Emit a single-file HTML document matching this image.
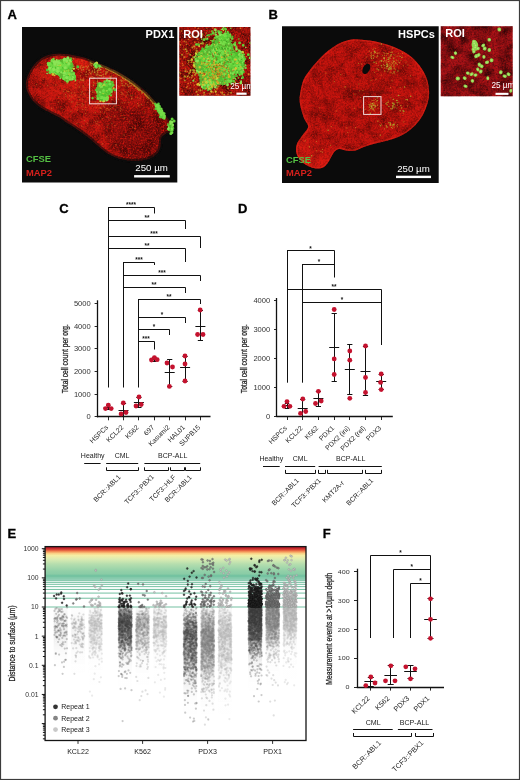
<!DOCTYPE html><html><head><meta charset="utf-8"><title>Figure</title><style>html,body{margin:0;padding:0;background:#fff}svg{display:block}text{font-family:"Liberation Sans",sans-serif}</style></head><body>
<svg width="520" height="780" viewBox="0 0 520 780">
<defs>
<filter id="nz" x="0" y="0" width="100%" height="100%" color-interpolation-filters="sRGB">
<feTurbulence type="fractalNoise" baseFrequency="0.55" numOctaves="2" seed="4"/>
<feColorMatrix type="matrix" values="0 0 0 0 0  0 0 0 0 0  0 0 0 0 0  1.8 0 0 0 -0.75"/>
<feGaussianBlur stdDeviation="0.35"/>
</filter>
<filter id="nz2" x="0" y="0" width="100%" height="100%" color-interpolation-filters="sRGB">
<feTurbulence type="fractalNoise" baseFrequency="0.09" numOctaves="2" seed="11"/>
<feColorMatrix type="matrix" values="0 0 0 0 0  0 0 0 0 0  0 0 0 0 0  0 2.6 0 0 -1.0"/>
</filter>
<filter id="nzr" x="0" y="0" width="100%" height="100%" color-interpolation-filters="sRGB">
<feTurbulence type="fractalNoise" baseFrequency="0.6" numOctaves="2" seed="9"/>
<feColorMatrix type="matrix" values="0 0 0 0 0.9  0 0 0 0 0.1  0 0 0 0 0.06  0 0 2.2 0 -0.95"/>
<feGaussianBlur stdDeviation="0.35"/>
</filter>
<filter id="rough" x="-20%" y="-20%" width="140%" height="140%">
<feTurbulence type="fractalNoise" baseFrequency="0.35" numOctaves="2" seed="2" result="t"/>
<feDisplacementMap in="SourceGraphic" in2="t" scale="3.2" xChannelSelector="R" yChannelSelector="G"/>
</filter>
<filter id="rough2" x="-20%" y="-20%" width="140%" height="140%">
<feTurbulence type="fractalNoise" baseFrequency="0.5" numOctaves="2" seed="5" result="t"/>
<feDisplacementMap in="SourceGraphic" in2="t" scale="5" xChannelSelector="R" yChannelSelector="G"/>
</filter>
<filter id="b0" x="-10%" y="-10%" width="120%" height="120%"><feGaussianBlur stdDeviation="0.3"/></filter>
<filter id="b1" x="-10%" y="-10%" width="120%" height="120%"><feGaussianBlur stdDeviation="0.6"/></filter>
<filter id="b2" x="-10%" y="-10%" width="120%" height="120%"><feGaussianBlur stdDeviation="2.5"/></filter>

<clipPath id="cA"><rect x="22" y="27" width="155.3" height="155.5"/></clipPath>
<clipPath id="cAr"><rect x="179.3" y="27" width="71.1" height="68.7"/></clipPath>
<clipPath id="cB"><rect x="282" y="26.3" width="156.7" height="156.8"/></clipPath>
<clipPath id="cBr"><rect x="440.8" y="26.3" width="71.9" height="69.9"/></clipPath>
<clipPath id="oA"><path d="M26.2,81.2C26.6,79.2 27.5,76.5 28.5,74.2C29.5,71.9 30.8,69.5 32.3,67.3C33.8,65.1 35.8,62.9 37.7,61.2C39.6,59.5 41.6,58.0 43.8,56.9C46.0,55.8 48.3,55.1 50.8,54.6C53.2,54.1 55.7,53.8 58.5,53.7C61.3,53.6 64.6,53.8 67.7,54.2C70.8,54.6 73.9,55.3 77.0,56.0C80.1,56.7 83.2,57.3 86.2,58.3C89.2,59.3 92.0,60.8 95.0,62.0C98.0,63.2 101.1,64.2 104.2,65.4C107.3,66.6 110.4,67.9 113.5,69.4C116.6,70.9 119.8,72.9 122.7,74.6C125.6,76.3 128.1,78.0 130.8,79.8C133.5,81.6 136.1,83.5 138.8,85.6C141.5,87.7 144.8,90.4 147.0,92.5C149.2,94.6 150.4,96.2 152.0,98.0C153.6,99.8 155.0,101.2 156.6,103.0C158.2,104.8 160.4,107.0 161.8,109.0C163.2,111.0 164.0,113.1 165.3,115.0C166.6,116.9 168.3,118.7 169.6,120.3C170.9,121.9 172.3,123.1 173.0,124.6C173.7,126.0 174.3,127.7 174.0,129.0C173.7,130.3 172.3,131.8 171.3,132.4C170.3,133.0 169.0,132.2 167.9,132.6C166.8,132.9 165.7,133.7 164.6,134.5C163.5,135.3 162.1,136.1 161.5,137.3C160.9,138.6 161.1,140.2 160.8,142.0C160.6,143.8 160.6,146.1 160.0,148.0C159.4,149.9 158.3,151.9 157.0,153.5C155.7,155.1 154.1,156.3 152.3,157.3C150.5,158.3 148.3,159.0 146.0,159.6C143.7,160.2 141.0,160.5 138.5,160.7C136.0,160.9 133.4,160.9 130.8,160.7C128.2,160.5 125.6,160.2 123.0,159.6C120.4,159.0 118.0,158.3 115.4,157.3C112.9,156.3 110.3,155.1 107.7,153.5C105.1,151.9 103.0,149.9 100.0,147.5C97.0,145.1 93.3,141.5 90.0,138.8C86.7,136.1 82.7,133.2 80.0,131.2C77.3,129.2 76.1,128.5 73.8,127.0C71.5,125.5 68.5,123.8 66.2,122.3C63.9,120.8 62.6,119.2 60.0,117.7C57.4,116.2 54.1,114.8 50.8,113.0C47.5,111.2 43.1,109.2 40.0,107.0C36.9,104.8 34.3,102.5 32.3,100.0C30.2,97.5 28.8,94.6 27.7,92.3C26.6,90.0 26.2,87.8 26.0,86.0C25.8,84.2 25.8,83.2 26.2,81.2Z"/></clipPath>
<clipPath id="oB"><path d="M300.8,90.0C301.5,86.5 302.3,82.5 303.8,79.2C305.3,75.9 307.7,73.1 310.0,70.0C312.3,66.9 315.1,63.6 317.7,60.8C320.3,58.0 322.6,55.4 325.4,53.0C328.2,50.6 331.5,48.1 334.6,46.2C337.7,44.3 340.5,42.7 343.8,41.5C347.1,40.3 350.4,39.4 354.6,39.2C358.9,39.1 364.8,40.0 369.3,40.6C373.8,41.2 377.5,41.9 381.6,43.0C385.7,44.1 390.1,45.5 394.0,47.0C397.9,48.5 401.4,50.3 404.7,52.3C408.0,54.3 411.2,56.5 414.0,59.2C416.8,61.9 419.4,65.2 421.6,68.5C423.8,71.8 425.8,75.6 427.0,79.2C428.2,82.8 428.7,87.0 429.0,90.0C429.3,93.0 429.1,94.5 428.8,97.0C428.5,99.5 428.1,101.9 427.0,105.0C425.9,108.1 424.3,112.5 422.4,115.8C420.5,119.1 418.2,122.2 415.5,125.0C412.8,127.8 409.5,130.5 406.2,132.7C402.9,134.9 399.1,136.6 395.5,138.0C391.9,139.4 388.6,140.2 384.7,141.2C380.8,142.2 376.0,143.2 372.4,144.2C368.8,145.2 366.2,146.2 363.2,147.3C360.2,148.4 357.0,150.3 354.2,150.8C351.4,151.3 349.0,150.7 346.5,150.4C344.0,150.1 341.2,148.7 339.2,148.9C337.2,149.1 336.0,150.1 334.6,151.5C333.2,152.9 332.1,155.4 331.0,157.3C329.9,159.2 329.0,161.3 327.7,163.0C326.4,164.7 324.9,166.6 323.0,167.5C321.1,168.4 318.3,168.7 316.0,168.5C313.7,168.3 311.3,167.6 309.0,166.5C306.7,165.4 303.9,163.8 302.0,162.0C300.1,160.2 298.5,158.1 297.5,156.0C296.5,153.9 296.0,151.5 296.0,149.2C296.0,146.9 296.6,144.6 297.7,142.3C298.8,140.0 300.8,137.5 302.3,135.4C303.9,133.3 306.1,131.2 307.0,129.6C307.9,127.9 308.5,127.3 308.0,125.5C307.5,123.7 305.3,121.2 304.2,118.5C303.1,115.8 302.0,112.3 301.2,109.2C300.4,106.1 299.7,103.2 299.6,100.0C299.5,96.8 300.1,93.5 300.8,90.0Z"/></clipPath>
<radialGradient id="gA" cx="80" cy="95" r="95" gradientUnits="userSpaceOnUse"><stop offset="0" stop-color="#d01a12"/><stop offset="0.55" stop-color="#bc1610"/><stop offset="1" stop-color="#8c100c"/></radialGradient>
<radialGradient id="gB" cx="362" cy="98" r="78" gradientUnits="userSpaceOnUse"><stop offset="0" stop-color="#b6120d"/><stop offset="0.8" stop-color="#c2140f"/><stop offset="1" stop-color="#dc1c13"/></radialGradient>
<linearGradient id="gE" x1="0" y1="546.5" x2="0" y2="580" gradientUnits="userSpaceOnUse"><stop offset="0.000" stop-color="#a81828"/><stop offset="0.045" stop-color="#c0202a"/><stop offset="0.104" stop-color="#e0523a"/><stop offset="0.158" stop-color="#f59a5c"/><stop offset="0.212" stop-color="#fad488"/><stop offset="0.269" stop-color="#f5efa5"/><stop offset="0.373" stop-color="#dcecb2"/><stop offset="0.522" stop-color="#b6deae"/><stop offset="0.731" stop-color="#92d0a8"/><stop offset="1.000" stop-color="#78c4a2"/></linearGradient>

</defs>
<rect width="520" height="780" fill="#fff"/>
<rect x="0.5" y="0.5" width="519" height="779" fill="none" stroke="#3c3c3c" stroke-width="1.2"/>
<text x="7.6" y="18.8" font-size="13" font-weight="bold" fill="#000" stroke="#000" stroke-width="0.3">A</text>
<text x="268.6" y="18.8" font-size="13" font-weight="bold" fill="#000" stroke="#000" stroke-width="0.3">B</text>
<text x="59.2" y="213.2" font-size="13" font-weight="bold" fill="#000" stroke="#000" stroke-width="0.3">C</text>
<text x="238.0" y="213.2" font-size="13" font-weight="bold" fill="#000" stroke="#000" stroke-width="0.3">D</text>
<text x="7.4" y="538.2" font-size="13" font-weight="bold" fill="#000" stroke="#000" stroke-width="0.3">E</text>
<text x="322.8" y="538.2" font-size="13" font-weight="bold" fill="#000" stroke="#000" stroke-width="0.3">F</text>
<g clip-path="url(#cA)">
<rect x="22" y="27" width="156" height="156" fill="#0b0b0b"/>
<path d="M26.2,81.2C26.6,79.2 27.5,76.5 28.5,74.2C29.5,71.9 30.8,69.5 32.3,67.3C33.8,65.1 35.8,62.9 37.7,61.2C39.6,59.5 41.6,58.0 43.8,56.9C46.0,55.8 48.3,55.1 50.8,54.6C53.2,54.1 55.7,53.8 58.5,53.7C61.3,53.6 64.6,53.8 67.7,54.2C70.8,54.6 73.9,55.3 77.0,56.0C80.1,56.7 83.2,57.3 86.2,58.3C89.2,59.3 92.0,60.8 95.0,62.0C98.0,63.2 101.1,64.2 104.2,65.4C107.3,66.6 110.4,67.9 113.5,69.4C116.6,70.9 119.8,72.9 122.7,74.6C125.6,76.3 128.1,78.0 130.8,79.8C133.5,81.6 136.1,83.5 138.8,85.6C141.5,87.7 144.8,90.4 147.0,92.5C149.2,94.6 150.4,96.2 152.0,98.0C153.6,99.8 155.0,101.2 156.6,103.0C158.2,104.8 160.4,107.0 161.8,109.0C163.2,111.0 164.0,113.1 165.3,115.0C166.6,116.9 168.3,118.7 169.6,120.3C170.9,121.9 172.3,123.1 173.0,124.6C173.7,126.0 174.3,127.7 174.0,129.0C173.7,130.3 172.3,131.8 171.3,132.4C170.3,133.0 169.0,132.2 167.9,132.6C166.8,132.9 165.7,133.7 164.6,134.5C163.5,135.3 162.1,136.1 161.5,137.3C160.9,138.6 161.1,140.2 160.8,142.0C160.6,143.8 160.6,146.1 160.0,148.0C159.4,149.9 158.3,151.9 157.0,153.5C155.7,155.1 154.1,156.3 152.3,157.3C150.5,158.3 148.3,159.0 146.0,159.6C143.7,160.2 141.0,160.5 138.5,160.7C136.0,160.9 133.4,160.9 130.8,160.7C128.2,160.5 125.6,160.2 123.0,159.6C120.4,159.0 118.0,158.3 115.4,157.3C112.9,156.3 110.3,155.1 107.7,153.5C105.1,151.9 103.0,149.9 100.0,147.5C97.0,145.1 93.3,141.5 90.0,138.8C86.7,136.1 82.7,133.2 80.0,131.2C77.3,129.2 76.1,128.5 73.8,127.0C71.5,125.5 68.5,123.8 66.2,122.3C63.9,120.8 62.6,119.2 60.0,117.7C57.4,116.2 54.1,114.8 50.8,113.0C47.5,111.2 43.1,109.2 40.0,107.0C36.9,104.8 34.3,102.5 32.3,100.0C30.2,97.5 28.8,94.6 27.7,92.3C26.6,90.0 26.2,87.8 26.0,86.0C25.8,84.2 25.8,83.2 26.2,81.2Z" fill="url(#gA)"/>
<g clip-path="url(#oA)">
<ellipse cx="135" cy="134" rx="34" ry="24" fill="#700d09" opacity="0.6" filter="url(#b2)" transform="rotate(35 135 132)"/>
<ellipse cx="60" cy="80" rx="30" ry="14" fill="#e02a18" opacity="0.35" filter="url(#b2)" transform="rotate(35 60 80)"/>
<ellipse cx="84" cy="63" rx="9" ry="4" fill="#f42a12" opacity="0.6" filter="url(#b1)" transform="rotate(14 84 63)"/>
<rect x="22" y="27" width="156" height="156" fill="#300" filter="url(#nz2)" opacity="0.4"/>
<rect x="22" y="27" width="156" height="156" fill="#000" filter="url(#nz)" opacity="0.42"/>
<rect x="22" y="27" width="156" height="156" filter="url(#nzr)" opacity="0.9"/>
<path d="M90,62 C104,66 118,72.5 131,82 C144,92 152,100 158,107" fill="none" stroke="#c4b02a" stroke-width="3" opacity="0.6" filter="url(#rough)"/>
<path d="M122.0,115.6h0M75.8,87.7h0M92.8,91.7h0M110.3,95.7h0M106.2,82.9h0M56.0,57.1h0M43.4,125.1h0M113.5,79.2h0M116.5,103.6h0M114.5,115.9h0M77.2,110.1h0M116.4,97.0h0M79.7,99.6h0M79.0,96.9h0M93.9,77.8h0M47.6,85.6h0M82.8,146.4h0M61.9,108.6h0M92.7,92.4h0M103.1,66.0h0M84.4,120.4h0M74.8,81.4h0M127.7,84.3h0M137.5,103.6h0M148.3,90.4h0M70.9,111.5h0M84.7,94.9h0M141.4,104.4h0M100.4,111.9h0M124.8,102.6h0M135.8,67.3h0M95.2,112.4h0M148.8,58.5h0M108.4,105.0h0M65.5,94.5h0M127.1,92.5h0M41.2,72.0h0M64.1,89.3h0M152.6,106.3h0M132.8,66.6h0M90.2,97.5h0M109.0,94.8h0M112.4,107.5h0M114.9,92.0h0M96.1,95.4h0M88.9,84.5h0M85.8,107.6h0M147.8,40.7h0M89.0,92.9h0M88.8,105.1h0M103.0,95.7h0M85.6,90.0h0M131.4,96.1h0M126.2,68.6h0M89.5,101.0h0M55.8,84.9h0M108.0,128.0h0M128.3,63.0h0M98.8,77.7h0M96.1,95.8h0M96.3,107.2h0M127.3,86.1h0M164.6,88.3h0M103.4,106.1h0M110.3,118.8h0M116.0,72.7h0M103.4,84.0h0M138.3,73.2h0M83.8,93.7h0M76.9,123.2h0M79.1,104.3h0M97.5,79.9h0M132.8,127.3h0M129.5,121.7h0M86.7,76.5h0M103.0,94.5h0M81.3,72.2h0M51.8,108.4h0M104.8,106.8h0M102.1,118.5h0M88.0,97.2h0M82.5,109.6h0M122.4,80.2h0M68.0,91.7h0M127.8,94.5h0M146.6,92.9h0M58.8,97.3h0M85.6,113.5h0M102.6,82.7h0M100.2,108.1h0M66.6,90.8h0M124.0,80.7h0M68.9,91.2h0M69.3,99.3h0M137.6,80.9h0M118.8,86.5h0M146.6,78.6h0M120.3,107.0h0M100.6,99.8h0M111.7,50.3h0M91.9,63.3h0M150.4,56.8h0M125.0,86.1h0M149.0,89.6h0M71.5,102.0h0M107.6,108.5h0M132.8,95.1h0M123.2,94.0h0M90.5,91.4h0M116.6,40.1h0M99.3,97.7h0M98.2,102.4h0M140.8,72.5h0M134.5,128.2h0M96.5,83.8h0M89.6,72.5h0M134.2,81.3h0M144.3,111.8h0M118.6,75.3h0M43.8,77.0h0M121.9,109.8h0M111.9,99.5h0M106.7,108.5h0M101.3,75.5h0M110.5,108.6h0M100.0,95.5h0M84.0,87.9h0M111.3,88.2h0M72.3,101.7h0M75.8,106.8h0" stroke="#d09a2c" stroke-width="1.10" stroke-linecap="round" fill="none" opacity="0.55"/><path d="M123.7,90.0h0M90.1,64.6h0M95.0,97.5h0M138.6,106.1h0M105.7,99.2h0M126.6,70.3h0M101.1,108.6h0M115.5,110.2h0M167.7,79.2h0M102.4,143.9h0M99.3,92.7h0M69.7,95.8h0M97.4,91.9h0M122.2,102.8h0M121.9,94.4h0M72.6,79.4h0M77.4,65.5h0M82.2,103.4h0M124.6,117.9h0M147.5,102.3h0M70.5,68.7h0M120.3,110.7h0M123.9,60.9h0M52.5,70.7h0M93.4,78.4h0M116.5,106.0h0M117.1,70.1h0M72.4,70.5h0M146.5,92.7h0M67.8,91.5h0M138.9,105.2h0M118.2,99.1h0M111.8,123.5h0M74.5,92.7h0M82.0,60.8h0M93.5,85.7h0M98.9,125.0h0M96.2,90.7h0M95.4,121.7h0M90.3,77.2h0M71.6,96.9h0M113.6,83.7h0M104.5,90.5h0M129.0,44.5h0M97.9,105.6h0M108.4,117.6h0M36.5,84.6h0M113.2,70.4h0M94.5,78.1h0M94.2,92.4h0M71.6,93.1h0M115.1,106.2h0M100.8,91.0h0M107.0,83.4h0M87.1,50.1h0M82.0,106.4h0M79.2,81.9h0M98.7,98.2h0M110.8,77.9h0M100.1,107.7h0M109.3,110.0h0M135.5,67.7h0M152.9,67.4h0M98.4,85.7h0M58.6,102.2h0M98.1,98.2h0M120.5,108.2h0M87.4,123.3h0M97.6,121.2h0M75.6,84.9h0M109.4,103.6h0M81.7,92.3h0M128.4,91.5h0M104.0,100.2h0M116.2,100.0h0M50.8,74.3h0M77.1,102.8h0M83.1,104.7h0M88.3,143.6h0M63.4,91.4h0M104.4,107.5h0M77.2,104.8h0M130.7,58.9h0M140.0,98.3h0M65.9,96.4h0M53.8,120.8h0M142.8,49.8h0M111.7,99.3h0M74.4,48.6h0M73.4,64.8h0M93.0,90.2h0M106.4,136.7h0M95.5,101.9h0M73.6,68.6h0M128.7,102.4h0M85.9,101.2h0M122.0,93.1h0M136.2,84.7h0M81.2,94.3h0M139.4,84.3h0M130.3,95.2h0M82.4,99.4h0M116.6,85.5h0M85.7,109.8h0M114.9,125.8h0M82.4,91.6h0M81.8,126.3h0M107.8,125.3h0M129.0,85.0h0M104.5,112.5h0M113.9,88.4h0M116.2,144.6h0M108.7,94.3h0M143.3,67.2h0M160.2,91.3h0M124.0,135.1h0M137.7,97.9h0M83.6,104.8h0M121.1,92.3h0M112.8,89.2h0M106.5,110.1h0M112.1,72.9h0M75.2,95.2h0M108.7,109.8h0M126.3,95.9h0M100.8,86.3h0M154.0,109.2h0M99.1,49.2h0M90.9,141.8h0M96.8,123.7h0" stroke="#c87828" stroke-width="1.60" stroke-linecap="round" fill="none" opacity="0.45"/>
<path d="M91.9,72.5h0M134.7,75.0h0M128.7,80.8h0M115.9,68.0h0M91.9,78.4h0M97.7,70.3h0M118.4,67.0h0M111.6,76.1h0M80.7,80.0h0M97.4,81.5h0M94.4,72.6h0M79.2,86.9h0M129.4,79.6h0M101.7,76.0h0M111.7,81.7h0M81.1,65.8h0M130.1,71.5h0M96.5,67.8h0M80.6,79.0h0M92.1,76.5h0M101.8,66.8h0M67.2,83.4h0M94.1,82.8h0M125.6,79.8h0M100.1,61.6h0M129.7,81.5h0M102.0,87.0h0M100.7,69.5h0M111.2,81.7h0M125.3,78.9h0M86.9,69.1h0M96.3,75.1h0M80.2,66.9h0M100.9,72.4h0M124.1,85.6h0M95.5,64.7h0M100.1,75.6h0M89.2,70.0h0M88.5,66.2h0M83.2,85.9h0M83.4,69.7h0M114.2,56.8h0M97.3,81.2h0M113.5,72.5h0M96.4,66.5h0M113.1,81.0h0M78.4,69.3h0M134.2,85.2h0M86.4,71.9h0M69.4,70.2h0M74.0,72.6h0M122.0,83.4h0M133.6,78.8h0M100.9,69.3h0M103.7,71.0h0M93.6,67.9h0M102.7,62.7h0M94.0,77.9h0M88.2,74.1h0M88.6,59.4h0M76.4,68.1h0M94.6,69.4h0M78.6,69.4h0M80.4,75.8h0M86.1,66.5h0M105.7,73.2h0M93.6,82.1h0M112.7,81.1h0M96.1,74.0h0M101.1,75.5h0" stroke="#c9c032" stroke-width="1.20" stroke-linecap="round" fill="none" opacity="0.60"/><path d="M105.8,74.2h0M90.2,61.7h0M103.2,74.4h0M97.2,71.0h0M139.5,79.7h0M131.8,98.6h0M113.4,68.4h0M97.5,58.5h0M82.0,80.1h0M98.4,69.1h0M128.8,86.5h0M122.4,85.3h0M90.8,73.5h0M104.4,83.9h0M125.8,77.4h0M131.1,85.7h0M104.5,91.0h0M73.9,66.0h0M106.1,71.6h0M94.3,67.5h0M110.0,76.9h0M113.0,81.5h0M141.2,83.9h0M73.6,58.8h0M87.5,67.5h0M97.6,72.7h0M106.9,83.5h0M125.8,83.7h0M120.9,80.1h0M99.4,75.5h0M80.5,68.0h0M83.9,67.2h0M98.9,70.3h0M103.8,76.8h0M122.4,73.0h0M106.4,72.6h0M83.5,79.0h0M107.0,68.2h0M94.5,71.0h0M85.9,74.5h0M92.3,71.1h0M97.2,70.8h0M82.7,67.5h0M122.9,76.0h0M91.0,73.8h0M123.9,69.1h0M101.2,63.8h0M91.4,65.4h0M97.7,74.7h0M83.5,80.6h0M130.7,70.9h0M81.9,69.9h0M110.7,79.2h0M128.2,78.9h0M129.3,80.5h0M91.1,57.6h0M108.5,92.8h0M93.5,85.1h0M113.8,70.3h0M97.5,82.6h0M128.0,74.1h0M110.7,77.4h0M89.1,70.3h0M121.7,81.3h0M100.3,69.6h0M94.9,72.3h0M107.6,71.9h0M134.7,83.8h0M99.6,61.9h0M142.1,85.7h0" stroke="#d0a030" stroke-width="1.70" stroke-linecap="round" fill="none" opacity="0.55"/>
</g>
<path d="M26.2,81.2C26.6,79.2 27.5,76.5 28.5,74.2C29.5,71.9 30.8,69.5 32.3,67.3C33.8,65.1 35.8,62.9 37.7,61.2C39.6,59.5 41.6,58.0 43.8,56.9C46.0,55.8 48.3,55.1 50.8,54.6C53.2,54.1 55.7,53.8 58.5,53.7C61.3,53.6 64.6,53.8 67.7,54.2C70.8,54.6 73.9,55.3 77.0,56.0C80.1,56.7 83.2,57.3 86.2,58.3C89.2,59.3 92.0,60.8 95.0,62.0C98.0,63.2 101.1,64.2 104.2,65.4C107.3,66.6 110.4,67.9 113.5,69.4C116.6,70.9 119.8,72.9 122.7,74.6C125.6,76.3 128.1,78.0 130.8,79.8C133.5,81.6 136.1,83.5 138.8,85.6C141.5,87.7 144.8,90.4 147.0,92.5C149.2,94.6 150.4,96.2 152.0,98.0C153.6,99.8 155.0,101.2 156.6,103.0C158.2,104.8 160.4,107.0 161.8,109.0C163.2,111.0 164.0,113.1 165.3,115.0C166.6,116.9 168.3,118.7 169.6,120.3C170.9,121.9 172.3,123.1 173.0,124.6C173.7,126.0 174.3,127.7 174.0,129.0C173.7,130.3 172.3,131.8 171.3,132.4C170.3,133.0 169.0,132.2 167.9,132.6C166.8,132.9 165.7,133.7 164.6,134.5C163.5,135.3 162.1,136.1 161.5,137.3C160.9,138.6 161.1,140.2 160.8,142.0C160.6,143.8 160.6,146.1 160.0,148.0C159.4,149.9 158.3,151.9 157.0,153.5C155.7,155.1 154.1,156.3 152.3,157.3C150.5,158.3 148.3,159.0 146.0,159.6C143.7,160.2 141.0,160.5 138.5,160.7C136.0,160.9 133.4,160.9 130.8,160.7C128.2,160.5 125.6,160.2 123.0,159.6C120.4,159.0 118.0,158.3 115.4,157.3C112.9,156.3 110.3,155.1 107.7,153.5C105.1,151.9 103.0,149.9 100.0,147.5C97.0,145.1 93.3,141.5 90.0,138.8C86.7,136.1 82.7,133.2 80.0,131.2C77.3,129.2 76.1,128.5 73.8,127.0C71.5,125.5 68.5,123.8 66.2,122.3C63.9,120.8 62.6,119.2 60.0,117.7C57.4,116.2 54.1,114.8 50.8,113.0C47.5,111.2 43.1,109.2 40.0,107.0C36.9,104.8 34.3,102.5 32.3,100.0C30.2,97.5 28.8,94.6 27.7,92.3C26.6,90.0 26.2,87.8 26.0,86.0C25.8,84.2 25.8,83.2 26.2,81.2Z" fill="none" stroke="#0b0b0b" stroke-width="4" opacity="0.6" filter="url(#b1)"/>
<g filter="url(#b0)">
<g filter="url(#rough)" opacity="0.9">
<path d="M48,67 C47,62 52,60 57,61 C61,58 68,58 71,61 C74,63 74,67 72,70 C76,73 77,77 74,80 C70,82 64,81 61,78 C58,77 57,75 56,73 C51,74 48,71 48,67Z" fill="#58c836"/>
<path d="M97,85 C99,81 103,82 105,84 C108,81 112,83 112,87 C114,91 111,95 108,96 C106,100 101,100 99,97 C96,95 95,89 97,85Z" fill="#58c836"/>
<path d="M155,102.5 C159,105 163,110 166,117 C166,119 164,120 162,118 C159,114 156,109 154.5,105 C154,103.5 154.5,102.5 155,102.5Z" fill="#5ccc3a"/><ellipse cx="170.6" cy="126.5" rx="2.6" ry="5" fill="#5ccc3a"/>
</g>
<path d="M52.4,60.0h0M70.4,61.1h0" stroke="#c8d23a" stroke-width="3.00" stroke-linecap="round" fill="none" opacity="1.00"/><path d="M68.6,76.0h0M56.0,66.8h0" stroke="#d8c030" stroke-width="2.30" stroke-linecap="round" fill="none" opacity="1.00"/><path d="M52.4,60.1h0M57.8,67.6h0M63.0,76.4h0M67.1,71.0h0M54.9,63.9h0M62.3,59.8h0M52.9,64.9h0M65.3,59.7h0M54.9,64.2h0M68.3,66.4h0M67.8,71.6h0M73.6,76.7h0" stroke="#4fc02f" stroke-width="2.30" stroke-linecap="round" fill="none" opacity="1.00"/><path d="M67.8,75.1h0M77.8,66.7h0M66.2,68.6h0M53.4,69.3h0M55.7,69.4h0M67.8,75.3h0M65.6,75.6h0M70.8,58.8h0M65.9,59.7h0M66.2,60.1h0M60.2,68.7h0M61.1,62.7h0M47.4,70.0h0M56.7,72.9h0M51.8,68.0h0M66.7,76.1h0M62.2,67.4h0M74.2,77.4h0M59.4,64.7h0M52.7,63.3h0M60.0,66.3h0M70.8,66.5h0" stroke="#4fc02f" stroke-width="3.00" stroke-linecap="round" fill="none" opacity="1.00"/><path d="M66.2,64.4h0M59.3,68.5h0M67.4,67.8h0M73.6,78.2h0M56.5,66.0h0M66.2,61.1h0M57.9,67.1h0M49.9,72.4h0M54.9,68.9h0M54.2,61.7h0M68.2,77.4h0M56.4,63.9h0M71.1,73.9h0M57.3,65.3h0M53.8,67.5h0M69.9,60.2h0M64.0,69.8h0M67.7,59.6h0M58.6,73.9h0M59.9,64.8h0M67.6,70.9h0M54.0,66.5h0M67.7,58.7h0M48.5,63.3h0M59.0,61.9h0M74.6,77.1h0M64.1,78.3h0M69.7,68.0h0" stroke="#60d038" stroke-width="3.00" stroke-linecap="round" fill="none" opacity="1.00"/><path d="M73.0,76.7h0M56.7,59.9h0M66.9,73.1h0M56.0,74.1h0M65.4,66.5h0M65.3,77.6h0M57.7,68.4h0M75.5,80.4h0M47.1,73.5h0M67.6,78.3h0M60.2,78.4h0M64.2,67.3h0M63.1,73.6h0M61.4,71.3h0M72.1,76.9h0M69.0,73.6h0M52.4,70.7h0M65.4,71.3h0M65.3,75.4h0M53.4,70.2h0M61.6,70.4h0M68.9,78.3h0M62.3,70.3h0M66.9,77.0h0M73.4,77.3h0M63.9,70.3h0M55.1,73.0h0" stroke="#8ae456" stroke-width="1.60" stroke-linecap="round" fill="none" opacity="1.00"/><path d="M69.9,73.6h0M64.9,72.9h0M63.6,67.6h0M67.4,59.3h0M59.0,64.2h0M59.5,66.6h0M68.7,59.5h0M75.4,79.4h0M66.3,70.5h0M65.9,77.4h0M50.3,66.5h0M70.5,77.8h0M67.0,65.5h0M52.7,73.4h0M65.8,71.9h0M69.7,59.7h0M52.2,70.2h0M52.0,66.2h0M55.7,70.0h0" stroke="#60d038" stroke-width="1.60" stroke-linecap="round" fill="none" opacity="1.00"/><path d="M55.6,65.1h0M56.2,66.3h0M60.7,67.0h0M53.9,62.5h0M54.7,75.5h0M60.1,64.3h0M66.8,62.1h0M59.6,70.4h0" stroke="#d8c030" stroke-width="1.60" stroke-linecap="round" fill="none" opacity="1.00"/><path d="M67.8,70.8h0M54.8,69.1h0M54.6,61.9h0M53.0,74.3h0" stroke="#d8c030" stroke-width="3.00" stroke-linecap="round" fill="none" opacity="1.00"/><path d="M63.7,63.8h0M63.2,65.7h0M67.3,68.3h0M66.0,59.2h0M62.4,65.8h0M66.4,68.5h0M67.7,70.8h0M58.3,67.6h0M68.6,60.2h0M66.8,76.3h0M67.6,73.7h0M54.3,67.6h0M60.4,62.8h0M69.1,73.2h0M47.9,63.5h0M71.2,74.7h0M61.5,72.1h0M55.2,69.1h0M49.9,63.5h0M64.4,67.4h0M50.3,66.5h0" stroke="#74dc46" stroke-width="2.30" stroke-linecap="round" fill="none" opacity="1.00"/><path d="M53.2,63.5h0M59.0,65.6h0" stroke="#c8d23a" stroke-width="1.60" stroke-linecap="round" fill="none" opacity="1.00"/><path d="M61.7,64.1h0M59.6,67.6h0M67.7,72.3h0M50.0,67.2h0M61.3,68.7h0M64.6,61.8h0M69.0,66.0h0M50.3,64.4h0M50.2,65.6h0M65.7,59.1h0M74.9,76.2h0M61.0,70.4h0M68.7,59.8h0M62.3,72.0h0M70.5,77.2h0M63.4,70.2h0M53.7,59.0h0M54.7,66.0h0M70.7,78.5h0M61.9,69.5h0M70.4,64.3h0M55.5,67.0h0" stroke="#60d038" stroke-width="2.30" stroke-linecap="round" fill="none" opacity="1.00"/><path d="M72.3,79.2h0M63.9,75.7h0M56.6,69.8h0M53.3,64.8h0M48.4,65.0h0M52.6,63.9h0M64.3,61.6h0M69.8,79.2h0M70.0,60.4h0M66.5,60.5h0M58.9,70.9h0M57.9,62.0h0M56.6,60.5h0M53.7,68.1h0M55.9,69.7h0M71.9,70.9h0M63.6,64.0h0M50.5,70.0h0M71.1,60.8h0M51.9,67.4h0M57.5,65.1h0M52.6,65.9h0M52.5,64.6h0M66.0,74.7h0M61.3,72.3h0" stroke="#8ae456" stroke-width="2.30" stroke-linecap="round" fill="none" opacity="1.00"/><path d="M55.8,67.0h0M51.8,60.7h0M69.8,77.6h0M67.6,78.1h0M65.3,65.3h0M60.5,67.2h0M52.1,71.7h0M67.4,81.3h0M54.5,72.1h0M58.9,70.1h0M58.7,61.0h0M57.4,71.9h0M49.6,69.1h0M68.2,65.1h0M49.0,64.5h0M58.5,68.4h0M73.6,73.9h0M63.6,78.5h0M52.5,70.4h0M67.6,72.9h0M64.4,61.7h0M62.4,64.4h0M53.8,66.2h0M50.7,70.3h0M54.6,67.7h0M66.4,66.1h0M55.9,71.0h0M50.0,63.8h0" stroke="#74dc46" stroke-width="3.00" stroke-linecap="round" fill="none" opacity="1.00"/><path d="M73.9,68.8h0M69.5,74.3h0M60.3,64.8h0M55.3,63.4h0M64.2,71.7h0" stroke="#c8d23a" stroke-width="2.30" stroke-linecap="round" fill="none" opacity="1.00"/><path d="M52.9,67.6h0M64.6,58.5h0M71.8,60.5h0M57.6,70.3h0M54.4,72.4h0M55.5,67.5h0M68.3,76.0h0M52.3,63.9h0M63.0,71.5h0M56.0,72.4h0M50.7,67.1h0M54.4,60.9h0M67.1,69.2h0M68.7,68.4h0M53.1,64.3h0M55.5,67.9h0M63.0,63.5h0M52.6,65.8h0M54.1,68.4h0M62.8,63.4h0M59.8,64.4h0M66.1,75.6h0M66.8,77.0h0M67.6,61.1h0" stroke="#4fc02f" stroke-width="1.60" stroke-linecap="round" fill="none" opacity="1.00"/><path d="M64.8,60.0h0M54.3,72.5h0M59.0,63.3h0M54.0,66.9h0M72.2,68.3h0M61.8,63.4h0M66.1,77.0h0M65.9,75.3h0M70.1,74.6h0M58.7,64.2h0M65.7,74.5h0M48.0,65.1h0M48.7,69.2h0M53.4,69.8h0M69.1,63.3h0M55.3,61.5h0M60.7,68.2h0M67.3,77.1h0M54.1,67.6h0M68.1,59.7h0M69.9,73.1h0M66.3,65.7h0M68.1,72.8h0M53.3,65.0h0M52.9,65.4h0M51.1,64.9h0M65.1,59.7h0M63.7,66.1h0M68.7,76.7h0M53.5,59.1h0" stroke="#74dc46" stroke-width="1.60" stroke-linecap="round" fill="none" opacity="1.00"/><path d="M64.5,73.0h0M49.9,68.0h0M58.1,62.5h0M64.2,59.7h0M59.4,63.3h0M57.9,68.2h0M66.6,77.4h0M66.9,61.0h0M54.1,61.7h0M53.6,69.4h0M68.8,63.4h0M56.7,62.0h0M54.9,64.2h0M65.3,67.8h0M57.5,71.2h0M53.6,68.9h0M67.9,57.7h0M64.5,59.0h0M54.6,61.8h0" stroke="#8ae456" stroke-width="3.00" stroke-linecap="round" fill="none" opacity="1.00"/>
<path d="M110.2,88.6h0M99.7,85.5h0M106.8,91.1h0M103.5,99.0h0" stroke="#c8d23a" stroke-width="2.30" stroke-linecap="round" fill="none" opacity="1.00"/><path d="M104.0,96.4h0M109.4,87.1h0M107.9,85.5h0M101.2,100.0h0M102.6,98.5h0M99.3,99.5h0M110.6,90.9h0M102.9,96.1h0M103.3,93.8h0M107.0,90.2h0M107.2,85.3h0M110.8,91.9h0" stroke="#74dc46" stroke-width="1.60" stroke-linecap="round" fill="none" opacity="1.00"/><path d="M107.2,94.4h0M107.6,89.0h0" stroke="#c8d23a" stroke-width="1.60" stroke-linecap="round" fill="none" opacity="1.00"/><path d="M103.7,91.8h0M108.5,93.9h0M108.2,97.3h0M108.0,84.9h0M100.8,87.2h0M110.6,85.3h0M107.1,97.1h0M107.5,91.9h0M107.8,92.0h0M103.7,98.3h0M108.2,89.7h0M103.9,87.4h0" stroke="#74dc46" stroke-width="2.30" stroke-linecap="round" fill="none" opacity="1.00"/><path d="M109.1,86.1h0M105.9,98.2h0M102.4,86.7h0M108.1,90.3h0" stroke="#8ae456" stroke-width="2.30" stroke-linecap="round" fill="none" opacity="1.00"/><path d="M105.7,86.6h0M109.5,81.3h0M100.8,97.9h0M110.4,85.9h0M104.4,84.8h0M108.9,89.3h0M107.1,99.4h0M107.1,80.4h0M100.8,95.2h0" stroke="#8ae456" stroke-width="3.00" stroke-linecap="round" fill="none" opacity="1.00"/><path d="M103.8,97.3h0M104.2,92.6h0M103.1,91.1h0M103.7,98.2h0M111.1,88.7h0M92.6,98.2h0M99.8,95.8h0M103.9,94.3h0M107.4,81.7h0M103.2,100.6h0M111.0,95.4h0" stroke="#60d038" stroke-width="2.30" stroke-linecap="round" fill="none" opacity="1.00"/><path d="M104.7,101.3h0M100.6,92.2h0M99.8,92.1h0M106.5,100.8h0M99.1,82.7h0M104.7,86.1h0M102.7,99.5h0M112.0,91.9h0M105.4,94.8h0M97.0,91.9h0M102.7,95.1h0" stroke="#8ae456" stroke-width="1.60" stroke-linecap="round" fill="none" opacity="1.00"/><path d="M110.1,93.0h0M103.9,85.2h0M102.8,93.9h0M104.1,94.2h0M104.7,96.1h0M105.5,98.6h0M106.8,93.3h0M104.7,94.5h0M102.2,100.5h0M102.0,91.2h0M102.3,96.7h0M106.4,92.4h0M111.0,88.6h0M109.0,90.1h0M104.7,95.0h0M104.6,95.3h0M103.0,90.4h0" stroke="#4fc02f" stroke-width="1.60" stroke-linecap="round" fill="none" opacity="1.00"/><path d="M104.5,100.3h0" stroke="#d8c030" stroke-width="1.60" stroke-linecap="round" fill="none" opacity="1.00"/><path d="M100.4,101.2h0M113.7,88.4h0M107.6,98.0h0M110.4,87.1h0" stroke="#d8c030" stroke-width="2.30" stroke-linecap="round" fill="none" opacity="1.00"/><path d="M107.0,84.6h0M109.6,86.5h0M103.0,91.4h0M104.7,81.7h0M110.3,84.7h0M113.1,84.9h0M104.3,99.0h0M106.0,86.5h0M111.9,86.0h0M111.4,90.1h0M102.9,94.7h0M113.0,85.1h0M105.3,94.4h0M109.5,89.1h0M110.1,89.7h0M104.0,90.6h0M101.3,94.2h0" stroke="#60d038" stroke-width="3.00" stroke-linecap="round" fill="none" opacity="1.00"/><path d="M103.9,85.7h0M103.3,94.4h0M103.6,100.9h0" stroke="#c8d23a" stroke-width="3.00" stroke-linecap="round" fill="none" opacity="1.00"/><path d="M102.9,95.5h0M108.0,93.9h0M109.0,85.8h0M99.9,99.6h0M109.7,87.8h0M103.6,91.1h0M110.6,87.1h0M104.1,90.0h0M102.1,99.8h0" stroke="#4fc02f" stroke-width="2.30" stroke-linecap="round" fill="none" opacity="1.00"/><path d="M109.5,87.0h0M108.5,83.3h0M111.7,83.1h0M108.9,91.6h0M104.8,95.0h0M108.3,88.8h0M114.9,89.7h0M109.2,91.0h0M97.8,96.2h0M104.1,86.9h0M106.1,88.2h0M111.7,82.2h0M102.0,95.6h0M110.7,85.2h0" stroke="#4fc02f" stroke-width="3.00" stroke-linecap="round" fill="none" opacity="1.00"/><path d="M112.9,82.5h0M97.2,96.0h0M108.5,89.0h0M102.0,96.9h0M100.6,97.5h0M108.1,84.3h0M108.5,89.5h0M103.0,92.7h0M98.3,85.6h0M105.4,99.1h0" stroke="#60d038" stroke-width="1.60" stroke-linecap="round" fill="none" opacity="1.00"/><path d="M104.2,98.0h0M107.4,98.4h0M97.8,98.6h0M100.5,84.3h0M104.2,99.2h0M101.9,97.3h0M105.1,98.7h0M109.6,89.2h0M103.5,90.5h0M110.0,84.1h0" stroke="#74dc46" stroke-width="3.00" stroke-linecap="round" fill="none" opacity="1.00"/>
<path d="M158.6,105.5h0M159.4,109.5h0M158.8,107.7h0M161.7,116.9h0M156.1,105.7h0M157.5,106.3h0M158.7,105.9h0M159.4,106.9h0M161.6,111.4h0M161.3,113.9h0M159.0,110.0h0M158.5,103.9h0M162.7,113.3h0M163.6,117.0h0M161.4,112.0h0M159.3,107.6h0M158.2,108.0h0M161.9,111.7h0M164.3,113.5h0M156.9,107.7h0M160.2,117.0h0M161.6,114.6h0M159.2,107.1h0M159.1,107.2h0M158.6,111.2h0M156.2,105.3h0M164.2,115.3h0M157.1,108.3h0M162.4,114.4h0M158.0,105.9h0M156.1,106.1h0M163.9,116.3h0M156.7,106.1h0M160.8,108.8h0M163.8,115.5h0M163.3,116.9h0M163.5,116.5h0M158.0,111.1h0M161.8,116.5h0M163.4,114.0h0M161.0,111.7h0M159.7,112.0h0M163.9,116.0h0M158.2,104.6h0M157.6,106.1h0M157.4,108.6h0M163.2,114.1h0M159.6,112.9h0M163.7,115.0h0M161.2,111.8h0M159.7,106.3h0M155.7,108.7h0M155.7,108.7h0M163.4,118.0h0M158.2,107.6h0" stroke="#58c836" stroke-width="2.60" stroke-linecap="round" fill="none" opacity="1.00"/><path d="M157.6,106.9h0M159.1,108.1h0M159.2,110.0h0M162.2,111.6h0M158.8,108.0h0M157.6,106.8h0M162.1,114.2h0M163.9,114.9h0M160.2,111.6h0M164.4,118.8h0M158.7,110.5h0M162.3,110.5h0M161.0,112.3h0M160.4,110.6h0M157.7,105.4h0M162.5,113.6h0M157.7,104.8h0M158.6,106.4h0M164.4,117.9h0M159.9,112.3h0M160.1,111.1h0M157.4,106.0h0M160.9,111.8h0M162.3,113.8h0M161.1,113.2h0M161.3,112.0h0M160.4,114.7h0M158.8,105.6h0M156.6,105.4h0M162.5,111.9h0M159.6,108.4h0M161.2,112.4h0M162.1,113.1h0M158.2,108.8h0M160.5,111.2h0M162.1,114.8h0M160.7,111.4h0M163.5,117.1h0M161.4,113.8h0M158.5,105.4h0M163.8,113.3h0M158.1,110.1h0M156.5,104.9h0M156.2,105.1h0M164.4,115.8h0M158.9,108.0h0M159.3,112.6h0M160.6,110.9h0M156.1,106.2h0M158.0,107.1h0M157.2,108.9h0M161.4,115.4h0M164.9,115.9h0M155.8,106.3h0M161.6,108.8h0" stroke="#74dc46" stroke-width="1.90" stroke-linecap="round" fill="none" opacity="1.00"/>
<path d="M170.8,123.0h0M171.9,125.8h0M171.9,132.6h0M171.9,123.9h0M171.8,125.9h0M171.7,127.9h0M172.1,128.2h0M170.8,133.4h0M171.2,124.3h0" stroke="#74dc46" stroke-width="3.00" stroke-linecap="round" fill="none" opacity="1.00"/><path d="M170.5,124.8h0M172.4,130.6h0M171.1,124.3h0M169.8,124.4h0M170.5,124.3h0M167.9,129.2h0" stroke="#60d038" stroke-width="2.30" stroke-linecap="round" fill="none" opacity="1.00"/><path d="M170.9,124.7h0M168.4,128.2h0M169.0,125.7h0M171.1,127.9h0M170.9,126.1h0M170.5,130.8h0M170.9,128.8h0M169.1,127.1h0" stroke="#60d038" stroke-width="1.60" stroke-linecap="round" fill="none" opacity="1.00"/><path d="M171.9,124.7h0M170.1,122.4h0M171.1,124.6h0" stroke="#8ae456" stroke-width="1.60" stroke-linecap="round" fill="none" opacity="1.00"/><path d="M171.0,128.6h0M171.8,130.3h0M171.4,127.7h0M170.9,124.1h0M172.8,128.3h0" stroke="#4fc02f" stroke-width="3.00" stroke-linecap="round" fill="none" opacity="1.00"/><path d="M172.1,119.0h0M170.5,121.8h0M169.6,125.2h0M174.1,121.1h0M171.8,127.2h0M170.3,125.8h0" stroke="#60d038" stroke-width="3.00" stroke-linecap="round" fill="none" opacity="1.00"/><path d="M171.1,122.1h0M168.9,129.3h0M169.6,128.2h0" stroke="#74dc46" stroke-width="1.60" stroke-linecap="round" fill="none" opacity="1.00"/><path d="M171.0,128.9h0M168.8,128.5h0M171.6,129.2h0M169.4,127.6h0" stroke="#8ae456" stroke-width="3.00" stroke-linecap="round" fill="none" opacity="1.00"/><path d="M171.1,127.4h0M170.6,124.6h0M170.1,127.2h0" stroke="#74dc46" stroke-width="2.30" stroke-linecap="round" fill="none" opacity="1.00"/><path d="M170.5,129.4h0M171.5,123.7h0M170.0,126.0h0" stroke="#4fc02f" stroke-width="2.30" stroke-linecap="round" fill="none" opacity="1.00"/><path d="M171.2,129.0h0M170.4,127.4h0M172.0,124.8h0M171.8,128.6h0" stroke="#4fc02f" stroke-width="1.60" stroke-linecap="round" fill="none" opacity="1.00"/><path d="M170.8,123.7h0M172.4,122.1h0M171.8,128.9h0M170.7,121.7h0M172.8,125.5h0M172.9,124.9h0" stroke="#8ae456" stroke-width="2.30" stroke-linecap="round" fill="none" opacity="1.00"/>
<path d="M96.7,67.3h0" stroke="#d8c030" stroke-width="2.30" stroke-linecap="round" fill="none" opacity="1.00"/><path d="M99.4,68.0h0" stroke="#8ae456" stroke-width="1.60" stroke-linecap="round" fill="none" opacity="1.00"/><path d="M96.6,63.1h0" stroke="#c8d23a" stroke-width="3.00" stroke-linecap="round" fill="none" opacity="1.00"/><path d="M95.4,64.0h0M96.2,64.6h0M94.7,65.1h0" stroke="#8ae456" stroke-width="3.00" stroke-linecap="round" fill="none" opacity="1.00"/><path d="M97.6,65.7h0" stroke="#4fc02f" stroke-width="2.30" stroke-linecap="round" fill="none" opacity="1.00"/><path d="M96.6,64.7h0" stroke="#d8c030" stroke-width="1.60" stroke-linecap="round" fill="none" opacity="1.00"/><path d="M98.7,65.8h0" stroke="#60d038" stroke-width="3.00" stroke-linecap="round" fill="none" opacity="1.00"/><path d="M96.1,67.0h0M97.4,65.9h0M95.4,65.8h0" stroke="#4fc02f" stroke-width="3.00" stroke-linecap="round" fill="none" opacity="1.00"/><path d="M100.2,66.4h0M96.2,67.2h0" stroke="#74dc46" stroke-width="2.30" stroke-linecap="round" fill="none" opacity="1.00"/><path d="M95.7,66.0h0" stroke="#8ae456" stroke-width="2.30" stroke-linecap="round" fill="none" opacity="1.00"/><path d="M96.7,64.6h0" stroke="#74dc46" stroke-width="1.60" stroke-linecap="round" fill="none" opacity="1.00"/>
</g>
<rect x="89.6" y="78.2" width="26.8" height="25.6" fill="none" stroke="#f4dcdc" stroke-width="1"/>
<text x="174.3" y="38.4" font-size="11" font-weight="bold" fill="#fff" text-anchor="end">PDX1</text>
<text x="26" y="162" font-size="9.4" font-weight="bold" fill="#55c043">CFSE</text>
<text x="26" y="175.6" font-size="9.4" font-weight="bold" fill="#d6201c">MAP2</text>
<text x="151.6" y="171.4" font-size="9.7" fill="#fff" text-anchor="middle">250 µm</text>
<rect x="134.1" y="175.1" width="35.7" height="2.4" fill="#fff"/>
</g>
<g clip-path="url(#cAr)">
<rect x="179" y="27" width="72" height="70" fill="#a8160e"/>
<rect x="179" y="27" width="72" height="70" fill="#300" filter="url(#nz2)" opacity="0.6"/>
<rect x="179" y="27" width="72" height="70" fill="#000" filter="url(#nz)" opacity="0.55"/>
<rect x="179" y="27" width="72" height="70" filter="url(#nzr)"/>
<path d="M208.7,67.3h0M210.3,56.7h0M207.1,60.2h0M213.3,42.9h0M188.6,39.4h0M208.7,52.8h0M211.3,58.1h0M204.8,81.3h0M228.1,123.3h0M208.0,65.7h0M177.0,29.0h0M189.4,77.3h0M215.8,73.3h0M185.9,68.9h0M202.1,90.2h0M190.8,104.2h0M215.7,52.6h0M197.1,62.5h0M215.3,63.1h0M214.3,77.0h0M219.2,61.6h0M194.1,89.0h0M204.6,48.7h0M217.9,60.1h0M208.8,19.5h0M171.0,71.6h0M223.0,58.3h0M206.4,78.0h0M197.5,35.6h0M194.6,72.6h0M182.5,63.2h0M203.5,75.6h0M210.4,73.7h0M197.5,52.3h0M212.7,74.5h0M197.1,43.5h0M198.7,42.1h0M165.6,39.6h0M204.6,79.6h0M183.3,49.2h0M196.7,48.5h0M221.6,70.5h0M179.6,83.2h0M188.3,64.1h0M206.3,66.7h0M187.5,76.8h0M193.7,79.8h0M214.8,56.6h0M207.2,75.8h0M205.1,56.1h0M197.3,62.3h0M180.3,73.6h0M203.7,77.0h0M232.7,67.5h0M206.9,28.5h0M188.6,75.8h0M246.3,56.4h0M213.3,64.9h0M211.3,60.0h0M206.5,32.9h0M223.6,81.9h0M205.8,44.6h0M210.0,84.8h0M216.2,80.9h0M189.0,53.8h0M200.8,33.2h0M205.9,50.1h0M219.2,73.2h0M208.1,85.0h0M205.7,81.0h0M204.0,88.4h0M199.6,58.2h0M191.8,62.3h0M203.2,95.4h0M217.1,70.9h0M208.3,69.5h0M206.9,80.6h0M187.4,86.3h0M228.9,92.6h0M198.2,68.3h0M208.7,59.5h0M184.0,77.3h0M219.2,119.2h0M209.1,31.7h0M206.3,52.0h0M213.5,61.0h0M209.9,48.1h0M210.9,84.3h0M214.8,84.5h0M205.8,109.4h0M202.5,76.0h0M211.3,73.7h0M207.1,60.0h0M180.1,45.2h0M172.5,49.1h0M226.5,56.0h0M191.2,62.4h0M202.0,55.7h0M163.5,44.0h0M199.0,57.2h0M185.9,77.5h0M201.1,75.7h0M190.2,72.5h0M195.0,27.1h0M191.8,61.4h0M213.6,69.1h0M193.6,36.6h0M199.1,44.7h0M190.0,88.4h0M217.8,63.8h0M202.5,85.1h0M190.8,60.5h0M185.3,76.5h0M211.1,53.4h0M194.5,85.1h0M202.3,53.2h0M212.7,106.2h0M211.7,79.4h0M214.1,61.7h0M214.4,89.6h0M200.0,71.7h0M203.1,71.5h0M216.9,73.0h0M206.6,42.7h0M200.7,89.7h0M244.1,61.7h0M212.6,98.1h0M212.3,77.6h0M224.7,72.9h0M187.0,53.5h0M220.9,84.2h0M203.9,88.5h0M208.3,59.1h0M175.8,62.1h0M193.0,69.6h0M234.1,64.1h0M204.7,83.8h0M194.7,48.8h0M204.2,94.3h0M191.7,60.7h0M199.5,44.1h0M194.9,46.9h0M211.6,90.1h0M211.0,62.8h0M226.4,61.5h0M229.6,50.6h0M217.8,43.7h0M210.4,58.8h0M189.9,77.8h0M195.3,81.7h0" stroke="#d8b428" stroke-width="1.10" stroke-linecap="round" fill="none" opacity="0.75"/><path d="M216.9,80.4h0M198.6,90.2h0M182.3,91.2h0M192.6,60.2h0M186.6,44.5h0M176.1,109.0h0M216.6,88.8h0M204.6,69.6h0M203.2,67.7h0M208.6,89.3h0M202.5,78.3h0M219.0,104.3h0M215.7,73.0h0M196.9,84.3h0M178.9,55.8h0M210.9,71.1h0M209.2,44.1h0M205.6,36.9h0M198.7,89.9h0M202.3,56.3h0M200.0,78.7h0M210.8,19.8h0M192.1,36.9h0M222.2,93.9h0M195.0,62.3h0M208.3,62.8h0M185.1,49.3h0M218.2,95.0h0M231.4,38.7h0M195.6,56.2h0M210.1,46.5h0M208.0,81.8h0M197.1,59.6h0M205.5,63.7h0M223.7,75.7h0M195.9,96.9h0M213.0,115.0h0M220.5,61.4h0M213.7,71.9h0M222.5,56.7h0M179.6,41.5h0M189.9,60.8h0M218.9,24.4h0M198.5,115.1h0M211.0,78.7h0M215.5,78.1h0M190.4,70.4h0M186.0,42.0h0M199.3,46.4h0M172.1,67.0h0M216.2,94.3h0M217.9,114.7h0M222.3,56.5h0M175.9,47.4h0M198.9,74.3h0M180.6,44.8h0M213.0,28.0h0M205.0,55.5h0M175.5,49.5h0M213.1,92.2h0M217.7,62.1h0M214.2,38.7h0M207.7,56.5h0M212.8,55.4h0M192.7,72.5h0M198.3,28.3h0M195.1,59.2h0M196.6,66.8h0M213.5,50.3h0M199.1,58.6h0M227.0,18.8h0M175.5,39.5h0M199.2,73.7h0M211.1,64.6h0M202.6,102.6h0M220.0,75.6h0M206.1,78.8h0M208.5,52.5h0M234.3,66.1h0M204.3,107.0h0M203.8,26.1h0M203.0,44.1h0M212.9,68.1h0M197.6,84.3h0M193.3,63.0h0M184.3,41.3h0M194.8,42.2h0M203.5,50.0h0M224.5,45.3h0M212.3,70.2h0M240.5,28.4h0M218.7,86.6h0M201.3,67.1h0M194.8,66.9h0M214.8,28.9h0M181.5,31.0h0M202.2,66.9h0M186.5,87.6h0M203.6,73.4h0M206.7,68.8h0M209.0,36.7h0M219.8,81.6h0M195.6,99.1h0M197.6,39.4h0M201.1,23.6h0M187.2,71.2h0M228.0,94.3h0M208.0,87.8h0M190.7,82.7h0M212.4,43.1h0M200.5,111.3h0M188.2,83.5h0M196.2,58.6h0M199.2,103.8h0M208.7,66.9h0M190.2,35.8h0M180.9,78.5h0M207.4,46.6h0M213.6,32.8h0M204.8,57.8h0M183.0,65.3h0M185.0,57.1h0M193.9,117.1h0M192.6,57.1h0M167.7,44.8h0M196.4,51.8h0M214.3,79.7h0M208.9,103.3h0M197.9,51.1h0M218.3,69.0h0M184.0,57.1h0M217.0,79.4h0M194.7,78.8h0M199.9,82.6h0M217.4,53.6h0M194.5,57.4h0M170.0,76.5h0M205.4,55.8h0M220.7,92.3h0M202.0,97.2h0M191.1,23.2h0M212.3,91.8h0M205.8,53.9h0M188.6,62.3h0M216.5,60.8h0M209.9,93.9h0M214.4,63.6h0M191.6,77.8h0M213.6,84.5h0M199.4,64.1h0" stroke="#e09a28" stroke-width="1.60" stroke-linecap="round" fill="none" opacity="0.70"/><path d="M200.7,58.7h0M209.2,82.7h0M215.1,52.1h0M170.7,31.8h0M210.1,89.0h0M228.1,88.3h0M175.2,71.4h0M214.0,85.9h0M217.2,17.0h0M211.3,72.7h0M212.4,61.6h0M184.6,76.3h0M231.1,92.8h0M204.1,92.8h0M184.8,80.4h0M193.8,70.4h0M199.8,63.7h0M204.7,39.4h0M178.1,44.5h0M211.5,82.1h0M190.5,70.3h0M236.9,96.8h0M196.5,50.5h0M207.0,81.5h0M218.8,72.9h0M213.4,69.6h0M213.2,60.6h0M187.6,76.4h0M185.3,71.3h0M199.7,54.5h0M202.1,35.9h0M205.4,79.3h0M207.8,82.7h0M198.7,66.7h0M204.9,59.6h0M206.2,68.1h0M202.3,42.3h0M203.9,76.8h0M192.2,75.7h0M198.9,69.5h0M206.9,66.3h0M194.0,71.9h0M229.5,72.4h0M213.3,48.0h0M198.5,72.5h0M188.8,112.3h0M173.2,93.2h0M196.5,64.4h0M194.1,46.3h0M199.9,65.9h0M179.5,72.5h0M196.6,91.7h0M185.9,49.1h0M173.5,72.8h0M196.6,67.8h0M199.3,62.0h0M205.5,103.2h0M222.0,42.7h0M176.7,83.5h0M196.1,60.6h0M193.0,106.7h0M197.9,94.7h0M197.5,35.9h0M204.1,109.9h0M201.2,98.4h0M202.4,34.2h0M205.4,38.6h0M211.8,31.2h0M175.9,81.5h0M211.7,83.9h0M214.2,62.1h0M178.4,59.8h0M222.2,92.5h0M213.8,40.0h0M200.5,72.8h0M218.9,55.4h0M222.8,38.9h0M203.1,42.9h0M224.2,94.7h0M192.4,106.4h0M212.2,57.9h0M209.2,85.5h0M216.7,13.8h0M209.2,75.3h0M196.9,73.0h0M179.0,77.6h0M210.9,91.2h0M215.5,91.2h0M209.6,56.4h0M215.4,66.7h0M221.5,51.5h0M188.3,60.6h0M195.8,73.3h0M204.5,65.0h0M197.1,72.0h0M234.7,81.6h0M213.5,79.5h0M190.2,54.8h0M190.3,71.4h0M206.7,60.8h0M201.2,75.6h0M194.5,70.4h0M206.4,49.7h0M209.0,71.4h0M189.1,73.3h0M195.0,74.9h0M192.4,47.5h0M231.8,67.6h0M215.5,61.9h0M182.0,54.7h0M196.6,73.3h0M211.6,78.8h0M196.3,105.3h0M186.7,51.3h0M208.0,79.6h0M224.9,69.1h0M200.3,90.5h0M223.3,37.4h0M248.7,74.3h0M196.2,37.3h0" stroke="#c8c030" stroke-width="1.90" stroke-linecap="round" fill="none" opacity="0.70"/>
<g filter="url(#b0)">
<g filter="url(#rough2)" opacity="0.85">
<path d="M198,54 C202,48 209,46 214,42 C217,35 226,33 230,38 C234,42 232,47 235,51 C242,53 247,60 244,67 C243,72 238,75 234,79 C230,84 222,86 217,84 C213,90 205,92 202,88 C198,84 201,78 198,73 C194,68 194,59 198,54Z" fill="#58c836"/>
</g>
<path d="M224.6,56.2h0M220.2,42.5h0M227.8,56.2h0M232.7,57.7h0M241.5,55.9h0M233.1,69.5h0M223.3,56.6h0" stroke="#c8d23a" stroke-width="2.80" stroke-linecap="round" fill="none" opacity="1.00"/><path d="M221.1,38.5h0M220.9,62.9h0M220.9,59.9h0M239.2,51.6h0M216.1,60.4h0M230.9,48.0h0M226.5,46.7h0M238.8,67.8h0M227.3,60.8h0M221.2,38.5h0M243.4,72.0h0M218.6,62.9h0M227.9,50.5h0M223.3,55.5h0M219.5,36.6h0M232.2,77.1h0M210.6,69.0h0M205.5,77.9h0M197.9,70.9h0M229.1,35.5h0M222.5,69.9h0M226.9,43.2h0M202.4,50.5h0M237.3,55.5h0M229.1,67.5h0M221.9,40.0h0M226.3,43.0h0M198.4,44.7h0M239.8,57.1h0M216.1,42.2h0M236.7,65.4h0M235.7,63.9h0M227.2,63.5h0M242.0,66.9h0M218.5,31.5h0M238.8,51.8h0M237.9,65.1h0M213.4,66.6h0M216.0,37.5h0M228.2,56.1h0M227.0,71.3h0M234.8,68.7h0M203.7,69.1h0M238.2,57.1h0M236.9,72.0h0M221.3,51.2h0M211.9,59.8h0M237.9,71.4h0M220.5,59.3h0M242.7,77.5h0M237.5,60.4h0M240.7,65.1h0M218.2,61.6h0M220.6,35.1h0M228.0,33.0h0M225.9,62.1h0M207.0,48.4h0M236.2,53.6h0M241.8,65.7h0M233.6,58.6h0M209.6,58.1h0M209.9,53.3h0M229.4,65.5h0M232.0,74.0h0M235.1,54.4h0M211.9,47.8h0M227.4,77.9h0M233.4,81.4h0M214.9,77.1h0M207.2,39.1h0M216.6,51.2h0M227.7,73.2h0" stroke="#4fc02f" stroke-width="2.80" stroke-linecap="round" fill="none" opacity="1.00"/><path d="M232.9,78.6h0M231.0,57.2h0M221.7,32.2h0M214.6,44.8h0M214.1,58.4h0M211.3,64.3h0M207.0,54.4h0M220.5,55.7h0" stroke="#c8d23a" stroke-width="1.50" stroke-linecap="round" fill="none" opacity="1.00"/><path d="M227.6,64.6h0M206.0,65.9h0M223.8,26.8h0M231.9,60.7h0M211.9,45.5h0M210.0,55.7h0M212.9,50.9h0M241.2,55.1h0M228.8,61.4h0M240.6,62.0h0M241.4,60.6h0M213.0,54.0h0M215.4,46.4h0M226.9,66.0h0M222.4,58.0h0M212.8,66.9h0M217.0,45.4h0M240.7,53.5h0M224.2,67.0h0M221.5,71.9h0M226.1,77.5h0M236.5,62.3h0M240.1,72.9h0M245.8,68.0h0M223.0,51.4h0M232.8,54.8h0M227.7,77.9h0M245.5,65.4h0M230.0,50.2h0M226.2,37.5h0M240.9,58.9h0M235.6,58.8h0M206.4,62.1h0M241.6,55.1h0M236.1,67.0h0M238.0,62.3h0M231.1,79.0h0M224.5,70.2h0M224.1,44.4h0M229.3,63.4h0M226.8,71.7h0M207.9,46.7h0M218.9,36.6h0M225.8,42.4h0M221.2,47.7h0M223.9,54.0h0M222.9,60.6h0M216.3,57.9h0M233.1,54.8h0M226.3,39.6h0M227.8,84.0h0M193.3,80.7h0M215.4,34.4h0M229.0,57.1h0M230.6,73.5h0M239.4,56.3h0M242.9,68.9h0M238.2,64.3h0M224.1,44.1h0M214.7,60.4h0M226.5,33.8h0M237.2,58.5h0M217.9,68.3h0M230.1,34.4h0M237.2,72.0h0M237.0,61.3h0M223.8,48.1h0M217.5,69.7h0M194.4,57.4h0M230.4,82.4h0" stroke="#74dc46" stroke-width="2.10" stroke-linecap="round" fill="none" opacity="1.00"/><path d="M240.9,54.3h0M243.0,52.7h0M235.1,69.5h0M221.9,72.2h0M219.0,61.4h0M216.4,76.3h0M242.8,51.7h0M199.0,57.1h0" stroke="#c8d23a" stroke-width="2.10" stroke-linecap="round" fill="none" opacity="1.00"/><path d="M235.9,79.5h0M221.6,55.0h0M222.3,61.4h0M242.9,64.4h0M234.4,63.6h0M217.7,80.9h0M209.4,49.4h0M218.4,45.5h0M227.9,55.5h0M219.4,39.3h0M219.9,35.6h0M231.6,56.1h0M223.8,57.8h0M218.2,58.1h0M212.5,56.7h0M232.7,51.5h0M238.8,39.0h0M222.6,63.9h0M218.0,50.5h0M226.8,56.6h0M227.1,78.2h0M223.9,40.0h0M220.5,59.9h0M214.3,51.2h0M230.6,62.7h0M237.8,61.0h0M215.3,49.9h0M202.3,57.3h0M243.4,57.0h0M209.9,63.9h0M231.7,79.5h0M239.0,52.3h0M216.5,47.5h0M217.6,37.1h0M231.3,78.0h0M235.7,53.2h0M231.2,80.5h0M233.5,44.0h0M243.1,71.4h0M192.7,70.0h0M235.4,43.9h0M221.6,66.8h0M229.8,61.2h0M216.5,71.2h0M243.3,62.9h0M225.1,59.2h0M215.6,60.5h0M224.0,59.3h0M230.9,72.5h0M226.6,54.5h0M231.4,75.3h0M243.3,62.0h0M239.4,62.8h0M241.2,61.8h0M222.4,37.3h0M230.1,66.3h0M224.7,25.8h0M231.7,84.5h0M240.9,64.4h0M224.6,55.3h0M232.5,61.5h0M219.2,55.7h0M238.6,50.0h0" stroke="#4fc02f" stroke-width="1.50" stroke-linecap="round" fill="none" opacity="1.00"/><path d="M215.0,59.3h0M233.1,74.5h0M228.8,57.4h0M216.3,54.3h0M221.7,50.2h0M242.3,73.8h0M214.7,54.8h0M241.6,78.3h0M237.3,71.9h0M215.6,61.1h0M237.0,57.1h0M219.4,49.9h0M240.0,50.8h0M225.8,69.7h0M219.9,66.7h0M216.3,58.0h0M235.0,69.5h0M238.5,62.7h0M235.2,78.8h0M219.1,38.7h0M228.4,37.9h0M215.9,48.3h0M205.9,50.1h0M197.3,71.0h0M228.1,40.4h0M232.8,70.4h0M217.3,43.9h0M226.5,36.4h0M207.3,38.2h0M212.8,53.6h0M225.1,75.7h0M242.5,57.2h0M223.1,70.1h0M221.4,36.3h0M201.7,38.9h0M236.1,68.6h0M225.9,81.1h0M219.3,34.7h0M226.1,63.9h0M217.4,64.3h0M221.7,69.3h0M242.2,58.0h0M242.2,56.7h0M223.7,74.4h0M239.6,60.1h0M217.7,65.9h0M226.7,50.0h0M216.6,60.9h0M227.1,52.9h0M220.3,32.1h0M218.4,58.9h0M225.5,67.6h0M206.2,57.9h0M216.0,58.8h0M213.8,54.7h0M223.1,35.3h0M243.2,70.6h0M212.0,50.0h0M228.3,52.7h0M242.4,62.1h0M215.5,54.5h0M227.4,59.3h0M245.8,47.5h0M224.6,50.2h0M225.4,39.2h0" stroke="#8ae456" stroke-width="1.50" stroke-linecap="round" fill="none" opacity="1.00"/><path d="M220.7,55.7h0M215.0,56.4h0M240.0,68.6h0M242.7,62.9h0M212.1,67.1h0M230.5,77.8h0M236.0,61.3h0M219.5,33.4h0M212.9,68.5h0M222.3,64.3h0M231.1,55.9h0M216.0,64.4h0M212.0,58.9h0M209.6,69.9h0M214.7,57.4h0M221.1,64.6h0M225.8,60.0h0M239.3,59.0h0M233.6,68.5h0M228.0,56.1h0M238.6,57.2h0M214.4,59.4h0M240.7,51.8h0M226.6,56.8h0M230.4,65.5h0M224.8,36.8h0M239.1,50.5h0M214.5,51.7h0M220.0,39.3h0M222.8,38.5h0M220.3,35.7h0M241.1,81.3h0M226.8,68.0h0M198.4,60.5h0M231.0,63.4h0M216.0,34.8h0M232.9,59.3h0M225.8,61.1h0M229.4,51.7h0M236.4,47.5h0M231.6,65.5h0M233.1,52.6h0M235.5,58.6h0M242.8,55.0h0M209.4,52.0h0M213.0,66.1h0M228.3,57.6h0M230.7,64.8h0M227.7,67.5h0M230.5,58.9h0M213.1,53.2h0M219.1,62.0h0M205.9,73.6h0M229.5,65.6h0M224.5,70.9h0M241.9,68.2h0M250.4,43.1h0M211.1,53.8h0M239.1,55.0h0M229.2,35.8h0M228.7,43.7h0M232.7,59.2h0M233.1,73.5h0M229.2,62.6h0M230.6,73.0h0M231.5,60.5h0M235.7,73.9h0M220.5,34.4h0M241.3,52.0h0M209.7,63.9h0M222.8,29.1h0" stroke="#8ae456" stroke-width="2.10" stroke-linecap="round" fill="none" opacity="1.00"/><path d="M221.9,80.1h0M217.6,59.1h0M220.3,39.1h0M217.3,49.5h0M209.1,63.0h0M221.9,62.8h0M220.6,42.8h0M217.6,60.9h0M236.5,49.2h0M216.1,63.3h0M215.4,29.9h0M214.7,62.3h0M224.3,65.6h0M238.1,67.2h0M226.1,66.2h0M210.4,56.5h0M210.6,63.8h0M228.6,71.4h0M216.9,79.6h0M223.3,72.5h0M230.5,59.6h0M243.5,57.2h0M243.5,60.5h0M221.1,38.0h0M220.9,55.2h0M233.3,59.0h0M223.7,66.8h0M214.9,58.3h0M204.6,51.6h0M239.5,54.2h0M218.1,59.4h0M240.8,83.0h0M221.2,40.1h0M220.4,59.0h0M241.6,73.4h0M214.2,49.7h0M219.4,60.0h0M214.6,69.5h0M221.3,38.2h0M221.0,35.5h0M223.6,37.2h0M225.1,76.6h0M227.5,85.1h0M227.9,61.5h0M236.2,60.1h0M227.3,39.2h0M212.2,54.8h0M216.4,69.5h0M221.4,56.1h0M221.9,59.5h0M218.2,64.2h0M214.2,69.1h0M223.0,53.5h0M207.8,60.1h0M218.4,53.2h0M227.5,54.1h0M227.3,48.2h0M222.0,63.3h0M227.3,52.8h0M215.6,57.8h0" stroke="#8ae456" stroke-width="2.80" stroke-linecap="round" fill="none" opacity="1.00"/><path d="M223.4,30.5h0M223.3,63.5h0M239.6,63.0h0M216.7,48.9h0M201.2,57.5h0M230.6,55.3h0M235.2,82.8h0M208.4,63.9h0M214.8,62.5h0M222.6,57.9h0" stroke="#d8c030" stroke-width="1.50" stroke-linecap="round" fill="none" opacity="1.00"/><path d="M225.7,68.4h0M232.3,52.3h0M242.4,75.0h0M221.0,51.2h0M205.7,53.7h0M224.9,58.1h0M219.3,65.6h0M201.8,43.7h0M231.6,38.6h0M216.6,68.8h0M219.0,45.5h0M234.9,50.7h0M218.7,33.3h0M235.9,65.9h0M212.3,42.1h0M241.7,65.1h0M216.5,60.7h0M229.2,58.2h0M241.5,61.6h0M227.1,55.7h0M227.9,55.9h0M221.9,57.7h0M217.8,46.9h0M239.3,61.6h0M229.0,53.3h0M202.6,49.7h0M219.7,40.3h0M232.1,79.2h0M233.2,57.1h0M210.9,58.1h0M202.1,62.6h0M230.2,71.3h0M219.1,62.2h0M230.5,80.4h0M224.0,82.0h0M212.3,44.7h0M230.2,37.6h0M230.4,60.4h0M236.9,67.8h0M222.6,57.1h0M222.6,63.5h0M230.2,57.2h0M230.0,56.2h0M218.6,72.6h0M199.9,54.3h0M235.4,59.2h0M237.7,65.4h0M225.6,31.7h0M232.9,68.3h0M226.3,76.2h0M229.4,42.5h0M228.4,77.1h0M222.8,82.9h0M219.6,60.7h0M210.7,53.4h0M209.3,70.8h0M231.8,45.2h0" stroke="#60d038" stroke-width="1.50" stroke-linecap="round" fill="none" opacity="1.00"/><path d="M210.6,74.9h0M236.3,46.6h0M212.0,74.0h0M214.9,37.8h0M224.1,57.3h0M224.8,83.9h0M214.8,52.9h0M223.6,71.8h0M239.4,67.3h0M222.6,58.3h0M207.0,68.8h0M224.2,53.9h0M231.5,67.4h0M235.2,42.5h0M211.8,66.5h0M229.2,77.9h0M227.9,51.1h0M241.3,54.5h0M221.8,53.8h0M242.8,59.5h0M212.6,70.5h0M207.3,35.5h0M221.6,67.2h0M229.5,54.1h0M232.1,79.3h0M225.5,53.3h0M224.5,74.4h0M211.5,66.9h0M238.1,69.6h0M225.8,36.4h0M239.7,74.9h0M237.2,58.2h0M237.0,68.7h0M233.0,66.6h0M221.5,68.1h0M228.3,72.4h0M226.0,29.5h0M242.6,64.3h0M228.5,52.8h0M242.7,60.5h0M222.4,53.3h0M229.5,77.3h0M214.9,59.3h0M232.1,62.4h0M233.0,64.5h0M222.8,37.9h0M215.8,62.9h0M229.2,64.7h0M217.8,54.8h0M206.4,56.6h0M244.0,54.5h0M239.9,72.7h0M228.0,40.6h0M217.5,53.7h0M227.5,33.6h0M234.1,54.2h0M232.9,60.2h0M228.6,63.0h0M219.8,58.6h0M235.7,57.4h0M223.2,79.0h0M231.2,65.6h0M237.1,68.7h0M233.3,77.0h0M235.8,63.8h0M235.6,62.6h0M238.9,67.1h0M215.9,32.3h0M228.4,35.3h0M231.0,62.1h0M240.9,54.3h0" stroke="#60d038" stroke-width="2.10" stroke-linecap="round" fill="none" opacity="1.00"/><path d="M239.3,74.4h0M240.4,64.9h0M209.1,59.7h0M227.7,31.4h0M226.4,59.4h0M230.8,28.3h0M240.0,66.0h0M215.4,32.3h0M225.8,63.8h0M224.1,64.5h0M237.0,64.0h0M219.2,55.5h0M223.3,27.4h0M226.6,38.0h0M213.0,59.1h0M211.9,69.3h0M215.5,60.7h0M235.6,64.1h0M238.5,62.8h0M223.8,53.3h0M211.1,51.6h0M227.2,64.6h0M214.3,60.4h0M222.5,51.6h0M208.1,59.2h0M227.6,49.8h0M227.4,36.5h0M227.8,82.4h0M232.7,61.9h0M206.7,61.5h0M238.5,78.1h0M235.3,70.7h0M236.1,62.6h0M210.3,54.8h0M233.2,72.5h0M213.3,52.6h0M221.5,29.6h0M222.9,37.0h0M213.4,65.3h0M215.8,66.2h0M222.6,39.7h0M241.5,68.0h0M216.6,50.4h0M216.9,64.8h0M224.8,62.0h0M222.5,74.4h0M241.1,58.2h0M214.4,72.3h0M226.7,60.6h0M244.0,66.6h0M225.6,31.2h0M239.0,64.8h0M207.3,44.8h0M234.0,80.8h0M237.0,62.8h0M215.8,60.4h0M218.4,68.7h0M228.1,47.5h0M225.8,66.7h0M214.4,76.5h0" stroke="#74dc46" stroke-width="1.50" stroke-linecap="round" fill="none" opacity="1.00"/><path d="M215.4,52.7h0M225.5,51.5h0M219.3,63.3h0M228.4,55.2h0M228.5,74.8h0M240.7,66.7h0M224.1,67.2h0M227.8,67.0h0M239.8,64.5h0M221.8,57.1h0M221.8,66.5h0M232.8,57.6h0" stroke="#d8c030" stroke-width="2.10" stroke-linecap="round" fill="none" opacity="1.00"/><path d="M228.2,36.7h0M209.2,59.4h0M218.3,80.7h0M215.3,64.1h0M204.0,39.7h0M234.9,45.0h0M211.2,66.9h0M241.3,73.5h0M219.2,67.4h0M229.3,48.1h0M218.3,59.6h0M235.4,64.0h0M223.5,66.5h0M230.7,61.4h0M204.1,61.1h0M218.8,53.4h0M207.9,72.9h0M230.3,58.9h0M222.8,61.2h0M226.8,37.4h0M206.0,47.5h0M243.2,45.3h0M226.7,75.2h0M230.9,63.4h0M215.9,58.6h0M212.6,41.1h0M223.7,72.2h0M210.8,72.1h0M218.9,55.9h0M248.3,54.7h0M224.6,63.5h0M228.0,58.1h0M237.7,63.3h0M217.3,58.3h0M220.4,37.5h0M232.9,57.3h0M229.9,47.9h0M226.2,82.1h0M226.6,68.9h0M230.8,59.8h0M220.7,68.6h0M230.2,36.0h0M239.6,42.9h0M229.9,50.0h0M234.1,55.0h0M215.3,56.3h0M218.0,62.3h0M237.7,64.7h0M201.4,51.6h0M226.8,36.4h0M202.7,59.0h0M219.5,48.1h0M216.2,75.1h0M210.4,56.6h0M223.9,38.2h0M221.0,47.0h0M222.5,36.2h0M213.0,33.3h0M229.3,80.3h0M232.2,38.6h0M230.8,68.4h0M218.2,48.9h0M230.1,52.1h0M227.8,34.3h0M225.4,29.0h0" stroke="#60d038" stroke-width="2.80" stroke-linecap="round" fill="none" opacity="1.00"/><path d="M235.9,68.3h0M229.2,76.7h0M235.5,59.8h0M226.3,59.5h0M225.1,54.3h0M237.1,62.5h0" stroke="#d8c030" stroke-width="2.80" stroke-linecap="round" fill="none" opacity="1.00"/><path d="M220.7,66.2h0M241.5,72.0h0M217.2,36.6h0M219.4,32.6h0M233.9,72.4h0M223.5,34.8h0M220.7,42.2h0M222.8,44.0h0M224.5,68.5h0M210.6,58.4h0M250.1,57.9h0M226.1,35.5h0M225.2,33.7h0M212.6,65.2h0M238.7,67.2h0M217.8,61.7h0M234.3,65.1h0M228.4,80.6h0M244.3,58.9h0M222.4,52.7h0M217.1,54.9h0M227.1,62.3h0M230.6,63.3h0M236.7,61.6h0M237.1,66.2h0M214.9,65.3h0M238.6,57.1h0M231.3,56.7h0M228.1,67.3h0M211.8,45.8h0M224.3,57.2h0M224.9,74.2h0M239.8,65.2h0M218.2,54.2h0M227.8,71.6h0M239.5,69.0h0M223.8,42.1h0M212.4,74.1h0M226.9,52.7h0M234.6,44.6h0M222.5,71.3h0M225.5,35.6h0M219.7,50.9h0M233.1,61.8h0M239.7,65.2h0M229.5,48.3h0M240.2,56.9h0M226.7,47.1h0M211.6,64.4h0M209.6,68.4h0M230.8,81.2h0M224.6,60.4h0M212.3,64.7h0" stroke="#74dc46" stroke-width="2.80" stroke-linecap="round" fill="none" opacity="1.00"/><path d="M231.4,69.1h0M210.9,54.0h0M231.1,83.3h0M221.4,40.2h0M231.5,78.0h0M242.4,65.8h0M239.8,62.2h0M226.8,62.4h0M207.2,69.3h0M209.0,35.0h0M204.8,62.7h0M202.9,78.5h0M222.3,71.5h0M220.9,78.9h0M215.8,63.0h0M228.0,48.9h0M222.1,80.1h0M221.8,48.9h0M215.1,49.8h0M229.9,79.0h0M214.0,59.3h0M217.3,59.1h0M232.4,36.8h0M207.1,49.4h0M232.9,57.7h0M233.5,64.0h0M238.1,56.7h0M235.5,73.6h0M225.5,40.1h0M226.5,76.1h0M203.6,52.1h0M232.5,59.0h0M212.6,31.2h0M211.2,61.9h0M230.8,55.7h0M221.0,31.7h0M226.9,73.7h0M227.6,37.6h0M245.2,58.9h0M213.8,66.9h0M232.1,57.1h0M219.0,53.4h0M222.4,77.0h0M243.7,63.1h0M241.1,61.8h0M224.7,57.1h0M224.8,54.6h0M208.9,48.1h0M217.5,57.0h0M226.1,46.4h0M202.0,61.4h0M225.5,58.1h0M218.0,66.6h0M225.4,64.3h0M219.9,62.3h0M211.1,34.4h0M225.0,77.4h0M221.3,32.8h0M207.1,75.9h0M239.5,73.2h0M227.4,34.5h0M244.2,57.0h0" stroke="#4fc02f" stroke-width="2.10" stroke-linecap="round" fill="none" opacity="1.00"/>
<path d="M208.3,56.4h0M199.6,60.0h0M205.5,64.0h0M210.3,84.2h0M198.6,65.2h0M205.1,72.1h0M200.4,55.9h0M204.8,68.2h0M211.3,86.3h0M207.3,80.8h0" stroke="#60d038" stroke-width="1.40" stroke-linecap="round" fill="none" opacity="1.00"/><path d="M201.2,55.9h0M204.2,63.8h0M216.4,85.5h0M210.2,79.6h0M208.7,86.1h0M212.8,82.3h0M203.9,84.7h0M204.5,67.6h0M206.2,65.9h0M194.1,62.7h0M213.9,82.8h0M211.9,83.3h0" stroke="#c8d23a" stroke-width="1.90" stroke-linecap="round" fill="none" opacity="1.00"/><path d="M208.6,66.1h0M202.7,84.7h0M212.6,83.4h0M201.7,72.7h0M191.8,59.5h0M210.7,85.7h0M204.5,64.7h0M199.8,67.3h0M205.1,80.5h0M197.6,84.6h0M205.5,78.7h0M194.5,66.4h0M203.6,59.3h0M209.3,84.9h0M216.8,81.7h0M200.1,71.9h0" stroke="#d8c030" stroke-width="2.40" stroke-linecap="round" fill="none" opacity="1.00"/><path d="M201.9,63.4h0M204.2,84.2h0M208.0,54.1h0M212.0,84.2h0M195.4,55.8h0M200.9,43.5h0M216.5,78.8h0M205.4,66.8h0M217.4,83.4h0M208.5,83.2h0M198.7,72.1h0M215.5,66.1h0M208.1,57.6h0M194.0,56.9h0M206.0,88.2h0M210.9,40.6h0M212.5,82.4h0M211.0,85.1h0M213.8,82.3h0" stroke="#c8d23a" stroke-width="1.40" stroke-linecap="round" fill="none" opacity="1.00"/><path d="M215.8,91.8h0M202.2,61.3h0M204.0,75.6h0M202.8,82.1h0M214.2,84.5h0M214.6,64.5h0M211.3,91.8h0M201.6,53.0h0M201.4,56.9h0M199.2,46.1h0M205.1,74.6h0M198.2,83.6h0M218.6,83.0h0M203.8,58.4h0M203.2,56.6h0" stroke="#d8c030" stroke-width="1.90" stroke-linecap="round" fill="none" opacity="1.00"/><path d="M207.7,77.0h0M211.5,83.1h0M201.4,53.8h0M204.0,63.7h0M206.5,65.6h0M209.3,82.3h0M210.3,81.2h0M201.4,57.8h0M210.9,81.0h0M196.6,54.3h0M209.9,85.1h0" stroke="#74dc46" stroke-width="2.40" stroke-linecap="round" fill="none" opacity="1.00"/><path d="M199.2,64.1h0M217.1,87.1h0M206.0,63.2h0M208.6,84.0h0M200.5,73.9h0M204.6,70.1h0M198.2,54.7h0" stroke="#4fc02f" stroke-width="1.90" stroke-linecap="round" fill="none" opacity="1.00"/><path d="M206.6,64.2h0M206.7,45.6h0M211.3,79.6h0M204.3,61.2h0M209.0,86.1h0M207.0,63.4h0M216.1,83.9h0M204.2,87.9h0M203.4,61.4h0" stroke="#60d038" stroke-width="1.90" stroke-linecap="round" fill="none" opacity="1.00"/><path d="M205.2,61.0h0M199.9,60.2h0M208.3,64.7h0M204.8,66.7h0M211.1,86.9h0M209.6,88.0h0M207.9,68.3h0M201.6,51.2h0M208.7,63.1h0M208.1,63.6h0M210.1,81.4h0M202.5,48.4h0" stroke="#4fc02f" stroke-width="2.40" stroke-linecap="round" fill="none" opacity="1.00"/><path d="M207.3,83.1h0M220.4,82.8h0M211.4,84.1h0M199.2,52.2h0M200.4,63.7h0M207.1,67.0h0M207.4,86.2h0M204.4,81.0h0" stroke="#8ae456" stroke-width="1.40" stroke-linecap="round" fill="none" opacity="1.00"/><path d="M205.3,82.7h0M215.3,84.2h0M205.4,85.0h0M214.5,84.4h0M195.6,58.5h0M205.4,57.3h0" stroke="#74dc46" stroke-width="1.40" stroke-linecap="round" fill="none" opacity="1.00"/><path d="M206.4,56.6h0M203.9,87.3h0M203.7,65.0h0M200.4,63.4h0M206.5,81.4h0M211.3,88.3h0M213.8,75.6h0M207.1,81.0h0M206.3,54.3h0M210.0,87.1h0M220.3,80.2h0M197.5,59.0h0" stroke="#4fc02f" stroke-width="1.40" stroke-linecap="round" fill="none" opacity="1.00"/><path d="M193.9,65.2h0M217.3,77.9h0M207.1,81.8h0M207.0,63.8h0M212.0,86.3h0M209.4,60.9h0M214.4,60.5h0M209.0,88.5h0M209.6,80.5h0M205.8,82.3h0M196.0,53.5h0M199.5,85.0h0M208.0,57.9h0M211.2,82.2h0" stroke="#c8d23a" stroke-width="2.40" stroke-linecap="round" fill="none" opacity="1.00"/><path d="M208.2,57.1h0M211.3,82.6h0M208.1,85.3h0M215.2,87.3h0M206.7,61.2h0M197.6,61.0h0M202.1,86.7h0M196.2,61.2h0" stroke="#8ae456" stroke-width="2.40" stroke-linecap="round" fill="none" opacity="1.00"/><path d="M206.8,56.9h0M204.7,69.9h0M202.3,61.1h0M212.2,82.4h0M212.6,69.2h0M202.2,58.2h0M215.3,82.1h0M203.8,56.4h0M196.2,44.5h0M206.1,50.1h0M207.3,67.0h0" stroke="#60d038" stroke-width="2.40" stroke-linecap="round" fill="none" opacity="1.00"/><path d="M210.5,89.4h0M205.7,84.7h0M203.8,60.0h0M199.3,57.7h0M208.2,87.3h0M208.4,55.8h0M195.8,59.2h0M204.6,80.4h0M200.8,84.1h0M206.2,70.2h0M204.8,80.7h0" stroke="#74dc46" stroke-width="1.90" stroke-linecap="round" fill="none" opacity="1.00"/><path d="M201.8,71.3h0M204.8,85.6h0M205.6,63.5h0M208.5,85.9h0M207.8,81.1h0M211.1,82.9h0M196.8,70.8h0M198.7,71.6h0M207.8,86.5h0" stroke="#8ae456" stroke-width="1.90" stroke-linecap="round" fill="none" opacity="1.00"/><path d="M210.9,87.4h0M202.7,75.4h0M208.2,67.6h0M210.5,84.4h0M209.5,82.9h0M197.9,62.9h0M201.9,64.3h0M206.5,83.6h0M214.4,85.0h0M212.5,87.0h0" stroke="#d8c030" stroke-width="1.40" stroke-linecap="round" fill="none" opacity="1.00"/>
<path d="M217.7,65.4h0M214.9,75.8h0M215.1,78.9h0M212.4,86.0h0M213.3,76.3h0M217.6,71.3h0M228.4,68.1h0M214.2,62.6h0M210.5,67.3h0M216.3,70.7h0M207.4,64.4h0M221.7,72.3h0M218.3,68.7h0M217.9,69.1h0M212.4,72.5h0M224.7,82.7h0M220.1,65.0h0M214.6,72.8h0M218.4,75.6h0M212.2,71.7h0M220.3,75.0h0M219.5,68.3h0M224.0,62.0h0M209.0,80.0h0M213.7,77.6h0M214.6,67.6h0M218.0,70.4h0M209.7,60.4h0M213.8,62.7h0M215.6,75.2h0M203.8,63.0h0M226.0,73.6h0M218.6,63.8h0M204.2,81.2h0M228.3,76.0h0M219.6,73.4h0M214.6,77.6h0M211.8,67.6h0M212.2,71.0h0M202.8,77.0h0M216.9,73.8h0M206.4,88.6h0M206.3,64.2h0M203.6,73.3h0M220.5,67.1h0M217.8,81.4h0M214.9,66.4h0M216.8,64.4h0M218.2,82.8h0M223.4,67.0h0M212.1,70.1h0M217.5,88.6h0M218.2,67.2h0M222.2,65.8h0M228.7,70.4h0M213.3,74.8h0M218.4,71.8h0M221.5,69.5h0M222.3,74.1h0M225.4,67.9h0M209.7,77.7h0M211.6,65.3h0M211.4,77.2h0M218.9,74.5h0M204.0,74.5h0M209.3,86.7h0M218.1,65.6h0M220.1,73.6h0M212.8,64.3h0M213.8,71.5h0M215.9,68.4h0M229.6,77.4h0M201.8,62.3h0M212.4,74.6h0M208.3,76.2h0M222.8,65.7h0M223.1,76.7h0M212.7,78.6h0M219.0,72.3h0M209.2,72.5h0M218.8,77.5h0M215.9,69.4h0M223.6,65.2h0M224.0,70.4h0M217.1,74.7h0M208.8,66.6h0M208.9,63.3h0M206.6,72.0h0M217.8,71.8h0M208.2,74.1h0" stroke="#d89a20" stroke-width="1.60" stroke-linecap="round" fill="none" opacity="0.90"/>
<path d="M213.1,79.1h0M230.6,50.2h0M225.1,79.5h0M228.7,62.1h0M234.3,74.4h0M212.6,69.1h0M212.8,55.5h0M217.7,73.7h0M226.9,65.2h0M204.7,62.7h0M216.4,60.0h0M224.2,57.0h0M219.6,73.9h0M225.3,70.8h0M226.7,56.6h0M206.8,67.3h0M228.8,71.4h0M229.9,60.0h0M232.8,79.3h0M211.5,41.8h0M217.2,87.9h0M210.3,68.9h0M224.0,71.9h0M234.8,89.2h0M212.5,54.0h0M213.4,56.7h0M204.4,74.2h0M224.1,63.7h0M225.6,75.8h0M225.0,62.2h0M219.2,42.5h0M227.9,52.8h0M205.0,73.3h0M200.3,73.5h0M231.0,62.1h0M223.9,77.0h0M234.6,74.5h0M215.7,68.5h0M208.2,60.4h0M199.2,90.7h0M224.0,66.9h0M217.6,76.6h0M217.9,74.6h0M226.5,68.0h0M221.3,66.1h0M219.6,65.3h0M229.5,72.8h0M213.7,61.2h0M231.6,54.7h0M209.0,57.1h0M217.6,54.1h0M202.6,79.3h0M215.7,69.9h0M216.7,65.5h0M213.6,66.5h0M214.9,70.5h0M216.3,80.8h0M233.1,70.7h0M203.9,73.5h0M216.4,58.2h0" stroke="#b83a14" stroke-width="1.30" stroke-linecap="round" fill="none" opacity="0.80"/>
<path d="M234.1,52.5h0M201.9,71.9h0M205.8,48.3h0M225.8,60.5h0M225.4,54.8h0M230.2,62.4h0M212.3,46.2h0M222.4,48.7h0M227.6,67.2h0M224.9,55.7h0M215.3,56.9h0M224.9,59.8h0M224.7,65.1h0M227.2,61.7h0M216.4,51.8h0M232.4,50.5h0M226.5,41.7h0M226.9,60.1h0M213.6,42.4h0M215.0,65.8h0M216.0,57.0h0M214.6,48.9h0M210.3,51.6h0M201.2,54.5h0M217.6,48.6h0M223.2,65.5h0M218.4,63.4h0M233.0,52.4h0M229.2,55.3h0M227.7,66.1h0M222.9,63.9h0M222.1,81.4h0M221.8,47.5h0M225.6,45.3h0M212.5,42.6h0M218.7,54.1h0M234.2,35.8h0M241.4,59.4h0M213.0,55.4h0M229.8,59.8h0M215.5,71.3h0M225.0,62.1h0M222.1,55.9h0M217.1,67.1h0M228.2,61.4h0M209.5,66.7h0M215.0,67.4h0M221.0,65.6h0M227.9,48.0h0M224.7,48.4h0M219.5,47.8h0M216.9,70.6h0M211.7,72.0h0M216.9,59.7h0M203.6,71.3h0M210.0,54.5h0M224.4,56.8h0M219.7,54.6h0M223.8,56.4h0M235.2,61.1h0M207.2,63.0h0M214.5,53.9h0M216.1,67.7h0M222.3,66.3h0M216.4,74.3h0M238.7,66.3h0M212.0,63.5h0M219.8,62.3h0M194.4,62.8h0M218.9,86.0h0" stroke="#2f8a1c" stroke-width="1.20" stroke-linecap="round" fill="none" opacity="0.70"/>
</g>
<text x="183.3" y="37.9" font-size="11" font-weight="bold" fill="#fff">ROI</text>
<text x="230.2" y="89.2" font-size="8.2" fill="#fff">25 µm</text>
<rect x="236.4" y="92.6" width="10.2" height="2.2" fill="#fff"/>
</g>
<g clip-path="url(#cB)">
<rect x="282" y="26" width="158" height="158" fill="#0b0b0b"/>
<path d="M300.8,90.0C301.5,86.5 302.3,82.5 303.8,79.2C305.3,75.9 307.7,73.1 310.0,70.0C312.3,66.9 315.1,63.6 317.7,60.8C320.3,58.0 322.6,55.4 325.4,53.0C328.2,50.6 331.5,48.1 334.6,46.2C337.7,44.3 340.5,42.7 343.8,41.5C347.1,40.3 350.4,39.4 354.6,39.2C358.9,39.1 364.8,40.0 369.3,40.6C373.8,41.2 377.5,41.9 381.6,43.0C385.7,44.1 390.1,45.5 394.0,47.0C397.9,48.5 401.4,50.3 404.7,52.3C408.0,54.3 411.2,56.5 414.0,59.2C416.8,61.9 419.4,65.2 421.6,68.5C423.8,71.8 425.8,75.6 427.0,79.2C428.2,82.8 428.7,87.0 429.0,90.0C429.3,93.0 429.1,94.5 428.8,97.0C428.5,99.5 428.1,101.9 427.0,105.0C425.9,108.1 424.3,112.5 422.4,115.8C420.5,119.1 418.2,122.2 415.5,125.0C412.8,127.8 409.5,130.5 406.2,132.7C402.9,134.9 399.1,136.6 395.5,138.0C391.9,139.4 388.6,140.2 384.7,141.2C380.8,142.2 376.0,143.2 372.4,144.2C368.8,145.2 366.2,146.2 363.2,147.3C360.2,148.4 357.0,150.3 354.2,150.8C351.4,151.3 349.0,150.7 346.5,150.4C344.0,150.1 341.2,148.7 339.2,148.9C337.2,149.1 336.0,150.1 334.6,151.5C333.2,152.9 332.1,155.4 331.0,157.3C329.9,159.2 329.0,161.3 327.7,163.0C326.4,164.7 324.9,166.6 323.0,167.5C321.1,168.4 318.3,168.7 316.0,168.5C313.7,168.3 311.3,167.6 309.0,166.5C306.7,165.4 303.9,163.8 302.0,162.0C300.1,160.2 298.5,158.1 297.5,156.0C296.5,153.9 296.0,151.5 296.0,149.2C296.0,146.9 296.6,144.6 297.7,142.3C298.8,140.0 300.8,137.5 302.3,135.4C303.9,133.3 306.1,131.2 307.0,129.6C307.9,127.9 308.5,127.3 308.0,125.5C307.5,123.7 305.3,121.2 304.2,118.5C303.1,115.8 302.0,112.3 301.2,109.2C300.4,106.1 299.7,103.2 299.6,100.0C299.5,96.8 300.1,93.5 300.8,90.0Z" fill="url(#gB)"/>
<g clip-path="url(#oB)">
<rect x="282" y="26" width="156" height="158" fill="#300" filter="url(#nz2)" opacity="0.35"/>
<rect x="282" y="26" width="156" height="158" fill="#000" filter="url(#nz)" opacity="0.38"/>
<rect x="282" y="26" width="156" height="158" filter="url(#nzr)" opacity="0.8"/>
<path d="M352,91 L392,93" stroke="#6a0c08" stroke-width="2.5" opacity="0.5" filter="url(#b1)"/>
<path d="M398,70 L420,105" stroke="#7a0e0a" stroke-width="2" opacity="0.4" filter="url(#b1)"/>
<path d="M404,66 L425,98" stroke="#7a0e0a" stroke-width="1.6" opacity="0.35" filter="url(#b1)"/>
<path d="M318,75 C326,95 330,110 326,128" fill="none" stroke="#7a0e0a" stroke-width="2" opacity="0.3" filter="url(#b1)"/>
<path d="M300.8,90.0C301.5,86.5 302.3,82.5 303.8,79.2C305.3,75.9 307.7,73.1 310.0,70.0C312.3,66.9 315.1,63.6 317.7,60.8C320.3,58.0 322.6,55.4 325.4,53.0C328.2,50.6 331.5,48.1 334.6,46.2C337.7,44.3 340.5,42.7 343.8,41.5C347.1,40.3 350.4,39.4 354.6,39.2C358.9,39.1 364.8,40.0 369.3,40.6C373.8,41.2 377.5,41.9 381.6,43.0C385.7,44.1 390.1,45.5 394.0,47.0C397.9,48.5 401.4,50.3 404.7,52.3C408.0,54.3 411.2,56.5 414.0,59.2C416.8,61.9 419.4,65.2 421.6,68.5C423.8,71.8 425.8,75.6 427.0,79.2C428.2,82.8 428.7,87.0 429.0,90.0C429.3,93.0 429.1,94.5 428.8,97.0C428.5,99.5 428.1,101.9 427.0,105.0C425.9,108.1 424.3,112.5 422.4,115.8C420.5,119.1 418.2,122.2 415.5,125.0C412.8,127.8 409.5,130.5 406.2,132.7C402.9,134.9 399.1,136.6 395.5,138.0C391.9,139.4 388.6,140.2 384.7,141.2C380.8,142.2 376.0,143.2 372.4,144.2C368.8,145.2 366.2,146.2 363.2,147.3C360.2,148.4 357.0,150.3 354.2,150.8C351.4,151.3 349.0,150.7 346.5,150.4C344.0,150.1 341.2,148.7 339.2,148.9C337.2,149.1 336.0,150.1 334.6,151.5C333.2,152.9 332.1,155.4 331.0,157.3C329.9,159.2 329.0,161.3 327.7,163.0C326.4,164.7 324.9,166.6 323.0,167.5C321.1,168.4 318.3,168.7 316.0,168.5C313.7,168.3 311.3,167.6 309.0,166.5C306.7,165.4 303.9,163.8 302.0,162.0C300.1,160.2 298.5,158.1 297.5,156.0C296.5,153.9 296.0,151.5 296.0,149.2C296.0,146.9 296.6,144.6 297.7,142.3C298.8,140.0 300.8,137.5 302.3,135.4C303.9,133.3 306.1,131.2 307.0,129.6C307.9,127.9 308.5,127.3 308.0,125.5C307.5,123.7 305.3,121.2 304.2,118.5C303.1,115.8 302.0,112.3 301.2,109.2C300.4,106.1 299.7,103.2 299.6,100.0C299.5,96.8 300.1,93.5 300.8,90.0Z" fill="none" stroke="#ee2a1a" stroke-width="3" opacity="0.4" filter="url(#b1)"/>
<path d="M370.9,55.7h0M379.2,61.9h0M391.2,127.4h0M311.9,182.5h0M382.0,67.5h0M371.5,56.6h0M390.5,125.1h0M370.5,108.5h0M407.9,65.0h0M388.6,122.8h0M387.3,59.4h0M397.4,105.2h0M390.9,55.2h0M387.8,65.8h0M389.8,61.1h0M381.1,61.4h0M361.3,64.0h0M316.7,150.8h0M394.8,61.6h0M390.9,97.8h0M322.5,149.5h0M394.9,73.9h0M386.8,102.5h0M375.0,107.7h0M392.1,80.8h0M369.0,110.6h0M375.2,48.6h0M394.6,61.2h0M396.4,100.6h0M395.1,122.1h0M395.8,69.2h0M394.9,64.0h0M344.8,87.1h0M386.1,125.4h0M371.4,107.3h0M388.2,53.5h0M309.2,146.9h0M377.6,105.5h0M319.8,107.9h0M380.2,60.4h0M389.0,122.3h0M373.4,57.9h0M382.0,61.1h0M394.3,67.1h0M355.0,94.3h0M377.9,104.7h0M392.8,126.0h0M372.5,103.5h0M374.2,53.7h0M397.7,64.5h0M393.8,66.2h0M308.5,163.5h0M374.1,107.3h0M392.6,48.1h0M403.4,65.8h0M374.4,111.0h0M395.0,55.1h0M371.0,53.4h0M392.9,125.6h0M393.0,125.0h0M384.9,53.8h0M391.7,127.5h0M382.3,55.6h0M400.1,87.5h0M397.2,100.7h0M393.7,58.3h0M390.3,52.5h0M403.1,113.3h0M374.1,103.0h0M387.8,71.7h0M390.2,66.4h0M358.9,84.0h0M358.4,63.5h0M384.5,60.0h0M371.7,106.5h0M309.3,146.8h0M394.5,68.8h0M388.6,61.5h0M394.2,127.2h0M365.1,109.3h0M389.7,65.8h0M393.8,54.7h0M393.2,62.8h0M389.8,56.9h0M401.6,108.2h0M376.0,62.2h0M392.9,63.7h0M310.4,160.3h0M391.1,66.0h0M395.6,62.9h0M373.3,105.2h0M388.0,61.8h0M368.9,104.4h0M373.1,105.5h0M384.1,57.7h0M371.0,80.3h0M390.5,87.7h0M388.6,101.0h0M330.6,145.3h0M393.5,61.7h0M386.2,53.6h0M396.8,125.8h0M390.3,64.1h0M387.9,57.4h0M398.1,60.7h0M372.4,105.8h0M397.3,126.7h0M354.3,108.4h0M401.1,105.6h0M393.9,72.0h0M402.6,53.3h0M384.8,71.6h0M371.3,107.9h0M403.8,121.9h0M400.9,60.4h0M396.3,60.0h0M392.8,73.5h0M391.4,64.8h0M391.3,62.1h0M397.6,124.6h0M387.5,104.7h0M369.2,106.4h0M391.2,72.8h0M375.0,105.9h0M384.8,70.6h0M366.3,57.1h0M387.7,66.4h0M400.6,105.6h0M385.0,60.8h0M398.3,53.2h0M375.6,99.5h0M386.5,127.0h0M373.4,58.4h0M387.0,127.3h0M372.7,107.6h0M383.5,58.0h0M394.7,104.3h0M387.3,66.4h0M381.6,124.1h0M393.3,68.9h0M389.6,63.8h0M386.8,104.3h0M410.4,54.7h0M325.9,73.2h0M392.3,103.5h0M378.1,65.6h0M373.4,104.7h0M394.1,125.3h0M388.7,102.4h0M386.8,55.3h0M384.4,55.4h0M379.8,124.8h0M396.9,108.3h0M370.4,103.0h0M368.6,96.4h0M374.1,56.3h0M387.1,68.2h0M375.3,105.8h0M360.4,97.6h0M374.6,72.3h0" stroke="#c0b82c" stroke-width="0.90" stroke-linecap="round" fill="none" opacity="0.75"/><path d="M347.8,132.5h0M390.9,56.6h0M383.5,64.7h0M391.3,67.9h0M345.7,86.8h0M359.7,90.8h0M376.0,79.6h0M390.1,72.0h0M391.0,125.1h0M389.8,69.3h0M371.3,54.8h0M391.4,69.1h0M386.4,125.9h0M401.7,107.3h0M381.2,75.0h0M376.3,57.1h0M392.4,63.1h0M386.2,62.0h0M374.4,51.9h0M387.7,53.7h0M391.3,108.9h0M398.7,62.0h0M399.2,56.0h0M322.4,152.2h0M400.3,56.4h0M383.9,52.7h0M376.9,103.0h0M373.7,102.9h0M376.4,101.2h0M389.4,57.8h0M334.3,81.6h0M387.4,126.9h0M359.7,162.9h0M304.8,165.3h0M377.6,53.2h0M396.2,63.6h0M377.1,53.4h0M384.8,67.9h0M387.8,66.6h0M407.7,105.8h0M376.4,63.4h0M373.1,49.2h0M372.1,104.3h0M369.3,107.3h0M410.5,75.8h0M390.3,55.9h0M396.0,62.9h0M388.6,57.9h0M316.5,141.5h0M371.5,105.8h0M389.4,125.0h0M305.1,140.9h0M384.5,128.9h0M373.4,105.0h0M393.0,60.4h0M387.5,102.2h0M388.8,68.9h0M372.8,109.7h0M346.9,127.9h0M340.8,74.6h0M331.2,126.6h0M386.1,68.0h0M383.5,61.6h0M383.9,58.5h0M406.1,62.0h0M394.0,103.4h0M392.5,128.2h0M373.9,100.4h0M355.6,127.7h0M320.9,151.4h0M398.9,102.3h0M390.2,58.4h0M336.2,111.0h0M386.3,60.2h0M384.4,58.3h0M374.8,104.2h0M371.3,52.7h0M390.7,108.5h0M372.6,103.3h0M363.0,90.5h0M371.0,57.3h0M393.7,61.8h0M371.8,103.3h0M370.2,104.9h0M399.6,62.7h0M390.3,125.1h0M369.3,51.2h0M369.8,109.7h0M392.5,102.9h0M373.4,109.9h0M390.7,123.9h0M372.1,100.5h0M374.7,52.5h0M434.4,69.2h0M377.9,108.0h0M387.1,65.8h0M379.1,52.9h0M386.3,62.2h0M374.4,105.7h0M397.1,56.3h0" stroke="#cca030" stroke-width="1.20" stroke-linecap="round" fill="none" opacity="0.65"/><path d="M397.2,102.7h0M393.2,103.2h0M377.9,121.1h0M378.6,69.9h0M407.4,99.7h0M381.5,60.8h0M393.2,107.0h0M388.6,59.3h0M381.3,65.7h0M387.4,63.9h0M369.9,105.0h0M400.1,110.7h0M389.0,68.2h0M374.4,51.2h0M388.9,106.4h0M386.0,103.7h0M392.8,105.6h0M373.2,55.4h0M398.3,95.6h0M384.4,58.1h0M392.3,108.8h0M377.5,100.6h0M391.2,54.8h0M377.1,68.9h0M389.4,67.8h0M392.6,106.9h0M393.9,58.1h0M396.9,100.4h0M388.7,69.7h0M394.2,124.2h0M384.8,65.6h0M328.1,130.3h0M371.2,106.5h0M401.9,57.4h0M381.4,44.0h0M410.7,96.2h0M373.5,108.9h0M398.0,70.9h0M375.6,106.2h0M393.9,65.1h0M390.8,67.1h0M398.7,95.4h0M406.0,99.6h0M374.1,62.3h0M372.0,108.6h0M392.0,52.2h0M386.7,64.2h0M393.9,104.7h0M375.5,52.3h0M380.7,125.8h0M390.1,122.8h0M404.6,87.0h0M395.0,107.1h0M394.2,72.0h0M386.7,66.5h0M393.2,124.4h0M403.9,111.4h0M403.1,110.8h0M380.3,135.1h0M371.6,58.6h0M372.3,103.6h0M377.2,97.9h0M387.8,65.1h0M390.3,124.1h0M393.3,99.4h0M390.7,68.7h0M377.6,56.0h0M371.6,106.2h0M311.7,155.7h0M370.3,113.3h0" stroke="#a4c832" stroke-width="1.40" stroke-linecap="round" fill="none" opacity="0.75"/>
</g>
<ellipse cx="366.4" cy="68.8" rx="3.4" ry="5.6" fill="#0b0b0b" transform="rotate(28 366.3 68.6)"/>
<rect x="363.6" y="96.6" width="17.4" height="17.8" fill="none" stroke="#f0dada" stroke-width="1"/>
<text x="434.8" y="37.6" font-size="11" font-weight="bold" fill="#fff" text-anchor="end">HSPCs</text>
<text x="286" y="162.5" font-size="9.4" font-weight="bold" fill="#55c043">CFSE</text>
<text x="286" y="175.9" font-size="9.4" font-weight="bold" fill="#d6201c">MAP2</text>
<text x="413.5" y="172.2" font-size="9.7" fill="#fff" text-anchor="middle">250 µm</text>
<rect x="396" y="175.7" width="35" height="2.4" fill="#fff"/>
</g>
<g clip-path="url(#cBr)">
<rect x="440" y="26" width="74" height="72" fill="#a01218"/>
<rect x="440" y="26" width="74" height="72" fill="#300" filter="url(#nz2)" opacity="0.6"/>
<rect x="440" y="26" width="74" height="72" fill="#000" filter="url(#nz)" opacity="0.5"/>
<rect x="440" y="26" width="74" height="72" filter="url(#nzr)" opacity="0.45"/>
<g fill="#8ed850" filter="url(#b0)"><ellipse cx="499.3" cy="29.5" rx="2.0" ry="1.9" transform="rotate(87 499.3 29.5)"/><ellipse cx="489.3" cy="39.7" rx="1.8" ry="1.8" transform="rotate(83 489.3 39.7)"/><ellipse cx="473.9" cy="41.5" rx="1.7" ry="1.8" transform="rotate(100 473.9 41.5)"/><ellipse cx="475.5" cy="45.4" rx="2.1" ry="1.8" transform="rotate(1 475.5 45.4)"/><ellipse cx="473.2" cy="49.2" rx="1.9" ry="1.6" transform="rotate(133 473.2 49.2)"/><ellipse cx="477.8" cy="48.5" rx="2.0" ry="1.8" transform="rotate(168 477.8 48.5)"/><ellipse cx="483.2" cy="45.4" rx="2.1" ry="1.6" transform="rotate(141 483.2 45.4)"/><ellipse cx="484.7" cy="48.5" rx="2.1" ry="1.9" transform="rotate(105 484.7 48.5)"/><ellipse cx="489.3" cy="50.0" rx="2.0" ry="1.8" transform="rotate(93 489.3 50.0)"/><ellipse cx="455.5" cy="53.1" rx="1.8" ry="1.6" transform="rotate(54 455.5 53.1)"/><ellipse cx="452.4" cy="57.4" rx="2.1" ry="1.5" transform="rotate(20 452.4 57.4)"/><ellipse cx="476.2" cy="56.2" rx="2.1" ry="1.9" transform="rotate(135 476.2 56.2)"/><ellipse cx="478.5" cy="55.1" rx="2.2" ry="1.7" transform="rotate(138 478.5 55.1)"/><ellipse cx="483.9" cy="56.9" rx="1.9" ry="1.6" transform="rotate(79 483.9 56.9)"/><ellipse cx="491.6" cy="60.3" rx="2.0" ry="1.9" transform="rotate(113 491.6 60.3)"/><ellipse cx="487.0" cy="62.3" rx="2.1" ry="1.7" transform="rotate(166 487.0 62.3)"/><ellipse cx="479.3" cy="64.6" rx="2.2" ry="1.7" transform="rotate(81 479.3 64.6)"/><ellipse cx="481.6" cy="66.2" rx="2.0" ry="1.9" transform="rotate(17 481.6 66.2)"/><ellipse cx="477.8" cy="69.5" rx="1.9" ry="1.6" transform="rotate(60 477.8 69.5)"/><ellipse cx="480.8" cy="71.5" rx="2.0" ry="1.7" transform="rotate(122 480.8 71.5)"/><ellipse cx="467.8" cy="73.1" rx="1.9" ry="1.6" transform="rotate(11 467.8 73.1)"/><ellipse cx="471.6" cy="74.2" rx="2.2" ry="1.6" transform="rotate(148 471.6 74.2)"/><ellipse cx="475.5" cy="75.1" rx="2.0" ry="1.6" transform="rotate(165 475.5 75.1)"/><ellipse cx="464.7" cy="78.2" rx="2.0" ry="1.7" transform="rotate(27 464.7 78.2)"/><ellipse cx="457.8" cy="78.5" rx="2.1" ry="1.9" transform="rotate(0 457.8 78.5)"/><ellipse cx="472.4" cy="80.8" rx="1.8" ry="1.7" transform="rotate(49 472.4 80.8)"/><ellipse cx="465.5" cy="86.2" rx="2.1" ry="1.6" transform="rotate(12 465.5 86.2)"/><ellipse cx="487.8" cy="78.2" rx="2.0" ry="1.5" transform="rotate(88 487.8 78.2)"/><ellipse cx="500.8" cy="72.3" rx="2.0" ry="1.8" transform="rotate(117 500.8 72.3)"/><ellipse cx="504.7" cy="76.2" rx="2.2" ry="1.7" transform="rotate(11 504.7 76.2)"/><ellipse cx="508.5" cy="74.2" rx="2.0" ry="1.7" transform="rotate(39 508.5 74.2)"/><ellipse cx="510.8" cy="90.8" rx="2.0" ry="1.5" transform="rotate(101 510.8 90.8)"/><ellipse cx="474.2" cy="43.4" rx="1.8" ry="1.6" transform="rotate(31 474.2 43.4)"/><ellipse cx="475.2" cy="47.4" rx="2.2" ry="1.6" transform="rotate(128 475.2 47.4)"/><ellipse cx="473.9" cy="51.5" rx="1.9" ry="1.7" transform="rotate(77 473.9 51.5)"/><path d="M472.6,41.2 C474,39.6 476.6,40 477,42 C478.6,43.4 478.4,46 477.2,47.4 C478,49.4 476.6,51.2 474.8,50.8 C473,51 471.8,49.4 472.4,47.6 C471.2,45.8 471.4,42.8 472.6,41.2Z"/></g>
<g fill="#c4ea84" opacity="0.8"><circle cx="499.3" cy="29.5" r="0.8"/><circle cx="489.3" cy="39.7" r="0.8"/><circle cx="473.9" cy="41.5" r="0.8"/><circle cx="475.5" cy="45.4" r="0.8"/><circle cx="473.2" cy="49.2" r="0.8"/><circle cx="477.8" cy="48.5" r="0.8"/><circle cx="483.2" cy="45.4" r="0.8"/><circle cx="484.7" cy="48.5" r="0.8"/><circle cx="489.3" cy="50.0" r="0.8"/><circle cx="455.5" cy="53.1" r="0.8"/><circle cx="452.4" cy="57.4" r="0.8"/><circle cx="476.2" cy="56.2" r="0.8"/><circle cx="478.5" cy="55.1" r="0.8"/><circle cx="483.9" cy="56.9" r="0.8"/><circle cx="491.6" cy="60.3" r="0.8"/><circle cx="487.0" cy="62.3" r="0.8"/><circle cx="479.3" cy="64.6" r="0.8"/><circle cx="481.6" cy="66.2" r="0.8"/><circle cx="477.8" cy="69.5" r="0.8"/><circle cx="480.8" cy="71.5" r="0.8"/><circle cx="467.8" cy="73.1" r="0.8"/><circle cx="471.6" cy="74.2" r="0.8"/><circle cx="475.5" cy="75.1" r="0.8"/><circle cx="464.7" cy="78.2" r="0.8"/><circle cx="457.8" cy="78.5" r="0.8"/><circle cx="472.4" cy="80.8" r="0.8"/><circle cx="465.5" cy="86.2" r="0.8"/><circle cx="487.8" cy="78.2" r="0.8"/><circle cx="500.8" cy="72.3" r="0.8"/><circle cx="504.7" cy="76.2" r="0.8"/><circle cx="508.5" cy="74.2" r="0.8"/><circle cx="510.8" cy="90.8" r="0.8"/><circle cx="474.2" cy="43.4" r="0.8"/><circle cx="475.2" cy="47.4" r="0.8"/><circle cx="473.9" cy="51.5" r="0.8"/></g>
<text x="445.3" y="37.2" font-size="11" font-weight="bold" fill="#fff">ROI</text>
<text x="491.4" y="88" font-size="8.2" fill="#fff">25 µm</text>
<rect x="495.5" y="92.8" width="13" height="2.1" fill="#fff"/>
</g>
<path d="M97.50,300.30L97.50,417.30" stroke="#111" stroke-width="1.30" fill="none"/>
<path d="M96.90,416.50L210.50,416.50" stroke="#111" stroke-width="1.30" fill="none"/>
<path d="M94.60,303.50L97.50,303.50" stroke="#111" stroke-width="0.90" fill="none"/>
<text x="90.80" y="305.70" font-size="6.60" text-anchor="end" fill="#333" textLength="16.88" lengthAdjust="spacingAndGlyphs">5000</text>
<path d="M94.60,326.50L97.50,326.50" stroke="#111" stroke-width="0.90" fill="none"/>
<text x="90.80" y="328.60" font-size="6.60" text-anchor="end" fill="#333" textLength="16.88" lengthAdjust="spacingAndGlyphs">4000</text>
<path d="M94.60,348.50L97.50,348.50" stroke="#111" stroke-width="0.90" fill="none"/>
<text x="90.80" y="351.20" font-size="6.60" text-anchor="end" fill="#333" textLength="16.88" lengthAdjust="spacingAndGlyphs">3000</text>
<path d="M94.60,371.50L97.50,371.50" stroke="#111" stroke-width="0.90" fill="none"/>
<text x="90.80" y="373.80" font-size="6.60" text-anchor="end" fill="#333" textLength="16.88" lengthAdjust="spacingAndGlyphs">2000</text>
<path d="M94.60,394.50L97.50,394.50" stroke="#111" stroke-width="0.90" fill="none"/>
<text x="90.80" y="396.50" font-size="6.60" text-anchor="end" fill="#333" textLength="16.88" lengthAdjust="spacingAndGlyphs">1000</text>
<path d="M94.60,416.50L97.50,416.50" stroke="#111" stroke-width="0.90" fill="none"/>
<text x="90.80" y="419.10" font-size="6.60" text-anchor="end" fill="#333" textLength="4.22" lengthAdjust="spacingAndGlyphs">0</text>
<path d="M108.50,416.70L108.50,420.30" stroke="#111" stroke-width="0.90" fill="none"/>
<path d="M123.50,416.70L123.50,420.30" stroke="#111" stroke-width="0.90" fill="none"/>
<path d="M138.50,416.70L138.50,420.30" stroke="#111" stroke-width="0.90" fill="none"/>
<path d="M154.50,416.70L154.50,420.30" stroke="#111" stroke-width="0.90" fill="none"/>
<path d="M169.50,416.70L169.50,420.30" stroke="#111" stroke-width="0.90" fill="none"/>
<path d="M185.50,416.70L185.50,420.30" stroke="#111" stroke-width="0.90" fill="none"/>
<path d="M200.50,416.70L200.50,420.30" stroke="#111" stroke-width="0.90" fill="none"/>
<text transform="translate(108.60 427.80) rotate(-45)" font-size="6.90" text-anchor="end" fill="#222" >HSPCs</text>
<text transform="translate(123.90 427.80) rotate(-45)" font-size="6.90" text-anchor="end" fill="#222" >KCL22</text>
<text transform="translate(139.30 427.80) rotate(-45)" font-size="6.90" text-anchor="end" fill="#222" >K562</text>
<text transform="translate(154.70 427.80) rotate(-45)" font-size="6.90" text-anchor="end" fill="#222" >697</text>
<text transform="translate(170.10 427.80) rotate(-45)" font-size="6.90" text-anchor="end" fill="#222" >Kasumi2</text>
<text transform="translate(185.50 427.80) rotate(-45)" font-size="6.90" text-anchor="end" fill="#222" >HAL01</text>
<text transform="translate(200.80 427.80) rotate(-45)" font-size="6.90" text-anchor="end" fill="#222" >SUPB15</text>
<text transform="translate(67.60 358.70) rotate(-90)" font-size="8.40" text-anchor="middle" fill="#222" stroke="#222" stroke-width="0.25" textLength="69.0" lengthAdjust="spacingAndGlyphs">Total cell count per org.</text>
<path d="M108.50,207.00L108.50,387.50" stroke="#111" stroke-width="1.00" fill="none"/>
<path d="M123.50,262.00L123.50,387.50" stroke="#111" stroke-width="1.00" fill="none"/>
<path d="M138.50,299.00L138.50,387.50" stroke="#111" stroke-width="1.00" fill="none"/>
<path d="M108.20,207.50L154.50,207.50L154.50,213.50" stroke="#111" stroke-width="1.00" fill="none"/>
<text x="131.00" y="206.70" font-size="6.40" text-anchor="middle" fill="#111" font-weight="bold">****</text>
<path d="M108.20,220.50L185.50,220.50L185.50,229.00" stroke="#111" stroke-width="1.00" fill="none"/>
<text x="147.00" y="219.70" font-size="6.40" text-anchor="middle" fill="#111" font-weight="bold">**</text>
<path d="M108.20,236.50L200.50,236.50L200.50,248.00" stroke="#111" stroke-width="1.00" fill="none"/>
<text x="154.00" y="235.70" font-size="6.40" text-anchor="middle" fill="#111" font-weight="bold">***</text>
<path d="M108.20,248.50L185.50,248.50L185.50,262.00" stroke="#111" stroke-width="1.00" fill="none"/>
<text x="147.00" y="247.70" font-size="6.40" text-anchor="middle" fill="#111" font-weight="bold">**</text>
<path d="M123.50,262.50L154.50,262.50L154.50,265.00" stroke="#111" stroke-width="1.00" fill="none"/>
<text x="139.00" y="261.70" font-size="6.40" text-anchor="middle" fill="#111" font-weight="bold">***</text>
<path d="M123.50,275.50L200.50,275.50L200.50,281.00" stroke="#111" stroke-width="1.00" fill="none"/>
<text x="162.00" y="274.70" font-size="6.40" text-anchor="middle" fill="#111" font-weight="bold">***</text>
<path d="M123.50,287.50L185.50,287.50L185.50,293.00" stroke="#111" stroke-width="1.00" fill="none"/>
<text x="154.00" y="287.20" font-size="6.40" text-anchor="middle" fill="#111" font-weight="bold">**</text>
<path d="M138.90,299.50L200.50,299.50L200.50,304.00" stroke="#111" stroke-width="1.00" fill="none"/>
<text x="169.00" y="298.70" font-size="6.40" text-anchor="middle" fill="#111" font-weight="bold">**</text>
<path d="M138.90,317.50L185.50,317.50L185.50,323.00" stroke="#111" stroke-width="1.00" fill="none"/>
<text x="162.00" y="317.20" font-size="6.40" text-anchor="middle" fill="#111" font-weight="bold">*</text>
<path d="M138.90,329.50L169.50,329.50L169.50,335.00" stroke="#111" stroke-width="1.00" fill="none"/>
<text x="154.00" y="328.70" font-size="6.40" text-anchor="middle" fill="#111" font-weight="bold">*</text>
<path d="M138.90,341.50L154.50,341.50L154.50,349.50" stroke="#111" stroke-width="1.00" fill="none"/>
<text x="146.00" y="340.70" font-size="6.40" text-anchor="middle" fill="#111" font-weight="bold">***</text>
<path d="M108.50,405.50L108.50,409.50" stroke="#111" stroke-width="1.00" fill="none"/>
<path d="M106.00,405.50L110.40,405.50" stroke="#111" stroke-width="1.00" fill="none"/>
<path d="M106.00,409.50L110.40,409.50" stroke="#111" stroke-width="1.00" fill="none"/>
<path d="M103.70,407.50L112.70,407.50" stroke="#111" stroke-width="1.00" fill="none"/>
<circle cx="105.50" cy="408.60" r="2.40" fill="#c4122e"/>
<circle cx="108.30" cy="405.10" r="2.40" fill="#c4122e"/>
<circle cx="111.20" cy="408.60" r="2.40" fill="#c4122e"/>
<path d="M123.50,403.00L123.50,416.30" stroke="#111" stroke-width="1.00" fill="none"/>
<path d="M120.90,403.50L126.10,403.50" stroke="#111" stroke-width="1.00" fill="none"/>
<path d="M120.90,416.50L126.10,416.50" stroke="#111" stroke-width="1.00" fill="none"/>
<path d="M118.50,410.50L128.50,410.50" stroke="#111" stroke-width="1.00" fill="none"/>
<circle cx="123.30" cy="403.00" r="2.40" fill="#c4122e"/>
<circle cx="121.10" cy="414.00" r="2.40" fill="#c4122e"/>
<circle cx="126.00" cy="412.50" r="2.40" fill="#c4122e"/>
<path d="M138.50,397.00L138.50,407.00" stroke="#111" stroke-width="1.00" fill="none"/>
<path d="M136.30,397.50L141.50,397.50" stroke="#111" stroke-width="1.00" fill="none"/>
<path d="M136.30,407.50L141.50,407.50" stroke="#111" stroke-width="1.00" fill="none"/>
<path d="M133.90,402.50L143.90,402.50" stroke="#111" stroke-width="1.00" fill="none"/>
<circle cx="139.00" cy="397.00" r="2.40" fill="#c4122e"/>
<circle cx="136.00" cy="406.00" r="2.40" fill="#c4122e"/>
<circle cx="141.20" cy="404.50" r="2.40" fill="#c4122e"/>
<path d="M154.50,357.00L154.50,361.00" stroke="#111" stroke-width="1.00" fill="none"/>
<path d="M152.10,357.50L156.50,357.50" stroke="#111" stroke-width="1.00" fill="none"/>
<path d="M152.10,361.50L156.50,361.50" stroke="#111" stroke-width="1.00" fill="none"/>
<path d="M149.80,359.50L158.80,359.50" stroke="#111" stroke-width="1.00" fill="none"/>
<circle cx="151.50" cy="360.00" r="2.40" fill="#c4122e"/>
<circle cx="154.40" cy="357.60" r="2.40" fill="#c4122e"/>
<circle cx="157.20" cy="359.70" r="2.40" fill="#c4122e"/>
<path d="M169.50,359.00L169.50,386.00" stroke="#111" stroke-width="1.00" fill="none"/>
<path d="M167.10,359.50L172.30,359.50" stroke="#111" stroke-width="1.00" fill="none"/>
<path d="M167.10,386.50L172.30,386.50" stroke="#111" stroke-width="1.00" fill="none"/>
<path d="M164.70,372.50L174.70,372.50" stroke="#111" stroke-width="1.00" fill="none"/>
<circle cx="167.00" cy="363.00" r="2.40" fill="#c4122e"/>
<circle cx="172.50" cy="367.00" r="2.40" fill="#c4122e"/>
<circle cx="169.40" cy="386.40" r="2.40" fill="#c4122e"/>
<path d="M185.50,356.00L185.50,381.00" stroke="#111" stroke-width="1.00" fill="none"/>
<path d="M182.50,356.50L187.70,356.50" stroke="#111" stroke-width="1.00" fill="none"/>
<path d="M182.50,381.50L187.70,381.50" stroke="#111" stroke-width="1.00" fill="none"/>
<path d="M180.10,367.50L190.10,367.50" stroke="#111" stroke-width="1.00" fill="none"/>
<circle cx="185.00" cy="356.00" r="2.40" fill="#c4122e"/>
<circle cx="185.00" cy="364.00" r="2.40" fill="#c4122e"/>
<circle cx="185.00" cy="381.00" r="2.40" fill="#c4122e"/>
<path d="M200.50,310.00L200.50,340.50" stroke="#111" stroke-width="1.00" fill="none"/>
<path d="M197.80,310.50L203.00,310.50" stroke="#111" stroke-width="1.00" fill="none"/>
<path d="M197.80,340.50L203.00,340.50" stroke="#111" stroke-width="1.00" fill="none"/>
<path d="M195.40,326.50L205.40,326.50" stroke="#111" stroke-width="1.00" fill="none"/>
<circle cx="200.20" cy="310.00" r="2.40" fill="#c4122e"/>
<circle cx="197.60" cy="334.50" r="2.40" fill="#c4122e"/>
<circle cx="203.00" cy="334.50" r="2.40" fill="#c4122e"/>
<text x="92.70" y="458.30" font-size="7.00" text-anchor="middle" fill="#222" >Healthy</text>
<text x="122.10" y="458.30" font-size="7.00" text-anchor="middle" fill="#222" >CML</text>
<text x="172.70" y="458.30" font-size="7.00" text-anchor="middle" fill="#222" >BCP-ALL</text>
<path d="M84.20,463.50L100.60,463.50" stroke="#111" stroke-width="1.00" fill="none"/>
<path d="M106.20,463.50L138.20,463.50" stroke="#111" stroke-width="1.00" fill="none"/>
<path d="M144.40,463.50L200.20,463.50" stroke="#111" stroke-width="1.00" fill="none"/>
<path d="M106.50,467.30L106.50,470.50L138.50,470.50L138.50,467.30" stroke="#111" stroke-width="1.00" fill="none"/>
<path d="M144.50,467.30L144.50,470.50L168.50,470.50L168.50,467.30" stroke="#111" stroke-width="1.00" fill="none"/>
<path d="M170.50,467.30L170.50,470.50L184.50,470.50L184.50,467.30" stroke="#111" stroke-width="1.00" fill="none"/>
<path d="M185.50,467.30L185.50,470.50L200.50,470.50L200.50,467.30" stroke="#111" stroke-width="1.00" fill="none"/>
<text transform="translate(121.20 477.60) rotate(-45)" font-size="6.90" text-anchor="end" fill="#222" >BCR::ABL1</text>
<text transform="translate(154.50 477.40) rotate(-45)" font-size="6.90" text-anchor="end" fill="#222" >TCF3::PBX1</text>
<text transform="translate(176.30 477.80) rotate(-45)" font-size="6.90" text-anchor="end" fill="#222" >TCF3::HLF</text>
<text transform="translate(192.30 477.80) rotate(-45)" font-size="6.90" text-anchor="end" fill="#222" >BCR::ABL1</text>
<path d="M276.50,298.00L276.50,417.00" stroke="#111" stroke-width="1.30" fill="none"/>
<path d="M276.30,416.50L392.80,416.50" stroke="#111" stroke-width="1.30" fill="none"/>
<path d="M274.00,300.50L276.90,300.50" stroke="#111" stroke-width="0.90" fill="none"/>
<text x="270.30" y="302.90" font-size="6.60" text-anchor="end" fill="#333" textLength="16.88" lengthAdjust="spacingAndGlyphs">4000</text>
<path d="M274.00,329.50L276.90,329.50" stroke="#111" stroke-width="0.90" fill="none"/>
<text x="270.30" y="331.90" font-size="6.60" text-anchor="end" fill="#333" textLength="16.88" lengthAdjust="spacingAndGlyphs">3000</text>
<path d="M274.00,358.50L276.90,358.50" stroke="#111" stroke-width="0.90" fill="none"/>
<text x="270.30" y="360.90" font-size="6.60" text-anchor="end" fill="#333" textLength="16.88" lengthAdjust="spacingAndGlyphs">2000</text>
<path d="M274.00,387.50L276.90,387.50" stroke="#111" stroke-width="0.90" fill="none"/>
<text x="270.30" y="389.90" font-size="6.60" text-anchor="end" fill="#333" textLength="16.88" lengthAdjust="spacingAndGlyphs">1000</text>
<path d="M274.00,416.50L276.90,416.50" stroke="#111" stroke-width="0.90" fill="none"/>
<text x="270.30" y="418.80" font-size="6.60" text-anchor="end" fill="#333" textLength="4.22" lengthAdjust="spacingAndGlyphs">0</text>
<path d="M287.50,416.40L287.50,420.00" stroke="#111" stroke-width="0.90" fill="none"/>
<path d="M302.50,416.40L302.50,420.00" stroke="#111" stroke-width="0.90" fill="none"/>
<path d="M318.50,416.40L318.50,420.00" stroke="#111" stroke-width="0.90" fill="none"/>
<path d="M334.50,416.40L334.50,420.00" stroke="#111" stroke-width="0.90" fill="none"/>
<path d="M349.50,416.40L349.50,420.00" stroke="#111" stroke-width="0.90" fill="none"/>
<path d="M365.50,416.40L365.50,420.00" stroke="#111" stroke-width="0.90" fill="none"/>
<path d="M381.50,416.40L381.50,420.00" stroke="#111" stroke-width="0.90" fill="none"/>
<text transform="translate(287.40 428.60) rotate(-45)" font-size="6.90" text-anchor="end" fill="#222" >HSPCs</text>
<text transform="translate(303.10 428.60) rotate(-45)" font-size="6.90" text-anchor="end" fill="#222" >KCL22</text>
<text transform="translate(318.80 428.60) rotate(-45)" font-size="6.90" text-anchor="end" fill="#222" >K562</text>
<text transform="translate(334.60 428.60) rotate(-45)" font-size="6.90" text-anchor="end" fill="#222" >PDX1</text>
<text transform="translate(350.20 428.60) rotate(-45)" font-size="6.90" text-anchor="end" fill="#222" >PDX2 (ini)</text>
<text transform="translate(365.90 428.60) rotate(-45)" font-size="6.90" text-anchor="end" fill="#222" >PDX2 (rel)</text>
<text transform="translate(381.60 428.60) rotate(-45)" font-size="6.90" text-anchor="end" fill="#222" >PDX3</text>
<text transform="translate(246.60 358.70) rotate(-90)" font-size="8.40" text-anchor="middle" fill="#222" stroke="#222" stroke-width="0.25" textLength="69.0" lengthAdjust="spacingAndGlyphs">Total cell count per org.</text>
<path d="M287.50,250.50L287.50,382.70" stroke="#111" stroke-width="1.00" fill="none"/>
<path d="M302.50,264.00L302.50,382.70" stroke="#111" stroke-width="1.00" fill="none"/>
<path d="M287.00,250.50L334.50,250.50L334.50,277.50" stroke="#111" stroke-width="1.00" fill="none"/>
<text x="310.50" y="250.50" font-size="6.40" text-anchor="middle" fill="#111" font-weight="bold">*</text>
<path d="M302.70,264.50L334.20,264.50" stroke="#111" stroke-width="1.00" fill="none"/>
<text x="319.00" y="264.00" font-size="6.40" text-anchor="middle" fill="#111" font-weight="bold">*</text>
<path d="M287.00,289.50L381.50,289.50L381.50,345.00" stroke="#111" stroke-width="1.00" fill="none"/>
<text x="334.00" y="289.00" font-size="6.40" text-anchor="middle" fill="#111" font-weight="bold">**</text>
<path d="M302.70,302.50L381.20,302.50" stroke="#111" stroke-width="1.00" fill="none"/>
<text x="342.00" y="302.30" font-size="6.40" text-anchor="middle" fill="#111" font-weight="bold">*</text>
<path d="M287.50,403.00L287.50,408.00" stroke="#111" stroke-width="1.00" fill="none"/>
<path d="M284.80,403.50L289.20,403.50" stroke="#111" stroke-width="1.00" fill="none"/>
<path d="M284.80,408.50L289.20,408.50" stroke="#111" stroke-width="1.00" fill="none"/>
<path d="M282.50,405.50L291.50,405.50" stroke="#111" stroke-width="1.00" fill="none"/>
<circle cx="284.00" cy="406.30" r="2.40" fill="#c4122e"/>
<circle cx="287.00" cy="401.60" r="2.40" fill="#c4122e"/>
<circle cx="289.90" cy="406.30" r="2.40" fill="#c4122e"/>
<path d="M302.50,399.00L302.50,416.00" stroke="#111" stroke-width="1.00" fill="none"/>
<path d="M300.10,399.50L305.30,399.50" stroke="#111" stroke-width="1.00" fill="none"/>
<path d="M300.10,416.50L305.30,416.50" stroke="#111" stroke-width="1.00" fill="none"/>
<path d="M297.70,408.50L307.70,408.50" stroke="#111" stroke-width="1.00" fill="none"/>
<circle cx="302.80" cy="399.00" r="2.40" fill="#c4122e"/>
<circle cx="300.50" cy="413.40" r="2.40" fill="#c4122e"/>
<circle cx="305.70" cy="411.50" r="2.40" fill="#c4122e"/>
<path d="M318.50,391.30L318.50,406.00" stroke="#111" stroke-width="1.00" fill="none"/>
<path d="M315.80,391.50L321.00,391.50" stroke="#111" stroke-width="1.00" fill="none"/>
<path d="M315.80,406.50L321.00,406.50" stroke="#111" stroke-width="1.00" fill="none"/>
<path d="M313.40,398.50L323.40,398.50" stroke="#111" stroke-width="1.00" fill="none"/>
<circle cx="318.40" cy="391.30" r="2.40" fill="#c4122e"/>
<circle cx="315.50" cy="403.50" r="2.40" fill="#c4122e"/>
<circle cx="321.20" cy="401.00" r="2.40" fill="#c4122e"/>
<path d="M334.50,313.50L334.50,381.20" stroke="#111" stroke-width="1.00" fill="none"/>
<path d="M331.60,313.50L336.80,313.50" stroke="#111" stroke-width="1.00" fill="none"/>
<path d="M331.60,381.50L336.80,381.50" stroke="#111" stroke-width="1.00" fill="none"/>
<path d="M329.20,347.50L339.20,347.50" stroke="#111" stroke-width="1.00" fill="none"/>
<circle cx="334.20" cy="309.50" r="2.40" fill="#c4122e"/>
<circle cx="334.20" cy="358.90" r="2.40" fill="#c4122e"/>
<circle cx="334.20" cy="374.50" r="2.40" fill="#c4122e"/>
<path d="M349.50,344.40L349.50,394.20" stroke="#111" stroke-width="1.00" fill="none"/>
<path d="M347.20,344.50L352.40,344.50" stroke="#111" stroke-width="1.00" fill="none"/>
<path d="M347.20,394.50L352.40,394.50" stroke="#111" stroke-width="1.00" fill="none"/>
<path d="M344.80,369.50L354.80,369.50" stroke="#111" stroke-width="1.00" fill="none"/>
<circle cx="349.80" cy="351.00" r="2.40" fill="#c4122e"/>
<circle cx="349.80" cy="360.20" r="2.40" fill="#c4122e"/>
<circle cx="349.80" cy="398.30" r="2.40" fill="#c4122e"/>
<path d="M365.50,346.00L365.50,395.70" stroke="#111" stroke-width="1.00" fill="none"/>
<path d="M362.90,346.50L368.10,346.50" stroke="#111" stroke-width="1.00" fill="none"/>
<path d="M362.90,395.50L368.10,395.50" stroke="#111" stroke-width="1.00" fill="none"/>
<path d="M360.50,371.50L370.50,371.50" stroke="#111" stroke-width="1.00" fill="none"/>
<circle cx="365.50" cy="346.00" r="2.40" fill="#c4122e"/>
<circle cx="365.50" cy="377.50" r="2.40" fill="#c4122e"/>
<circle cx="365.50" cy="392.50" r="2.40" fill="#c4122e"/>
<path d="M381.50,374.00L381.50,389.60" stroke="#111" stroke-width="1.00" fill="none"/>
<path d="M378.60,374.50L383.80,374.50" stroke="#111" stroke-width="1.00" fill="none"/>
<path d="M378.60,389.50L383.80,389.50" stroke="#111" stroke-width="1.00" fill="none"/>
<path d="M376.20,381.50L386.20,381.50" stroke="#111" stroke-width="1.00" fill="none"/>
<circle cx="381.20" cy="374.00" r="2.40" fill="#c4122e"/>
<circle cx="380.60" cy="382.40" r="2.40" fill="#c4122e"/>
<circle cx="381.20" cy="389.60" r="2.40" fill="#c4122e"/>
<text x="271.30" y="461.20" font-size="7.00" text-anchor="middle" fill="#222" >Healthy</text>
<text x="300.20" y="461.20" font-size="7.00" text-anchor="middle" fill="#222" >CML</text>
<text x="350.70" y="461.20" font-size="7.00" text-anchor="middle" fill="#222" >BCP-ALL</text>
<path d="M263.00,466.50L279.70,466.50" stroke="#111" stroke-width="1.00" fill="none"/>
<path d="M285.00,466.50L315.20,466.50" stroke="#111" stroke-width="1.00" fill="none"/>
<path d="M318.60,466.50L381.80,466.50" stroke="#111" stroke-width="1.00" fill="none"/>
<path d="M285.50,469.90L285.50,473.50L315.50,473.50L315.50,469.90" stroke="#111" stroke-width="1.00" fill="none"/>
<path d="M318.50,469.90L318.50,473.50L325.50,473.50L325.50,469.90" stroke="#111" stroke-width="1.00" fill="none"/>
<path d="M327.50,469.90L327.50,473.50L362.50,473.50L362.50,469.90" stroke="#111" stroke-width="1.00" fill="none"/>
<path d="M365.50,469.90L365.50,473.50L381.50,473.50L381.50,469.90" stroke="#111" stroke-width="1.00" fill="none"/>
<text transform="translate(299.50 481.00) rotate(-45)" font-size="6.90" text-anchor="end" fill="#222" >BCR::ABL1</text>
<text transform="translate(321.50 481.00) rotate(-45)" font-size="6.90" text-anchor="end" fill="#222" >TCF3::PBX1</text>
<text transform="translate(344.60 483.40) rotate(-45)" font-size="6.90" text-anchor="end" fill="#222" >KMT2A-r</text>
<text transform="translate(373.80 481.00) rotate(-45)" font-size="6.90" text-anchor="end" fill="#222" >BCR::ABL1</text>
<path d="M357.50,568.70L357.50,687.60" stroke="#111" stroke-width="1.30" fill="none"/>
<path d="M356.80,687.50L444.00,687.50" stroke="#111" stroke-width="1.30" fill="none"/>
<path d="M354.00,571.50L357.40,571.50" stroke="#111" stroke-width="0.90" fill="none"/>
<text x="349.60" y="574.10" font-size="6.20" text-anchor="end" fill="#333" textLength="11.89" lengthAdjust="spacingAndGlyphs">400</text>
<path d="M354.00,600.50L357.40,600.50" stroke="#111" stroke-width="0.90" fill="none"/>
<text x="349.60" y="602.90" font-size="6.20" text-anchor="end" fill="#333" textLength="11.89" lengthAdjust="spacingAndGlyphs">300</text>
<path d="M354.00,629.50L357.40,629.50" stroke="#111" stroke-width="0.90" fill="none"/>
<text x="349.60" y="631.60" font-size="6.20" text-anchor="end" fill="#333" textLength="11.89" lengthAdjust="spacingAndGlyphs">200</text>
<path d="M354.00,658.50L357.40,658.50" stroke="#111" stroke-width="0.90" fill="none"/>
<text x="349.60" y="660.40" font-size="6.20" text-anchor="end" fill="#333" textLength="11.89" lengthAdjust="spacingAndGlyphs">100</text>
<path d="M354.00,687.50L357.40,687.50" stroke="#111" stroke-width="0.90" fill="none"/>
<text x="349.60" y="689.30" font-size="6.20" text-anchor="end" fill="#333" textLength="3.96" lengthAdjust="spacingAndGlyphs">0</text>
<path d="M370.50,687.00L370.50,690.60" stroke="#111" stroke-width="0.90" fill="none"/>
<path d="M390.50,687.00L390.50,690.60" stroke="#111" stroke-width="0.90" fill="none"/>
<path d="M410.50,687.00L410.50,690.60" stroke="#111" stroke-width="0.90" fill="none"/>
<path d="M430.50,687.00L430.50,690.60" stroke="#111" stroke-width="0.90" fill="none"/>
<text transform="translate(370.10 698.80) rotate(-45)" font-size="7.20" text-anchor="end" fill="#222" >KCL22</text>
<text transform="translate(390.00 698.80) rotate(-45)" font-size="7.20" text-anchor="end" fill="#222" >K562</text>
<text transform="translate(409.80 698.80) rotate(-45)" font-size="7.20" text-anchor="end" fill="#222" >PDX3</text>
<text transform="translate(429.80 698.80) rotate(-45)" font-size="7.20" text-anchor="end" fill="#222" >PDX1</text>
<text transform="translate(332.20 628.70) rotate(-90)" font-size="8.20" text-anchor="middle" fill="#222" stroke="#222" stroke-width="0.25" textLength="112.0" lengthAdjust="spacingAndGlyphs">Measurement events at &gt;10µm depth</text>
<path d="M370.50,638.00L370.50,555.50L430.50,555.50L430.50,597.50" stroke="#111" stroke-width="1.00" fill="none"/>
<text x="400.50" y="555.30" font-size="6.40" text-anchor="middle" fill="#111" font-weight="bold">*</text>
<path d="M393.50,638.00L393.50,569.50L430.50,569.50" stroke="#111" stroke-width="1.00" fill="none"/>
<text x="411.80" y="569.00" font-size="6.40" text-anchor="middle" fill="#111" font-weight="bold">*</text>
<path d="M410.50,638.00L410.50,583.50L430.50,583.50" stroke="#111" stroke-width="1.00" fill="none"/>
<text x="420.50" y="582.80" font-size="6.40" text-anchor="middle" fill="#111" font-weight="bold">*</text>
<path d="M370.50,677.00L370.50,686.60" stroke="#111" stroke-width="1.00" fill="none"/>
<path d="M367.80,677.50L373.80,677.50" stroke="#111" stroke-width="1.00" fill="none"/>
<path d="M367.80,686.50L373.80,686.50" stroke="#111" stroke-width="1.00" fill="none"/>
<path d="M364.40,681.50L377.20,681.50" stroke="#111" stroke-width="1.00" fill="none"/>
<circle cx="370.80" cy="677.00" r="2.40" fill="#c4122e"/>
<circle cx="365.80" cy="685.60" r="2.40" fill="#c4122e"/>
<circle cx="375.00" cy="683.00" r="2.40" fill="#c4122e"/>
<path d="M390.50,665.80L390.50,684.30" stroke="#111" stroke-width="1.00" fill="none"/>
<path d="M387.70,665.50L393.70,665.50" stroke="#111" stroke-width="1.00" fill="none"/>
<path d="M387.70,684.50L393.70,684.50" stroke="#111" stroke-width="1.00" fill="none"/>
<path d="M384.40,675.50L397.00,675.50" stroke="#111" stroke-width="1.00" fill="none"/>
<circle cx="390.80" cy="665.80" r="2.40" fill="#c4122e"/>
<circle cx="385.50" cy="680.80" r="2.40" fill="#c4122e"/>
<circle cx="395.00" cy="680.80" r="2.40" fill="#c4122e"/>
<path d="M410.50,665.00L410.50,678.80" stroke="#111" stroke-width="1.00" fill="none"/>
<path d="M407.50,665.50L413.50,665.50" stroke="#111" stroke-width="1.00" fill="none"/>
<path d="M407.50,678.50L413.50,678.50" stroke="#111" stroke-width="1.00" fill="none"/>
<path d="M404.20,671.50L416.80,671.50" stroke="#111" stroke-width="1.00" fill="none"/>
<circle cx="405.80" cy="666.80" r="2.40" fill="#c4122e"/>
<circle cx="415.00" cy="668.80" r="2.40" fill="#c4122e"/>
<circle cx="410.50" cy="678.80" r="2.40" fill="#c4122e"/>
<path d="M430.50,598.80L430.50,638.30" stroke="#111" stroke-width="1.00" fill="none"/>
<path d="M427.50,598.50L433.50,598.50" stroke="#111" stroke-width="1.00" fill="none"/>
<path d="M427.50,638.50L433.50,638.50" stroke="#111" stroke-width="1.00" fill="none"/>
<path d="M424.20,619.50L436.80,619.50" stroke="#111" stroke-width="1.00" fill="none"/>
<circle cx="430.50" cy="598.80" r="2.40" fill="#c4122e"/>
<circle cx="430.50" cy="619.30" r="2.40" fill="#c4122e"/>
<circle cx="430.50" cy="638.30" r="2.40" fill="#c4122e"/>
<text x="373.20" y="724.70" font-size="7.10" text-anchor="middle" fill="#222" >CML</text>
<text x="414.50" y="724.70" font-size="7.10" text-anchor="middle" fill="#222" >BCP-ALL</text>
<path d="M353.10,729.50L392.70,729.50" stroke="#111" stroke-width="1.00" fill="none"/>
<path d="M397.90,729.50L432.50,729.50" stroke="#111" stroke-width="1.00" fill="none"/>
<path d="M353.50,733.00L353.50,736.50L411.50,736.50L411.50,733.00" stroke="#111" stroke-width="1.00" fill="none"/>
<path d="M415.50,733.00L415.50,736.50L433.50,736.50L433.50,733.00" stroke="#111" stroke-width="1.00" fill="none"/>
<text transform="translate(381.50 743.50) rotate(-45)" font-size="7.25" text-anchor="end" fill="#222" >BCR::ABL1</text>
<text transform="translate(423.90 743.50) rotate(-45)" font-size="7.25" text-anchor="end" fill="#222" >TCF3::PBX1</text>
<rect x="45.1" y="546.6" width="260.9" height="35.4" fill="url(#gE)"/>
<rect x="45.1" y="577" width="260.9" height="31" fill="#fff"/>
<path d="M45.1,607.00H306.0M45.1,598.22H306.0M45.1,593.09H306.0M45.1,589.45H306.0M45.1,586.63H306.0M45.1,584.32H306.0M45.1,582.37H306.0M45.1,580.67H306.0M45.1,579.18H306.0M45.1,577.85H306.0M45.1,576.64H306.0M45.1,575.54H306.0" stroke="#6cbd9c" stroke-width="0.95" fill="none"/>
<rect x="45.1" y="574.5" width="260.9" height="5" fill="#78c4a2" opacity="0.7"/>
<defs><clipPath id="cE"><rect x="45" y="607.4" width="262" height="133"/></clipPath>
<linearGradient id="e1" x1="0" y1="607" x2="0" y2="738" gradientUnits="userSpaceOnUse"><stop offset="0.000" stop-color="#2e2e2e" stop-opacity="0.012"/><stop offset="0.045" stop-color="#2e2e2e" stop-opacity="0.035"/><stop offset="0.091" stop-color="#2e2e2e" stop-opacity="0.069"/><stop offset="0.136" stop-color="#2e2e2e" stop-opacity="0.093"/><stop offset="0.182" stop-color="#2e2e2e" stop-opacity="0.090"/><stop offset="0.227" stop-color="#2e2e2e" stop-opacity="0.071"/><stop offset="0.273" stop-color="#2e2e2e" stop-opacity="0.047"/><stop offset="0.318" stop-color="#2e2e2e" stop-opacity="0.025"/><stop offset="0.364" stop-color="#2e2e2e" stop-opacity="0.012"/><stop offset="0.409" stop-color="#2e2e2e" stop-opacity="0.005"/><stop offset="0.455" stop-color="#2e2e2e" stop-opacity="0.002"/><stop offset="0.500" stop-color="#2e2e2e" stop-opacity="0.001"/><stop offset="0.545" stop-color="#2e2e2e" stop-opacity="0.001"/><stop offset="0.591" stop-color="#2e2e2e" stop-opacity="0.001"/><stop offset="0.636" stop-color="#2e2e2e" stop-opacity="0.000"/><stop offset="0.682" stop-color="#2e2e2e" stop-opacity="0.000"/><stop offset="0.727" stop-color="#2e2e2e" stop-opacity="0.000"/><stop offset="0.773" stop-color="#2e2e2e" stop-opacity="0.000"/><stop offset="0.818" stop-color="#2e2e2e" stop-opacity="0.000"/><stop offset="0.864" stop-color="#2e2e2e" stop-opacity="0.000"/><stop offset="0.909" stop-color="#2e2e2e" stop-opacity="0.000"/><stop offset="0.955" stop-color="#2e2e2e" stop-opacity="0.000"/><stop offset="1.000" stop-color="#2e2e2e" stop-opacity="0.000"/></linearGradient>
<linearGradient id="e2" x1="0" y1="607" x2="0" y2="738" gradientUnits="userSpaceOnUse"><stop offset="0.000" stop-color="#6e6e6e" stop-opacity="0.010"/><stop offset="0.045" stop-color="#6e6e6e" stop-opacity="0.026"/><stop offset="0.091" stop-color="#6e6e6e" stop-opacity="0.051"/><stop offset="0.136" stop-color="#6e6e6e" stop-opacity="0.073"/><stop offset="0.182" stop-color="#6e6e6e" stop-opacity="0.078"/><stop offset="0.227" stop-color="#6e6e6e" stop-opacity="0.069"/><stop offset="0.273" stop-color="#6e6e6e" stop-opacity="0.052"/><stop offset="0.318" stop-color="#6e6e6e" stop-opacity="0.033"/><stop offset="0.364" stop-color="#6e6e6e" stop-opacity="0.019"/><stop offset="0.409" stop-color="#6e6e6e" stop-opacity="0.009"/><stop offset="0.455" stop-color="#6e6e6e" stop-opacity="0.004"/><stop offset="0.500" stop-color="#6e6e6e" stop-opacity="0.002"/><stop offset="0.545" stop-color="#6e6e6e" stop-opacity="0.001"/><stop offset="0.591" stop-color="#6e6e6e" stop-opacity="0.001"/><stop offset="0.636" stop-color="#6e6e6e" stop-opacity="0.000"/><stop offset="0.682" stop-color="#6e6e6e" stop-opacity="0.000"/><stop offset="0.727" stop-color="#6e6e6e" stop-opacity="0.000"/><stop offset="0.773" stop-color="#6e6e6e" stop-opacity="0.000"/><stop offset="0.818" stop-color="#6e6e6e" stop-opacity="0.000"/><stop offset="0.864" stop-color="#6e6e6e" stop-opacity="0.000"/><stop offset="0.909" stop-color="#6e6e6e" stop-opacity="0.000"/><stop offset="0.955" stop-color="#6e6e6e" stop-opacity="0.000"/><stop offset="1.000" stop-color="#6e6e6e" stop-opacity="0.000"/></linearGradient>
<linearGradient id="e3" x1="0" y1="607" x2="0" y2="738" gradientUnits="userSpaceOnUse"><stop offset="0.000" stop-color="#a8a8a8" stop-opacity="0.043"/><stop offset="0.045" stop-color="#a8a8a8" stop-opacity="0.099"/><stop offset="0.091" stop-color="#a8a8a8" stop-opacity="0.166"/><stop offset="0.136" stop-color="#a8a8a8" stop-opacity="0.207"/><stop offset="0.182" stop-color="#a8a8a8" stop-opacity="0.202"/><stop offset="0.227" stop-color="#a8a8a8" stop-opacity="0.170"/><stop offset="0.273" stop-color="#a8a8a8" stop-opacity="0.123"/><stop offset="0.318" stop-color="#a8a8a8" stop-opacity="0.076"/><stop offset="0.364" stop-color="#a8a8a8" stop-opacity="0.041"/><stop offset="0.409" stop-color="#a8a8a8" stop-opacity="0.020"/><stop offset="0.455" stop-color="#a8a8a8" stop-opacity="0.009"/><stop offset="0.500" stop-color="#a8a8a8" stop-opacity="0.004"/><stop offset="0.545" stop-color="#a8a8a8" stop-opacity="0.003"/><stop offset="0.591" stop-color="#a8a8a8" stop-opacity="0.002"/><stop offset="0.636" stop-color="#a8a8a8" stop-opacity="0.001"/><stop offset="0.682" stop-color="#a8a8a8" stop-opacity="0.001"/><stop offset="0.727" stop-color="#a8a8a8" stop-opacity="0.000"/><stop offset="0.773" stop-color="#a8a8a8" stop-opacity="0.000"/><stop offset="0.818" stop-color="#a8a8a8" stop-opacity="0.000"/><stop offset="0.864" stop-color="#a8a8a8" stop-opacity="0.000"/><stop offset="0.909" stop-color="#a8a8a8" stop-opacity="0.000"/><stop offset="0.955" stop-color="#a8a8a8" stop-opacity="0.000"/><stop offset="1.000" stop-color="#a8a8a8" stop-opacity="0.000"/></linearGradient>
<linearGradient id="e4" x1="0" y1="607" x2="0" y2="738" gradientUnits="userSpaceOnUse"><stop offset="0.000" stop-color="#2e2e2e" stop-opacity="0.115"/><stop offset="0.045" stop-color="#2e2e2e" stop-opacity="0.255"/><stop offset="0.091" stop-color="#2e2e2e" stop-opacity="0.392"/><stop offset="0.136" stop-color="#2e2e2e" stop-opacity="0.448"/><stop offset="0.182" stop-color="#2e2e2e" stop-opacity="0.423"/><stop offset="0.227" stop-color="#2e2e2e" stop-opacity="0.349"/><stop offset="0.273" stop-color="#2e2e2e" stop-opacity="0.244"/><stop offset="0.318" stop-color="#2e2e2e" stop-opacity="0.142"/><stop offset="0.364" stop-color="#2e2e2e" stop-opacity="0.070"/><stop offset="0.409" stop-color="#2e2e2e" stop-opacity="0.032"/><stop offset="0.455" stop-color="#2e2e2e" stop-opacity="0.015"/><stop offset="0.500" stop-color="#2e2e2e" stop-opacity="0.008"/><stop offset="0.545" stop-color="#2e2e2e" stop-opacity="0.005"/><stop offset="0.591" stop-color="#2e2e2e" stop-opacity="0.003"/><stop offset="0.636" stop-color="#2e2e2e" stop-opacity="0.002"/><stop offset="0.682" stop-color="#2e2e2e" stop-opacity="0.001"/><stop offset="0.727" stop-color="#2e2e2e" stop-opacity="0.001"/><stop offset="0.773" stop-color="#2e2e2e" stop-opacity="0.000"/><stop offset="0.818" stop-color="#2e2e2e" stop-opacity="0.000"/><stop offset="0.864" stop-color="#2e2e2e" stop-opacity="0.000"/><stop offset="0.909" stop-color="#2e2e2e" stop-opacity="0.000"/><stop offset="0.955" stop-color="#2e2e2e" stop-opacity="0.000"/><stop offset="1.000" stop-color="#2e2e2e" stop-opacity="0.000"/></linearGradient>
<linearGradient id="e5" x1="0" y1="607" x2="0" y2="738" gradientUnits="userSpaceOnUse"><stop offset="0.000" stop-color="#6e6e6e" stop-opacity="0.044"/><stop offset="0.045" stop-color="#6e6e6e" stop-opacity="0.105"/><stop offset="0.091" stop-color="#6e6e6e" stop-opacity="0.183"/><stop offset="0.136" stop-color="#6e6e6e" stop-opacity="0.236"/><stop offset="0.182" stop-color="#6e6e6e" stop-opacity="0.237"/><stop offset="0.227" stop-color="#6e6e6e" stop-opacity="0.204"/><stop offset="0.273" stop-color="#6e6e6e" stop-opacity="0.152"/><stop offset="0.318" stop-color="#6e6e6e" stop-opacity="0.097"/><stop offset="0.364" stop-color="#6e6e6e" stop-opacity="0.053"/><stop offset="0.409" stop-color="#6e6e6e" stop-opacity="0.026"/><stop offset="0.455" stop-color="#6e6e6e" stop-opacity="0.012"/><stop offset="0.500" stop-color="#6e6e6e" stop-opacity="0.006"/><stop offset="0.545" stop-color="#6e6e6e" stop-opacity="0.003"/><stop offset="0.591" stop-color="#6e6e6e" stop-opacity="0.002"/><stop offset="0.636" stop-color="#6e6e6e" stop-opacity="0.001"/><stop offset="0.682" stop-color="#6e6e6e" stop-opacity="0.001"/><stop offset="0.727" stop-color="#6e6e6e" stop-opacity="0.001"/><stop offset="0.773" stop-color="#6e6e6e" stop-opacity="0.000"/><stop offset="0.818" stop-color="#6e6e6e" stop-opacity="0.000"/><stop offset="0.864" stop-color="#6e6e6e" stop-opacity="0.000"/><stop offset="0.909" stop-color="#6e6e6e" stop-opacity="0.000"/><stop offset="0.955" stop-color="#6e6e6e" stop-opacity="0.000"/><stop offset="1.000" stop-color="#6e6e6e" stop-opacity="0.000"/></linearGradient>
<linearGradient id="e6" x1="0" y1="607" x2="0" y2="738" gradientUnits="userSpaceOnUse"><stop offset="0.000" stop-color="#a8a8a8" stop-opacity="0.045"/><stop offset="0.045" stop-color="#a8a8a8" stop-opacity="0.106"/><stop offset="0.091" stop-color="#a8a8a8" stop-opacity="0.180"/><stop offset="0.136" stop-color="#a8a8a8" stop-opacity="0.221"/><stop offset="0.182" stop-color="#a8a8a8" stop-opacity="0.211"/><stop offset="0.227" stop-color="#a8a8a8" stop-opacity="0.173"/><stop offset="0.273" stop-color="#a8a8a8" stop-opacity="0.120"/><stop offset="0.318" stop-color="#a8a8a8" stop-opacity="0.070"/><stop offset="0.364" stop-color="#a8a8a8" stop-opacity="0.035"/><stop offset="0.409" stop-color="#a8a8a8" stop-opacity="0.016"/><stop offset="0.455" stop-color="#a8a8a8" stop-opacity="0.007"/><stop offset="0.500" stop-color="#a8a8a8" stop-opacity="0.004"/><stop offset="0.545" stop-color="#a8a8a8" stop-opacity="0.002"/><stop offset="0.591" stop-color="#a8a8a8" stop-opacity="0.002"/><stop offset="0.636" stop-color="#a8a8a8" stop-opacity="0.001"/><stop offset="0.682" stop-color="#a8a8a8" stop-opacity="0.001"/><stop offset="0.727" stop-color="#a8a8a8" stop-opacity="0.000"/><stop offset="0.773" stop-color="#a8a8a8" stop-opacity="0.000"/><stop offset="0.818" stop-color="#a8a8a8" stop-opacity="0.000"/><stop offset="0.864" stop-color="#a8a8a8" stop-opacity="0.000"/><stop offset="0.909" stop-color="#a8a8a8" stop-opacity="0.000"/><stop offset="0.955" stop-color="#a8a8a8" stop-opacity="0.000"/><stop offset="1.000" stop-color="#a8a8a8" stop-opacity="0.000"/></linearGradient>
<linearGradient id="e7" x1="0" y1="607" x2="0" y2="738" gradientUnits="userSpaceOnUse"><stop offset="0.000" stop-color="#2e2e2e" stop-opacity="0.039"/><stop offset="0.045" stop-color="#2e2e2e" stop-opacity="0.081"/><stop offset="0.091" stop-color="#2e2e2e" stop-opacity="0.143"/><stop offset="0.136" stop-color="#2e2e2e" stop-opacity="0.215"/><stop offset="0.182" stop-color="#2e2e2e" stop-opacity="0.278"/><stop offset="0.227" stop-color="#2e2e2e" stop-opacity="0.314"/><stop offset="0.273" stop-color="#2e2e2e" stop-opacity="0.317"/><stop offset="0.318" stop-color="#2e2e2e" stop-opacity="0.298"/><stop offset="0.364" stop-color="#2e2e2e" stop-opacity="0.263"/><stop offset="0.409" stop-color="#2e2e2e" stop-opacity="0.216"/><stop offset="0.455" stop-color="#2e2e2e" stop-opacity="0.165"/><stop offset="0.500" stop-color="#2e2e2e" stop-opacity="0.116"/><stop offset="0.545" stop-color="#2e2e2e" stop-opacity="0.076"/><stop offset="0.591" stop-color="#2e2e2e" stop-opacity="0.046"/><stop offset="0.636" stop-color="#2e2e2e" stop-opacity="0.026"/><stop offset="0.682" stop-color="#2e2e2e" stop-opacity="0.014"/><stop offset="0.727" stop-color="#2e2e2e" stop-opacity="0.007"/><stop offset="0.773" stop-color="#2e2e2e" stop-opacity="0.004"/><stop offset="0.818" stop-color="#2e2e2e" stop-opacity="0.002"/><stop offset="0.864" stop-color="#2e2e2e" stop-opacity="0.001"/><stop offset="0.909" stop-color="#2e2e2e" stop-opacity="0.000"/><stop offset="0.955" stop-color="#2e2e2e" stop-opacity="0.000"/><stop offset="1.000" stop-color="#2e2e2e" stop-opacity="0.000"/></linearGradient>
<linearGradient id="e8" x1="0" y1="607" x2="0" y2="738" gradientUnits="userSpaceOnUse"><stop offset="0.000" stop-color="#6e6e6e" stop-opacity="0.068"/><stop offset="0.045" stop-color="#6e6e6e" stop-opacity="0.130"/><stop offset="0.091" stop-color="#6e6e6e" stop-opacity="0.212"/><stop offset="0.136" stop-color="#6e6e6e" stop-opacity="0.297"/><stop offset="0.182" stop-color="#6e6e6e" stop-opacity="0.364"/><stop offset="0.227" stop-color="#6e6e6e" stop-opacity="0.396"/><stop offset="0.273" stop-color="#6e6e6e" stop-opacity="0.394"/><stop offset="0.318" stop-color="#6e6e6e" stop-opacity="0.369"/><stop offset="0.364" stop-color="#6e6e6e" stop-opacity="0.327"/><stop offset="0.409" stop-color="#6e6e6e" stop-opacity="0.271"/><stop offset="0.455" stop-color="#6e6e6e" stop-opacity="0.209"/><stop offset="0.500" stop-color="#6e6e6e" stop-opacity="0.150"/><stop offset="0.545" stop-color="#6e6e6e" stop-opacity="0.099"/><stop offset="0.591" stop-color="#6e6e6e" stop-opacity="0.061"/><stop offset="0.636" stop-color="#6e6e6e" stop-opacity="0.035"/><stop offset="0.682" stop-color="#6e6e6e" stop-opacity="0.019"/><stop offset="0.727" stop-color="#6e6e6e" stop-opacity="0.010"/><stop offset="0.773" stop-color="#6e6e6e" stop-opacity="0.005"/><stop offset="0.818" stop-color="#6e6e6e" stop-opacity="0.002"/><stop offset="0.864" stop-color="#6e6e6e" stop-opacity="0.001"/><stop offset="0.909" stop-color="#6e6e6e" stop-opacity="0.001"/><stop offset="0.955" stop-color="#6e6e6e" stop-opacity="0.000"/><stop offset="1.000" stop-color="#6e6e6e" stop-opacity="0.000"/></linearGradient>
<linearGradient id="e9" x1="0" y1="607" x2="0" y2="738" gradientUnits="userSpaceOnUse"><stop offset="0.000" stop-color="#a8a8a8" stop-opacity="0.057"/><stop offset="0.045" stop-color="#a8a8a8" stop-opacity="0.099"/><stop offset="0.091" stop-color="#a8a8a8" stop-opacity="0.151"/><stop offset="0.136" stop-color="#a8a8a8" stop-opacity="0.202"/><stop offset="0.182" stop-color="#a8a8a8" stop-opacity="0.240"/><stop offset="0.227" stop-color="#a8a8a8" stop-opacity="0.254"/><stop offset="0.273" stop-color="#a8a8a8" stop-opacity="0.248"/><stop offset="0.318" stop-color="#a8a8a8" stop-opacity="0.228"/><stop offset="0.364" stop-color="#a8a8a8" stop-opacity="0.198"/><stop offset="0.409" stop-color="#a8a8a8" stop-opacity="0.161"/><stop offset="0.455" stop-color="#a8a8a8" stop-opacity="0.123"/><stop offset="0.500" stop-color="#a8a8a8" stop-opacity="0.088"/><stop offset="0.545" stop-color="#a8a8a8" stop-opacity="0.059"/><stop offset="0.591" stop-color="#a8a8a8" stop-opacity="0.037"/><stop offset="0.636" stop-color="#a8a8a8" stop-opacity="0.022"/><stop offset="0.682" stop-color="#a8a8a8" stop-opacity="0.012"/><stop offset="0.727" stop-color="#a8a8a8" stop-opacity="0.006"/><stop offset="0.773" stop-color="#a8a8a8" stop-opacity="0.003"/><stop offset="0.818" stop-color="#a8a8a8" stop-opacity="0.002"/><stop offset="0.864" stop-color="#a8a8a8" stop-opacity="0.001"/><stop offset="0.909" stop-color="#a8a8a8" stop-opacity="0.000"/><stop offset="0.955" stop-color="#a8a8a8" stop-opacity="0.000"/><stop offset="1.000" stop-color="#a8a8a8" stop-opacity="0.000"/></linearGradient>
<linearGradient id="e10" x1="0" y1="607" x2="0" y2="738" gradientUnits="userSpaceOnUse"><stop offset="0.000" stop-color="#2e2e2e" stop-opacity="0.509"/><stop offset="0.045" stop-color="#2e2e2e" stop-opacity="0.572"/><stop offset="0.091" stop-color="#2e2e2e" stop-opacity="0.575"/><stop offset="0.136" stop-color="#2e2e2e" stop-opacity="0.542"/><stop offset="0.182" stop-color="#2e2e2e" stop-opacity="0.476"/><stop offset="0.227" stop-color="#2e2e2e" stop-opacity="0.384"/><stop offset="0.273" stop-color="#2e2e2e" stop-opacity="0.278"/><stop offset="0.318" stop-color="#2e2e2e" stop-opacity="0.181"/><stop offset="0.364" stop-color="#2e2e2e" stop-opacity="0.106"/><stop offset="0.409" stop-color="#2e2e2e" stop-opacity="0.057"/><stop offset="0.455" stop-color="#2e2e2e" stop-opacity="0.029"/><stop offset="0.500" stop-color="#2e2e2e" stop-opacity="0.015"/><stop offset="0.545" stop-color="#2e2e2e" stop-opacity="0.008"/><stop offset="0.591" stop-color="#2e2e2e" stop-opacity="0.004"/><stop offset="0.636" stop-color="#2e2e2e" stop-opacity="0.002"/><stop offset="0.682" stop-color="#2e2e2e" stop-opacity="0.001"/><stop offset="0.727" stop-color="#2e2e2e" stop-opacity="0.001"/><stop offset="0.773" stop-color="#2e2e2e" stop-opacity="0.000"/><stop offset="0.818" stop-color="#2e2e2e" stop-opacity="0.000"/><stop offset="0.864" stop-color="#2e2e2e" stop-opacity="0.000"/><stop offset="0.909" stop-color="#2e2e2e" stop-opacity="0.000"/><stop offset="0.955" stop-color="#2e2e2e" stop-opacity="0.000"/><stop offset="1.000" stop-color="#2e2e2e" stop-opacity="0.000"/></linearGradient>
<linearGradient id="e11" x1="0" y1="607" x2="0" y2="738" gradientUnits="userSpaceOnUse"><stop offset="0.000" stop-color="#6e6e6e" stop-opacity="0.410"/><stop offset="0.045" stop-color="#6e6e6e" stop-opacity="0.464"/><stop offset="0.091" stop-color="#6e6e6e" stop-opacity="0.464"/><stop offset="0.136" stop-color="#6e6e6e" stop-opacity="0.419"/><stop offset="0.182" stop-color="#6e6e6e" stop-opacity="0.335"/><stop offset="0.227" stop-color="#6e6e6e" stop-opacity="0.234"/><stop offset="0.273" stop-color="#6e6e6e" stop-opacity="0.140"/><stop offset="0.318" stop-color="#6e6e6e" stop-opacity="0.074"/><stop offset="0.364" stop-color="#6e6e6e" stop-opacity="0.036"/><stop offset="0.409" stop-color="#6e6e6e" stop-opacity="0.017"/><stop offset="0.455" stop-color="#6e6e6e" stop-opacity="0.009"/><stop offset="0.500" stop-color="#6e6e6e" stop-opacity="0.005"/><stop offset="0.545" stop-color="#6e6e6e" stop-opacity="0.003"/><stop offset="0.591" stop-color="#6e6e6e" stop-opacity="0.002"/><stop offset="0.636" stop-color="#6e6e6e" stop-opacity="0.001"/><stop offset="0.682" stop-color="#6e6e6e" stop-opacity="0.001"/><stop offset="0.727" stop-color="#6e6e6e" stop-opacity="0.000"/><stop offset="0.773" stop-color="#6e6e6e" stop-opacity="0.000"/><stop offset="0.818" stop-color="#6e6e6e" stop-opacity="0.000"/><stop offset="0.864" stop-color="#6e6e6e" stop-opacity="0.000"/><stop offset="0.909" stop-color="#6e6e6e" stop-opacity="0.000"/><stop offset="0.955" stop-color="#6e6e6e" stop-opacity="0.000"/><stop offset="1.000" stop-color="#6e6e6e" stop-opacity="0.000"/></linearGradient>
<linearGradient id="e12" x1="0" y1="607" x2="0" y2="738" gradientUnits="userSpaceOnUse"><stop offset="0.000" stop-color="#a8a8a8" stop-opacity="0.376"/><stop offset="0.045" stop-color="#a8a8a8" stop-opacity="0.413"/><stop offset="0.091" stop-color="#a8a8a8" stop-opacity="0.401"/><stop offset="0.136" stop-color="#a8a8a8" stop-opacity="0.337"/><stop offset="0.182" stop-color="#a8a8a8" stop-opacity="0.239"/><stop offset="0.227" stop-color="#a8a8a8" stop-opacity="0.141"/><stop offset="0.273" stop-color="#a8a8a8" stop-opacity="0.070"/><stop offset="0.318" stop-color="#a8a8a8" stop-opacity="0.031"/><stop offset="0.364" stop-color="#a8a8a8" stop-opacity="0.014"/><stop offset="0.409" stop-color="#a8a8a8" stop-opacity="0.008"/><stop offset="0.455" stop-color="#a8a8a8" stop-opacity="0.005"/><stop offset="0.500" stop-color="#a8a8a8" stop-opacity="0.003"/><stop offset="0.545" stop-color="#a8a8a8" stop-opacity="0.002"/><stop offset="0.591" stop-color="#a8a8a8" stop-opacity="0.001"/><stop offset="0.636" stop-color="#a8a8a8" stop-opacity="0.001"/><stop offset="0.682" stop-color="#a8a8a8" stop-opacity="0.000"/><stop offset="0.727" stop-color="#a8a8a8" stop-opacity="0.000"/><stop offset="0.773" stop-color="#a8a8a8" stop-opacity="0.000"/><stop offset="0.818" stop-color="#a8a8a8" stop-opacity="0.000"/><stop offset="0.864" stop-color="#a8a8a8" stop-opacity="0.000"/><stop offset="0.909" stop-color="#a8a8a8" stop-opacity="0.000"/><stop offset="0.955" stop-color="#a8a8a8" stop-opacity="0.000"/><stop offset="1.000" stop-color="#a8a8a8" stop-opacity="0.000"/></linearGradient>
</defs>
<g clip-path="url(#cE)"><g filter="url(#b1)"><rect x="53.7" y="600" width="13.8" height="140" fill="url(#e1)"/><rect x="71.1" y="600" width="13.8" height="140" fill="url(#e2)"/><rect x="88.5" y="600" width="13.8" height="140" fill="url(#e3)"/><rect x="118.3" y="600" width="13.8" height="140" fill="url(#e4)"/><rect x="135.7" y="600" width="13.8" height="140" fill="url(#e5)"/><rect x="153.1" y="600" width="13.8" height="140" fill="url(#e6)"/><rect x="183.3" y="600" width="13.8" height="140" fill="url(#e7)"/><rect x="200.7" y="600" width="13.8" height="140" fill="url(#e8)"/><rect x="218.1" y="600" width="13.8" height="140" fill="url(#e9)"/><rect x="248.3" y="600" width="13.8" height="140" fill="url(#e10)"/><rect x="265.7" y="600" width="13.8" height="140" fill="url(#e11)"/><rect x="283.1" y="600" width="13.8" height="140" fill="url(#e12)"/></g></g>
<g stroke="#a8a8a8" stroke-opacity="0.24" stroke-width="2.2" stroke-linecap="round" fill="none">
<path d="M98.7,613.5h0M93.0,644.8h0M95.3,613.1h0M97.4,621.9h0M92.3,655.2h0M95.0,611.2h0M94.3,640.4h0M93.7,636.0h0M93.9,618.5h0M95.8,649.1h0M99.6,630.9h0M94.6,653.7h0M99.5,647.2h0M97.7,638.2h0M91.4,615.9h0M101.7,632.3h0M99.5,615.3h0M96.7,624.1h0M94.8,615.6h0M94.6,629.9h0M92.6,625.4h0M89.7,628.1h0M89.9,630.0h0M99.1,626.1h0M97.6,655.4h0M89.9,691.6h0M89.1,622.4h0M99.6,622.0h0M91.2,634.9h0M90.6,617.5h0M98.5,633.7h0M94.4,622.3h0M94.4,625.3h0M96.2,642.6h0M101.2,615.2h0M99.4,648.1h0M96.3,628.9h0"/>
<path d="M91.8,623.1h0M98.7,644.5h0M98.0,619.6h0M100.6,635.1h0M96.7,613.2h0M89.9,651.3h0M92.4,648.5h0M91.8,619.5h0M91.0,625.3h0M95.9,652.9h0M99.2,624.7h0M92.2,653.9h0M100.0,616.7h0M90.8,630.8h0M101.7,620.3h0M97.5,656.4h0M100.0,614.7h0M94.9,611.1h0M94.7,643.9h0M93.1,631.0h0M101.4,631.0h0M101.3,639.1h0M100.0,630.1h0M101.7,628.1h0M89.2,621.1h0M94.0,630.1h0M96.8,626.7h0M99.5,637.0h0M91.3,625.5h0M92.1,695.7h0M93.9,629.1h0M93.0,620.3h0M98.3,623.9h0M90.5,658.1h0M100.4,649.4h0M95.9,633.1h0M95.1,655.0h0M95.4,621.2h0M97.0,635.1h0"/>
<path d="M94.2,631.5h0M101.0,642.6h0M96.1,628.5h0M93.3,617.3h0M94.9,621.4h0M94.1,634.4h0M101.0,623.4h0M99.1,664.3h0M89.5,618.2h0M96.6,607.4h0M99.1,618.5h0M89.3,621.4h0M92.3,636.5h0M95.2,640.4h0M96.8,620.0h0M98.9,617.6h0M93.4,613.0h0M93.4,638.8h0M98.5,618.7h0M94.5,631.7h0M91.5,623.5h0M101.7,615.1h0M99.7,626.4h0M92.0,617.2h0M94.8,625.6h0M92.0,641.4h0M92.7,623.7h0M100.2,614.4h0M95.0,629.3h0M91.1,629.1h0M95.9,622.9h0M90.4,637.2h0M90.1,637.0h0M94.3,636.2h0M93.0,652.7h0M96.1,612.8h0M100.1,646.1h0M101.0,626.5h0M93.2,620.4h0M98.2,621.4h0"/>
<path d="M92.3,631.1h0M95.8,628.5h0M94.5,608.6h0M89.6,622.9h0M96.5,625.8h0M92.1,626.3h0M93.8,641.3h0M91.5,618.1h0M96.3,642.5h0M93.4,628.1h0M97.5,630.5h0M97.2,615.4h0M89.8,648.0h0M98.3,626.5h0M92.9,627.5h0M95.8,647.5h0M100.9,620.7h0M94.5,626.2h0M98.1,638.1h0M92.1,624.8h0M91.8,639.5h0M98.3,619.8h0M99.5,637.1h0M90.5,641.8h0M95.8,622.7h0M93.2,612.8h0M94.3,647.9h0M100.7,610.3h0M99.6,644.6h0M94.3,642.8h0M93.7,621.6h0M94.7,673.7h0M101.9,661.7h0M92.3,618.9h0M100.0,628.6h0M94.8,618.5h0M95.4,624.7h0M101.5,640.6h0"/>
<path d="M95.8,637.4h0M90.1,610.9h0M97.8,631.3h0M91.3,642.3h0M94.7,620.7h0M95.4,666.2h0M91.3,645.8h0M95.8,616.4h0M92.5,638.0h0M92.4,634.5h0M95.2,651.7h0M91.5,622.6h0M93.0,639.7h0M92.6,640.1h0M100.1,612.3h0M101.0,620.1h0M99.2,641.1h0M95.1,609.0h0M94.7,639.3h0M96.1,644.8h0M93.3,625.7h0M95.0,624.7h0M101.5,623.3h0M100.9,677.3h0M94.5,633.0h0M94.8,627.7h0M99.4,682.0h0M92.8,649.7h0M99.2,643.3h0M101.1,624.6h0M95.4,625.6h0M101.6,658.5h0M90.8,622.8h0M94.7,619.5h0M100.9,623.1h0M91.5,620.9h0M90.4,634.8h0M89.1,656.2h0M101.9,628.6h0M90.7,632.7h0"/>
<path d="M92.0,631.6h0M94.4,628.4h0M94.5,631.7h0M99.3,659.5h0M97.7,657.3h0M97.5,629.4h0M100.7,614.2h0M101.8,615.0h0M89.5,657.5h0M100.0,623.6h0M88.9,633.5h0M97.7,618.7h0M101.9,644.1h0M97.0,643.3h0M94.0,651.8h0M100.4,615.4h0M90.7,635.9h0M96.9,618.8h0M99.6,637.8h0M91.5,615.3h0M93.7,647.5h0M95.0,623.5h0M97.0,621.2h0M101.8,634.1h0M94.9,632.8h0M90.4,621.2h0M100.4,627.0h0M98.9,647.7h0M96.9,640.0h0M96.8,611.8h0M90.5,612.5h0M89.8,623.1h0M96.6,629.0h0M98.0,615.2h0M93.0,643.3h0M90.7,620.4h0M92.6,615.3h0"/>
<path d="M92.6,623.2h0M92.1,637.8h0M91.4,643.3h0M96.7,623.9h0M95.6,611.2h0M98.9,622.1h0M101.5,626.2h0M90.7,630.2h0M97.9,618.9h0M90.5,627.0h0M90.9,625.9h0M93.4,637.9h0M90.9,641.5h0M93.3,647.0h0M93.8,679.2h0M100.6,646.8h0M92.2,617.7h0M90.8,620.4h0M92.6,616.7h0M99.3,647.1h0M96.9,625.5h0M99.6,629.1h0M93.9,640.0h0M93.1,616.2h0M95.8,630.7h0M101.6,634.0h0M93.3,617.6h0M89.4,615.0h0M94.4,624.4h0M101.3,624.1h0M90.4,642.0h0M101.4,649.7h0M97.1,615.8h0M99.3,648.6h0M96.4,644.2h0M89.9,635.1h0M97.2,635.4h0M101.9,653.7h0"/>
<path d="M99.0,618.6h0M97.1,627.8h0M101.9,616.7h0M97.7,608.7h0M90.3,624.3h0M97.3,612.5h0M100.8,644.3h0M101.5,623.0h0M93.9,622.6h0M91.0,639.0h0M97.4,611.0h0M101.4,607.2h0M94.8,638.3h0M98.2,611.9h0M99.2,650.8h0M96.9,626.1h0M97.3,641.4h0M94.5,637.6h0M92.4,628.6h0M91.9,631.7h0M99.2,621.7h0M98.4,609.3h0M92.6,648.2h0M93.5,631.9h0M95.4,621.3h0M101.0,609.8h0M94.8,642.8h0M89.4,630.3h0M89.5,636.6h0M98.4,625.9h0M99.6,623.8h0M100.0,616.2h0M95.1,615.3h0M90.9,619.6h0M93.1,657.5h0M97.5,624.6h0M99.8,627.6h0M95.1,651.1h0M91.2,623.8h0"/>
<path d="M159.1,631.2h0M153.9,636.8h0M153.4,637.0h0M160.2,631.2h0M163.4,630.1h0M162.9,635.5h0M154.3,616.7h0M165.5,646.2h0M155.4,624.0h0M161.0,659.6h0M158.3,645.5h0M155.5,620.0h0M165.1,612.8h0M160.7,625.0h0M157.2,615.5h0M154.2,621.6h0M159.7,631.3h0M158.1,635.1h0M164.3,634.8h0M153.4,632.9h0M161.8,622.2h0M163.5,638.5h0M154.8,633.4h0M159.7,624.0h0M155.9,631.6h0M165.0,639.8h0M153.4,642.8h0M165.6,638.3h0M163.9,620.3h0M154.3,625.7h0M153.4,619.2h0M163.4,641.5h0M158.1,659.8h0M165.4,609.9h0M162.0,634.5h0M163.9,616.9h0M162.4,633.7h0M158.3,625.3h0M166.2,633.6h0M166.2,644.4h0M163.6,648.6h0M161.0,631.5h0"/>
<path d="M154.2,612.5h0M163.2,637.4h0M154.3,632.5h0M154.1,618.8h0M153.8,635.6h0M161.2,632.0h0M154.4,650.0h0M160.3,636.7h0M158.4,613.0h0M160.5,613.3h0M160.9,622.0h0M155.3,630.0h0M155.4,626.0h0M163.6,667.2h0M161.3,626.6h0M162.3,622.6h0M154.6,617.3h0M162.4,641.5h0M158.6,621.8h0M157.0,618.1h0M160.8,618.8h0M163.1,640.2h0M164.3,632.4h0M155.0,625.6h0M159.0,609.7h0M162.4,631.6h0M155.2,630.1h0M166.2,616.0h0M165.8,627.4h0M163.5,634.2h0M163.4,626.5h0M159.0,622.7h0M164.7,678.8h0M160.9,679.9h0M161.3,638.5h0M156.6,632.9h0M163.4,638.2h0M160.2,635.7h0M162.4,654.4h0M162.9,639.3h0"/>
<path d="M160.0,631.8h0M155.7,636.9h0M166.1,616.9h0M162.7,629.5h0M162.6,631.6h0M161.3,610.6h0M157.7,617.8h0M164.4,651.4h0M155.6,667.0h0M154.6,623.0h0M158.2,618.1h0M158.1,625.4h0M154.9,632.9h0M165.8,626.7h0M159.8,609.5h0M154.0,624.2h0M154.2,635.7h0M165.6,621.4h0M153.9,636.5h0M154.7,637.5h0M156.7,636.9h0M163.4,645.9h0M166.4,625.6h0M154.8,630.9h0M164.2,628.3h0M159.7,660.8h0M155.4,634.5h0M154.4,623.7h0M166.0,636.2h0M157.8,635.7h0M164.3,616.2h0M161.3,625.6h0M162.4,607.5h0M163.0,623.7h0M162.1,622.6h0M161.0,611.0h0M158.2,624.7h0"/>
<path d="M159.4,638.8h0M161.5,619.0h0M157.2,625.0h0M163.7,636.1h0M164.4,638.9h0M158.0,613.2h0M155.6,651.2h0M166.4,624.2h0M163.2,616.9h0M156.6,661.3h0M155.2,611.8h0M166.3,622.9h0M155.0,620.8h0M163.4,630.4h0M158.5,645.6h0M162.8,621.8h0M166.3,637.3h0M164.8,631.3h0M162.7,634.3h0M158.7,611.4h0M160.9,641.1h0M156.6,627.5h0M164.0,620.4h0M165.4,668.0h0M153.4,637.5h0M156.5,613.4h0M157.8,621.7h0M160.8,645.1h0M155.4,650.4h0M154.4,631.5h0M160.0,655.6h0M163.1,631.7h0M159.7,613.9h0M165.3,631.8h0M165.4,617.1h0M164.0,642.5h0M156.1,624.7h0M166.5,626.9h0"/>
<path d="M165.6,618.8h0M166.1,610.9h0M158.3,648.4h0M154.0,645.6h0M156.1,629.1h0M154.1,619.8h0M162.8,634.0h0M157.5,623.8h0M163.9,659.4h0M164.3,612.8h0M154.1,628.0h0M157.6,614.0h0M156.9,624.1h0M157.6,634.9h0M163.2,652.9h0M158.4,622.8h0M159.9,618.6h0M165.2,688.1h0M158.6,622.5h0M156.3,641.4h0M155.2,644.4h0M161.6,645.7h0M158.6,607.3h0M159.6,660.5h0M154.3,609.1h0M163.8,664.7h0M163.4,619.1h0M161.4,664.3h0M154.8,623.7h0M154.6,629.3h0M156.5,636.0h0M154.3,637.9h0M160.7,614.4h0M154.3,610.3h0M156.8,609.8h0M158.2,674.9h0M159.0,633.3h0M164.9,628.1h0M158.3,623.5h0M164.3,672.8h0M153.5,628.7h0"/>
<path d="M156.3,624.0h0M161.5,611.4h0M161.8,635.1h0M157.3,645.7h0M165.7,622.2h0M156.0,607.2h0M158.7,609.2h0M158.2,628.2h0M163.7,644.3h0M158.3,630.6h0M162.7,636.9h0M164.3,620.8h0M154.7,618.1h0M163.9,696.7h0M158.3,636.6h0M164.0,626.6h0M160.6,632.5h0M164.3,632.6h0M162.0,614.5h0M159.5,650.8h0M156.1,636.3h0M158.5,632.3h0M163.4,624.2h0M153.9,625.4h0M156.2,641.1h0M157.1,618.5h0M157.5,642.3h0M156.1,619.2h0M158.4,613.2h0M155.5,651.6h0M155.6,635.4h0M155.6,657.7h0M159.9,692.6h0M157.6,626.7h0M166.5,641.3h0M153.9,642.9h0M157.8,630.6h0M157.4,619.9h0M157.7,619.3h0"/>
<path d="M159.0,620.9h0M157.6,627.1h0M165.2,630.4h0M153.5,630.3h0M164.9,646.8h0M157.3,654.2h0M154.2,619.8h0M157.7,624.7h0M163.4,627.6h0M163.7,639.6h0M153.9,620.5h0M164.6,623.9h0M156.4,649.9h0M157.2,648.9h0M155.2,613.7h0M159.6,618.2h0M156.0,634.7h0M155.7,635.8h0M155.8,625.3h0M156.0,619.6h0M163.7,652.3h0M161.2,626.8h0M165.5,650.3h0M154.2,613.3h0M163.6,668.6h0M163.6,618.5h0M162.4,652.6h0M157.7,614.3h0M159.6,664.2h0M162.2,630.6h0M154.1,637.4h0M154.3,618.5h0M164.9,626.5h0M157.5,617.8h0M162.7,627.0h0M164.0,624.8h0M159.2,626.1h0M164.6,656.2h0M161.9,632.0h0M158.8,612.9h0"/>
<path d="M162.6,627.4h0M164.5,625.9h0M158.3,624.0h0M154.5,625.8h0M165.1,689.8h0M156.3,620.6h0M154.8,642.8h0M165.3,634.1h0M166.3,625.8h0M162.9,625.7h0M156.6,618.6h0M159.3,633.2h0M165.3,643.7h0M154.5,631.2h0M165.8,627.4h0M159.1,619.8h0M165.0,622.5h0M157.7,618.0h0M159.1,618.1h0M159.0,633.0h0M155.9,624.9h0M158.2,621.2h0M162.2,645.4h0M164.9,620.9h0M163.9,616.9h0M156.4,637.6h0M165.3,633.1h0M160.4,617.4h0M157.1,639.6h0M163.6,631.7h0M160.9,630.6h0M156.3,635.8h0M154.9,682.3h0M157.2,618.4h0M163.4,632.0h0M154.7,627.9h0M154.0,611.6h0M165.4,617.3h0M164.0,651.3h0M163.2,636.1h0M161.6,622.4h0"/>
<path d="M222.6,623.0h0M231.2,639.1h0M229.8,626.0h0M220.3,654.4h0M224.8,641.8h0M220.3,635.4h0M218.9,658.3h0M231.3,651.3h0M227.7,644.6h0M228.1,704.7h0M229.3,694.7h0M230.4,626.8h0M227.7,654.4h0M225.3,636.8h0M222.1,646.5h0M231.3,669.8h0M219.4,668.1h0M218.5,658.1h0M225.4,698.7h0M220.8,616.2h0M225.0,669.2h0M229.4,620.6h0M223.9,632.1h0M222.4,619.4h0M229.1,634.2h0M220.1,641.6h0M225.3,618.2h0M219.0,634.8h0M229.1,612.6h0M224.8,629.2h0M220.9,649.3h0M230.5,639.5h0M221.6,670.6h0M221.9,656.3h0M219.5,678.1h0M227.7,656.6h0M221.9,655.2h0M227.0,634.9h0M221.9,657.3h0M230.7,623.4h0M218.9,621.7h0M227.6,627.4h0M225.5,613.2h0M230.9,645.2h0M221.1,629.1h0M226.1,619.6h0M227.2,634.9h0M225.4,630.6h0M219.8,621.7h0M230.0,632.6h0M230.2,618.1h0M231.2,631.4h0M221.9,630.5h0M220.4,628.3h0M228.9,675.4h0M230.3,639.2h0M224.6,633.6h0M223.8,634.3h0M219.4,676.4h0M219.6,622.0h0M221.3,627.1h0M219.2,657.5h0M227.0,629.0h0M230.2,636.1h0M220.5,633.5h0M222.2,608.8h0M219.8,627.9h0M221.2,630.5h0M221.9,637.8h0M221.6,637.3h0M226.8,619.6h0M223.3,654.8h0M219.8,635.3h0M228.9,624.7h0M219.9,683.2h0"/>
<path d="M227.3,640.4h0M221.3,648.5h0M220.0,624.7h0M224.6,651.6h0M226.2,627.3h0M225.6,621.5h0M223.0,642.1h0M225.1,677.9h0M225.5,705.3h0M231.0,624.9h0M228.3,629.0h0M222.1,647.2h0M222.9,631.7h0M223.9,607.0h0M223.6,612.0h0M229.5,639.2h0M224.1,625.8h0M227.5,653.9h0M228.8,650.3h0M230.7,668.2h0M220.2,614.1h0M219.5,631.1h0M222.1,618.0h0M231.0,641.0h0M231.0,629.0h0M220.7,620.3h0M224.1,654.9h0M224.4,620.0h0M229.4,657.8h0M229.2,632.2h0M219.8,649.0h0M219.0,620.4h0M218.9,613.0h0M230.8,639.4h0M231.1,636.6h0M222.0,632.9h0M227.1,647.9h0M218.8,665.5h0M230.4,643.9h0M220.1,690.6h0M225.0,638.4h0M231.2,652.4h0M223.4,616.1h0M230.5,630.9h0M224.0,637.0h0M230.3,618.5h0M219.3,620.3h0M231.1,657.4h0M230.9,634.0h0M227.8,624.6h0M226.1,649.3h0M221.8,622.0h0M227.9,636.6h0M220.3,663.6h0M223.1,641.0h0M226.7,633.2h0M224.3,666.1h0M223.4,642.9h0M228.5,657.6h0M225.7,660.6h0M225.6,654.1h0M226.4,616.4h0M218.6,630.0h0M227.6,685.5h0M224.1,640.1h0M231.5,651.0h0M230.8,659.1h0M222.2,619.7h0M224.5,648.4h0M227.1,653.0h0M229.2,649.6h0M229.2,620.2h0M222.5,632.4h0M223.4,637.0h0M226.1,621.0h0"/>
<path d="M228.1,628.5h0M229.7,683.4h0M222.2,636.3h0M222.8,646.4h0M231.2,670.8h0M219.3,641.5h0M226.4,637.5h0M225.3,630.3h0M225.8,629.4h0M227.7,649.4h0M227.7,634.1h0M220.9,625.7h0M225.6,635.7h0M221.5,656.3h0M226.5,674.7h0M221.6,667.6h0M219.4,621.1h0M221.3,653.3h0M228.2,629.8h0M223.1,617.9h0M221.2,635.4h0M223.7,626.0h0M222.9,646.9h0M225.3,682.1h0M230.0,638.5h0M229.2,660.1h0M218.5,642.1h0M228.9,639.6h0M229.3,615.6h0M219.7,624.5h0M230.3,630.6h0M231.2,653.6h0M218.8,623.0h0M225.1,651.1h0M219.8,649.0h0M228.3,638.9h0M222.1,664.0h0M219.4,655.7h0M230.2,612.9h0M222.0,634.3h0M230.8,647.1h0M226.9,625.4h0M224.8,620.9h0M227.5,635.8h0M221.6,615.3h0M228.4,658.9h0M222.7,645.6h0M229.8,646.3h0M227.0,670.6h0M224.8,648.9h0M225.2,660.3h0M227.6,625.3h0M221.2,636.1h0M231.3,635.9h0M222.7,627.9h0M230.3,622.6h0M218.6,678.5h0M219.3,617.6h0M227.2,633.0h0M227.8,652.0h0M218.7,628.5h0M228.2,670.8h0M222.3,645.1h0M221.4,616.2h0M218.7,670.1h0M226.5,658.0h0M229.3,624.4h0M223.7,610.2h0M221.1,634.9h0M222.1,632.7h0M222.0,623.3h0M229.7,645.3h0M223.5,655.9h0M224.9,612.7h0M223.6,652.0h0M220.2,634.8h0M219.5,661.4h0"/>
<path d="M229.1,659.5h0M225.8,665.1h0M218.9,645.1h0M222.6,642.1h0M221.7,639.1h0M230.3,640.6h0M231.5,663.5h0M219.7,650.5h0M218.4,630.0h0M224.7,644.3h0M228.9,618.0h0M225.0,617.5h0M226.5,625.2h0M230.6,656.4h0M222.4,637.1h0M221.7,642.8h0M225.8,624.7h0M221.9,655.7h0M221.2,663.8h0M231.4,607.3h0M225.2,622.6h0M224.4,638.4h0M229.5,641.2h0M221.9,626.9h0M225.8,659.2h0M224.7,651.1h0M221.8,659.4h0M228.1,628.1h0M218.4,630.2h0M219.9,673.0h0M220.7,629.4h0M224.2,651.9h0M225.9,668.6h0M225.6,633.9h0M221.2,666.1h0M229.9,662.5h0M219.5,632.8h0M221.6,643.8h0M225.6,631.0h0M230.9,655.4h0M225.2,612.5h0M226.8,658.9h0M223.9,638.6h0M231.1,657.9h0M229.9,691.6h0M220.3,616.7h0M228.8,635.3h0M225.0,641.6h0M224.3,680.7h0M226.1,634.8h0M230.0,619.3h0M219.6,620.6h0M226.6,656.8h0M230.2,646.4h0M230.9,655.8h0M223.5,636.7h0M230.4,616.7h0M219.4,611.2h0M223.9,618.4h0M219.7,647.1h0M228.8,620.1h0M229.1,636.7h0M221.3,665.5h0M220.8,662.6h0M228.4,624.2h0M228.5,658.1h0M230.9,620.0h0M226.2,635.4h0M226.0,633.9h0M221.3,665.2h0M225.1,624.1h0M229.2,676.8h0M226.0,613.0h0"/>
<path d="M229.4,650.6h0M231.5,641.7h0M225.9,669.4h0M221.5,662.5h0M225.6,623.3h0M219.1,655.9h0M228.5,625.9h0M230.4,668.8h0M219.6,684.1h0M228.8,675.0h0M227.0,653.8h0M222.9,636.6h0M223.3,634.6h0M225.6,636.6h0M222.2,635.0h0M220.9,619.3h0M227.8,631.6h0M223.5,630.2h0M229.7,633.9h0M225.8,643.7h0M225.8,631.4h0M224.0,631.9h0M224.4,633.0h0M226.6,615.5h0M225.0,617.2h0M224.1,648.4h0M223.5,641.4h0M230.7,681.7h0M226.8,619.4h0M230.1,696.4h0M223.6,630.7h0M229.7,620.0h0M223.9,648.3h0M220.7,665.3h0M231.1,649.6h0M220.7,639.8h0M227.5,659.1h0M229.9,614.3h0M221.7,666.5h0M231.3,647.5h0M221.4,636.9h0M227.8,626.0h0M224.5,691.1h0M229.6,636.2h0M228.3,655.1h0M219.0,685.6h0M222.0,641.2h0M219.0,615.7h0M225.1,640.4h0M229.4,719.1h0M226.3,612.6h0M230.4,623.8h0M231.6,658.9h0M230.9,644.2h0M218.6,630.8h0M226.3,626.8h0M222.1,656.4h0M228.2,649.7h0M224.8,630.7h0M223.5,632.5h0M223.4,625.1h0M228.0,660.4h0M227.3,667.5h0M218.6,654.6h0M223.8,675.2h0M226.4,634.8h0M230.6,632.1h0M230.9,643.6h0M220.7,619.2h0M225.2,621.2h0M218.7,637.6h0M225.3,623.8h0M220.9,633.3h0M225.5,658.9h0"/>
<path d="M231.6,659.4h0M223.0,621.7h0M227.6,653.2h0M224.2,623.4h0M227.3,621.9h0M228.6,661.9h0M224.0,663.7h0M228.4,615.1h0M226.9,649.2h0M231.0,614.7h0M229.4,637.1h0M222.7,629.0h0M219.4,642.0h0M231.0,660.4h0M225.5,630.2h0M220.5,636.1h0M225.5,636.8h0M225.7,660.5h0M229.7,657.6h0M219.6,655.8h0M224.7,609.0h0M229.3,632.7h0M224.3,649.4h0M219.0,686.8h0M230.8,635.0h0M228.3,617.1h0M227.3,679.7h0M222.0,644.7h0M227.6,616.1h0M227.2,680.7h0M221.1,631.2h0M224.3,632.9h0M219.7,653.0h0M230.3,637.8h0M218.8,642.3h0M229.2,654.1h0M219.6,632.6h0M219.7,633.6h0M222.6,624.3h0M224.4,638.4h0M219.9,676.9h0M225.8,631.0h0M224.9,663.1h0M225.5,689.7h0M218.9,660.0h0M223.1,646.2h0M226.6,640.4h0M221.0,647.8h0M220.8,666.7h0M221.8,608.0h0M231.5,627.8h0M228.5,635.5h0M222.8,642.7h0M225.1,636.5h0M226.5,672.8h0M224.7,643.7h0M222.1,652.3h0M225.7,639.1h0M228.3,674.7h0M229.5,629.9h0M223.4,654.6h0M223.1,627.3h0M226.9,624.4h0M224.8,664.7h0M223.6,609.5h0M226.7,628.9h0M229.7,624.3h0M224.3,657.7h0M223.2,621.1h0M225.9,625.0h0M229.5,643.3h0M222.0,646.6h0M220.4,631.0h0M220.2,630.6h0"/>
<path d="M228.5,627.1h0M231.4,660.2h0M220.0,632.6h0M220.9,637.0h0M218.6,639.3h0M224.8,646.8h0M227.6,610.0h0M221.9,688.1h0M228.1,628.2h0M218.9,621.7h0M218.8,623.4h0M222.5,613.2h0M226.7,630.5h0M220.5,635.6h0M229.1,620.5h0M227.0,637.1h0M222.1,644.0h0M224.7,669.3h0M223.9,632.1h0M226.3,661.1h0M223.5,615.2h0M225.0,656.3h0M221.5,639.4h0M219.2,650.6h0M228.1,630.7h0M220.6,632.0h0M221.9,620.9h0M222.7,620.7h0M221.3,624.7h0M231.2,652.8h0M223.3,655.4h0M228.2,655.9h0M224.7,617.4h0M226.5,629.7h0M225.6,669.7h0M220.7,650.3h0M231.4,626.5h0M225.3,638.6h0M226.7,640.0h0M229.4,655.7h0M230.1,615.1h0M218.8,631.4h0M229.5,620.3h0M229.0,627.2h0M227.8,621.5h0M227.1,658.4h0M228.0,624.2h0M226.6,630.9h0M230.1,629.3h0M230.3,642.3h0M231.6,615.5h0M225.0,610.1h0M219.2,646.7h0M223.6,627.6h0M226.0,678.5h0M222.6,643.7h0M228.4,619.6h0M230.6,626.9h0M220.8,672.4h0M225.4,657.7h0M223.4,649.7h0M226.4,656.3h0M219.8,607.8h0M231.4,634.0h0M228.6,678.3h0M219.8,621.7h0M220.9,635.2h0M220.1,619.8h0M223.6,657.6h0M223.3,628.8h0M219.9,611.4h0M225.0,608.4h0M223.3,622.8h0"/>
<path d="M226.9,691.6h0M221.1,673.3h0M227.8,625.0h0M228.5,636.0h0M221.3,660.6h0M220.6,621.2h0M224.9,659.0h0M224.9,638.2h0M223.1,646.1h0M225.2,642.6h0M225.3,645.0h0M222.3,624.9h0M229.1,636.1h0M221.4,633.6h0M228.9,629.2h0M218.6,622.5h0M222.4,649.5h0M219.8,609.6h0M223.3,638.2h0M224.7,648.4h0M219.7,640.0h0M226.7,661.0h0M228.2,631.6h0M227.6,689.4h0M227.0,662.4h0M228.9,635.6h0M218.4,661.8h0M228.2,643.5h0M219.1,647.7h0M225.4,625.6h0M221.7,649.0h0M224.2,627.5h0M219.7,634.7h0M222.9,665.5h0M218.7,637.5h0M228.9,635.4h0M229.1,625.3h0M228.4,634.9h0M227.0,629.9h0M227.3,611.5h0M223.1,659.5h0M222.7,653.9h0M220.3,646.2h0M224.2,613.3h0M229.7,647.0h0M219.2,642.9h0M220.0,630.2h0M227.0,668.3h0M220.9,629.1h0M219.8,646.5h0M230.3,673.0h0M224.0,634.0h0M230.5,645.2h0M226.3,628.3h0M221.0,639.6h0M228.0,636.3h0M229.2,653.1h0M221.9,667.8h0M222.6,621.5h0M230.6,642.7h0M221.7,610.8h0M218.9,623.0h0M229.5,668.1h0M225.1,633.4h0M222.0,654.4h0M230.5,630.1h0M226.4,672.2h0M218.9,621.0h0M226.6,662.3h0M222.0,624.1h0M219.8,624.5h0M228.7,617.2h0M224.5,634.9h0M222.2,635.1h0M229.9,644.8h0M227.0,625.9h0"/>
<path d="M294.8,614.1h0M293.5,608.9h0M285.1,613.8h0M284.1,623.0h0M286.7,616.0h0M289.2,633.9h0M292.2,614.1h0M292.7,610.3h0M293.0,628.5h0M286.5,620.7h0M290.2,627.7h0M285.7,619.0h0M294.7,619.4h0M285.5,627.0h0M293.1,614.4h0M283.9,633.0h0M291.4,614.7h0M296.4,620.6h0M294.1,621.6h0M289.2,613.2h0M296.2,630.1h0M289.7,625.8h0M288.3,623.2h0M293.6,618.5h0M294.2,634.0h0M292.2,607.8h0M288.9,614.8h0M292.1,627.3h0M294.3,639.3h0M284.5,650.6h0M296.2,607.3h0M293.6,624.6h0M284.5,611.9h0M285.0,635.0h0M285.6,613.7h0M291.0,622.1h0M283.5,625.7h0M285.0,615.7h0M294.2,625.9h0M294.4,625.5h0M285.5,623.4h0M287.7,624.9h0M288.3,661.5h0M296.3,629.1h0M290.7,627.4h0M291.1,613.6h0M286.5,626.0h0M289.5,616.1h0M295.3,634.5h0M284.6,616.6h0M284.8,624.3h0M283.8,626.9h0M286.8,643.3h0M294.9,623.1h0M291.7,647.7h0M288.4,608.1h0M286.1,617.8h0M291.7,630.1h0M295.2,610.2h0M293.7,620.8h0M292.8,628.1h0M296.6,613.2h0M290.2,624.0h0M296.3,624.6h0M286.9,626.8h0M288.4,608.4h0M294.2,685.3h0M290.3,630.0h0"/>
<path d="M288.5,609.4h0M293.2,666.8h0M291.6,619.4h0M292.1,609.6h0M296.4,631.1h0M291.6,609.2h0M292.8,625.2h0M284.9,625.0h0M283.7,609.7h0M290.6,617.7h0M287.8,659.8h0M289.9,634.6h0M289.1,632.2h0M294.0,607.4h0M285.0,609.8h0M294.4,610.6h0M286.5,626.1h0M290.5,621.3h0M284.6,619.7h0M291.9,644.2h0M296.1,616.0h0M293.0,610.4h0M287.0,609.4h0M287.4,633.1h0M283.4,612.9h0M287.4,616.5h0M293.8,612.5h0M294.8,610.9h0M294.1,609.2h0M286.1,621.4h0M293.1,617.6h0M293.1,611.9h0M294.3,609.5h0M294.6,626.1h0M289.1,608.1h0M288.0,609.5h0M291.8,612.2h0M284.5,611.9h0M284.7,639.5h0M290.1,613.8h0M295.6,610.4h0M288.6,607.5h0M286.0,615.8h0M296.4,618.8h0M290.8,613.3h0M292.5,629.7h0M289.7,643.6h0M286.3,619.8h0M287.6,622.3h0M287.2,620.4h0M291.2,609.4h0M287.8,614.3h0M287.1,617.7h0M291.1,635.3h0M292.1,610.6h0M284.8,629.2h0M286.1,611.7h0M284.9,618.9h0M292.1,608.7h0M293.0,610.0h0M294.8,627.3h0M292.8,608.9h0M288.4,614.0h0M294.2,616.2h0M294.0,625.9h0M283.5,644.7h0M288.6,613.2h0M296.6,607.1h0M293.1,617.3h0"/>
<path d="M292.0,623.3h0M289.8,631.2h0M294.5,634.6h0M294.7,620.1h0M287.9,621.5h0M292.8,615.4h0M293.5,616.7h0M293.8,618.0h0M288.3,658.1h0M287.8,637.7h0M288.8,617.9h0M293.9,622.1h0M294.3,616.5h0M287.8,610.4h0M289.8,614.3h0M293.8,647.8h0M287.1,609.0h0M285.2,625.0h0M286.2,626.1h0M285.4,621.3h0M294.0,615.9h0M285.2,610.8h0M287.9,625.5h0M291.3,612.5h0M283.4,622.1h0M290.8,626.9h0M285.2,655.3h0M291.2,633.2h0M291.0,620.4h0M289.2,620.7h0M285.6,619.8h0M286.5,617.0h0M290.4,639.2h0M292.6,624.4h0M283.5,609.1h0M289.6,629.3h0M283.9,651.6h0M290.6,622.9h0M291.8,615.5h0M285.1,622.2h0M290.5,621.3h0M287.6,628.1h0M292.3,627.5h0M293.2,617.0h0M293.1,630.5h0M291.9,611.9h0M294.4,615.7h0M291.5,623.5h0M289.0,613.7h0M283.5,620.9h0M289.5,626.6h0M291.4,615.6h0M291.7,612.4h0M287.1,623.5h0M296.6,618.9h0M292.7,637.1h0M284.7,611.1h0M291.7,626.0h0M285.9,623.3h0M294.0,618.7h0M290.7,628.2h0M296.4,627.4h0"/>
<path d="M287.8,635.1h0M294.3,618.8h0M284.2,634.8h0M287.4,618.4h0M291.7,609.7h0M293.0,614.9h0M290.3,631.9h0M287.0,621.7h0M296.0,637.9h0M291.0,625.7h0M295.1,612.9h0M294.5,608.1h0M293.8,624.3h0M287.3,643.5h0M291.9,626.5h0M293.8,642.4h0M286.5,614.3h0M284.9,627.3h0M287.2,638.5h0M288.8,630.5h0M290.9,628.2h0M289.0,616.4h0M284.6,635.8h0M292.6,617.8h0M286.0,618.6h0M284.5,628.1h0M292.2,649.1h0M290.2,611.9h0M291.5,615.1h0M284.3,626.2h0M285.1,610.9h0M287.9,630.4h0M295.0,612.4h0M292.3,631.8h0M284.9,614.4h0M290.1,609.4h0M293.9,637.5h0M291.7,614.7h0M291.4,611.5h0M292.6,610.6h0M288.5,616.0h0M289.2,644.9h0M284.8,614.7h0M290.7,641.7h0M292.3,619.0h0M284.7,609.7h0M290.0,620.0h0M292.6,632.1h0M287.9,611.2h0M296.1,616.4h0M294.8,631.9h0M295.7,627.4h0M283.5,611.7h0M286.5,608.8h0M292.9,610.7h0M291.6,613.5h0M286.2,662.4h0M290.0,620.9h0M295.8,618.9h0M285.9,614.9h0M292.4,624.8h0M289.0,616.1h0M286.8,620.3h0M295.4,613.1h0M289.1,612.9h0"/>
<path d="M290.2,634.0h0M285.1,608.1h0M291.9,651.8h0M291.2,623.3h0M291.1,634.4h0M283.5,608.4h0M287.8,609.1h0M291.5,621.8h0M290.7,609.2h0M290.3,607.9h0M293.1,618.3h0M287.0,684.2h0M284.7,618.2h0M291.9,623.2h0M288.8,635.7h0M289.5,619.2h0M291.1,647.6h0M295.1,607.8h0M288.7,635.2h0M287.1,607.7h0M287.2,611.5h0M285.8,631.1h0M293.5,641.4h0M294.6,611.4h0M283.7,643.1h0M294.9,653.0h0M285.1,653.2h0M293.8,620.4h0M293.2,618.2h0M294.8,625.2h0M283.5,627.7h0M296.0,613.4h0M284.4,614.3h0M286.2,629.2h0M284.1,618.0h0M290.2,629.2h0M290.2,620.9h0M290.8,613.7h0M294.8,614.2h0M288.6,626.4h0M296.6,623.5h0M286.5,618.1h0M292.2,615.8h0M289.3,651.3h0M284.7,644.4h0M293.1,619.0h0M292.0,613.5h0M293.8,630.0h0M287.3,627.9h0M289.2,610.9h0M285.7,608.3h0M288.1,611.7h0M292.1,629.9h0M287.0,614.3h0M287.6,624.9h0M290.7,639.1h0M294.6,635.9h0M295.6,618.2h0M286.0,616.0h0M289.2,611.7h0M286.2,644.6h0M284.6,613.9h0M291.1,613.8h0M288.4,631.1h0"/>
<path d="M284.0,616.4h0M289.4,613.0h0M291.0,637.8h0M287.7,630.8h0M294.3,629.8h0M284.1,625.8h0M284.1,646.1h0M294.7,636.0h0M285.7,617.9h0M295.8,617.4h0M290.8,624.6h0M288.6,661.6h0M285.6,620.7h0M291.0,618.5h0M293.0,610.3h0M283.5,665.9h0M296.5,620.2h0M289.5,629.7h0M286.8,625.2h0M294.8,629.3h0M295.0,624.2h0M291.9,646.4h0M287.6,620.9h0M293.6,618.1h0M291.5,616.3h0M285.7,679.9h0M285.8,616.4h0M290.1,642.6h0M287.8,637.0h0M285.4,617.9h0M295.8,613.0h0M284.8,682.2h0M289.8,615.1h0M290.1,608.8h0M283.6,614.4h0M295.0,644.3h0M293.4,626.1h0M295.1,627.2h0M291.3,607.6h0M293.0,618.8h0M292.4,613.1h0M294.9,619.9h0M294.3,631.0h0M292.3,615.6h0M284.1,619.3h0M283.7,658.2h0M296.5,618.3h0M293.7,611.4h0M284.5,638.1h0M294.2,610.9h0M288.5,609.0h0M289.1,615.3h0M284.2,641.5h0M294.7,612.7h0M292.5,616.1h0M288.4,636.6h0M289.9,616.0h0M292.1,616.1h0M289.8,610.0h0M291.5,615.4h0M283.8,638.3h0M284.7,608.8h0M288.8,621.5h0M292.3,629.2h0M295.8,614.8h0M292.9,619.2h0M286.6,610.8h0"/>
<path d="M296.5,618.7h0M294.5,615.1h0M290.0,631.5h0M283.5,629.1h0M289.5,630.5h0M296.1,607.2h0M287.1,642.1h0M284.5,640.6h0M290.9,618.0h0M291.3,636.7h0M291.5,629.5h0M292.9,637.5h0M287.9,682.8h0M286.3,608.6h0M290.9,635.5h0M287.7,607.6h0M288.8,629.4h0M287.9,612.6h0M292.5,631.1h0M291.9,624.3h0M291.4,626.4h0M291.5,623.6h0M284.2,612.0h0M286.3,616.9h0M291.4,626.6h0M294.3,625.8h0M296.1,608.6h0M286.9,615.3h0M290.1,622.2h0M293.1,621.8h0M294.1,619.7h0M285.6,616.1h0M291.3,630.2h0M287.6,626.5h0M296.4,609.3h0M290.4,612.8h0M285.6,629.8h0M287.7,613.8h0M290.5,628.9h0M295.0,607.4h0M290.5,618.0h0M292.8,622.6h0M284.6,612.6h0M285.5,621.3h0M295.2,613.9h0M293.7,610.4h0M289.4,667.2h0M288.1,615.2h0M290.1,633.1h0M295.3,620.3h0M290.4,623.1h0M287.3,609.8h0M284.4,611.5h0M285.6,620.5h0M296.4,653.3h0M295.4,613.7h0M284.9,630.4h0M291.1,654.1h0M288.4,622.1h0"/>
<path d="M284.8,617.7h0M283.7,635.5h0M291.3,638.8h0M286.8,652.3h0M291.1,664.7h0M293.0,621.7h0M293.7,625.4h0M288.2,624.3h0M291.0,625.1h0M295.6,656.5h0M288.3,610.2h0M287.3,628.7h0M284.8,616.3h0M286.3,628.0h0M291.5,616.3h0M284.3,616.7h0M284.5,607.9h0M286.4,623.9h0M294.5,611.4h0M292.6,610.2h0M284.5,624.9h0M291.4,619.8h0M287.9,643.8h0M294.6,655.0h0M293.1,611.7h0M291.1,618.8h0M283.9,612.5h0M287.0,625.0h0M290.1,619.3h0M288.5,608.0h0M287.0,612.7h0M293.0,632.3h0M283.7,622.9h0M290.7,659.3h0M289.0,624.5h0M286.1,611.6h0M285.1,610.7h0M284.4,609.0h0M295.2,630.9h0M287.2,609.1h0M292.5,616.1h0M284.5,612.0h0M289.0,624.9h0M295.5,631.3h0M293.2,610.6h0M285.9,614.6h0M291.1,626.7h0M289.8,625.8h0M287.9,624.7h0M291.0,613.9h0M285.6,613.9h0M286.6,619.8h0M284.4,628.9h0M284.0,607.8h0M294.5,616.4h0M288.1,629.6h0M294.4,614.9h0M285.2,620.2h0"/>
</g>
<g stroke="#6e6e6e" stroke-opacity="0.22" stroke-width="2.2" stroke-linecap="round" fill="none">
<path d="M78.5,619.6h0M76.4,653.0h0M82.3,633.7h0M75.3,635.0h0M76.3,648.2h0M73.4,628.2h0M83.5,620.0h0M75.7,627.8h0M74.0,620.0h0M84.1,635.6h0M80.0,631.2h0M74.8,637.1h0M82.6,637.4h0M80.5,629.0h0"/>
<path d="M76.2,623.5h0M77.5,640.3h0M77.5,628.5h0M80.8,627.4h0M76.0,642.4h0M82.6,625.6h0M81.8,628.4h0M75.5,624.2h0M75.8,621.7h0M75.7,623.1h0M73.1,648.4h0M75.5,655.3h0M72.7,635.3h0M84.4,627.4h0"/>
<path d="M79.1,627.2h0M82.0,643.7h0M80.5,644.6h0M80.5,621.9h0M79.8,644.5h0M72.9,627.9h0M81.6,616.8h0M80.1,652.4h0M74.4,627.4h0M84.3,636.4h0M73.2,622.3h0M76.0,637.3h0M75.5,635.0h0M83.4,638.0h0"/>
<path d="M72.8,636.2h0M81.0,646.2h0M81.3,619.4h0M74.0,639.6h0M81.8,645.7h0M81.4,623.8h0M73.8,626.2h0M82.8,638.8h0M78.4,638.2h0M75.0,623.6h0M81.5,624.2h0M76.1,655.8h0M81.8,629.0h0M83.4,614.5h0"/>
<path d="M78.3,637.5h0M71.4,618.7h0M81.9,636.7h0M72.2,615.8h0M74.3,643.5h0M72.5,624.1h0M81.6,625.0h0M80.5,626.2h0M75.1,641.8h0M81.9,619.7h0M78.1,637.1h0M81.7,647.0h0M81.2,621.5h0M78.6,620.4h0"/>
<path d="M74.6,618.9h0M79.1,629.4h0M74.0,623.2h0M83.0,633.8h0M79.1,641.4h0M79.3,613.3h0M78.4,631.5h0M76.2,640.3h0M77.7,651.7h0M82.9,647.2h0M77.3,634.2h0M76.0,657.3h0M75.4,630.3h0M71.8,615.1h0"/>
<path d="M79.9,639.6h0M74.4,673.8h0M75.5,661.3h0M71.7,643.1h0M81.9,618.4h0M82.2,623.0h0M80.1,623.9h0M77.9,640.7h0M83.2,644.2h0M82.3,644.5h0M81.0,632.4h0M71.7,623.5h0M82.9,639.7h0"/>
<path d="M74.7,626.6h0M82.1,652.3h0M74.9,634.3h0M78.0,632.0h0M75.7,622.5h0M80.2,624.8h0M82.0,620.6h0M83.5,633.2h0M81.6,625.5h0M78.2,616.6h0M76.0,643.5h0M78.7,626.7h0M83.5,624.5h0"/>
<path d="M136.4,649.0h0M146.2,608.8h0M137.1,643.5h0M146.2,643.9h0M139.6,633.1h0M137.7,636.0h0M137.4,681.0h0M136.8,626.4h0M143.1,622.6h0M144.8,645.2h0M145.7,611.1h0M141.5,624.2h0M143.1,624.9h0M136.3,624.8h0M139.4,619.2h0M145.1,641.1h0M140.5,664.8h0M147.5,620.3h0M149.1,608.2h0M142.3,629.2h0M147.9,667.0h0M148.1,615.7h0M148.7,637.5h0M136.5,641.8h0M145.6,690.4h0M146.5,649.8h0M139.5,625.5h0M147.9,642.6h0M144.0,623.8h0M138.6,620.5h0M143.6,632.6h0M139.8,623.1h0M147.9,623.3h0M142.4,691.7h0M138.7,617.7h0M136.7,646.1h0M142.8,660.8h0M148.3,617.9h0M146.0,647.8h0M139.1,614.2h0M138.5,633.0h0M138.1,614.4h0M142.4,614.2h0M137.3,622.4h0M139.1,643.0h0M136.1,630.1h0M137.4,628.0h0M136.6,636.1h0"/>
<path d="M137.4,623.8h0M147.2,664.3h0M146.7,633.6h0M149.0,626.4h0M146.7,630.7h0M137.1,624.1h0M143.8,651.0h0M140.1,631.0h0M141.9,627.3h0M146.0,647.5h0M139.7,666.5h0M148.0,622.0h0M143.7,618.3h0M143.0,660.9h0M136.1,635.3h0M137.7,616.9h0M141.8,617.4h0M142.3,644.5h0M139.0,619.0h0M142.3,614.1h0M143.7,645.9h0M139.9,632.6h0M136.2,676.9h0M139.8,622.0h0M139.2,615.1h0M147.8,632.7h0M140.1,619.5h0M142.9,633.7h0M140.0,648.8h0M140.7,640.4h0M146.0,607.8h0M145.7,618.0h0M147.1,634.9h0M141.3,630.0h0M141.3,696.1h0M143.7,626.2h0M139.7,626.6h0M148.7,615.6h0M147.7,628.4h0M137.7,638.6h0M149.0,642.0h0M144.6,650.0h0M148.1,654.5h0M139.2,626.1h0M136.8,633.1h0M146.5,643.0h0"/>
<path d="M144.9,615.2h0M140.7,627.7h0M142.2,639.3h0M136.2,644.9h0M141.6,619.0h0M145.2,614.8h0M147.5,694.2h0M139.9,629.2h0M144.2,635.5h0M137.6,646.0h0M145.3,622.8h0M143.6,633.1h0M148.1,661.7h0M144.3,626.4h0M143.7,643.1h0M137.3,637.5h0M140.7,619.1h0M136.7,645.4h0M142.1,625.1h0M142.7,624.8h0M142.3,611.0h0M144.2,618.0h0M146.7,610.9h0M142.6,643.1h0M146.3,652.8h0M147.6,640.7h0M142.5,619.1h0M140.4,623.9h0M147.9,657.0h0M142.5,634.0h0M137.2,626.1h0M144.0,636.6h0M141.2,624.5h0M145.7,620.0h0M141.4,640.9h0M148.6,629.7h0M138.9,629.5h0M145.8,638.6h0M148.4,632.5h0M139.3,626.9h0M136.8,632.1h0M140.6,630.1h0M147.2,634.3h0M147.2,648.8h0M138.0,628.1h0M147.3,668.8h0M140.2,623.4h0M139.7,617.4h0"/>
<path d="M145.0,627.4h0M137.7,620.5h0M141.4,639.1h0M143.0,643.2h0M143.5,617.0h0M147.9,621.8h0M147.6,643.0h0M138.7,649.5h0M143.6,623.5h0M136.8,629.4h0M147.2,626.8h0M139.1,634.2h0M146.3,609.3h0M142.3,612.3h0M136.1,639.5h0M137.2,635.7h0M138.1,621.4h0M136.9,613.9h0M136.2,631.2h0M146.9,635.3h0M146.6,619.3h0M147.8,626.7h0M137.5,620.0h0M139.0,636.7h0M138.5,627.4h0M141.2,634.0h0M136.5,625.6h0M148.2,611.3h0M145.0,625.3h0M147.7,632.1h0M146.2,613.8h0M138.7,658.5h0M138.0,634.6h0M145.4,618.4h0M141.3,628.9h0M148.8,647.3h0M141.9,619.7h0M136.8,663.3h0M136.5,619.2h0M145.2,635.1h0M137.2,625.1h0M137.5,624.9h0M148.8,652.6h0M142.9,614.5h0M139.6,611.6h0M148.4,677.9h0M136.2,649.2h0"/>
<path d="M146.5,626.7h0M145.5,622.1h0M137.6,621.4h0M142.8,613.7h0M147.3,623.1h0M142.8,607.9h0M142.0,663.2h0M146.9,614.2h0M145.9,627.0h0M139.6,619.7h0M143.6,635.3h0M148.3,633.3h0M138.6,621.4h0M144.7,627.6h0M143.7,627.9h0M147.0,656.9h0M138.1,616.8h0M138.0,620.2h0M136.4,619.3h0M136.1,629.9h0M146.3,650.2h0M144.5,613.1h0M144.8,624.3h0M136.8,629.4h0M137.3,641.5h0M136.6,627.6h0M141.0,611.3h0M145.3,614.1h0M146.0,628.6h0M147.6,619.1h0M144.8,644.3h0M142.3,647.2h0M146.6,627.9h0M146.0,628.7h0M144.4,618.7h0M140.5,614.6h0M136.4,627.0h0M138.8,649.7h0M139.6,616.8h0M148.3,620.4h0M137.6,641.7h0M145.0,612.3h0M141.0,637.6h0M141.5,607.7h0M138.7,618.5h0M144.5,628.0h0M139.6,621.4h0"/>
<path d="M144.6,654.1h0M136.9,631.5h0M141.6,617.3h0M144.3,621.7h0M147.3,632.3h0M144.0,625.4h0M143.4,621.5h0M136.2,631.4h0M143.0,633.2h0M137.4,616.9h0M143.7,613.2h0M143.4,638.9h0M137.6,651.8h0M137.0,624.2h0M147.5,621.5h0M144.2,645.3h0M147.7,617.6h0M147.3,618.9h0M145.5,642.1h0M144.6,640.7h0M142.8,647.7h0M137.9,648.3h0M139.7,700.2h0M148.8,628.4h0M136.3,622.5h0M144.4,616.8h0M144.3,624.1h0M144.7,621.5h0M143.1,636.8h0M138.8,614.6h0M146.1,620.5h0M145.3,635.6h0M141.3,643.0h0M139.6,643.7h0M141.8,643.8h0M145.7,651.7h0M140.7,625.6h0M147.1,619.7h0M140.8,634.4h0M140.0,625.2h0M140.8,622.8h0M136.6,624.3h0M144.9,632.1h0M143.5,613.4h0M148.8,619.9h0M139.8,655.2h0M136.6,629.2h0"/>
<path d="M147.9,613.0h0M144.5,638.3h0M139.0,629.0h0M137.5,623.5h0M143.0,626.6h0M145.3,615.3h0M147.3,638.3h0M138.4,631.6h0M137.8,657.6h0M140.3,641.3h0M144.0,624.7h0M141.4,614.0h0M143.4,619.2h0M143.9,626.4h0M145.1,632.9h0M147.9,623.9h0M145.3,617.0h0M137.8,631.2h0M146.3,624.3h0M138.7,624.9h0M142.4,614.3h0M138.3,640.9h0M140.2,619.7h0M145.6,619.0h0M147.0,630.5h0M143.5,620.0h0M138.6,636.5h0M147.5,608.7h0M137.1,617.5h0M139.7,648.7h0M139.9,647.7h0M140.9,666.5h0M147.7,625.2h0M147.7,646.9h0M140.8,621.1h0M136.4,642.7h0M149.2,617.0h0M143.7,631.5h0M138.6,627.3h0M143.0,634.3h0M143.1,614.4h0M138.0,619.5h0M141.9,621.0h0M142.1,630.0h0M138.4,626.2h0M138.2,639.6h0"/>
<path d="M137.7,613.9h0M139.1,640.4h0M147.9,659.6h0M144.7,625.2h0M142.2,628.0h0M137.4,635.1h0M136.4,642.4h0M138.4,626.6h0M147.8,628.8h0M140.6,660.1h0M136.5,666.0h0M141.9,615.1h0M137.0,620.5h0M142.3,622.5h0M146.9,621.3h0M146.7,627.6h0M142.0,641.9h0M141.7,629.9h0M148.6,639.0h0M146.8,619.4h0M148.8,622.5h0M137.3,644.7h0M141.9,651.8h0M148.5,644.8h0M140.2,626.1h0M137.7,642.3h0M138.3,623.8h0M148.4,618.9h0M137.1,656.9h0M140.5,624.3h0M145.1,643.3h0M139.6,653.6h0M136.5,648.4h0M138.7,620.7h0M143.3,635.5h0M144.6,627.0h0M141.0,625.0h0M143.7,615.8h0M146.2,616.3h0M139.9,619.9h0M138.1,641.5h0M146.4,646.4h0M140.1,640.2h0M140.1,622.1h0M147.4,622.0h0M139.7,619.3h0M144.7,643.8h0"/>
<path d="M208.2,625.7h0M208.7,664.7h0M212.6,622.8h0M212.8,636.3h0M202.7,625.7h0M211.5,657.0h0M212.8,639.8h0M209.2,643.4h0M212.7,641.0h0M212.2,637.4h0M202.5,651.7h0M201.0,661.2h0M202.6,664.4h0M209.0,637.0h0M213.8,617.9h0M211.1,632.3h0M213.6,652.7h0M202.7,639.8h0M213.7,652.8h0M206.9,644.3h0M214.2,624.5h0M211.9,631.4h0M202.8,639.8h0M203.9,638.3h0M208.8,654.2h0M208.4,636.0h0M208.3,626.3h0M207.7,665.2h0M210.1,660.5h0M205.6,660.9h0M211.4,643.8h0M209.4,641.9h0M205.9,648.7h0M203.4,639.3h0M206.9,635.8h0M210.7,650.2h0M202.2,654.5h0M202.6,678.6h0M204.9,632.0h0M207.3,609.7h0M205.1,629.6h0M206.4,659.6h0M209.6,621.4h0M214.1,665.8h0M210.0,622.2h0M214.2,617.1h0M213.9,635.2h0M203.4,617.5h0M208.9,624.3h0M210.2,611.6h0M208.2,659.7h0M206.1,641.9h0M207.3,616.8h0M213.5,630.9h0M203.6,649.5h0M211.6,670.6h0M207.8,617.4h0M201.3,632.1h0M210.0,640.6h0M214.1,639.7h0M206.6,643.0h0M208.9,642.4h0M207.4,676.5h0M212.4,644.7h0M206.5,643.1h0M205.0,691.6h0M203.7,665.8h0M209.1,629.8h0M207.1,662.9h0M211.7,636.4h0M208.6,654.9h0M206.9,648.8h0M205.4,667.5h0M202.1,633.4h0M211.7,628.5h0M205.9,644.8h0M202.7,633.2h0M207.8,623.3h0M211.6,656.4h0M206.7,631.2h0M205.6,630.1h0M206.2,654.1h0M213.2,667.7h0M202.6,642.2h0M203.4,642.7h0M203.3,630.3h0M208.4,644.7h0M202.0,665.5h0M212.8,674.1h0M213.8,645.3h0M211.9,656.4h0M208.6,642.4h0M204.1,639.1h0M211.8,616.3h0M211.7,656.9h0M208.9,647.4h0M210.4,626.9h0M203.5,640.6h0M210.1,646.2h0M210.5,650.2h0M205.6,678.7h0M202.2,690.0h0M205.8,634.2h0M206.3,649.1h0M205.1,624.3h0M204.1,643.8h0M208.4,662.6h0M207.1,648.6h0M210.1,658.0h0M208.3,645.5h0M207.4,625.5h0M205.7,612.8h0M201.2,618.0h0M213.2,646.6h0M213.9,639.2h0M213.7,664.9h0M206.6,622.8h0M205.1,639.7h0M202.6,651.2h0M213.8,683.3h0M211.5,631.4h0M203.5,688.6h0M202.2,657.7h0M212.4,622.6h0M204.4,672.3h0M203.1,632.0h0M204.4,685.0h0M213.1,621.3h0M204.9,633.3h0M201.6,644.5h0"/>
<path d="M206.0,635.4h0M213.8,664.3h0M205.7,637.9h0M208.6,633.1h0M206.4,625.4h0M201.1,631.8h0M213.5,645.0h0M208.1,638.1h0M213.6,646.0h0M203.2,645.1h0M206.5,667.5h0M210.5,637.9h0M212.2,642.7h0M208.8,623.0h0M201.8,675.7h0M212.8,641.6h0M212.4,635.4h0M205.3,645.9h0M211.3,629.2h0M211.8,633.5h0M201.5,634.0h0M202.8,634.1h0M203.7,656.7h0M210.7,668.3h0M207.2,636.7h0M208.2,629.3h0M213.3,611.5h0M203.0,619.2h0M206.6,637.2h0M201.5,670.0h0M204.0,652.5h0M213.8,610.8h0M212.8,656.4h0M206.8,642.1h0M213.2,645.5h0M204.9,630.1h0M202.3,661.2h0M206.5,617.6h0M213.3,647.4h0M202.9,638.2h0M213.0,628.9h0M209.7,625.4h0M205.6,631.1h0M214.0,660.2h0M211.9,675.3h0M208.0,657.2h0M207.7,628.3h0M213.0,638.2h0M207.7,646.5h0M206.9,634.1h0M208.1,617.0h0M209.8,657.1h0M212.7,674.9h0M212.1,640.6h0M203.7,615.2h0M211.4,650.2h0M202.3,663.4h0M205.7,649.6h0M207.7,634.5h0M208.9,628.2h0M205.3,668.0h0M208.8,616.5h0M214.0,645.1h0M206.3,614.0h0M206.3,661.6h0M213.6,661.8h0M210.1,653.3h0M209.6,633.1h0M202.4,666.5h0M207.2,626.9h0M213.1,636.1h0M202.5,646.3h0M212.5,649.1h0M207.0,641.3h0M213.8,632.4h0M210.1,626.0h0M211.7,663.8h0M209.5,619.2h0M208.1,630.4h0M213.3,635.3h0M203.9,630.5h0M209.8,667.9h0M210.3,641.0h0M202.3,631.4h0M202.1,649.5h0M206.0,624.3h0M204.5,636.4h0M213.0,670.5h0M213.3,631.0h0M206.4,647.9h0M209.2,640.9h0M201.4,623.8h0M204.3,646.7h0M207.0,629.7h0M202.2,631.6h0M209.8,620.0h0M204.0,710.6h0M212.3,667.8h0M209.4,645.9h0M206.2,637.1h0M203.3,629.6h0M201.7,669.5h0M209.4,654.0h0M211.1,641.8h0M201.6,666.5h0M205.6,651.0h0M213.8,650.6h0M208.0,657.5h0M209.7,631.3h0M212.7,645.1h0M206.3,651.9h0M211.7,645.7h0M205.3,637.4h0M204.6,643.8h0M212.5,629.6h0M211.3,652.2h0M209.5,634.3h0M211.6,666.6h0M210.0,626.0h0M208.9,638.3h0M205.3,626.8h0M213.1,629.9h0M207.7,656.5h0M207.2,646.0h0M204.9,643.9h0M212.3,637.0h0M207.4,636.4h0M210.2,639.5h0M206.5,627.3h0"/>
<path d="M208.4,643.3h0M201.1,657.1h0M214.1,611.6h0M212.7,634.2h0M208.1,626.5h0M205.6,613.1h0M213.3,662.4h0M210.0,632.9h0M202.9,657.5h0M209.7,691.6h0M212.0,683.7h0M202.4,645.3h0M202.0,654.8h0M211.0,656.0h0M206.4,652.0h0M207.1,642.7h0M201.8,646.3h0M208.6,630.0h0M201.5,664.4h0M208.4,670.1h0M206.2,621.1h0M212.0,638.9h0M201.9,643.6h0M205.2,678.7h0M203.4,656.8h0M211.1,662.8h0M213.0,618.7h0M209.8,636.6h0M206.6,635.0h0M210.9,619.1h0M208.3,640.7h0M212.6,612.0h0M206.7,637.7h0M205.0,660.5h0M211.8,644.0h0M207.0,684.2h0M211.5,637.1h0M203.5,629.0h0M202.6,615.8h0M201.8,644.8h0M213.3,624.5h0M201.2,665.6h0M207.2,652.9h0M213.2,631.1h0M210.0,684.0h0M205.9,622.4h0M210.3,649.5h0M208.4,635.8h0M207.3,619.6h0M212.2,638.1h0M211.2,640.2h0M211.6,616.4h0M211.2,619.7h0M208.4,678.6h0M201.0,666.9h0M209.2,673.6h0M212.2,635.2h0M205.1,666.8h0M214.0,676.5h0M212.2,666.9h0M204.3,637.1h0M201.5,664.0h0M205.3,671.0h0M212.0,685.5h0M202.3,640.2h0M202.9,621.2h0M207.6,687.8h0M203.3,657.0h0M206.4,621.5h0M209.3,654.2h0M212.5,617.5h0M213.6,624.7h0M201.8,661.5h0M208.5,646.5h0M212.2,623.7h0M213.3,665.4h0M208.9,635.0h0M207.5,639.5h0M209.9,635.7h0M202.7,659.1h0M209.2,639.5h0M205.1,630.9h0M206.0,673.3h0M209.4,614.8h0M209.7,614.0h0M213.3,637.4h0M214.2,650.7h0M207.0,672.8h0M203.5,646.2h0M214.0,650.6h0M208.9,651.4h0M205.6,649.9h0M204.8,625.3h0M203.8,635.8h0M206.2,662.3h0M206.0,644.9h0M211.3,637.3h0M207.4,615.0h0M208.4,672.7h0M203.7,666.3h0M213.0,626.8h0M208.6,678.8h0M212.0,614.1h0M204.9,724.7h0M211.1,640.6h0M203.7,660.7h0M206.7,644.6h0M210.1,635.3h0M211.8,652.6h0M212.3,650.2h0M204.9,633.0h0M207.4,666.2h0M212.0,632.9h0M212.1,655.0h0M213.5,636.1h0M207.5,624.2h0M205.2,656.1h0M202.5,653.4h0M212.9,625.8h0M206.2,650.6h0M213.4,619.7h0M202.7,645.5h0M203.6,632.5h0M207.4,644.5h0M209.9,632.5h0M209.9,649.1h0M206.2,628.3h0"/>
<path d="M211.5,616.2h0M212.7,633.5h0M204.4,647.5h0M207.7,644.2h0M206.4,666.3h0M208.0,622.8h0M207.2,649.8h0M208.5,631.3h0M205.5,625.6h0M214.1,656.6h0M213.2,614.4h0M202.2,615.9h0M203.4,677.3h0M213.4,709.7h0M209.5,619.0h0M207.7,652.0h0M205.9,610.3h0M206.9,631.8h0M205.6,649.3h0M208.9,640.9h0M209.5,613.5h0M208.1,655.9h0M210.5,640.2h0M205.0,618.7h0M213.7,622.7h0M206.6,689.7h0M208.8,626.3h0M201.6,624.5h0M207.9,648.9h0M213.0,628.9h0M214.1,680.9h0M208.5,645.1h0M211.7,636.9h0M210.0,625.7h0M211.1,630.7h0M201.7,647.3h0M209.6,653.6h0M206.1,632.0h0M208.9,615.0h0M204.5,626.1h0M211.6,654.3h0M209.2,632.7h0M201.3,643.7h0M207.0,630.0h0M208.8,614.1h0M207.8,645.5h0M203.9,610.2h0M208.7,640.5h0M208.4,625.1h0M202.9,680.5h0M205.7,653.3h0M212.2,655.9h0M213.9,640.6h0M208.6,636.1h0M209.9,620.6h0M201.7,658.2h0M210.6,673.4h0M207.7,627.4h0M203.9,630.2h0M213.4,610.1h0M210.1,647.4h0M211.0,632.9h0M207.1,651.6h0M212.4,624.8h0M210.4,631.8h0M212.0,640.9h0M213.2,647.6h0M207.9,648.1h0M205.3,641.7h0M212.1,638.1h0M212.0,640.6h0M201.5,652.6h0M209.6,680.6h0M202.4,615.6h0M207.8,643.8h0M208.7,650.7h0M212.1,640.2h0M208.1,681.2h0M201.6,632.4h0M206.4,639.3h0M205.8,640.4h0M205.9,665.4h0M202.1,643.9h0M201.9,662.1h0M209.2,649.2h0M201.5,662.4h0M208.3,719.8h0M212.5,611.9h0M204.0,625.6h0M203.4,612.8h0M206.6,641.1h0M212.8,648.6h0M204.5,671.0h0M202.7,635.8h0M202.5,638.3h0M208.4,653.0h0M210.7,638.2h0M208.4,652.9h0M205.6,636.6h0M211.8,651.9h0M207.9,648.8h0M203.4,647.7h0M202.6,623.1h0M203.6,638.2h0M211.9,631.2h0M203.1,632.7h0M208.3,667.1h0M206.2,640.2h0M210.7,626.7h0M209.1,618.1h0M212.7,611.7h0M212.2,620.8h0M201.3,692.0h0M210.8,630.7h0M211.8,656.9h0M204.1,655.5h0M209.6,619.7h0M203.6,664.1h0M204.1,665.2h0M202.4,651.5h0M210.6,645.1h0M208.8,651.9h0M204.4,666.6h0M211.8,697.5h0M212.4,650.7h0M204.8,668.5h0M201.9,618.7h0M213.8,640.0h0"/>
<path d="M202.1,643.9h0M205.9,631.9h0M209.7,623.1h0M206.3,631.8h0M201.3,655.2h0M202.6,630.7h0M208.1,621.5h0M208.8,636.6h0M205.0,649.3h0M210.7,635.9h0M212.9,664.3h0M206.7,626.9h0M202.5,658.9h0M203.6,622.1h0M213.9,655.8h0M210.8,643.4h0M207.2,643.0h0M213.7,645.5h0M204.4,647.4h0M203.3,691.9h0M210.5,621.4h0M205.1,644.8h0M206.5,629.6h0M202.7,669.1h0M205.7,633.7h0M212.7,658.2h0M205.9,658.5h0M201.8,655.5h0M209.4,652.1h0M205.0,652.5h0M212.4,637.9h0M209.4,642.2h0M203.1,658.1h0M205.8,643.4h0M202.0,689.1h0M209.6,661.0h0M211.2,655.7h0M208.4,631.0h0M213.7,658.6h0M210.4,658.3h0M210.0,627.5h0M208.4,668.0h0M203.7,652.2h0M202.3,681.7h0M201.7,642.0h0M213.0,654.9h0M212.6,655.5h0M211.4,648.7h0M205.5,676.2h0M205.3,638.8h0M209.6,672.7h0M204.5,621.5h0M209.8,628.6h0M209.2,639.3h0M202.7,612.3h0M212.9,628.3h0M207.6,666.3h0M213.0,657.4h0M209.2,663.1h0M205.1,644.9h0M207.6,650.5h0M201.2,636.1h0M210.2,635.1h0M204.2,608.6h0M211.1,656.2h0M209.7,666.4h0M203.2,654.3h0M201.6,644.3h0M205.3,670.5h0M205.8,643.9h0M203.9,635.0h0M201.2,613.5h0M207.9,641.8h0M212.4,630.6h0M213.8,657.5h0M209.2,673.9h0M202.7,631.8h0M210.9,664.0h0M212.3,664.8h0M201.4,668.7h0M203.3,637.0h0M210.6,648.5h0M209.1,640.6h0M210.4,651.1h0M205.7,632.8h0M210.9,637.8h0M205.1,633.5h0M209.8,634.4h0M202.0,652.9h0M208.3,668.0h0M204.7,638.9h0M202.8,643.0h0M209.0,677.6h0M203.1,656.6h0M211.5,644.5h0M210.7,635.1h0M206.7,628.8h0M201.9,698.3h0M210.2,634.0h0M213.9,641.3h0M209.6,647.5h0M209.5,629.0h0M201.4,646.5h0M210.9,665.3h0M203.8,617.1h0M205.4,619.2h0M201.9,611.5h0M211.4,640.3h0M207.3,655.5h0M204.9,634.9h0M208.7,660.3h0M201.2,675.8h0M206.1,626.1h0M205.8,694.5h0M209.3,620.3h0M209.4,644.9h0M208.1,637.1h0M206.2,670.1h0M203.1,630.3h0M205.1,621.3h0M209.6,618.8h0M212.7,641.2h0M210.9,653.8h0M207.5,634.6h0M205.2,619.0h0M209.2,633.6h0"/>
<path d="M213.7,649.1h0M201.3,654.0h0M213.1,628.8h0M213.9,683.8h0M205.9,631.5h0M209.5,675.3h0M213.4,622.3h0M208.5,627.9h0M209.0,660.0h0M204.2,666.4h0M204.4,673.5h0M205.4,621.9h0M205.9,673.9h0M207.9,645.0h0M209.1,685.9h0M206.8,656.2h0M210.7,632.0h0M202.7,661.2h0M203.5,632.3h0M203.1,637.0h0M213.9,693.0h0M203.3,650.8h0M208.2,719.1h0M209.1,631.1h0M210.7,668.6h0M208.9,622.4h0M205.9,717.3h0M203.6,636.4h0M203.8,674.2h0M203.3,639.3h0M204.6,641.4h0M208.0,632.8h0M212.1,623.5h0M207.9,669.1h0M212.0,660.5h0M202.9,631.4h0M205.7,622.5h0M204.5,652.0h0M213.8,665.3h0M203.5,684.0h0M203.2,666.1h0M208.9,615.5h0M204.2,657.9h0M204.1,671.3h0M202.0,611.4h0M202.7,646.3h0M212.6,665.2h0M208.0,631.1h0M207.1,636.2h0M213.7,620.5h0M210.5,645.3h0M204.4,648.5h0M203.3,643.4h0M213.3,644.9h0M205.1,682.2h0M214.1,645.7h0M204.5,639.6h0M211.6,650.0h0M203.7,660.2h0M205.6,611.7h0M211.1,634.2h0M210.3,636.6h0M213.2,657.3h0M207.9,652.5h0M203.6,638.5h0M202.3,664.7h0M207.4,644.6h0M208.3,651.3h0M212.6,703.7h0M208.7,647.4h0M201.7,649.9h0M206.6,647.6h0M207.7,652.4h0M207.1,684.5h0M206.1,646.6h0M204.1,661.6h0M209.8,636.3h0M205.6,636.6h0M209.5,648.1h0M208.5,686.9h0M209.9,641.1h0M206.4,678.6h0M210.7,651.8h0M205.0,628.8h0M212.5,639.0h0M203.2,619.3h0M203.1,671.0h0M207.4,651.3h0M212.5,640.9h0M202.5,666.9h0M207.9,649.6h0M213.4,648.5h0M204.6,634.6h0M201.1,662.9h0M201.1,633.4h0M204.9,644.7h0M203.4,608.4h0M210.0,666.5h0M209.9,651.3h0M213.8,692.0h0M206.2,633.6h0M202.2,624.6h0M206.2,628.8h0M203.4,629.4h0M201.1,676.2h0M204.6,632.6h0M208.7,626.4h0M208.7,648.9h0M201.8,626.7h0M212.4,671.3h0M201.1,674.6h0M206.1,611.5h0M204.1,644.7h0M205.8,614.8h0M201.8,660.0h0M208.2,629.2h0M201.7,668.4h0M213.5,620.4h0M207.2,679.2h0M201.6,669.7h0M207.5,627.0h0M202.7,614.3h0M203.3,639.9h0M205.1,666.2h0M211.1,645.1h0M210.6,641.1h0M206.8,667.6h0M206.6,657.3h0"/>
<path d="M211.4,651.0h0M206.7,675.5h0M212.4,608.6h0M209.2,619.4h0M209.4,615.7h0M203.9,616.0h0M209.1,636.7h0M203.0,691.0h0M201.6,650.6h0M202.6,655.9h0M201.5,632.2h0M211.1,629.0h0M209.1,651.3h0M212.1,638.1h0M212.0,695.3h0M210.7,662.4h0M213.6,634.2h0M210.7,660.5h0M213.1,614.3h0M212.3,655.5h0M209.7,618.5h0M212.7,650.6h0M203.8,648.0h0M202.1,622.3h0M209.1,630.4h0M202.1,630.2h0M201.8,620.6h0M213.5,618.3h0M211.6,690.1h0M211.3,648.3h0M214.1,640.9h0M205.1,646.0h0M212.3,638.4h0M206.6,638.5h0M212.0,637.9h0M213.3,649.7h0M210.2,640.2h0M207.6,643.5h0M202.1,632.8h0M209.0,628.3h0M203.5,637.0h0M203.7,623.4h0M211.4,658.4h0M204.6,621.8h0M212.6,632.2h0M213.6,635.0h0M209.8,657.2h0M204.7,618.7h0M205.6,647.9h0M209.3,628.7h0M204.3,647.1h0M208.4,625.3h0M208.7,662.7h0M208.5,637.1h0M205.4,643.1h0M206.4,653.7h0M205.3,629.2h0M204.3,620.2h0M211.7,629.0h0M206.3,697.6h0M209.8,633.4h0M201.9,626.7h0M205.9,633.5h0M209.1,643.8h0M201.9,656.6h0M212.1,658.2h0M203.2,644.8h0M207.4,649.8h0M212.8,607.4h0M204.8,644.7h0M211.6,634.2h0M211.7,641.2h0M213.7,612.8h0M210.0,676.9h0M211.3,611.6h0M213.8,629.5h0M209.6,670.6h0M203.5,668.0h0M208.6,653.0h0M212.1,631.1h0M212.3,629.9h0M207.1,638.6h0M201.6,642.7h0M207.2,678.8h0M207.0,611.6h0M203.4,631.0h0M204.5,660.0h0M212.1,631.4h0M206.5,664.7h0M209.0,631.5h0M211.2,672.2h0M207.4,640.8h0M212.3,643.5h0M205.8,647.0h0M208.9,666.0h0M206.7,614.1h0M202.1,668.8h0M201.9,626.0h0M204.1,667.6h0M202.4,626.4h0M212.7,632.8h0M202.0,607.5h0M209.4,649.0h0M201.1,642.3h0M204.1,650.0h0M205.2,627.9h0M213.9,646.4h0M202.6,622.3h0M208.0,637.1h0M204.2,639.4h0M207.2,620.4h0M210.7,637.5h0M204.4,629.3h0M210.5,634.8h0M208.8,628.8h0M204.6,613.6h0M201.3,635.0h0M213.3,637.2h0M211.8,640.2h0M202.2,641.6h0M203.8,688.9h0M202.8,628.3h0M210.5,637.5h0M203.3,616.7h0M204.8,634.1h0M209.1,657.6h0M213.8,624.4h0M205.2,661.7h0M202.5,662.3h0"/>
<path d="M211.8,631.0h0M202.9,618.2h0M212.3,632.3h0M208.5,636.4h0M208.8,638.1h0M203.0,638.9h0M213.1,637.0h0M205.6,622.8h0M209.6,651.5h0M205.8,687.7h0M201.8,642.4h0M210.4,636.6h0M210.9,618.4h0M206.9,640.4h0M213.8,621.7h0M204.6,643.1h0M208.8,628.1h0M201.6,640.6h0M203.4,659.2h0M204.5,653.3h0M211.3,642.5h0M205.7,659.3h0M208.6,660.7h0M207.4,667.8h0M208.3,639.1h0M208.2,677.3h0M210.4,637.2h0M202.6,629.9h0M207.5,664.1h0M209.0,690.6h0M208.0,639.6h0M210.6,657.2h0M214.0,661.8h0M211.5,642.0h0M205.7,614.3h0M213.3,626.9h0M208.4,642.2h0M211.5,626.9h0M202.0,632.1h0M209.1,655.8h0M212.0,643.4h0M208.0,666.3h0M213.0,649.6h0M205.2,632.9h0M206.3,705.2h0M212.8,646.8h0M204.8,643.8h0M203.5,652.1h0M206.1,625.9h0M211.4,639.7h0M212.1,626.3h0M212.7,635.3h0M206.9,655.1h0M212.9,655.1h0M206.2,653.9h0M202.6,645.5h0M212.0,664.5h0M202.1,656.8h0M206.1,629.3h0M212.4,625.3h0M213.2,649.6h0M212.8,657.8h0M207.3,643.4h0M209.6,651.6h0M202.7,645.3h0M210.1,662.8h0M208.4,655.2h0M208.9,684.6h0M207.8,671.7h0M211.1,657.9h0M205.8,628.5h0M205.0,668.9h0M208.2,618.0h0M209.1,618.4h0M205.1,640.8h0M208.1,623.1h0M204.0,630.9h0M206.8,671.9h0M208.5,644.3h0M206.2,643.3h0M205.3,633.8h0M214.1,646.6h0M204.6,646.2h0M201.3,638.6h0M201.3,635.7h0M214.2,641.7h0M206.2,647.0h0M212.7,623.0h0M210.0,648.3h0M211.8,692.8h0M208.4,622.9h0M203.2,658.2h0M207.2,698.3h0M203.1,626.6h0M204.3,634.1h0M205.7,614.8h0M211.1,622.7h0M203.1,653.1h0M206.4,656.3h0M205.1,678.2h0M212.8,643.7h0M206.2,653.8h0M211.6,659.3h0M207.2,651.2h0M210.6,621.4h0M209.6,645.8h0M207.3,638.6h0M213.0,659.6h0M213.3,649.5h0M205.6,658.1h0M209.5,700.9h0M211.3,631.7h0M211.5,689.3h0M201.8,654.1h0M208.8,626.4h0M207.3,613.1h0M211.7,669.7h0M205.5,623.8h0M209.6,659.6h0M209.3,665.3h0M208.4,630.0h0M208.1,636.3h0M204.8,660.1h0M201.4,617.2h0M213.5,671.3h0M213.7,689.4h0M202.9,610.2h0M213.0,684.6h0M202.7,642.7h0M208.6,635.1h0"/>
<path d="M266.6,666.6h0M274.4,613.3h0M275.6,615.2h0M271.6,628.5h0M278.0,624.9h0M272.8,608.8h0M269.0,634.8h0M273.6,655.9h0M267.8,616.8h0M271.2,617.9h0M279.0,642.1h0M267.3,622.4h0M269.3,614.4h0M274.0,654.7h0M269.9,638.1h0M272.7,610.5h0M272.0,611.7h0M274.9,622.4h0M272.9,631.2h0M268.0,616.5h0M274.1,627.6h0M273.5,622.9h0M268.4,608.0h0M274.8,639.6h0M277.0,611.8h0M274.6,636.3h0M268.0,623.3h0M275.3,626.5h0M276.6,637.3h0M279.1,615.2h0M266.9,619.0h0M275.9,653.5h0M274.5,615.9h0M268.7,625.2h0M268.7,638.3h0M268.0,640.1h0M276.0,621.9h0M276.3,609.3h0M275.6,611.1h0M266.8,626.1h0M272.8,614.3h0M273.0,616.8h0M270.7,638.2h0M266.1,623.7h0M274.8,633.4h0M272.6,648.6h0M268.3,627.1h0M273.4,623.3h0M276.5,619.0h0M269.2,630.0h0M269.5,630.8h0M268.7,622.7h0M269.6,622.9h0M275.5,619.7h0M267.5,636.3h0M276.4,645.9h0M267.6,634.7h0M268.9,656.1h0M268.8,612.7h0M267.7,610.4h0M266.1,611.3h0M274.6,625.1h0M272.4,610.1h0M272.2,634.2h0M268.7,632.0h0M268.5,657.0h0M278.6,613.2h0M270.0,622.3h0M270.0,613.2h0M274.3,624.0h0M267.6,642.1h0M276.4,619.0h0M267.2,649.6h0M266.4,635.1h0M278.8,646.3h0M275.3,618.7h0M271.0,617.6h0M278.0,620.6h0"/>
<path d="M271.9,607.4h0M278.2,607.7h0M272.3,635.2h0M266.9,618.1h0M273.3,626.2h0M275.1,614.6h0M279.0,614.3h0M270.3,615.7h0M277.7,625.6h0M275.6,641.9h0M266.9,638.9h0M270.0,610.8h0M267.3,619.1h0M269.3,614.0h0M274.3,618.4h0M274.1,608.1h0M272.6,608.5h0M269.1,616.3h0M274.6,629.2h0M266.6,633.5h0M271.6,623.3h0M270.2,618.8h0M273.1,615.0h0M272.9,637.5h0M267.5,646.8h0M266.4,626.8h0M271.8,641.9h0M273.7,622.9h0M266.4,616.0h0M272.2,609.6h0M269.8,624.5h0M269.8,632.3h0M273.7,715.4h0M274.0,611.1h0M276.8,610.3h0M273.6,619.0h0M277.7,610.7h0M266.4,622.6h0M273.9,614.6h0M268.0,608.7h0M269.6,627.7h0M267.0,618.3h0M270.0,635.7h0M274.7,658.3h0M266.9,621.1h0M271.8,643.7h0M269.6,616.3h0M276.1,614.3h0M275.8,634.2h0M274.9,700.6h0M269.4,614.8h0M277.3,608.9h0M276.3,613.7h0M269.6,630.3h0M278.0,656.9h0M269.2,629.2h0M273.7,631.8h0M274.0,609.5h0M276.0,636.8h0M271.6,623.5h0M274.4,611.4h0M274.6,617.4h0M266.1,622.8h0M269.9,609.0h0M266.3,615.0h0M274.3,612.5h0M274.6,608.4h0M268.6,616.3h0M273.4,626.3h0M275.7,649.6h0M266.0,618.0h0M278.6,618.5h0M272.0,610.1h0M274.6,620.9h0M273.3,613.6h0M274.1,622.5h0M276.8,643.0h0M270.9,609.1h0M272.9,617.4h0M266.8,621.3h0M274.0,613.8h0M268.9,610.0h0M269.7,608.1h0M269.6,613.9h0M269.6,622.5h0M267.0,639.6h0M270.9,609.9h0M267.4,659.7h0M269.4,624.2h0M277.9,620.7h0M272.4,638.6h0M266.6,619.6h0M274.0,637.4h0M266.8,616.8h0M270.3,662.2h0M275.6,618.7h0M279.2,643.0h0M276.7,628.6h0M267.2,632.9h0M266.1,624.1h0M278.3,639.8h0M277.6,640.6h0"/>
<path d="M275.4,621.1h0M268.0,620.9h0M266.4,612.5h0M274.6,628.6h0M273.7,638.8h0M267.1,610.0h0M269.5,619.7h0M273.9,621.0h0M275.5,612.9h0M274.4,615.1h0M277.3,611.4h0M278.6,617.1h0M275.4,628.6h0M274.2,680.2h0M275.1,621.4h0M273.1,612.9h0M268.1,608.7h0M268.6,620.3h0M277.8,618.2h0M270.2,626.6h0M273.8,635.0h0M277.1,612.3h0M278.8,611.7h0M267.7,609.6h0M275.6,625.8h0M273.7,631.2h0M276.0,608.5h0M277.9,621.2h0M272.3,626.7h0M273.1,619.4h0M269.4,624.4h0M276.1,620.5h0M275.1,610.2h0M276.5,613.0h0M268.9,608.6h0M269.2,672.7h0M276.3,624.7h0M275.9,617.6h0M273.6,637.6h0M278.4,615.9h0M279.1,620.0h0M276.8,634.4h0M270.4,607.0h0M266.5,619.8h0M277.8,611.0h0M267.8,613.9h0M278.1,614.6h0M270.8,631.0h0M273.4,618.7h0M274.8,627.8h0M273.8,646.9h0M273.8,625.5h0M274.7,609.5h0M279.2,615.1h0M273.2,620.7h0M277.2,618.2h0M266.1,653.2h0M266.6,616.7h0M274.9,618.8h0M279.0,617.8h0M277.1,608.1h0M277.7,624.4h0M269.5,610.5h0M278.9,617.6h0M276.0,632.7h0M277.1,626.8h0M272.1,618.9h0M275.5,638.3h0M266.6,618.0h0M277.2,614.9h0M274.9,634.3h0M272.0,630.2h0M276.8,621.0h0M267.3,675.7h0M273.6,608.6h0M269.7,607.6h0M269.1,612.9h0M276.5,655.1h0M278.0,685.4h0M272.7,610.1h0M277.6,607.1h0M273.3,615.8h0M266.6,615.0h0M276.9,623.1h0M275.4,624.6h0M272.4,631.4h0M276.6,619.5h0M268.3,612.7h0M277.1,638.3h0M272.9,617.4h0M275.8,610.1h0M271.7,612.7h0M269.7,645.1h0M266.1,611.0h0M269.7,613.7h0M276.1,626.1h0M270.2,655.8h0M266.6,620.6h0M268.8,634.4h0M271.8,618.4h0"/>
<path d="M275.5,633.9h0M270.4,612.2h0M274.5,625.6h0M277.6,607.9h0M275.9,624.3h0M266.4,609.3h0M266.8,607.6h0M279.0,621.2h0M270.7,624.1h0M270.8,626.5h0M270.9,634.2h0M272.3,628.5h0M277.8,626.0h0M273.8,609.7h0M270.0,611.5h0M270.8,612.8h0M272.3,611.4h0M274.1,609.1h0M273.0,621.3h0M271.0,638.7h0M269.1,607.0h0M272.2,633.7h0M279.0,612.9h0M275.4,616.1h0M269.0,612.9h0M271.7,612.0h0M274.6,626.2h0M273.0,643.7h0M273.4,615.9h0M277.0,624.5h0M273.9,607.6h0M271.6,622.1h0M273.2,617.1h0M275.9,632.3h0M269.3,607.5h0M268.1,645.2h0M271.5,678.6h0M269.7,611.6h0M275.8,619.5h0M273.3,615.6h0M278.5,625.6h0M275.6,616.4h0M272.3,614.0h0M272.6,624.0h0M273.4,626.2h0M277.0,610.4h0M267.4,630.1h0M277.9,609.1h0M273.0,607.9h0M270.9,612.9h0M268.7,635.7h0M272.9,615.0h0M269.7,642.2h0M267.9,609.6h0M278.7,620.6h0M269.2,634.4h0M273.7,619.4h0M270.8,641.9h0M272.3,628.1h0M275.1,620.2h0M267.0,619.1h0M275.3,643.7h0M270.5,613.6h0M271.2,624.8h0M268.9,617.5h0M278.2,624.3h0M271.9,636.0h0M270.3,625.0h0M269.8,657.7h0M278.9,615.5h0M278.7,617.1h0M270.3,645.6h0M272.2,625.2h0M278.7,659.2h0M270.2,701.6h0M266.8,607.5h0M269.7,611.1h0M267.6,623.2h0M269.3,612.9h0M276.3,626.0h0M278.1,635.8h0M269.7,632.9h0M269.7,625.8h0M266.4,617.7h0M276.6,617.5h0M270.8,628.9h0M269.6,620.8h0M268.4,632.2h0M269.3,624.8h0M276.7,613.7h0M277.1,622.9h0M272.9,617.5h0M271.4,622.7h0M272.0,608.1h0M266.6,613.8h0M275.5,631.6h0"/>
<path d="M267.2,611.6h0M270.7,619.2h0M272.0,630.1h0M277.4,613.2h0M275.2,636.9h0M270.3,617.5h0M277.3,612.2h0M273.1,629.0h0M267.6,614.1h0M274.6,633.5h0M269.1,607.9h0M276.6,639.2h0M275.2,613.1h0M271.9,638.1h0M278.9,625.9h0M270.7,610.0h0M268.1,637.3h0M271.2,645.9h0M266.4,625.0h0M268.3,636.5h0M268.9,613.0h0M277.4,618.0h0M277.6,625.4h0M266.9,613.8h0M270.1,614.7h0M270.2,629.3h0M273.3,609.5h0M266.7,642.5h0M272.5,633.9h0M273.2,675.2h0M278.5,635.9h0M268.7,621.4h0M273.4,613.0h0M274.8,639.3h0M266.8,619.5h0M269.9,628.2h0M270.7,614.9h0M277.0,640.2h0M275.1,629.6h0M273.6,631.6h0M279.2,616.5h0M268.6,623.3h0M270.0,637.8h0M273.8,609.0h0M278.0,637.3h0M278.9,661.6h0M270.4,624.4h0M270.0,630.1h0M278.5,654.7h0M277.7,614.9h0M270.3,629.0h0M269.0,643.0h0M277.0,620.1h0M277.8,613.5h0M267.7,622.7h0M269.2,619.4h0M274.7,611.0h0M274.4,623.9h0M266.4,675.1h0M270.2,627.2h0M277.5,610.7h0M269.2,612.8h0M273.4,610.9h0M270.0,608.6h0M275.2,628.2h0M277.3,644.9h0M273.7,630.9h0M266.5,635.3h0M270.9,626.4h0M274.9,618.8h0M276.6,626.6h0M274.1,624.7h0M276.7,612.0h0M271.7,619.6h0M279.0,624.4h0M276.5,652.4h0M276.2,626.4h0M270.8,621.9h0M268.2,622.4h0M267.1,625.9h0M275.7,682.6h0M274.8,626.9h0M269.7,611.8h0M268.5,610.1h0M270.6,611.9h0M274.4,628.8h0"/>
<path d="M274.7,626.1h0M269.9,607.4h0M269.7,618.5h0M278.7,617.3h0M275.0,607.9h0M266.3,610.1h0M275.3,617.4h0M272.7,627.6h0M268.1,618.8h0M274.8,621.3h0M267.6,637.8h0M277.1,622.4h0M268.4,636.9h0M275.7,625.8h0M278.0,650.8h0M273.5,643.8h0M278.1,619.3h0M268.4,642.9h0M269.1,621.7h0M279.1,615.0h0M269.4,619.1h0M279.0,623.6h0M276.4,607.7h0M273.9,651.6h0M274.1,608.4h0M274.8,631.8h0M276.7,625.5h0M272.1,608.1h0M270.3,615.5h0M275.1,634.7h0M267.2,621.8h0M278.8,609.7h0M271.3,639.2h0M271.9,626.9h0M268.6,641.3h0M267.8,670.4h0M278.9,613.8h0M274.2,607.1h0M275.7,632.1h0M275.2,624.2h0M271.1,621.4h0M275.3,623.9h0M278.1,638.4h0M275.5,627.8h0M267.0,646.7h0M274.4,607.9h0M274.8,626.2h0M267.1,617.8h0M273.2,611.4h0M273.1,627.2h0M273.2,618.6h0M275.3,629.9h0M269.7,616.8h0M279.1,630.1h0M275.1,662.6h0M266.5,628.0h0M271.5,638.7h0M276.8,622.6h0M273.5,654.6h0M274.0,615.4h0M274.2,623.6h0M272.6,616.2h0M278.9,633.3h0M269.9,645.2h0M271.0,632.6h0M268.9,607.1h0M279.1,651.1h0M272.5,618.3h0M276.4,628.3h0M270.1,619.2h0M276.3,665.5h0M266.1,619.6h0M269.4,624.4h0M275.1,625.8h0M278.1,607.1h0M268.9,618.1h0M267.4,618.1h0M266.5,623.0h0M267.7,628.2h0M270.9,630.3h0M268.1,626.8h0M277.1,629.9h0M275.8,611.9h0M266.5,638.6h0M277.4,628.6h0M275.6,611.1h0M271.9,637.8h0M273.5,612.1h0M267.7,648.0h0M267.2,619.6h0M274.7,653.7h0M266.6,618.2h0M268.2,610.5h0"/>
<path d="M277.6,611.2h0M271.5,629.2h0M268.2,623.9h0M266.2,637.7h0M271.6,637.5h0M275.0,627.7h0M272.7,685.0h0M275.6,611.3h0M269.2,617.7h0M268.5,617.1h0M268.3,630.3h0M277.0,610.9h0M269.5,617.1h0M277.9,618.4h0M276.0,617.6h0M273.1,611.4h0M276.2,634.1h0M271.3,631.0h0M279.1,633.4h0M276.1,641.0h0M272.5,646.1h0M273.2,616.0h0M277.5,621.3h0M271.3,614.2h0M273.7,622.4h0M277.8,645.0h0M267.8,628.0h0M271.4,629.7h0M269.3,634.3h0M273.8,638.8h0M266.3,622.2h0M269.5,620.1h0M279.0,630.6h0M272.1,619.3h0M275.7,622.3h0M270.0,627.0h0M268.3,615.2h0M272.6,623.3h0M267.9,608.2h0M275.2,617.9h0M272.7,631.7h0M272.7,621.9h0M267.3,646.6h0M269.4,621.3h0M271.9,619.6h0M277.9,612.2h0M269.1,610.6h0M273.3,610.0h0M276.3,642.3h0M270.9,608.1h0M278.8,638.3h0M276.4,627.0h0M279.1,636.7h0M278.7,609.6h0M278.0,627.1h0M270.4,614.5h0M270.0,643.3h0M276.0,611.8h0M273.1,611.3h0M271.5,637.8h0M268.3,615.5h0M277.6,623.9h0M275.8,635.8h0M273.5,642.4h0M277.2,609.3h0M268.4,610.1h0M278.5,624.7h0M278.8,613.9h0M276.4,633.6h0M274.9,637.2h0M270.6,614.6h0M270.8,625.2h0M269.5,654.5h0M268.0,661.8h0M277.9,644.9h0M272.7,621.2h0M270.9,650.2h0M268.4,615.0h0M278.7,632.8h0M267.5,607.7h0M272.2,622.8h0M277.7,624.2h0M274.3,623.2h0M274.3,657.4h0M271.5,627.3h0"/>
<path d="M277.0,614.0h0M272.7,629.8h0M277.7,609.7h0M270.3,628.3h0M270.9,634.2h0M270.7,624.1h0M267.4,628.3h0M277.7,638.5h0M272.5,627.4h0M266.3,615.2h0M272.9,625.3h0M272.5,613.6h0M277.4,627.8h0M267.4,616.2h0M266.3,613.9h0M272.7,630.2h0M266.1,617.9h0M271.0,628.7h0M271.5,609.2h0M275.2,628.0h0M275.9,618.9h0M267.9,630.1h0M276.3,629.4h0M268.9,626.2h0M267.1,632.3h0M275.3,642.4h0M278.7,616.2h0M269.5,653.6h0M267.1,609.0h0M275.7,626.5h0M266.1,620.5h0M267.3,624.1h0M271.6,642.3h0M272.5,624.6h0M273.0,627.0h0M278.3,627.3h0M268.3,658.6h0M275.7,637.3h0M270.8,655.1h0M269.4,607.5h0M269.6,608.0h0M278.0,614.5h0M275.0,615.9h0M271.4,614.2h0M270.8,612.5h0M267.5,613.2h0M276.8,633.1h0M272.8,619.3h0M266.1,640.1h0M272.0,639.7h0M274.0,636.6h0M273.9,632.0h0M267.1,624.4h0M271.7,615.7h0M267.9,639.0h0M276.3,612.0h0M278.4,623.5h0M274.9,634.9h0M270.8,613.3h0M270.5,625.1h0M272.0,611.3h0M269.1,621.5h0M277.2,621.2h0M277.1,628.4h0M276.6,613.3h0M268.3,628.3h0M277.9,627.5h0M270.5,633.7h0M276.0,625.8h0M271.3,629.8h0M271.8,637.7h0M267.6,619.6h0M271.6,629.0h0M267.0,608.6h0M269.8,608.3h0M278.6,626.9h0M275.0,638.3h0M269.2,627.8h0M276.7,624.3h0M272.1,660.2h0M274.6,625.8h0M273.3,646.4h0M278.6,622.6h0M271.6,628.8h0M266.5,630.9h0M275.0,626.4h0M272.4,630.1h0M274.2,619.7h0M270.8,640.3h0M269.7,639.5h0M276.7,609.8h0M276.4,612.7h0"/>
</g>
<g stroke="#2e2e2e" stroke-opacity="0.25" stroke-width="2.2" stroke-linecap="round" fill="none">
<path d="M60.3,619.2h0M58.9,624.7h0M56.7,636.8h0M61.9,643.9h0M60.4,611.0h0M58.1,642.0h0M58.3,630.4h0M58.1,611.9h0M59.9,611.0h0M63.5,617.3h0M66.5,631.6h0M62.1,616.7h0M64.9,620.8h0M58.7,623.9h0M54.5,610.9h0"/>
<path d="M64.5,614.1h0M66.2,616.7h0M58.8,609.0h0M55.4,608.9h0M54.7,619.3h0M57.6,620.9h0M56.9,632.2h0M61.3,620.1h0M54.3,618.8h0M64.3,621.0h0M60.1,628.3h0M56.3,631.9h0M59.3,630.6h0M62.3,637.9h0M61.0,618.2h0"/>
<path d="M57.1,622.5h0M61.3,612.1h0M59.1,639.3h0M58.9,610.7h0M56.3,627.1h0M66.6,626.4h0M63.4,623.5h0M55.3,632.9h0M59.1,635.2h0M65.3,642.0h0M56.7,608.2h0M66.7,634.4h0M57.0,627.3h0M60.8,630.1h0M60.5,632.1h0"/>
<path d="M54.9,665.2h0M54.5,634.9h0M55.2,618.0h0M62.9,619.6h0M67.0,648.3h0M65.2,659.8h0M54.6,621.3h0M66.8,639.1h0M57.0,637.7h0M63.0,642.3h0M62.5,611.7h0M63.3,644.3h0M65.7,620.7h0M54.8,630.3h0M65.2,632.4h0"/>
<path d="M57.1,617.5h0M57.1,617.5h0M60.5,634.7h0M67.1,607.4h0M60.3,609.3h0M57.4,637.0h0M64.4,633.0h0M63.2,635.8h0M63.3,616.9h0M62.1,625.9h0M58.3,630.8h0M62.0,662.4h0M65.9,659.8h0M62.6,673.8h0M56.9,619.4h0"/>
<path d="M63.8,626.2h0M65.8,625.3h0M63.9,666.9h0M61.8,646.2h0M63.6,627.0h0M55.8,654.0h0M64.1,661.7h0M64.8,648.6h0M63.6,623.5h0M65.2,635.8h0M57.2,626.6h0M64.0,629.2h0M55.4,626.1h0M65.9,653.3h0"/>
<path d="M62.1,623.8h0M64.1,635.3h0M62.2,624.3h0M57.3,618.4h0M64.5,614.5h0M59.9,618.1h0M63.4,625.8h0M67.1,617.8h0M60.4,635.8h0M58.1,625.5h0M61.9,618.4h0M58.1,616.3h0M62.0,625.3h0M63.1,615.9h0M59.1,654.6h0"/>
<path d="M55.5,618.3h0M60.3,645.1h0M56.2,613.8h0M56.1,636.7h0M61.9,609.0h0M65.4,625.3h0M54.6,626.9h0M55.0,628.3h0M66.7,624.6h0M55.9,626.6h0M59.0,614.8h0M55.8,653.2h0M60.2,623.5h0M60.9,633.4h0M66.4,632.5h0"/>
<path d="M120.9,635.4h0M120.1,625.6h0M127.1,629.3h0M119.3,629.2h0M124.1,619.3h0M121.2,616.2h0M129.4,626.8h0M126.0,632.2h0M119.2,628.9h0M123.8,618.2h0M121.5,627.8h0M123.5,627.2h0M123.1,627.9h0M127.8,607.8h0M119.2,656.2h0M131.2,630.0h0M129.2,632.3h0M128.3,607.7h0M130.1,631.5h0M125.9,619.3h0M130.9,653.0h0M129.9,623.3h0M129.5,651.9h0M122.6,635.0h0M121.2,624.7h0M124.7,609.7h0M123.7,644.5h0M119.1,607.7h0M125.2,618.7h0M129.2,612.0h0M122.5,613.0h0M130.9,615.7h0M130.9,642.4h0M122.4,634.8h0M129.0,621.4h0M125.9,624.7h0M130.5,626.1h0M130.8,660.7h0M124.3,636.6h0M129.2,637.8h0M125.2,616.4h0M126.1,620.7h0M120.2,615.8h0M119.1,612.7h0M131.7,637.3h0M119.9,621.8h0M118.7,653.5h0M127.7,644.4h0M130.3,633.0h0M129.1,624.8h0M119.7,613.4h0M119.5,625.6h0M119.2,620.8h0M122.6,659.5h0M122.0,627.8h0M131.1,650.3h0M121.5,623.9h0M123.5,611.3h0M121.2,625.1h0M126.7,628.0h0M118.7,622.3h0M128.1,626.5h0M121.9,649.0h0M129.2,623.4h0M124.4,607.2h0M119.4,642.4h0M121.8,621.7h0M122.4,613.2h0M129.5,644.5h0M125.4,624.1h0M129.6,660.7h0M127.4,621.2h0M121.0,651.4h0M129.6,621.0h0M128.1,640.9h0M131.2,631.9h0M121.4,642.1h0M128.8,647.9h0M119.9,631.6h0M128.1,635.5h0M130.6,627.6h0M128.1,644.0h0M120.6,641.2h0M127.0,626.6h0M131.8,621.1h0M124.9,619.9h0M122.7,617.9h0M127.2,664.0h0M124.3,645.7h0M120.5,616.3h0M130.3,617.6h0M130.3,615.5h0M124.3,648.7h0M127.7,608.5h0M122.0,622.3h0M122.2,625.6h0"/>
<path d="M124.4,616.1h0M124.6,629.0h0M126.5,626.2h0M121.1,610.3h0M120.1,630.3h0M128.6,609.9h0M126.3,612.8h0M128.8,620.7h0M124.7,629.6h0M124.1,646.6h0M131.3,626.0h0M122.6,640.0h0M119.5,638.5h0M122.3,617.3h0M122.6,721.1h0M126.7,636.6h0M130.8,635.5h0M127.7,620.9h0M127.8,639.9h0M125.2,648.2h0M127.4,618.8h0M125.8,636.1h0M126.1,610.3h0M123.9,630.2h0M123.7,626.5h0M118.7,620.0h0M128.5,627.3h0M124.7,672.2h0M122.8,629.5h0M121.6,637.6h0M130.7,617.4h0M118.6,628.6h0M121.8,666.7h0M127.5,622.5h0M124.1,627.8h0M128.8,628.9h0M127.4,624.5h0M126.3,610.8h0M124.6,622.6h0M129.7,618.4h0M120.4,645.7h0M122.1,647.1h0M125.6,625.9h0M122.1,621.4h0M123.0,616.9h0M127.0,623.0h0M120.1,647.0h0M125.1,635.4h0M131.3,612.8h0M124.9,644.3h0M119.2,620.1h0M126.1,608.4h0M125.1,630.9h0M120.1,654.1h0M119.9,662.2h0M123.6,621.5h0M128.7,627.9h0M129.5,615.8h0M119.7,636.7h0M131.4,613.5h0M130.8,643.8h0M119.2,634.8h0M119.3,616.6h0M120.9,628.6h0M130.3,612.3h0M131.1,623.4h0M126.9,608.0h0M127.9,617.9h0M125.5,625.9h0M124.8,613.7h0M123.0,617.7h0M130.8,610.3h0M130.4,624.4h0M125.2,678.0h0M120.4,618.6h0M128.3,615.8h0M118.8,625.9h0M127.2,622.1h0M120.6,614.0h0M122.9,626.2h0M120.0,625.2h0M124.3,618.3h0M120.1,617.3h0M123.0,629.6h0M131.6,624.0h0M130.0,617.3h0M123.3,643.4h0M125.7,639.5h0M122.3,622.6h0M131.6,618.5h0M128.8,614.3h0M127.8,644.4h0M122.1,631.2h0M131.2,648.8h0M126.2,612.2h0"/>
<path d="M119.4,615.3h0M119.9,633.4h0M122.4,624.6h0M127.4,618.1h0M129.5,647.2h0M123.6,620.9h0M130.5,632.4h0M119.5,614.4h0M129.9,645.7h0M119.2,642.6h0M119.7,633.4h0M129.1,635.6h0M121.5,645.7h0M126.7,619.7h0M127.3,620.7h0M122.5,619.6h0M128.2,632.7h0M130.6,612.3h0M123.1,644.6h0M124.3,643.4h0M120.4,624.4h0M128.6,634.7h0M122.1,630.0h0M123.0,623.8h0M131.4,647.7h0M131.6,616.7h0M123.2,648.3h0M121.5,625.7h0M124.5,650.2h0M129.9,641.4h0M119.5,637.5h0M121.2,615.2h0M126.8,616.6h0M122.1,627.9h0M120.3,615.7h0M122.0,621.1h0M131.6,619.6h0M125.0,630.6h0M127.5,616.1h0M118.8,632.0h0M119.2,624.7h0M122.9,621.7h0M125.6,609.6h0M120.2,609.7h0M125.9,609.2h0M130.3,622.3h0M131.0,638.9h0M122.2,622.6h0M121.5,641.5h0M123.8,620.1h0M127.1,639.5h0M124.8,628.8h0M127.5,626.7h0M122.2,626.7h0M120.4,646.8h0M125.2,631.6h0M130.7,625.3h0M131.7,626.6h0M125.7,625.7h0M121.7,630.1h0M131.0,611.5h0M124.9,636.3h0M122.3,675.1h0M129.4,627.9h0M119.3,628.4h0M127.6,616.7h0M118.7,676.1h0M126.8,611.2h0M127.3,624.7h0M123.0,634.6h0M127.2,608.1h0M127.9,633.0h0M120.1,622.3h0M122.7,633.6h0M131.5,635.8h0M130.2,615.6h0M120.8,621.3h0M128.5,618.0h0M126.4,619.0h0M121.4,625.0h0M129.0,644.0h0M119.2,629.7h0M119.8,634.0h0M121.9,642.2h0M127.5,610.3h0M128.6,630.4h0M126.4,662.8h0M119.3,625.1h0M121.6,640.7h0M119.5,622.8h0M123.9,630.7h0M122.7,632.1h0M129.2,635.4h0M120.9,658.2h0M123.7,645.3h0M131.3,633.8h0"/>
<path d="M129.7,659.5h0M127.2,612.0h0M121.1,615.3h0M126.3,621.6h0M123.0,653.2h0M122.1,607.6h0M129.6,638.5h0M119.7,608.5h0M126.8,630.3h0M121.6,643.9h0M119.2,633.7h0M130.9,622.9h0M128.3,645.0h0M122.6,640.4h0M122.8,620.5h0M122.0,635.3h0M125.5,622.0h0M125.4,624.8h0M127.5,612.7h0M128.6,623.4h0M127.6,629.7h0M131.0,637.2h0M125.8,640.0h0M124.8,614.4h0M130.1,633.4h0M124.3,642.9h0M126.4,638.6h0M122.8,638.1h0M119.4,609.8h0M123.9,619.5h0M129.9,628.0h0M120.1,665.2h0M122.5,607.0h0M121.6,612.9h0M129.6,637.4h0M128.8,611.8h0M121.5,643.3h0M128.1,662.6h0M129.1,628.5h0M126.4,638.1h0M124.8,618.3h0M128.5,620.8h0M119.3,623.4h0M120.0,617.5h0M120.2,628.5h0M131.0,656.3h0M124.5,618.4h0M119.2,612.3h0M127.3,623.5h0M126.0,621.3h0M120.2,610.8h0M126.4,627.6h0M122.8,638.2h0M124.0,621.7h0M128.6,620.1h0M125.5,634.1h0M125.2,649.9h0M120.4,624.4h0M124.0,638.4h0M127.2,635.8h0M124.6,612.4h0M120.4,624.3h0M131.6,624.8h0M125.6,618.3h0M128.6,636.8h0M123.9,612.5h0M119.9,614.1h0M120.2,619.8h0M130.6,617.5h0M121.9,616.7h0M124.3,638.8h0M129.6,621.0h0M119.0,618.4h0M119.1,620.5h0M120.7,619.1h0M131.2,646.7h0M119.1,620.4h0M125.9,622.8h0M119.4,620.9h0M131.1,640.8h0M129.9,637.0h0M130.0,616.5h0M127.0,618.1h0M125.8,654.3h0M131.7,650.2h0M118.7,626.0h0M122.1,632.1h0M129.3,638.4h0M130.8,624.8h0M130.7,624.5h0M122.6,612.0h0M121.1,622.1h0M130.3,612.6h0M126.6,620.5h0M122.9,627.3h0M125.4,617.1h0M127.2,631.6h0M122.6,628.9h0M127.4,656.6h0"/>
<path d="M121.6,641.3h0M126.4,653.0h0M122.2,654.0h0M129.9,638.5h0M131.8,624.9h0M128.4,658.3h0M126.5,624.9h0M119.0,647.6h0M125.1,628.4h0M122.2,622.9h0M125.0,608.9h0M127.7,618.0h0M130.6,628.2h0M130.6,645.2h0M121.2,621.5h0M130.9,617.6h0M119.8,643.2h0M127.0,643.1h0M128.8,621.6h0M128.3,663.9h0M126.2,623.7h0M119.7,648.0h0M127.0,623.2h0M121.3,623.4h0M130.6,622.6h0M125.1,631.1h0M119.9,615.2h0M129.4,621.5h0M125.0,621.6h0M128.7,638.2h0M129.0,613.0h0M128.9,650.0h0M129.0,611.2h0M125.9,637.5h0M127.0,624.0h0M119.8,620.7h0M123.6,623.4h0M129.3,619.1h0M118.8,630.8h0M124.1,614.2h0M126.4,615.0h0M130.3,629.7h0M130.1,629.1h0M123.1,615.3h0M127.1,615.5h0M124.0,624.3h0M118.9,630.4h0M127.1,623.0h0M128.4,621.9h0M130.0,634.8h0M120.8,622.2h0M125.4,639.7h0M129.6,618.2h0M129.0,627.8h0M122.9,657.5h0M127.0,614.3h0M123.1,622.2h0M121.9,638.5h0M125.0,624.0h0M128.1,624.1h0M127.9,627.4h0M129.3,609.9h0M118.8,622.0h0M119.6,611.3h0M123.4,610.2h0M119.3,619.1h0M123.9,634.6h0M118.8,639.5h0M129.2,661.8h0M119.0,623.5h0M130.7,636.7h0M130.3,607.7h0M128.0,617.2h0M131.0,624.3h0M121.9,632.0h0M125.9,626.3h0M118.9,671.1h0M131.3,614.8h0M129.1,615.0h0M120.4,623.9h0M126.1,610.0h0M123.4,664.8h0M124.9,625.4h0M124.7,630.3h0M130.4,622.7h0M120.5,621.1h0M120.9,623.2h0M124.3,615.0h0M130.7,641.2h0M118.9,611.5h0M127.8,630.0h0M126.2,624.0h0M124.9,648.2h0M128.4,633.9h0M131.2,622.7h0M120.8,615.4h0M118.7,626.7h0M122.2,610.8h0M129.8,626.4h0"/>
<path d="M122.9,632.1h0M118.7,613.8h0M122.3,622.2h0M124.5,616.8h0M126.0,615.6h0M131.7,648.1h0M124.2,638.3h0M126.5,616.7h0M120.6,626.2h0M119.8,613.8h0M123.9,630.1h0M125.0,629.5h0M129.2,623.8h0M122.8,636.7h0M120.5,646.1h0M128.0,631.1h0M121.5,651.7h0M119.6,639.4h0M125.6,623.8h0M130.7,636.5h0M120.8,631.5h0M118.9,622.6h0M129.8,637.3h0M120.4,615.5h0M122.8,636.0h0M119.8,650.3h0M130.2,631.1h0M123.8,615.6h0M121.8,616.1h0M124.7,620.8h0M119.6,636.8h0M119.8,635.4h0M126.5,615.6h0M121.3,632.8h0M121.5,636.5h0M124.8,650.9h0M127.3,634.1h0M125.5,623.2h0M122.3,615.0h0M121.1,619.5h0M120.1,613.5h0M123.8,619.5h0M126.2,625.9h0M128.5,641.6h0M129.3,611.7h0M129.0,619.4h0M119.7,617.6h0M121.3,642.1h0M126.1,617.2h0M122.2,630.3h0M124.8,620.6h0M124.3,612.9h0M122.3,641.3h0M127.8,643.8h0M131.5,625.3h0M124.9,638.4h0M125.6,622.8h0M127.8,626.4h0M121.8,631.5h0M122.1,621.6h0M119.5,629.0h0M122.0,637.0h0M131.3,635.7h0M122.1,621.1h0M122.9,619.8h0M130.2,638.8h0M126.2,618.3h0M123.3,641.8h0M125.8,625.8h0M129.1,645.6h0M123.7,618.2h0M122.7,619.4h0M123.9,623.4h0M123.0,648.1h0M121.8,609.5h0M123.4,609.7h0M121.3,634.3h0M121.5,628.9h0M131.7,608.7h0M123.2,630.4h0M129.2,617.1h0M121.1,673.9h0M126.3,621.8h0M126.8,617.3h0M120.1,662.8h0M127.0,620.2h0M124.8,613.9h0M119.2,624.4h0M122.3,622.9h0M129.1,642.2h0M119.3,625.9h0M121.4,658.2h0M130.1,624.7h0M130.3,643.2h0M131.3,616.9h0M128.6,624.3h0"/>
<path d="M120.1,633.3h0M127.8,625.0h0M129.6,637.5h0M120.2,653.5h0M120.1,620.7h0M124.3,618.3h0M127.4,616.7h0M120.4,619.3h0M124.4,617.5h0M129.2,625.0h0M120.0,613.9h0M122.3,641.2h0M129.2,628.7h0M128.8,637.8h0M130.7,619.0h0M127.0,639.9h0M120.3,619.6h0M123.4,616.3h0M118.7,647.1h0M123.0,641.7h0M122.2,676.9h0M127.3,633.8h0M129.2,637.0h0M124.6,623.7h0M121.8,619.0h0M130.8,617.2h0M120.5,623.0h0M130.4,642.3h0M122.5,656.2h0M124.7,611.3h0M127.7,633.7h0M130.2,672.8h0M123.0,621.6h0M131.4,641.9h0M127.1,626.6h0M124.5,622.9h0M128.7,622.6h0M124.3,614.7h0M124.1,615.0h0M125.2,655.3h0M122.4,635.6h0M120.5,629.3h0M123.0,625.6h0M122.1,622.1h0M126.8,633.1h0M118.8,640.3h0M124.4,632.0h0M121.0,643.7h0M128.8,630.0h0M131.6,618.1h0M131.2,641.0h0M125.4,635.3h0M123.6,622.4h0M129.1,622.7h0M118.8,628.3h0M129.1,643.1h0M131.6,611.5h0M124.5,630.8h0M125.4,671.4h0M125.3,639.9h0M127.8,652.3h0M130.2,637.6h0M125.3,624.7h0M122.4,620.2h0M131.5,690.2h0M119.9,656.9h0M127.1,641.6h0M127.1,623.0h0M130.7,637.7h0M123.6,634.4h0M128.1,635.6h0M125.1,688.4h0M121.5,626.1h0M127.9,615.2h0M124.5,621.5h0M123.9,613.9h0M121.8,627.3h0M126.9,614.1h0M120.8,634.6h0M126.6,642.4h0M124.8,649.3h0M124.5,645.3h0M122.3,625.9h0M119.7,626.3h0M119.9,630.7h0M128.2,650.0h0M130.8,642.6h0M124.9,628.8h0M128.3,616.4h0M122.0,631.1h0M128.7,629.0h0M128.2,611.1h0M131.4,655.4h0M121.5,645.2h0M118.9,619.1h0M122.3,637.7h0M128.1,636.0h0M127.1,632.4h0"/>
<path d="M127.7,620.9h0M121.4,619.4h0M125.6,638.1h0M120.0,629.6h0M119.8,666.3h0M129.4,620.6h0M120.9,615.2h0M130.8,628.9h0M120.1,620.8h0M125.8,649.3h0M122.3,642.1h0M120.4,633.5h0M125.2,641.6h0M127.4,615.5h0M120.4,638.0h0M128.3,619.0h0M126.6,631.9h0M127.7,622.2h0M126.4,614.9h0M121.6,617.7h0M123.0,634.3h0M119.5,627.3h0M122.4,622.4h0M121.5,674.1h0M119.7,620.5h0M130.4,634.5h0M123.4,636.8h0M125.6,640.1h0M128.1,622.5h0M131.7,613.9h0M130.5,639.8h0M121.2,632.9h0M120.3,654.3h0M126.9,673.8h0M125.9,628.5h0M122.2,664.2h0M122.3,631.2h0M120.9,610.6h0M124.4,608.9h0M123.7,614.3h0M122.3,624.0h0M122.5,620.3h0M121.2,634.6h0M127.5,623.4h0M124.1,620.8h0M131.6,627.1h0M126.8,678.1h0M120.0,627.1h0M129.4,613.8h0M119.8,622.1h0M126.1,617.4h0M131.0,633.1h0M128.6,632.9h0M120.7,619.2h0M129.8,651.0h0M118.9,634.6h0M120.3,634.9h0M119.1,640.2h0M126.0,615.4h0M122.9,637.2h0M130.8,636.3h0M123.7,631.9h0M120.4,629.9h0M122.2,630.8h0M125.0,625.5h0M128.2,631.7h0M127.0,624.6h0M121.0,611.4h0M123.8,614.6h0M118.7,638.2h0M128.2,628.3h0M122.4,641.4h0M124.0,632.2h0M124.8,619.9h0M130.5,630.9h0M118.8,618.3h0M119.3,621.6h0M121.9,631.0h0M120.6,609.9h0M129.8,637.7h0M121.1,621.5h0M125.0,614.2h0M129.5,640.0h0M127.9,638.8h0M125.9,642.6h0M128.5,670.4h0M119.9,645.0h0M120.3,612.4h0M118.9,624.3h0M128.2,627.4h0M120.6,688.9h0M129.4,622.1h0M122.3,636.7h0M125.2,646.3h0M126.9,624.0h0M129.9,631.0h0M128.5,630.6h0M118.9,611.7h0M126.1,622.3h0"/>
<path d="M187.0,634.0h0M194.5,640.8h0M185.5,638.7h0M193.0,668.7h0M184.3,641.4h0M190.8,628.6h0M191.6,662.1h0M189.3,612.0h0M195.1,662.6h0M186.6,633.1h0M184.9,667.7h0M194.1,627.6h0M188.5,624.0h0M195.8,621.9h0M190.1,642.8h0M190.6,634.6h0M192.3,657.3h0M196.2,619.9h0M186.2,631.8h0M184.7,656.0h0M187.3,690.6h0M192.7,660.8h0M196.6,644.7h0M186.1,657.8h0M193.5,624.5h0M191.8,688.4h0M193.9,648.0h0M194.6,638.1h0M192.8,638.8h0M193.0,655.5h0M190.2,630.0h0M186.5,624.0h0M190.7,641.3h0M184.6,643.4h0M187.0,667.9h0M188.6,615.5h0M189.5,614.5h0M185.0,645.2h0M189.2,624.6h0M194.7,655.9h0M192.6,642.8h0M184.2,634.7h0M194.3,648.7h0M196.7,625.1h0M189.0,652.8h0M190.4,629.1h0M196.8,657.6h0M185.2,637.2h0M189.0,638.8h0M190.4,617.5h0M192.0,655.0h0M189.3,631.6h0M183.7,639.0h0M195.5,639.1h0M193.0,721.6h0M189.3,633.2h0M196.2,626.7h0M185.0,649.0h0M192.6,633.8h0M187.9,632.7h0M191.5,651.3h0M188.2,617.9h0M192.4,659.9h0M188.0,657.5h0M184.3,645.2h0M195.5,616.8h0M186.7,617.3h0M191.8,676.9h0M190.1,613.6h0M190.1,629.3h0M183.9,619.9h0M190.0,622.4h0M184.6,668.9h0M194.5,683.5h0M194.9,651.0h0M185.5,636.7h0M187.7,629.0h0M195.8,667.6h0M187.3,629.8h0M185.7,647.2h0M186.9,645.5h0M192.8,632.5h0M191.1,661.4h0M190.6,642.5h0M188.3,642.5h0M192.0,673.4h0M184.1,676.0h0M191.2,644.5h0M189.3,641.4h0M186.4,645.6h0M184.3,654.9h0M187.4,631.2h0M196.5,638.0h0M193.5,633.1h0M190.6,632.0h0"/>
<path d="M188.0,646.4h0M194.7,638.3h0M185.7,670.3h0M184.7,663.4h0M185.1,659.3h0M190.1,641.7h0M194.7,649.3h0M193.6,618.4h0M189.8,629.6h0M194.9,675.0h0M188.2,645.9h0M191.9,647.3h0M184.8,641.9h0M195.3,630.3h0M185.9,664.7h0M196.1,669.5h0M194.2,645.9h0M195.2,626.5h0M188.8,655.5h0M183.8,645.8h0M188.8,627.4h0M195.9,643.3h0M194.5,623.2h0M196.3,647.8h0M195.9,708.7h0M196.4,622.3h0M190.2,650.1h0M185.5,654.5h0M196.1,661.4h0M188.5,626.6h0M191.8,622.1h0M194.2,660.2h0M191.8,657.8h0M193.6,642.8h0M191.4,647.5h0M193.0,638.4h0M184.4,647.7h0M189.2,638.7h0M195.1,620.5h0M186.9,629.4h0M190.7,633.6h0M186.0,671.8h0M186.4,613.7h0M185.4,661.6h0M192.4,647.1h0M189.3,650.1h0M183.9,644.7h0M184.6,631.2h0M184.2,652.4h0M196.4,628.7h0M194.2,649.6h0M185.8,627.4h0M185.7,693.5h0M185.7,638.3h0M188.8,653.9h0M187.0,635.2h0M186.6,663.2h0M196.2,668.7h0M194.2,633.0h0M185.2,610.3h0M189.9,673.3h0M195.6,617.9h0M190.2,650.5h0M184.1,630.3h0M188.1,642.2h0M192.5,638.7h0M187.1,654.4h0M189.4,616.9h0M188.2,671.4h0M196.0,608.7h0M188.1,623.8h0M184.7,663.3h0M195.8,632.4h0M185.9,634.0h0M193.4,631.8h0M193.4,635.4h0M195.4,634.2h0M196.2,662.5h0M184.8,661.9h0M185.0,704.9h0M186.4,664.4h0M184.9,700.2h0M192.4,653.7h0M190.3,636.5h0M187.4,628.0h0M189.6,684.0h0M189.8,650.8h0M190.1,671.6h0M189.2,681.8h0M187.1,669.4h0M184.5,655.1h0M186.7,611.1h0M188.4,678.7h0M190.4,621.2h0"/>
<path d="M196.1,670.4h0M195.8,652.8h0M186.9,635.5h0M194.9,663.5h0M189.7,658.0h0M189.7,644.5h0M191.2,652.3h0M193.3,630.6h0M193.9,638.9h0M189.4,662.5h0M191.1,659.1h0M186.1,624.2h0M191.2,631.6h0M187.4,651.0h0M194.4,661.3h0M187.5,638.4h0M185.0,635.0h0M193.8,616.8h0M192.3,654.3h0M183.8,643.5h0M196.4,622.8h0M188.1,631.2h0M190.0,646.9h0M193.0,622.4h0M184.0,674.2h0M191.1,624.4h0M184.3,628.1h0M191.0,636.2h0M194.8,627.2h0M189.5,625.3h0M191.5,635.2h0M191.2,634.9h0M191.3,609.9h0M184.5,644.4h0M190.5,622.1h0M187.5,622.4h0M190.3,675.1h0M187.6,622.5h0M195.8,657.9h0M185.2,631.3h0M193.5,682.9h0M190.6,661.0h0M192.6,629.6h0M196.5,673.5h0M190.4,657.6h0M187.2,647.2h0M184.2,633.6h0M194.4,630.7h0M196.1,662.5h0M193.4,621.1h0M192.7,667.0h0M195.1,639.9h0M191.2,668.6h0M188.4,635.7h0M196.6,644.5h0M196.7,615.3h0M188.7,634.9h0M196.5,637.3h0M186.5,639.2h0M196.1,632.0h0M186.0,619.5h0M193.6,631.6h0M188.3,656.8h0M193.9,625.8h0M192.3,623.5h0M190.8,648.2h0M195.9,613.4h0M195.8,632.1h0M192.3,639.6h0M185.5,625.8h0M189.2,665.1h0M193.4,614.2h0M184.1,667.4h0M194.5,636.8h0M194.8,652.3h0M192.1,636.9h0M196.3,686.2h0M191.5,644.3h0M194.8,665.9h0M188.1,695.8h0M195.7,654.6h0M191.8,691.9h0M187.5,660.4h0M193.3,653.7h0M194.5,665.0h0M184.8,658.4h0M187.5,630.6h0M191.2,627.6h0M189.5,642.2h0M193.5,656.1h0M190.0,649.1h0M195.8,641.1h0M184.5,613.4h0M187.8,662.7h0"/>
<path d="M195.9,667.3h0M193.4,652.9h0M184.0,632.8h0M186.2,619.7h0M196.4,660.2h0M188.0,630.9h0M196.5,643.3h0M189.5,647.2h0M191.9,660.1h0M194.7,660.2h0M184.9,658.1h0M188.3,623.6h0M188.4,658.3h0M192.8,676.8h0M190.3,643.1h0M183.7,624.0h0M196.4,634.4h0M190.6,636.1h0M192.6,659.0h0M188.8,633.7h0M189.6,667.7h0M190.0,645.6h0M184.5,657.0h0M194.6,642.4h0M186.7,649.2h0M187.3,625.2h0M189.6,620.3h0M190.9,625.8h0M187.3,633.1h0M195.4,647.5h0M191.1,675.8h0M192.2,621.5h0M195.5,635.4h0M186.0,650.7h0M193.5,610.6h0M192.4,639.2h0M192.6,648.6h0M185.1,639.0h0M196.0,640.1h0M193.2,637.6h0M193.4,667.6h0M196.7,645.8h0M193.9,650.5h0M191.2,629.5h0M187.2,658.9h0M196.6,638.8h0M188.4,652.4h0M192.2,643.4h0M185.2,673.9h0M194.5,660.6h0M187.7,619.9h0M187.1,622.3h0M194.1,628.0h0M193.2,634.4h0M191.5,655.8h0M193.9,659.6h0M184.1,620.0h0M195.3,626.2h0M194.8,681.2h0M184.1,646.1h0M194.5,636.5h0M195.7,682.9h0M188.1,681.1h0M196.1,630.7h0M194.3,720.9h0M186.5,639.0h0M190.6,648.1h0M192.7,613.9h0M188.5,647.4h0M195.3,636.7h0M188.6,650.4h0M192.7,621.9h0M186.5,631.7h0M186.0,629.7h0M183.6,652.8h0M184.2,671.9h0M188.1,648.2h0M193.1,625.7h0M186.4,632.7h0M184.0,637.3h0M196.7,645.8h0M186.2,630.3h0M194.1,686.5h0M195.4,636.7h0M187.3,663.7h0M184.5,632.4h0M194.9,625.8h0M186.8,627.8h0M193.9,718.6h0M196.5,702.9h0M186.1,636.0h0M184.6,649.6h0M193.8,633.8h0M195.8,612.7h0"/>
<path d="M190.7,646.2h0M191.6,664.6h0M184.3,647.1h0M187.7,624.9h0M191.2,660.7h0M184.0,674.0h0M183.6,654.4h0M195.2,667.2h0M193.9,648.7h0M191.3,612.7h0M194.3,635.7h0M194.3,655.0h0M187.8,632.4h0M194.7,646.3h0M188.9,620.7h0M189.1,675.6h0M190.7,649.4h0M187.1,680.1h0M188.3,625.1h0M188.2,607.2h0M187.5,633.0h0M191.5,638.7h0M187.5,680.7h0M193.2,630.9h0M193.6,614.4h0M192.8,637.9h0M193.8,642.5h0M191.3,650.7h0M190.7,637.6h0M189.6,622.1h0M192.1,658.4h0M190.9,619.5h0M194.1,664.5h0M186.1,640.3h0M195.6,634.8h0M183.6,632.8h0M191.3,676.3h0M186.3,653.2h0M189.8,644.6h0M185.1,639.6h0M196.6,670.2h0M191.3,641.4h0M190.4,634.1h0M196.5,652.5h0M185.4,667.1h0M192.8,622.0h0M185.1,669.3h0M195.2,653.3h0M191.7,629.9h0M196.4,645.6h0M195.8,649.2h0M186.9,627.3h0M195.5,642.5h0M194.7,635.1h0M191.2,649.9h0M192.2,630.5h0M187.1,641.2h0M192.8,643.6h0M196.1,623.1h0M190.6,669.1h0M190.7,638.8h0M184.9,634.5h0M189.4,630.7h0M195.1,624.7h0M191.8,637.3h0M183.7,646.9h0M185.4,641.8h0M196.5,639.0h0M194.6,632.9h0M184.5,673.6h0M192.8,645.3h0M196.2,626.2h0M183.7,615.4h0M185.6,631.6h0M193.5,620.1h0M189.0,633.2h0M183.8,632.1h0M187.2,642.9h0M189.0,667.4h0M186.0,632.3h0M193.1,627.7h0M184.7,662.5h0M196.5,643.5h0M194.3,649.8h0M189.8,656.9h0M191.5,619.7h0M195.6,645.6h0M193.0,623.6h0M192.4,649.0h0M187.3,636.6h0M185.9,641.8h0M186.2,649.5h0M187.9,637.9h0M195.6,645.2h0M186.5,675.0h0"/>
<path d="M196.0,676.6h0M195.4,688.4h0M185.3,648.5h0M187.4,634.8h0M194.9,636.6h0M188.3,649.4h0M194.3,677.0h0M187.9,667.3h0M192.0,635.1h0M192.9,650.9h0M190.1,630.6h0M188.7,655.6h0M183.8,644.3h0M191.2,633.5h0M188.4,663.6h0M186.8,629.4h0M192.9,685.2h0M193.4,651.2h0M196.6,632.5h0M192.3,625.2h0M188.1,632.8h0M189.0,620.3h0M194.8,623.1h0M187.7,616.2h0M188.3,628.6h0M191.3,641.0h0M190.0,636.8h0M193.2,624.9h0M189.0,631.2h0M184.4,651.9h0M191.4,631.5h0M191.7,621.8h0M192.0,638.9h0M196.5,640.4h0M196.2,636.0h0M192.1,635.3h0M193.5,668.7h0M189.2,636.6h0M185.3,663.6h0M196.0,613.2h0M193.0,672.4h0M185.0,669.2h0M191.8,657.8h0M188.3,690.8h0M190.4,646.4h0M195.3,652.9h0M184.9,618.7h0M184.3,639.7h0M193.2,679.2h0M186.3,656.5h0M189.5,614.4h0M186.2,636.9h0M184.7,659.0h0M188.6,627.5h0M191.4,643.6h0M187.8,620.9h0M188.3,622.7h0M190.1,717.6h0M184.4,653.3h0M185.2,663.0h0M192.3,657.7h0M190.3,652.0h0M190.4,665.5h0M191.1,640.3h0M187.7,655.3h0M191.1,629.7h0M196.5,627.0h0M189.8,636.1h0M185.9,621.8h0M187.4,640.0h0M196.5,645.0h0M184.1,666.9h0M192.6,650.8h0M193.3,616.4h0M187.8,636.0h0M191.9,649.1h0M193.4,658.5h0M195.4,631.1h0M187.0,618.5h0M192.6,616.0h0M186.4,622.7h0M193.5,651.2h0M190.3,651.0h0M185.1,624.9h0M191.0,651.8h0M189.6,634.9h0M189.2,664.8h0M192.9,652.6h0M185.8,640.3h0M191.6,645.0h0M188.5,629.7h0M184.4,659.8h0M195.3,648.2h0M193.6,663.9h0"/>
<path d="M185.2,712.7h0M192.4,628.9h0M189.3,626.5h0M189.1,633.5h0M187.0,660.2h0M191.0,667.7h0M194.7,645.6h0M195.0,616.4h0M184.1,651.1h0M192.9,649.3h0M192.4,632.2h0M196.3,662.0h0M190.9,633.7h0M191.5,680.1h0M189.5,627.1h0M193.7,625.8h0M186.0,643.9h0M191.4,649.7h0M186.1,666.6h0M195.9,675.1h0M189.5,635.5h0M194.1,666.7h0M192.4,634.7h0M186.0,648.2h0M196.2,635.1h0M186.0,630.4h0M193.8,643.8h0M193.1,661.6h0M190.0,636.2h0M192.5,655.7h0M187.6,669.3h0M192.9,663.2h0M196.3,628.7h0M186.9,626.4h0M189.0,646.2h0M188.1,632.8h0M187.9,621.7h0M193.2,635.9h0M190.9,659.1h0M193.4,644.6h0M188.6,627.3h0M184.6,623.3h0M191.7,617.8h0M190.6,651.8h0M195.1,652.5h0M196.7,646.4h0M191.0,632.8h0M185.5,641.0h0M196.5,635.5h0M196.2,657.5h0M184.1,675.7h0M184.6,683.4h0M195.2,656.8h0M196.1,669.8h0M196.0,640.2h0M195.4,683.3h0M192.7,649.3h0M196.2,691.2h0M193.0,666.0h0M193.0,656.3h0M193.7,634.8h0M185.4,653.5h0M191.9,607.1h0M184.6,633.2h0M192.4,641.6h0M185.1,621.1h0M187.2,632.6h0M185.8,609.0h0M196.1,633.1h0M188.1,695.9h0M196.2,670.8h0M195.9,642.6h0M187.9,629.8h0M186.8,623.6h0M184.5,693.2h0M185.0,639.8h0M194.3,655.5h0M196.2,626.6h0M188.2,654.1h0M187.9,615.6h0M186.8,638.0h0M188.6,633.9h0M195.0,632.9h0M192.1,637.0h0M185.8,669.9h0M184.3,618.3h0M191.2,639.2h0M192.6,672.9h0M193.4,657.3h0M191.4,631.9h0M193.4,623.2h0M195.4,626.8h0M189.7,639.2h0"/>
<path d="M191.3,609.5h0M186.3,629.9h0M195.8,659.9h0M193.8,664.8h0M188.8,650.9h0M195.2,620.7h0M188.2,654.6h0M192.2,636.9h0M193.2,623.0h0M187.6,692.8h0M191.0,644.6h0M194.7,626.6h0M192.2,636.3h0M187.4,669.0h0M194.9,658.7h0M184.5,644.0h0M190.7,621.6h0M190.1,650.8h0M193.9,645.9h0M195.4,623.8h0M196.7,627.6h0M192.2,640.9h0M193.1,643.6h0M185.8,639.1h0M189.6,654.8h0M187.7,616.9h0M188.3,670.6h0M194.8,680.3h0M187.2,619.1h0M184.9,673.0h0M189.8,639.4h0M196.3,654.2h0M185.3,633.2h0M188.3,623.9h0M185.9,659.7h0M192.6,658.3h0M193.1,627.5h0M196.8,653.1h0M194.4,675.5h0M193.4,635.9h0M196.0,632.0h0M185.8,680.1h0M196.8,638.9h0M196.4,703.3h0M194.7,628.6h0M196.7,607.6h0M196.4,630.6h0M185.3,623.9h0M196.2,660.1h0M185.2,625.4h0M187.1,638.0h0M192.6,624.4h0M189.6,625.7h0M195.2,703.5h0M195.5,655.7h0M184.5,632.2h0M188.1,651.8h0M193.9,694.4h0M190.8,619.9h0M196.7,669.0h0M195.2,626.8h0M190.9,657.6h0M191.7,635.4h0M189.4,663.0h0M193.0,654.7h0M195.7,667.4h0M195.2,617.7h0M192.8,664.0h0M186.5,632.4h0M189.5,642.3h0M187.9,702.8h0M187.1,635.2h0M187.2,616.5h0M195.4,681.4h0M191.4,617.6h0M183.7,631.3h0M190.3,614.6h0M192.1,622.4h0M196.7,630.2h0M191.5,656.1h0M191.0,679.3h0M194.0,673.8h0M185.2,637.1h0M185.7,617.4h0M190.6,646.5h0M190.2,627.6h0M193.4,630.4h0M187.8,654.9h0M187.7,667.8h0M188.9,642.1h0M187.3,638.3h0M191.9,668.3h0M193.1,616.7h0"/>
<path d="M252.2,635.6h0M259.5,609.0h0M260.8,623.5h0M258.2,628.6h0M258.1,631.2h0M255.1,616.7h0M254.4,619.4h0M260.2,629.1h0M253.7,638.4h0M257.8,607.7h0M261.0,619.5h0M259.6,643.5h0M255.4,634.3h0M248.8,617.9h0M259.3,620.4h0M252.1,607.5h0M257.2,612.6h0M257.6,615.2h0M258.5,626.7h0M257.2,647.6h0M252.1,644.4h0M261.6,613.1h0M248.8,650.6h0M257.5,622.1h0M252.5,612.1h0M253.0,640.7h0M250.0,639.7h0M249.5,626.4h0M249.1,633.5h0M256.6,610.3h0M249.5,616.8h0M259.6,618.5h0M259.5,623.1h0M251.6,618.0h0M253.8,610.1h0M249.6,625.5h0M252.7,617.1h0M258.3,623.3h0M257.4,623.7h0M260.9,628.0h0M248.9,611.8h0M251.8,622.9h0M258.4,636.3h0M256.3,608.5h0M260.3,611.5h0M251.7,607.7h0M249.4,630.2h0M259.0,637.9h0M261.6,630.7h0M252.8,629.0h0M251.2,617.2h0M253.3,657.7h0M259.3,642.3h0M254.9,611.5h0M260.5,623.4h0M255.6,607.4h0M261.2,630.8h0M249.6,636.6h0M253.1,615.2h0M252.3,609.6h0M256.8,629.8h0M249.9,630.3h0M257.3,611.7h0M260.5,645.3h0M255.4,631.4h0M252.8,614.3h0M253.2,612.2h0M259.2,636.5h0M259.3,613.4h0M256.3,626.9h0M260.1,619.4h0M255.9,619.7h0M259.6,609.1h0M261.0,620.8h0M253.3,636.6h0M255.7,613.0h0M258.0,611.2h0M255.3,607.1h0M251.8,640.0h0M249.4,617.6h0M259.5,623.9h0M258.5,610.4h0M261.6,610.6h0M248.6,637.9h0M252.6,616.5h0M261.2,613.1h0M249.1,608.8h0M253.6,616.7h0M248.7,635.8h0M253.8,617.2h0M255.2,637.0h0M255.1,633.4h0M252.3,631.4h0M259.4,609.7h0M248.7,607.3h0M249.7,629.7h0M251.4,624.1h0M254.2,611.2h0M259.0,641.3h0M261.1,621.3h0M252.0,611.8h0M254.4,610.7h0M259.1,618.7h0M257.1,634.9h0M256.9,618.8h0M260.6,621.5h0M260.9,625.9h0M251.9,638.7h0M261.6,633.9h0M252.5,609.3h0M256.6,640.4h0M249.9,638.6h0M258.5,631.7h0M260.4,610.3h0M250.9,641.0h0M256.8,635.7h0M251.6,647.5h0M259.1,632.4h0M251.2,609.9h0M249.4,629.6h0M252.3,629.1h0M248.8,622.7h0M254.0,633.7h0M256.1,611.4h0M254.0,623.0h0M259.8,656.8h0M256.3,618.1h0M251.6,626.5h0M260.8,647.2h0M259.7,629.1h0M256.1,608.5h0M253.7,619.6h0M260.1,611.3h0M255.4,624.0h0M256.3,608.4h0M251.0,610.9h0M257.9,612.5h0M250.2,622.7h0M254.3,625.1h0M258.8,631.5h0M258.7,623.4h0M255.3,634.0h0M252.0,620.5h0M256.1,618.3h0M255.1,613.0h0M256.1,646.2h0M255.1,618.2h0M251.0,632.8h0"/>
<path d="M261.5,632.8h0M258.7,629.1h0M249.9,636.8h0M250.1,647.8h0M259.0,679.7h0M251.5,620.7h0M259.2,615.5h0M260.5,669.1h0M258.7,614.7h0M260.9,611.7h0M256.3,646.6h0M249.1,624.4h0M252.2,645.4h0M251.0,611.1h0M257.7,627.9h0M256.5,639.4h0M261.6,623.3h0M254.9,638.5h0M260.5,627.7h0M250.1,672.3h0M255.9,630.9h0M258.4,627.0h0M250.1,614.4h0M250.7,627.8h0M261.7,614.9h0M251.0,636.8h0M252.0,610.5h0M260.5,618.8h0M253.6,636.3h0M250.0,615.1h0M250.2,642.6h0M254.4,607.8h0M256.5,635.2h0M249.7,613.3h0M256.8,624.9h0M249.7,651.7h0M250.0,638.2h0M261.5,695.1h0M261.1,619.2h0M261.1,619.5h0M261.4,627.4h0M251.4,616.9h0M252.3,638.3h0M257.3,666.0h0M253.1,615.9h0M257.2,611.6h0M257.4,628.8h0M260.3,632.3h0M248.7,611.1h0M253.2,632.4h0M255.3,626.1h0M259.3,631.0h0M257.2,615.1h0M253.6,622.8h0M259.1,638.7h0M255.8,616.4h0M256.8,626.6h0M251.9,610.7h0M252.5,666.8h0M254.3,616.1h0M255.0,618.5h0M251.3,622.3h0M261.2,615.6h0M260.5,643.8h0M252.2,618.7h0M260.6,637.9h0M259.1,610.5h0M259.4,638.3h0M254.6,621.9h0M252.0,619.6h0M256.2,645.8h0M259.9,613.9h0M248.6,626.2h0M259.4,638.5h0M255.5,608.3h0M250.5,629.7h0M248.7,630.4h0M251.4,629.3h0M254.8,636.1h0M254.6,608.3h0M250.9,627.1h0M258.3,631.8h0M257.3,613.0h0M260.8,636.7h0M248.6,620.8h0M251.7,632.9h0M258.0,609.7h0M261.5,620.1h0M255.3,631.1h0M254.8,611.7h0M255.0,640.8h0M254.5,608.7h0M260.6,614.5h0M255.1,634.8h0M260.9,628.9h0M259.9,646.4h0M259.0,620.8h0M260.0,611.5h0M259.5,619.4h0M259.8,618.6h0M248.9,614.6h0M253.7,609.8h0M257.7,636.1h0M258.6,676.0h0M259.4,616.5h0M255.1,627.4h0M250.1,620.6h0M259.5,638.8h0M261.7,625.7h0M255.4,617.0h0M254.7,613.8h0M250.7,618.6h0M248.9,643.0h0M254.8,614.0h0M248.7,614.8h0M253.8,634.4h0M261.6,610.6h0M248.9,614.8h0M251.9,640.1h0M249.4,610.8h0M252.6,646.2h0M256.7,628.4h0M255.3,620.3h0M248.9,610.6h0M256.1,617.0h0M260.5,639.0h0M257.9,621.8h0M252.0,619.0h0M256.3,624.7h0M249.8,608.5h0M249.7,620.3h0M248.8,640.0h0M258.2,618.5h0M251.9,625.6h0M256.0,643.8h0M250.1,609.7h0M260.7,609.4h0M257.4,631.0h0M258.6,626.2h0M261.6,609.7h0M260.8,615.6h0M255.6,673.8h0M259.9,625.2h0M252.0,670.6h0M255.4,612.3h0M258.2,636.7h0M260.2,637.3h0M258.7,609.5h0M252.3,616.3h0M261.4,620.8h0M250.3,674.1h0M249.7,623.7h0"/>
<path d="M260.6,649.8h0M257.3,648.8h0M261.5,615.4h0M252.5,634.1h0M253.8,622.9h0M249.1,664.4h0M250.0,620.7h0M259.7,623.8h0M260.6,638.9h0M256.5,613.3h0M255.1,655.4h0M258.4,612.4h0M251.1,618.8h0M253.3,636.0h0M260.6,627.1h0M258.3,609.2h0M258.0,617.5h0M250.3,631.0h0M255.4,631.1h0M255.8,644.6h0M259.9,648.8h0M261.0,610.5h0M254.8,625.7h0M257.2,636.3h0M258.7,638.8h0M253.9,609.5h0M255.7,621.8h0M257.4,649.3h0M256.6,609.1h0M259.7,668.6h0M249.8,612.7h0M254.3,624.8h0M255.8,609.7h0M257.6,630.9h0M252.5,610.5h0M260.2,616.7h0M258.1,629.3h0M253.7,617.3h0M260.8,612.6h0M252.8,615.5h0M250.6,639.5h0M254.8,616.7h0M249.4,649.9h0M261.0,620.7h0M252.3,620.2h0M254.4,623.1h0M258.2,613.2h0M253.9,616.3h0M257.5,610.0h0M261.7,612.3h0M251.2,621.4h0M253.8,626.3h0M260.6,630.6h0M259.2,652.7h0M251.3,615.2h0M254.1,647.4h0M256.8,610.9h0M259.1,612.4h0M252.4,648.2h0M252.3,607.5h0M252.7,636.6h0M253.9,659.9h0M260.2,621.8h0M258.4,608.3h0M256.3,614.6h0M256.1,651.1h0M256.0,637.7h0M257.7,653.1h0M252.9,608.8h0M255.6,630.8h0M261.1,609.4h0M259.9,614.2h0M252.3,627.8h0M252.3,612.8h0M257.9,633.0h0M251.5,621.8h0M259.4,616.1h0M248.8,629.6h0M256.2,616.8h0M260.0,631.2h0M257.0,655.8h0M259.3,610.0h0M254.6,621.7h0M261.0,614.7h0M259.6,624.0h0M258.0,636.3h0M250.1,614.3h0M259.7,654.4h0M251.7,608.6h0M261.2,610.7h0M254.1,618.1h0M253.0,607.6h0M259.7,617.4h0M261.2,618.6h0M258.2,631.1h0M258.9,638.9h0M257.3,638.6h0M260.8,622.6h0M256.0,623.0h0M253.9,633.3h0M256.1,649.3h0M260.5,607.5h0M253.6,643.4h0M253.9,655.6h0M252.3,615.1h0M250.8,642.8h0M258.0,617.1h0M257.0,621.2h0M258.5,612.6h0M250.5,609.9h0M261.2,625.2h0M256.9,610.0h0M254.0,637.4h0M258.0,635.3h0M249.5,622.7h0M251.2,663.5h0M261.4,625.1h0M251.6,634.7h0M252.0,616.3h0M248.6,609.8h0M255.1,614.2h0M257.2,612.7h0M261.4,621.6h0M260.3,614.0h0M258.5,624.6h0M260.5,607.9h0M258.8,630.5h0M261.3,616.7h0M251.5,607.3h0M250.9,620.2h0M248.7,613.0h0M254.9,626.1h0M257.8,634.9h0M249.8,632.7h0M261.6,611.7h0M251.9,617.3h0M259.9,623.1h0M256.0,624.0h0M259.4,610.2h0M251.5,643.1h0M248.6,639.4h0M251.6,616.4h0M249.0,619.5h0M257.9,630.2h0M256.9,629.7h0M252.3,635.6h0M252.4,621.4h0M250.6,611.5h0M257.1,609.1h0M259.0,609.4h0"/>
<path d="M261.8,615.8h0M255.9,612.9h0M255.1,610.6h0M252.6,609.5h0M257.4,620.1h0M253.8,619.8h0M260.4,621.2h0M258.3,618.5h0M248.9,625.9h0M257.9,645.4h0M249.1,618.7h0M249.5,608.1h0M254.2,626.9h0M252.4,621.7h0M248.9,614.5h0M255.0,610.2h0M256.4,635.6h0M250.2,630.2h0M258.1,637.9h0M260.3,622.6h0M255.1,611.6h0M259.2,619.5h0M255.5,638.8h0M257.8,633.9h0M260.6,634.3h0M255.3,613.4h0M257.8,649.5h0M250.1,608.5h0M250.0,617.8h0M251.9,616.7h0M258.9,633.4h0M250.8,617.0h0M252.0,651.6h0M251.0,607.7h0M258.3,608.8h0M261.5,615.3h0M255.4,622.4h0M252.2,624.5h0M257.2,607.5h0M253.0,609.1h0M257.3,628.0h0M252.7,612.1h0M250.5,619.6h0M252.0,614.0h0M255.2,623.8h0M258.5,614.4h0M252.2,612.4h0M258.1,640.9h0M258.9,627.8h0M256.8,616.8h0M250.7,616.4h0M252.7,634.4h0M258.8,624.7h0M252.5,631.9h0M254.6,614.6h0M254.5,632.3h0M259.3,628.1h0M254.4,629.6h0M260.9,628.0h0M256.0,612.0h0M259.7,614.4h0M255.5,615.4h0M249.6,625.3h0M251.1,650.3h0M255.3,623.0h0M258.5,652.4h0M261.3,653.9h0M249.7,612.8h0M255.6,617.0h0M250.1,633.4h0M261.7,625.4h0M251.1,638.7h0M254.2,625.8h0M260.4,618.8h0M255.8,625.1h0M248.6,621.4h0M254.1,620.1h0M261.8,655.4h0M254.0,696.2h0M254.3,632.1h0M253.9,634.5h0M251.8,611.5h0M255.0,607.9h0M253.7,622.6h0M257.4,615.9h0M254.0,613.6h0M260.6,607.3h0M254.8,621.2h0M251.7,608.0h0M255.5,638.9h0M250.0,653.1h0M252.6,615.1h0M249.8,612.4h0M253.7,633.9h0M256.3,623.5h0M251.1,676.3h0M250.0,616.9h0M253.7,619.9h0M251.7,636.8h0M255.9,615.1h0M261.2,628.6h0M261.5,628.9h0M256.3,624.5h0M250.1,607.3h0M254.7,643.4h0M251.1,623.0h0M257.2,612.2h0M249.0,623.2h0M251.4,608.1h0M249.6,650.0h0M259.0,608.7h0M253.3,608.6h0M261.4,670.0h0M255.6,646.0h0M253.7,649.9h0M253.7,611.2h0M254.3,633.0h0M260.8,623.7h0M260.4,644.7h0M260.7,613.3h0M254.9,633.3h0M257.2,616.6h0M253.9,648.6h0M259.6,607.5h0M251.3,633.3h0M255.1,619.2h0M258.8,633.1h0M250.3,625.8h0M260.9,619.2h0M252.8,615.5h0M254.2,653.0h0M254.1,635.1h0M254.8,622.9h0M249.3,627.7h0M254.9,619.7h0M254.7,625.3h0M251.2,625.0h0M250.7,620.8h0M252.7,656.3h0M259.5,621.3h0M250.8,634.5h0M250.0,631.9h0M259.7,615.5h0M249.4,611.9h0M257.8,645.6h0M250.1,621.6h0M253.9,607.4h0M249.3,615.3h0M251.0,618.4h0M256.8,622.1h0M252.2,639.5h0"/>
<path d="M258.3,625.8h0M250.5,654.2h0M256.3,619.2h0M253.7,625.8h0M248.8,638.7h0M260.5,615.5h0M260.5,639.1h0M257.8,608.4h0M261.1,611.6h0M259.7,630.4h0M258.8,617.9h0M257.0,654.1h0M261.0,609.8h0M254.1,618.7h0M255.5,611.6h0M251.6,634.5h0M254.0,643.2h0M258.1,630.3h0M261.1,626.2h0M250.7,612.2h0M260.8,636.8h0M260.5,626.7h0M259.6,619.5h0M251.6,645.5h0M257.3,642.2h0M260.4,607.3h0M252.9,626.8h0M257.7,616.4h0M249.8,650.0h0M261.6,675.5h0M257.6,639.4h0M257.3,618.1h0M256.1,625.6h0M261.5,653.0h0M261.2,612.7h0M257.0,619.3h0M261.4,618.2h0M258.9,640.4h0M251.1,613.1h0M258.6,613.0h0M256.8,618.1h0M256.7,612.0h0M254.1,617.1h0M253.8,617.5h0M257.7,613.5h0M257.0,628.8h0M260.1,609.0h0M260.5,631.4h0M259.1,623.5h0M252.7,625.3h0M260.3,636.2h0M258.9,619.4h0M252.4,649.6h0M250.0,618.0h0M261.3,639.9h0M251.9,607.4h0M248.8,620.6h0M257.1,615.7h0M260.4,627.7h0M260.8,636.3h0M259.1,615.1h0M258.4,608.8h0M259.9,607.9h0M258.9,627.9h0M258.5,612.6h0M259.2,634.2h0M248.6,621.4h0M261.0,614.1h0M255.0,609.7h0M257.2,611.1h0M261.1,637.4h0M260.1,614.9h0M249.1,608.4h0M254.6,608.4h0M259.9,620.4h0M251.9,611.0h0M256.8,629.6h0M261.5,624.4h0M249.8,608.1h0M252.9,612.7h0M252.0,662.2h0M254.2,621.9h0M260.6,618.4h0M252.7,666.4h0M259.4,624.2h0M253.1,621.7h0M252.6,656.2h0M257.4,639.5h0M251.5,649.6h0M260.9,611.3h0M258.8,623.6h0M259.4,629.0h0M257.9,629.7h0M259.3,624.4h0M249.3,619.1h0M259.6,610.4h0M257.5,613.1h0M252.8,617.7h0M257.7,621.5h0M258.7,611.9h0M255.7,637.2h0M259.8,610.7h0M257.3,620.1h0M254.2,614.0h0M254.3,616.6h0M252.8,616.2h0M248.8,628.9h0M251.0,628.3h0M249.6,650.3h0M252.6,632.8h0M261.4,633.0h0M255.0,620.7h0M252.7,627.8h0M254.8,612.5h0M250.1,638.6h0M252.9,607.5h0M251.9,616.4h0M253.6,621.0h0M254.5,607.4h0M255.3,623.3h0M251.9,639.5h0M253.1,616.5h0M250.9,610.0h0M255.3,612.3h0M256.8,625.5h0M254.1,639.3h0M255.8,631.3h0M253.7,633.3h0M254.2,608.1h0M252.9,633.7h0M253.5,617.0h0M256.6,654.4h0M255.3,627.1h0M256.2,611.4h0M259.9,622.8h0M249.9,621.0h0M254.4,609.4h0M258.0,651.4h0M250.5,648.5h0M254.0,613.1h0M253.5,618.3h0M255.9,624.1h0M258.4,626.5h0M256.0,617.3h0M260.7,620.7h0M254.9,629.5h0M255.6,612.0h0M249.4,629.3h0M259.3,619.4h0M252.7,612.4h0M253.0,610.7h0M255.3,657.8h0M256.3,622.1h0M260.7,617.9h0M253.7,608.4h0M259.1,617.2h0M249.7,613.0h0"/>
<path d="M256.2,646.0h0M254.4,618.9h0M259.8,649.2h0M251.4,623.2h0M256.1,613.2h0M249.4,638.0h0M253.3,614.6h0M252.2,610.2h0M260.9,610.5h0M250.3,623.2h0M251.4,640.1h0M252.6,620.3h0M254.2,615.0h0M255.9,614.5h0M249.0,647.7h0M256.9,621.5h0M253.4,620.2h0M251.3,637.2h0M253.0,637.2h0M256.1,611.6h0M253.9,635.3h0M253.5,634.7h0M250.8,628.4h0M258.7,701.5h0M250.2,610.6h0M255.2,614.3h0M253.3,616.9h0M259.3,637.8h0M258.0,611.2h0M251.4,623.1h0M255.1,670.6h0M254.3,653.2h0M258.9,612.3h0M260.3,630.9h0M252.0,620.0h0M258.3,612.7h0M252.8,619.0h0M254.5,650.2h0M248.6,621.2h0M252.9,635.1h0M256.1,614.3h0M258.9,625.5h0M249.6,632.8h0M252.5,615.0h0M253.5,618.8h0M258.8,611.8h0M258.4,639.7h0M253.4,607.2h0M261.7,631.1h0M253.5,618.6h0M252.1,663.2h0M251.3,615.6h0M255.7,613.4h0M261.3,613.2h0M261.5,613.4h0M256.7,623.2h0M259.5,638.6h0M251.5,627.8h0M259.8,664.3h0M256.9,607.1h0M257.1,637.9h0M255.4,623.4h0M250.1,607.2h0M259.4,617.6h0M251.6,633.0h0M260.1,614.8h0M254.5,623.0h0M250.3,626.3h0M255.4,610.9h0M248.7,612.8h0M252.5,620.5h0M259.9,607.6h0M257.4,631.9h0M260.4,619.6h0M249.5,647.4h0M259.0,640.1h0M254.6,612.0h0M252.6,629.7h0M259.4,673.0h0M254.0,624.1h0M259.0,610.7h0M256.0,636.4h0M261.5,608.5h0M261.2,608.9h0M250.7,615.8h0M255.8,643.5h0M255.6,609.2h0M252.9,647.6h0M250.0,609.8h0M253.9,633.5h0M260.4,684.3h0M250.2,625.3h0M256.1,610.4h0M260.2,635.9h0M254.8,642.5h0M256.1,617.0h0M260.8,615.8h0M261.4,641.9h0M254.9,611.1h0M249.8,634.3h0M258.0,615.7h0M252.2,622.7h0M260.8,631.9h0M249.0,641.4h0M250.7,611.7h0M251.5,610.2h0M250.3,640.8h0M258.8,609.9h0M252.1,653.4h0M257.9,626.2h0M254.9,620.6h0M257.5,617.5h0M255.1,609.4h0M260.5,607.4h0M261.3,634.5h0M251.6,649.3h0M261.2,614.1h0M257.4,669.3h0M257.1,613.0h0M257.8,632.7h0M258.3,649.9h0M251.1,670.0h0M250.0,630.0h0M259.1,622.0h0M253.4,615.2h0M256.1,624.7h0M253.9,647.5h0M255.0,648.8h0M257.0,642.9h0M251.3,611.6h0M255.5,612.2h0M259.2,613.4h0M250.6,623.1h0M252.6,613.1h0M254.0,615.4h0M249.1,612.5h0M251.1,634.5h0M252.3,657.9h0M258.6,632.5h0M257.2,672.4h0M249.9,626.1h0M260.3,621.1h0M250.3,635.6h0M256.5,654.2h0M257.7,625.3h0M252.2,630.4h0M251.3,627.0h0M250.0,652.0h0M255.9,628.9h0"/>
<path d="M258.1,620.7h0M250.0,626.9h0M255.6,634.4h0M254.9,614.5h0M255.4,635.4h0M258.6,643.9h0M260.9,651.7h0M259.1,639.5h0M258.3,609.2h0M252.8,608.3h0M256.2,618.3h0M248.7,616.2h0M261.4,623.6h0M256.6,640.1h0M257.3,689.0h0M261.1,635.9h0M260.5,608.5h0M259.1,620.5h0M249.7,629.7h0M259.0,639.1h0M254.4,631.4h0M254.6,638.8h0M250.6,640.3h0M249.4,621.5h0M260.0,636.4h0M256.5,607.4h0M258.6,639.7h0M250.0,611.7h0M249.4,627.8h0M260.7,611.0h0M260.9,629.5h0M260.7,636.4h0M259.3,631.3h0M249.9,608.1h0M259.4,644.1h0M249.9,634.2h0M256.8,623.3h0M253.3,609.3h0M251.9,610.4h0M257.5,630.3h0M259.0,634.4h0M249.2,628.8h0M258.3,640.7h0M250.0,619.2h0M258.5,666.2h0M253.4,618.0h0M250.0,639.6h0M249.9,617.5h0M260.7,615.8h0M255.2,622.4h0M261.1,619.6h0M256.6,635.1h0M252.1,607.1h0M254.3,629.4h0M251.3,645.1h0M259.2,623.3h0M261.6,607.1h0M257.3,646.3h0M250.4,622.6h0M258.0,623.0h0M253.6,622.5h0M248.8,634.3h0M248.8,627.1h0M255.0,627.1h0M256.1,617.9h0M259.7,628.6h0M256.3,624.1h0M253.4,637.3h0M249.5,630.0h0M257.6,611.6h0M261.3,664.7h0M254.4,615.6h0M257.6,608.9h0M255.4,629.7h0M251.1,611.2h0M258.5,630.8h0M254.8,619.0h0M250.6,617.4h0M260.3,624.8h0M249.5,614.1h0M254.8,625.7h0M248.6,630.6h0M260.4,619.3h0M254.8,622.3h0M250.7,644.9h0M253.2,613.3h0M260.9,683.6h0M252.0,625.0h0M255.2,639.8h0M258.1,630.8h0M260.1,611.4h0M253.3,620.0h0M251.7,629.9h0M250.1,623.1h0M254.5,647.5h0M250.6,612.1h0M249.1,611.5h0M253.4,609.6h0M258.2,649.1h0M255.5,610.5h0M248.7,617.7h0M256.5,626.3h0M256.6,629.7h0M257.3,628.7h0M257.5,620.2h0M256.1,610.2h0M259.8,613.1h0M251.6,616.8h0M252.1,620.3h0M259.5,623.2h0M254.3,611.7h0M259.9,627.8h0M253.3,619.9h0M255.6,629.0h0M254.7,622.0h0M253.4,669.6h0M259.3,624.0h0M250.2,611.8h0M250.7,622.9h0M251.1,623.4h0M251.3,616.2h0M261.4,623.9h0M258.1,625.8h0M253.1,627.9h0M252.7,639.8h0M251.1,630.8h0M251.8,612.1h0M256.8,634.6h0M261.4,652.0h0M255.8,607.3h0M261.6,656.2h0M252.8,610.5h0M261.1,618.5h0M250.6,615.1h0M253.5,632.2h0M260.4,642.0h0M260.3,617.1h0M253.3,628.3h0M252.7,643.2h0M259.4,634.0h0M252.1,616.1h0M253.8,640.2h0M250.2,615.0h0M258.3,636.7h0M253.2,618.1h0M255.3,636.5h0M255.2,620.7h0M249.4,616.2h0M248.7,620.6h0M255.5,675.7h0M248.6,628.2h0M258.7,642.8h0M250.1,630.7h0M259.1,639.2h0"/>
<path d="M258.6,615.1h0M254.0,610.6h0M255.9,612.2h0M259.8,620.0h0M260.0,621.7h0M257.1,637.6h0M251.5,658.2h0M254.2,619.8h0M261.8,609.9h0M254.8,624.7h0M257.2,612.2h0M253.3,615.1h0M252.8,611.8h0M252.1,633.1h0M259.8,621.4h0M250.3,616.3h0M257.6,638.7h0M259.2,617.8h0M259.7,630.2h0M261.4,619.3h0M257.6,610.5h0M261.0,628.0h0M250.4,632.8h0M251.2,622.6h0M254.9,638.8h0M259.7,625.8h0M250.2,612.0h0M250.2,646.1h0M249.8,629.1h0M261.0,612.2h0M261.2,612.5h0M252.0,634.3h0M256.8,624.3h0M261.0,628.1h0M249.9,663.4h0M252.5,621.5h0M259.0,620.6h0M251.6,627.4h0M253.2,651.1h0M260.9,621.6h0M257.8,614.0h0M251.1,607.7h0M255.8,612.6h0M254.0,628.7h0M256.7,622.0h0M249.4,629.1h0M252.0,612.7h0M261.2,610.0h0M259.7,610.4h0M250.5,627.8h0M255.1,645.2h0M258.2,683.4h0M252.4,615.4h0M250.2,632.8h0M255.2,631.2h0M251.0,646.3h0M259.7,639.4h0M249.6,610.2h0M254.8,616.5h0M252.5,608.7h0M257.8,681.0h0M253.6,612.4h0M254.0,621.7h0M249.5,623.3h0M249.8,629.0h0M256.6,611.6h0M260.9,621.0h0M248.9,620.4h0M254.7,633.5h0M255.4,611.3h0M260.9,613.2h0M253.7,613.1h0M258.2,614.9h0M250.1,607.4h0M261.8,629.6h0M261.7,636.0h0M253.5,639.2h0M254.7,627.3h0M256.3,608.4h0M252.3,638.5h0M258.7,635.5h0M252.8,608.1h0M249.8,644.7h0M259.4,621.8h0M253.1,619.5h0M259.1,635.2h0M249.8,624.2h0M257.1,624.6h0M253.7,634.6h0M254.9,619.9h0M256.9,638.8h0M251.6,626.2h0M261.7,608.0h0M250.1,633.4h0M257.8,610.0h0M256.7,622.8h0M250.4,614.7h0M250.9,632.6h0M252.0,624.8h0M254.0,631.3h0M250.2,632.1h0M260.5,639.2h0M252.0,623.5h0M257.3,635.3h0M261.8,615.2h0M251.3,626.8h0M260.3,628.6h0M260.1,618.3h0M256.0,644.3h0M258.9,623.7h0M254.4,608.9h0M260.9,633.9h0M258.5,631.8h0M254.7,610.5h0M259.9,625.9h0M251.4,609.9h0M256.7,660.6h0M257.6,609.5h0M249.1,632.7h0M259.9,616.9h0M254.8,638.2h0M250.1,615.7h0M255.0,654.4h0M250.6,618.2h0M252.6,617.4h0M260.6,627.4h0M258.3,631.1h0M254.2,614.3h0M251.4,619.8h0M259.0,617.7h0M250.6,634.7h0M249.6,627.6h0M249.2,650.5h0M251.9,630.7h0M257.1,616.7h0M248.9,644.5h0M253.2,608.3h0M260.5,641.2h0M258.8,630.2h0M257.8,626.8h0M252.2,620.8h0M249.4,629.0h0M251.9,628.1h0M252.8,619.7h0M252.9,625.2h0M256.8,613.1h0M260.5,633.4h0M259.8,616.5h0M261.1,645.6h0M256.4,634.0h0M255.5,623.5h0M256.9,632.2h0M254.1,624.0h0"/>
</g>
<g fill="#c4c4c4" fill-opacity="0.88" stroke="#8a8a8a" stroke-width="0.35" stroke-opacity="0.9">
<circle cx="92.7" cy="605.5" r="0.95"/><circle cx="95.1" cy="603.9" r="0.95"/><circle cx="99.2" cy="605.3" r="0.95"/><circle cx="98.1" cy="606.6" r="0.95"/><circle cx="100.1" cy="603.2" r="0.95"/><circle cx="92.3" cy="599.1" r="0.95"/><circle cx="100.1" cy="605.8" r="0.95"/><circle cx="97.5" cy="605.4" r="0.95"/><circle cx="100.1" cy="604.5" r="0.95"/><circle cx="91.9" cy="605.9" r="0.95"/><circle cx="96.1" cy="599.7" r="0.95"/><circle cx="91.2" cy="600.4" r="0.95"/><circle cx="98.1" cy="606.1" r="0.95"/><circle cx="91.7" cy="599.9" r="0.95"/><circle cx="101.8" cy="585.3" r="0.95"/><circle cx="101.4" cy="579.6" r="0.95"/><circle cx="95.8" cy="570.0" r="0.95"/><circle cx="98.9" cy="602.1" r="0.95"/><circle cx="89.7" cy="602.2" r="0.95"/><circle cx="98.6" cy="596.7" r="0.95"/><circle cx="94.2" cy="585.5" r="0.95"/><circle cx="91.1" cy="604.8" r="0.95"/><circle cx="95.3" cy="587.0" r="0.95"/><circle cx="98.6" cy="589.7" r="0.95"/><circle cx="100.3" cy="588.3" r="0.95"/><circle cx="95.7" cy="570.7" r="0.95"/><circle cx="156.8" cy="601.8" r="0.95"/><circle cx="160.7" cy="603.7" r="0.95"/><circle cx="161.9" cy="602.8" r="0.95"/><circle cx="159.4" cy="606.4" r="0.95"/><circle cx="160.8" cy="600.7" r="0.95"/><circle cx="166.0" cy="604.2" r="0.95"/><circle cx="159.8" cy="604.0" r="0.95"/><circle cx="164.3" cy="607.0" r="0.95"/><circle cx="155.3" cy="607.0" r="0.95"/><circle cx="160.0" cy="605.6" r="0.95"/><circle cx="155.7" cy="605.6" r="0.95"/><circle cx="164.3" cy="605.3" r="0.95"/><circle cx="160.0" cy="606.1" r="0.95"/><circle cx="162.3" cy="593.1" r="0.95"/><circle cx="162.2" cy="606.6" r="0.95"/><circle cx="160.0" cy="602.8" r="0.95"/><circle cx="154.4" cy="592.3" r="0.95"/><circle cx="153.5" cy="605.2" r="0.95"/><circle cx="157.6" cy="604.1" r="0.95"/><circle cx="166.1" cy="596.3" r="0.95"/><circle cx="157.3" cy="604.2" r="0.95"/><circle cx="158.8" cy="604.5" r="0.95"/><circle cx="226.8" cy="606.5" r="0.95"/><circle cx="223.2" cy="605.3" r="0.95"/><circle cx="220.5" cy="605.3" r="0.95"/><circle cx="225.8" cy="602.4" r="0.95"/><circle cx="220.7" cy="601.3" r="0.95"/><circle cx="220.2" cy="604.7" r="0.95"/><circle cx="231.2" cy="599.9" r="0.95"/><circle cx="221.0" cy="603.8" r="0.95"/><circle cx="218.7" cy="603.3" r="0.95"/><circle cx="224.3" cy="592.3" r="0.95"/><circle cx="228.0" cy="606.6" r="0.95"/><circle cx="223.1" cy="599.1" r="0.95"/><circle cx="227.7" cy="597.8" r="0.95"/><circle cx="221.8" cy="606.0" r="0.95"/><circle cx="226.5" cy="600.1" r="0.95"/><circle cx="226.8" cy="603.5" r="0.95"/><circle cx="229.4" cy="606.3" r="0.95"/><circle cx="226.4" cy="606.5" r="0.95"/><circle cx="222.7" cy="600.5" r="0.95"/><circle cx="231.0" cy="604.9" r="0.95"/><circle cx="219.4" cy="589.8" r="0.95"/><circle cx="221.9" cy="602.5" r="0.95"/><circle cx="225.8" cy="595.3" r="0.95"/><circle cx="230.2" cy="562.0" r="0.95"/><circle cx="223.2" cy="567.9" r="0.95"/><circle cx="223.0" cy="593.7" r="0.95"/><circle cx="220.8" cy="571.3" r="0.95"/><circle cx="229.0" cy="559.7" r="0.95"/><circle cx="224.2" cy="591.0" r="0.95"/><circle cx="219.5" cy="593.2" r="0.95"/><circle cx="230.2" cy="591.8" r="0.95"/><circle cx="221.5" cy="585.3" r="0.95"/><circle cx="229.8" cy="606.0" r="0.95"/><circle cx="225.1" cy="590.5" r="0.95"/><circle cx="220.5" cy="569.3" r="0.95"/><circle cx="229.3" cy="563.9" r="0.95"/><circle cx="227.6" cy="601.0" r="0.95"/><circle cx="226.6" cy="560.6" r="0.95"/><circle cx="228.0" cy="588.5" r="0.95"/><circle cx="221.3" cy="587.0" r="0.95"/><circle cx="223.9" cy="577.8" r="0.95"/><circle cx="221.0" cy="597.7" r="0.95"/><circle cx="228.4" cy="596.0" r="0.95"/><circle cx="219.2" cy="605.0" r="0.95"/><circle cx="219.4" cy="582.2" r="0.95"/><circle cx="229.7" cy="559.0" r="0.95"/><circle cx="223.6" cy="573.2" r="0.95"/><circle cx="226.2" cy="595.8" r="0.95"/><circle cx="219.7" cy="600.0" r="0.95"/><circle cx="227.0" cy="576.6" r="0.95"/><circle cx="225.2" cy="559.6" r="0.95"/><circle cx="219.6" cy="589.5" r="0.95"/><circle cx="228.8" cy="606.4" r="0.95"/><circle cx="221.7" cy="603.5" r="0.95"/><circle cx="227.1" cy="600.1" r="0.95"/><circle cx="228.0" cy="574.2" r="0.95"/><circle cx="225.3" cy="591.8" r="0.95"/><circle cx="229.3" cy="572.3" r="0.95"/><circle cx="226.4" cy="570.6" r="0.95"/><circle cx="231.5" cy="598.3" r="0.95"/><circle cx="220.2" cy="588.3" r="0.95"/><circle cx="228.6" cy="596.9" r="0.95"/><circle cx="218.4" cy="606.5" r="0.95"/><circle cx="287.5" cy="604.0" r="0.95"/><circle cx="289.9" cy="598.7" r="0.95"/><circle cx="291.7" cy="597.2" r="0.95"/><circle cx="287.5" cy="600.3" r="0.95"/><circle cx="286.1" cy="605.8" r="0.95"/><circle cx="284.6" cy="586.2" r="0.95"/><circle cx="296.2" cy="593.3" r="0.95"/><circle cx="294.8" cy="591.5" r="0.95"/><circle cx="290.2" cy="593.2" r="0.95"/><circle cx="284.0" cy="599.9" r="0.95"/><circle cx="294.9" cy="598.6" r="0.95"/><circle cx="292.9" cy="602.3" r="0.95"/><circle cx="283.6" cy="605.1" r="0.95"/><circle cx="291.6" cy="593.1" r="0.95"/><circle cx="287.7" cy="600.1" r="0.95"/><circle cx="288.2" cy="579.2" r="0.95"/><circle cx="294.1" cy="590.9" r="0.95"/><circle cx="284.8" cy="593.2" r="0.95"/><circle cx="288.4" cy="602.4" r="0.95"/><circle cx="290.2" cy="606.4" r="0.95"/><circle cx="295.4" cy="589.7" r="0.95"/><circle cx="284.3" cy="597.6" r="0.95"/><circle cx="291.4" cy="599.4" r="0.95"/><circle cx="287.3" cy="585.2" r="0.95"/><circle cx="291.7" cy="604.7" r="0.95"/><circle cx="283.8" cy="601.0" r="0.95"/><circle cx="294.6" cy="603.0" r="0.95"/><circle cx="284.6" cy="597.3" r="0.95"/><circle cx="286.0" cy="593.6" r="0.95"/><circle cx="284.9" cy="590.6" r="0.95"/><circle cx="292.7" cy="595.0" r="0.95"/><circle cx="289.4" cy="578.1" r="0.95"/><circle cx="284.3" cy="601.5" r="0.95"/><circle cx="284.6" cy="605.7" r="0.95"/><circle cx="285.3" cy="591.1" r="0.95"/><circle cx="291.9" cy="587.2" r="0.95"/><circle cx="293.1" cy="604.8" r="0.95"/><circle cx="295.8" cy="602.0" r="0.95"/><circle cx="288.8" cy="606.8" r="0.95"/><circle cx="293.7" cy="604.2" r="0.95"/><circle cx="295.3" cy="587.1" r="0.95"/><circle cx="289.6" cy="597.5" r="0.95"/><circle cx="290.8" cy="595.5" r="0.95"/><circle cx="284.0" cy="582.9" r="0.95"/><circle cx="286.9" cy="599.0" r="0.95"/><circle cx="290.3" cy="602.5" r="0.95"/><circle cx="284.5" cy="604.6" r="0.95"/><circle cx="289.3" cy="605.9" r="0.95"/><circle cx="292.0" cy="602.1" r="0.95"/><circle cx="287.3" cy="594.7" r="0.95"/><circle cx="285.0" cy="589.1" r="0.95"/><circle cx="292.3" cy="599.1" r="0.95"/><circle cx="294.4" cy="595.3" r="0.95"/><circle cx="295.0" cy="584.4" r="0.95"/><circle cx="285.0" cy="602.2" r="0.95"/><circle cx="286.9" cy="600.5" r="0.95"/><circle cx="289.5" cy="605.6" r="0.95"/><circle cx="284.9" cy="604.2" r="0.95"/><circle cx="289.8" cy="597.0" r="0.95"/><circle cx="284.7" cy="592.6" r="0.95"/><circle cx="296.0" cy="598.9" r="0.95"/><circle cx="294.2" cy="604.9" r="0.95"/><circle cx="291.2" cy="599.2" r="0.95"/><circle cx="287.6" cy="605.0" r="0.95"/><circle cx="289.6" cy="605.6" r="0.95"/><circle cx="286.6" cy="598.4" r="0.95"/><circle cx="287.4" cy="601.8" r="0.95"/><circle cx="283.9" cy="606.6" r="0.95"/><circle cx="289.9" cy="599.6" r="0.95"/><circle cx="292.0" cy="602.5" r="0.95"/><circle cx="289.8" cy="600.2" r="0.95"/><circle cx="284.5" cy="602.7" r="0.95"/><circle cx="286.4" cy="598.9" r="0.95"/><circle cx="288.7" cy="595.3" r="0.95"/><circle cx="285.8" cy="602.2" r="0.95"/><circle cx="288.3" cy="606.1" r="0.95"/><circle cx="283.8" cy="594.8" r="0.95"/><circle cx="290.2" cy="597.4" r="0.95"/><circle cx="287.2" cy="603.7" r="0.95"/><circle cx="294.6" cy="606.7" r="0.95"/><circle cx="285.7" cy="585.0" r="0.95"/><circle cx="285.3" cy="596.7" r="0.95"/><circle cx="292.3" cy="599.5" r="0.95"/><circle cx="285.9" cy="599.8" r="0.95"/><circle cx="290.0" cy="601.5" r="0.95"/><circle cx="292.1" cy="591.7" r="0.95"/><circle cx="296.3" cy="598.6" r="0.95"/><circle cx="288.5" cy="601.1" r="0.95"/><circle cx="289.8" cy="604.1" r="0.95"/><circle cx="283.7" cy="588.3" r="0.95"/><circle cx="291.4" cy="605.9" r="0.95"/><circle cx="296.5" cy="602.2" r="0.95"/><circle cx="285.7" cy="605.0" r="0.95"/><circle cx="283.4" cy="597.6" r="0.95"/><circle cx="289.0" cy="600.6" r="0.95"/><circle cx="285.5" cy="606.1" r="0.95"/><circle cx="287.9" cy="606.0" r="0.95"/><circle cx="295.3" cy="602.4" r="0.95"/><circle cx="288.6" cy="580.0" r="0.95"/><circle cx="286.1" cy="593.8" r="0.95"/><circle cx="286.3" cy="604.4" r="0.95"/><circle cx="293.6" cy="604.6" r="0.95"/><circle cx="290.2" cy="599.6" r="0.95"/><circle cx="287.9" cy="596.3" r="0.95"/><circle cx="286.0" cy="601.0" r="0.95"/><circle cx="288.6" cy="598.1" r="0.95"/><circle cx="287.0" cy="591.5" r="0.95"/><circle cx="289.6" cy="604.1" r="0.95"/><circle cx="288.4" cy="600.4" r="0.95"/><circle cx="285.5" cy="590.8" r="0.95"/><circle cx="283.9" cy="592.3" r="0.95"/><circle cx="295.9" cy="600.9" r="0.95"/><circle cx="292.1" cy="606.7" r="0.95"/><circle cx="295.2" cy="600.6" r="0.95"/><circle cx="287.0" cy="597.1" r="0.95"/><circle cx="293.5" cy="587.5" r="0.95"/><circle cx="292.2" cy="605.9" r="0.95"/><circle cx="285.7" cy="599.3" r="0.95"/><circle cx="292.7" cy="595.1" r="0.95"/><circle cx="294.8" cy="600.4" r="0.95"/><circle cx="288.2" cy="594.5" r="0.95"/><circle cx="290.5" cy="599.0" r="0.95"/><circle cx="287.8" cy="601.8" r="0.95"/><circle cx="286.8" cy="597.4" r="0.95"/><circle cx="287.9" cy="605.9" r="0.95"/><circle cx="295.2" cy="596.7" r="0.95"/><circle cx="292.6" cy="600.1" r="0.95"/><circle cx="288.1" cy="587.4" r="0.95"/><circle cx="286.9" cy="589.1" r="0.95"/><circle cx="294.8" cy="606.0" r="0.95"/><circle cx="289.1" cy="584.3" r="0.95"/><circle cx="293.1" cy="605.9" r="0.95"/><circle cx="287.1" cy="595.4" r="0.95"/><circle cx="284.3" cy="606.6" r="0.95"/><circle cx="285.2" cy="602.5" r="0.95"/><circle cx="294.7" cy="594.7" r="0.95"/><circle cx="296.0" cy="605.4" r="0.95"/><circle cx="290.1" cy="605.3" r="0.95"/><circle cx="293.5" cy="604.8" r="0.95"/><circle cx="295.8" cy="606.6" r="0.95"/><circle cx="287.8" cy="605.0" r="0.95"/><circle cx="294.9" cy="590.2" r="0.95"/><circle cx="295.7" cy="595.9" r="0.95"/><circle cx="286.4" cy="606.1" r="0.95"/><circle cx="289.8" cy="606.8" r="0.95"/><circle cx="285.2" cy="601.3" r="0.95"/><circle cx="284.0" cy="605.8" r="0.95"/><circle cx="293.6" cy="600.8" r="0.95"/><circle cx="296.6" cy="575.2" r="0.95"/><circle cx="291.0" cy="599.8" r="0.95"/><circle cx="284.1" cy="592.0" r="0.95"/><circle cx="291.2" cy="590.8" r="0.95"/><circle cx="288.9" cy="603.8" r="0.95"/><circle cx="294.6" cy="569.8" r="0.95"/><circle cx="295.0" cy="605.9" r="0.95"/><circle cx="289.7" cy="606.6" r="0.95"/><circle cx="286.3" cy="602.8" r="0.95"/><circle cx="289.4" cy="581.6" r="0.95"/><circle cx="284.3" cy="598.5" r="0.95"/><circle cx="295.3" cy="595.8" r="0.95"/><circle cx="288.3" cy="592.3" r="0.95"/><circle cx="293.5" cy="600.1" r="0.95"/><circle cx="291.5" cy="600.7" r="0.95"/><circle cx="289.9" cy="602.1" r="0.95"/><circle cx="294.4" cy="596.8" r="0.95"/><circle cx="283.8" cy="603.2" r="0.95"/><circle cx="295.0" cy="593.8" r="0.95"/><circle cx="296.5" cy="595.5" r="0.95"/><circle cx="286.6" cy="585.4" r="0.95"/><circle cx="286.8" cy="600.8" r="0.95"/><circle cx="293.1" cy="596.7" r="0.95"/><circle cx="283.5" cy="588.7" r="0.95"/><circle cx="293.6" cy="605.2" r="0.95"/><circle cx="285.0" cy="585.8" r="0.95"/><circle cx="288.4" cy="600.2" r="0.95"/><circle cx="296.1" cy="589.3" r="0.95"/><circle cx="286.0" cy="605.3" r="0.95"/><circle cx="286.5" cy="604.9" r="0.95"/><circle cx="291.6" cy="606.3" r="0.95"/><circle cx="287.2" cy="597.9" r="0.95"/><circle cx="295.4" cy="605.4" r="0.95"/><circle cx="296.1" cy="585.9" r="0.95"/><circle cx="291.9" cy="592.6" r="0.95"/><circle cx="289.8" cy="604.8" r="0.95"/><circle cx="284.4" cy="594.6" r="0.95"/><circle cx="286.2" cy="603.6" r="0.95"/><circle cx="288.4" cy="604.5" r="0.95"/><circle cx="288.6" cy="600.4" r="0.95"/><circle cx="295.7" cy="582.7" r="0.95"/><circle cx="284.3" cy="586.1" r="0.95"/><circle cx="290.9" cy="590.3" r="0.95"/><circle cx="295.0" cy="594.1" r="0.95"/><circle cx="291.2" cy="585.8" r="0.95"/><circle cx="290.5" cy="555.8" r="0.95"/><circle cx="285.9" cy="594.6" r="0.95"/><circle cx="287.3" cy="594.0" r="0.95"/><circle cx="284.8" cy="560.0" r="0.95"/><circle cx="286.5" cy="592.9" r="0.95"/><circle cx="296.3" cy="595.0" r="0.95"/><circle cx="291.3" cy="590.1" r="0.95"/><circle cx="290.0" cy="592.1" r="0.95"/><circle cx="293.2" cy="577.9" r="0.95"/><circle cx="285.9" cy="557.7" r="0.95"/><circle cx="284.4" cy="560.2" r="0.95"/><circle cx="287.7" cy="560.3" r="0.95"/><circle cx="291.5" cy="560.1" r="0.95"/><circle cx="286.6" cy="577.6" r="0.95"/><circle cx="289.9" cy="580.9" r="0.95"/><circle cx="290.8" cy="592.2" r="0.95"/><circle cx="294.4" cy="568.7" r="0.95"/><circle cx="294.4" cy="580.9" r="0.95"/><circle cx="291.7" cy="556.4" r="0.95"/><circle cx="288.8" cy="569.4" r="0.95"/><circle cx="290.4" cy="582.9" r="0.95"/><circle cx="290.8" cy="576.4" r="0.95"/><circle cx="288.1" cy="575.7" r="0.95"/><circle cx="293.3" cy="569.5" r="0.95"/><circle cx="287.6" cy="589.7" r="0.95"/><circle cx="287.0" cy="562.5" r="0.95"/><circle cx="295.2" cy="581.0" r="0.95"/><circle cx="289.2" cy="564.8" r="0.95"/><circle cx="292.3" cy="593.2" r="0.95"/><circle cx="293.9" cy="576.1" r="0.95"/><circle cx="287.2" cy="590.2" r="0.95"/><circle cx="290.9" cy="571.0" r="0.95"/><circle cx="290.4" cy="564.3" r="0.95"/><circle cx="283.4" cy="594.8" r="0.95"/><circle cx="285.0" cy="583.2" r="0.95"/>
</g>
<g fill="#7d7d7d" fill-opacity="0.88" stroke="#4a4a4a" stroke-width="0.35" stroke-opacity="0.9">
<circle cx="73.3" cy="603.4" r="0.95"/><circle cx="79.7" cy="598.5" r="0.95"/><circle cx="84.0" cy="606.5" r="0.95"/><circle cx="77.2" cy="593.0" r="0.95"/><circle cx="76.2" cy="599.5" r="0.95"/><circle cx="76.7" cy="599.0" r="0.95"/><circle cx="141.0" cy="605.9" r="0.95"/><circle cx="140.5" cy="606.8" r="0.95"/><circle cx="140.9" cy="606.8" r="0.95"/><circle cx="138.8" cy="602.3" r="0.95"/><circle cx="142.3" cy="606.6" r="0.95"/><circle cx="142.2" cy="605.0" r="0.95"/><circle cx="144.7" cy="595.5" r="0.95"/><circle cx="143.0" cy="584.4" r="0.95"/><circle cx="138.2" cy="583.8" r="0.95"/><circle cx="144.2" cy="606.8" r="0.95"/><circle cx="146.7" cy="591.0" r="0.95"/><circle cx="139.4" cy="606.9" r="0.95"/><circle cx="147.8" cy="599.6" r="0.95"/><circle cx="143.0" cy="594.9" r="0.95"/><circle cx="207.3" cy="599.3" r="0.95"/><circle cx="211.3" cy="600.0" r="0.95"/><circle cx="208.8" cy="597.3" r="0.95"/><circle cx="214.2" cy="601.0" r="0.95"/><circle cx="202.8" cy="599.3" r="0.95"/><circle cx="210.4" cy="595.1" r="0.95"/><circle cx="207.0" cy="606.7" r="0.95"/><circle cx="201.0" cy="606.8" r="0.95"/><circle cx="211.2" cy="601.7" r="0.95"/><circle cx="209.7" cy="606.5" r="0.95"/><circle cx="209.1" cy="594.9" r="0.95"/><circle cx="204.9" cy="605.3" r="0.95"/><circle cx="213.3" cy="601.5" r="0.95"/><circle cx="204.1" cy="604.3" r="0.95"/><circle cx="210.6" cy="601.5" r="0.95"/><circle cx="210.3" cy="586.2" r="0.95"/><circle cx="208.3" cy="590.0" r="0.95"/><circle cx="201.0" cy="604.2" r="0.95"/><circle cx="202.0" cy="578.0" r="0.95"/><circle cx="203.8" cy="603.9" r="0.95"/><circle cx="204.8" cy="602.2" r="0.95"/><circle cx="210.8" cy="605.8" r="0.95"/><circle cx="211.3" cy="603.8" r="0.95"/><circle cx="209.4" cy="569.2" r="0.95"/><circle cx="204.3" cy="567.3" r="0.95"/><circle cx="207.8" cy="604.1" r="0.95"/><circle cx="202.4" cy="594.9" r="0.95"/><circle cx="208.6" cy="576.6" r="0.95"/><circle cx="214.1" cy="572.0" r="0.95"/><circle cx="213.9" cy="596.3" r="0.95"/><circle cx="204.7" cy="586.8" r="0.95"/><circle cx="202.8" cy="568.9" r="0.95"/><circle cx="205.7" cy="584.0" r="0.95"/><circle cx="212.5" cy="559.1" r="0.95"/><circle cx="209.9" cy="563.9" r="0.95"/><circle cx="213.3" cy="562.8" r="0.95"/><circle cx="202.9" cy="562.2" r="0.95"/><circle cx="212.3" cy="598.2" r="0.95"/><circle cx="210.6" cy="567.3" r="0.95"/><circle cx="202.1" cy="601.9" r="0.95"/><circle cx="203.9" cy="605.9" r="0.95"/><circle cx="213.1" cy="565.0" r="0.95"/><circle cx="204.7" cy="574.9" r="0.95"/><circle cx="206.2" cy="592.4" r="0.95"/><circle cx="209.7" cy="601.3" r="0.95"/><circle cx="202.6" cy="559.6" r="0.95"/><circle cx="202.7" cy="586.4" r="0.95"/><circle cx="202.8" cy="595.2" r="0.95"/><circle cx="205.9" cy="567.3" r="0.95"/><circle cx="211.1" cy="575.4" r="0.95"/><circle cx="213.7" cy="604.8" r="0.95"/><circle cx="209.6" cy="580.3" r="0.95"/><circle cx="210.8" cy="592.8" r="0.95"/><circle cx="202.8" cy="566.0" r="0.95"/><circle cx="205.6" cy="597.8" r="0.95"/><circle cx="207.3" cy="566.2" r="0.95"/><circle cx="202.9" cy="577.9" r="0.95"/><circle cx="201.2" cy="591.6" r="0.95"/><circle cx="204.0" cy="601.1" r="0.95"/><circle cx="207.3" cy="569.5" r="0.95"/><circle cx="201.2" cy="604.6" r="0.95"/><circle cx="209.8" cy="606.0" r="0.95"/><circle cx="209.9" cy="560.9" r="0.95"/><circle cx="209.9" cy="606.1" r="0.95"/><circle cx="202.2" cy="592.4" r="0.95"/><circle cx="201.5" cy="568.0" r="0.95"/><circle cx="204.1" cy="603.4" r="0.95"/><circle cx="212.9" cy="568.6" r="0.95"/><circle cx="210.9" cy="576.1" r="0.95"/><circle cx="212.1" cy="563.7" r="0.95"/><circle cx="204.8" cy="598.0" r="0.95"/><circle cx="206.2" cy="601.1" r="0.95"/><circle cx="202.6" cy="602.0" r="0.95"/><circle cx="205.2" cy="595.5" r="0.95"/><circle cx="201.5" cy="559.4" r="0.95"/><circle cx="203.1" cy="605.7" r="0.95"/><circle cx="207.6" cy="560.5" r="0.95"/><circle cx="207.9" cy="599.8" r="0.95"/><circle cx="277.8" cy="589.3" r="0.95"/><circle cx="272.3" cy="606.9" r="0.95"/><circle cx="273.2" cy="582.5" r="0.95"/><circle cx="278.6" cy="598.2" r="0.95"/><circle cx="272.3" cy="589.8" r="0.95"/><circle cx="276.7" cy="603.6" r="0.95"/><circle cx="276.6" cy="594.3" r="0.95"/><circle cx="273.6" cy="603.7" r="0.95"/><circle cx="267.5" cy="591.9" r="0.95"/><circle cx="275.3" cy="605.1" r="0.95"/><circle cx="271.9" cy="597.2" r="0.95"/><circle cx="276.7" cy="605.9" r="0.95"/><circle cx="278.9" cy="598.4" r="0.95"/><circle cx="272.0" cy="602.7" r="0.95"/><circle cx="278.9" cy="604.1" r="0.95"/><circle cx="268.8" cy="570.2" r="0.95"/><circle cx="274.7" cy="603.1" r="0.95"/><circle cx="270.0" cy="599.6" r="0.95"/><circle cx="273.6" cy="590.4" r="0.95"/><circle cx="277.8" cy="606.3" r="0.95"/><circle cx="279.2" cy="596.0" r="0.95"/><circle cx="273.3" cy="600.6" r="0.95"/><circle cx="268.9" cy="605.3" r="0.95"/><circle cx="267.4" cy="598.6" r="0.95"/><circle cx="278.2" cy="602.5" r="0.95"/><circle cx="274.6" cy="602.9" r="0.95"/><circle cx="277.4" cy="601.5" r="0.95"/><circle cx="273.2" cy="603.2" r="0.95"/><circle cx="273.9" cy="600.4" r="0.95"/><circle cx="269.9" cy="600.3" r="0.95"/><circle cx="269.5" cy="591.0" r="0.95"/><circle cx="272.5" cy="593.9" r="0.95"/><circle cx="269.1" cy="602.2" r="0.95"/><circle cx="278.7" cy="604.2" r="0.95"/><circle cx="271.9" cy="588.6" r="0.95"/><circle cx="270.8" cy="601.6" r="0.95"/><circle cx="266.7" cy="603.8" r="0.95"/><circle cx="269.8" cy="597.5" r="0.95"/><circle cx="267.7" cy="604.0" r="0.95"/><circle cx="272.3" cy="595.1" r="0.95"/><circle cx="269.5" cy="606.1" r="0.95"/><circle cx="267.9" cy="593.9" r="0.95"/><circle cx="277.7" cy="592.1" r="0.95"/><circle cx="272.4" cy="604.8" r="0.95"/><circle cx="276.8" cy="604.5" r="0.95"/><circle cx="273.5" cy="585.0" r="0.95"/><circle cx="275.3" cy="596.0" r="0.95"/><circle cx="277.6" cy="603.9" r="0.95"/><circle cx="275.0" cy="597.8" r="0.95"/><circle cx="276.4" cy="590.7" r="0.95"/><circle cx="270.9" cy="606.0" r="0.95"/><circle cx="272.8" cy="602.2" r="0.95"/><circle cx="276.5" cy="606.9" r="0.95"/><circle cx="270.3" cy="603.0" r="0.95"/><circle cx="278.1" cy="590.8" r="0.95"/><circle cx="278.8" cy="606.7" r="0.95"/><circle cx="273.6" cy="597.3" r="0.95"/><circle cx="266.1" cy="598.0" r="0.95"/><circle cx="269.8" cy="585.9" r="0.95"/><circle cx="270.2" cy="595.7" r="0.95"/><circle cx="267.0" cy="606.3" r="0.95"/><circle cx="270.9" cy="604.0" r="0.95"/><circle cx="274.9" cy="601.3" r="0.95"/><circle cx="278.3" cy="605.0" r="0.95"/><circle cx="269.0" cy="600.9" r="0.95"/><circle cx="277.2" cy="604.1" r="0.95"/><circle cx="270.8" cy="601.1" r="0.95"/><circle cx="275.5" cy="601.4" r="0.95"/><circle cx="275.0" cy="593.6" r="0.95"/><circle cx="268.6" cy="602.8" r="0.95"/><circle cx="271.1" cy="602.1" r="0.95"/><circle cx="272.9" cy="599.5" r="0.95"/><circle cx="275.0" cy="604.9" r="0.95"/><circle cx="270.6" cy="593.1" r="0.95"/><circle cx="267.4" cy="596.9" r="0.95"/><circle cx="268.8" cy="605.2" r="0.95"/><circle cx="267.3" cy="595.3" r="0.95"/><circle cx="277.1" cy="596.6" r="0.95"/><circle cx="266.6" cy="604.5" r="0.95"/><circle cx="270.6" cy="591.8" r="0.95"/><circle cx="277.9" cy="605.8" r="0.95"/><circle cx="277.7" cy="602.0" r="0.95"/><circle cx="266.4" cy="596.6" r="0.95"/><circle cx="271.0" cy="596.5" r="0.95"/><circle cx="268.7" cy="605.9" r="0.95"/><circle cx="276.7" cy="589.5" r="0.95"/><circle cx="278.0" cy="596.2" r="0.95"/><circle cx="271.5" cy="606.3" r="0.95"/><circle cx="273.3" cy="584.9" r="0.95"/><circle cx="266.9" cy="604.5" r="0.95"/><circle cx="276.6" cy="593.4" r="0.95"/><circle cx="274.0" cy="595.2" r="0.95"/><circle cx="276.5" cy="605.9" r="0.95"/><circle cx="270.7" cy="598.8" r="0.95"/><circle cx="272.8" cy="605.8" r="0.95"/><circle cx="272.5" cy="594.8" r="0.95"/><circle cx="273.9" cy="606.0" r="0.95"/><circle cx="273.0" cy="594.9" r="0.95"/><circle cx="266.1" cy="580.1" r="0.95"/><circle cx="270.9" cy="596.4" r="0.95"/><circle cx="276.1" cy="606.9" r="0.95"/><circle cx="272.6" cy="592.4" r="0.95"/><circle cx="276.6" cy="598.6" r="0.95"/><circle cx="279.1" cy="594.2" r="0.95"/><circle cx="268.5" cy="605.9" r="0.95"/><circle cx="270.1" cy="598.1" r="0.95"/><circle cx="273.5" cy="598.6" r="0.95"/><circle cx="278.8" cy="595.5" r="0.95"/><circle cx="269.0" cy="605.6" r="0.95"/><circle cx="273.2" cy="600.7" r="0.95"/><circle cx="278.3" cy="593.6" r="0.95"/><circle cx="271.5" cy="600.8" r="0.95"/><circle cx="269.6" cy="585.6" r="0.95"/><circle cx="269.1" cy="601.0" r="0.95"/><circle cx="274.1" cy="602.0" r="0.95"/><circle cx="267.6" cy="593.6" r="0.95"/><circle cx="274.4" cy="602.2" r="0.95"/><circle cx="267.8" cy="595.8" r="0.95"/><circle cx="267.0" cy="599.1" r="0.95"/><circle cx="266.4" cy="606.8" r="0.95"/><circle cx="270.5" cy="595.6" r="0.95"/><circle cx="272.9" cy="605.1" r="0.95"/><circle cx="278.5" cy="604.9" r="0.95"/><circle cx="271.9" cy="604.3" r="0.95"/><circle cx="277.0" cy="606.0" r="0.95"/><circle cx="267.8" cy="599.0" r="0.95"/><circle cx="273.1" cy="598.6" r="0.95"/><circle cx="271.5" cy="605.2" r="0.95"/><circle cx="267.7" cy="606.0" r="0.95"/><circle cx="269.8" cy="595.9" r="0.95"/><circle cx="267.3" cy="581.3" r="0.95"/><circle cx="268.0" cy="605.1" r="0.95"/><circle cx="275.4" cy="594.7" r="0.95"/><circle cx="266.0" cy="604.2" r="0.95"/><circle cx="267.9" cy="598.2" r="0.95"/><circle cx="266.3" cy="601.7" r="0.95"/><circle cx="266.8" cy="606.0" r="0.95"/><circle cx="266.4" cy="604.5" r="0.95"/><circle cx="278.6" cy="597.3" r="0.95"/><circle cx="273.0" cy="605.5" r="0.95"/><circle cx="269.4" cy="604.1" r="0.95"/><circle cx="267.9" cy="602.8" r="0.95"/><circle cx="273.1" cy="604.5" r="0.95"/><circle cx="272.8" cy="595.5" r="0.95"/><circle cx="269.0" cy="601.8" r="0.95"/><circle cx="268.7" cy="587.5" r="0.95"/><circle cx="269.3" cy="604.7" r="0.95"/><circle cx="278.9" cy="588.9" r="0.95"/><circle cx="279.0" cy="604.3" r="0.95"/><circle cx="279.0" cy="594.9" r="0.95"/><circle cx="267.3" cy="594.4" r="0.95"/><circle cx="278.7" cy="606.0" r="0.95"/><circle cx="273.0" cy="606.5" r="0.95"/><circle cx="270.9" cy="600.8" r="0.95"/><circle cx="273.4" cy="601.3" r="0.95"/><circle cx="267.6" cy="606.8" r="0.95"/><circle cx="275.0" cy="605.8" r="0.95"/><circle cx="269.7" cy="606.1" r="0.95"/><circle cx="275.4" cy="606.8" r="0.95"/><circle cx="267.3" cy="596.1" r="0.95"/><circle cx="267.6" cy="603.2" r="0.95"/><circle cx="272.2" cy="599.7" r="0.95"/><circle cx="268.3" cy="599.6" r="0.95"/><circle cx="275.9" cy="601.4" r="0.95"/><circle cx="267.4" cy="593.9" r="0.95"/><circle cx="273.7" cy="581.0" r="0.95"/><circle cx="266.3" cy="601.8" r="0.95"/><circle cx="268.6" cy="599.8" r="0.95"/><circle cx="269.2" cy="597.7" r="0.95"/><circle cx="278.4" cy="603.4" r="0.95"/><circle cx="266.3" cy="595.8" r="0.95"/><circle cx="278.1" cy="596.8" r="0.95"/><circle cx="269.8" cy="599.3" r="0.95"/><circle cx="266.2" cy="589.4" r="0.95"/><circle cx="269.2" cy="605.8" r="0.95"/><circle cx="267.6" cy="604.0" r="0.95"/><circle cx="274.5" cy="604.7" r="0.95"/><circle cx="274.4" cy="589.7" r="0.95"/><circle cx="277.5" cy="604.7" r="0.95"/><circle cx="269.8" cy="597.5" r="0.95"/><circle cx="276.5" cy="602.4" r="0.95"/><circle cx="279.0" cy="587.8" r="0.95"/><circle cx="269.8" cy="603.0" r="0.95"/><circle cx="277.3" cy="605.6" r="0.95"/><circle cx="275.9" cy="604.7" r="0.95"/><circle cx="268.1" cy="601.9" r="0.95"/><circle cx="276.3" cy="606.0" r="0.95"/><circle cx="266.7" cy="605.5" r="0.95"/><circle cx="275.0" cy="604.3" r="0.95"/><circle cx="268.8" cy="603.7" r="0.95"/><circle cx="274.5" cy="594.1" r="0.95"/><circle cx="266.4" cy="602.9" r="0.95"/><circle cx="274.9" cy="602.1" r="0.95"/><circle cx="278.8" cy="606.7" r="0.95"/><circle cx="268.6" cy="604.9" r="0.95"/><circle cx="273.5" cy="602.8" r="0.95"/><circle cx="277.2" cy="591.9" r="0.95"/><circle cx="277.2" cy="598.3" r="0.95"/><circle cx="277.8" cy="600.7" r="0.95"/><circle cx="275.0" cy="598.2" r="0.95"/><circle cx="266.9" cy="606.7" r="0.95"/><circle cx="279.0" cy="605.1" r="0.95"/><circle cx="268.4" cy="605.3" r="0.95"/><circle cx="275.8" cy="599.7" r="0.95"/><circle cx="269.7" cy="594.4" r="0.95"/><circle cx="273.1" cy="605.2" r="0.95"/><circle cx="275.2" cy="606.2" r="0.95"/><circle cx="274.0" cy="597.8" r="0.95"/><circle cx="272.4" cy="594.6" r="0.95"/><circle cx="269.1" cy="606.4" r="0.95"/><circle cx="266.7" cy="603.0" r="0.95"/><circle cx="279.2" cy="593.9" r="0.95"/><circle cx="270.5" cy="602.9" r="0.95"/><circle cx="276.7" cy="603.8" r="0.95"/><circle cx="275.3" cy="601.0" r="0.95"/><circle cx="266.5" cy="589.6" r="0.95"/><circle cx="273.2" cy="603.2" r="0.95"/><circle cx="268.2" cy="606.1" r="0.95"/><circle cx="276.9" cy="567.6" r="0.95"/><circle cx="275.6" cy="586.9" r="0.95"/><circle cx="278.3" cy="574.0" r="0.95"/><circle cx="273.9" cy="574.3" r="0.95"/><circle cx="277.7" cy="592.7" r="0.95"/><circle cx="271.3" cy="591.0" r="0.95"/><circle cx="271.8" cy="589.7" r="0.95"/><circle cx="276.4" cy="594.4" r="0.95"/><circle cx="267.4" cy="595.1" r="0.95"/><circle cx="271.3" cy="573.2" r="0.95"/><circle cx="275.0" cy="566.5" r="0.95"/><circle cx="271.5" cy="560.6" r="0.95"/><circle cx="278.7" cy="586.9" r="0.95"/><circle cx="270.6" cy="590.8" r="0.95"/><circle cx="267.7" cy="573.5" r="0.95"/><circle cx="271.6" cy="585.9" r="0.95"/><circle cx="267.9" cy="561.0" r="0.95"/><circle cx="275.9" cy="594.7" r="0.95"/><circle cx="273.5" cy="565.2" r="0.95"/><circle cx="275.5" cy="592.7" r="0.95"/><circle cx="268.9" cy="589.4" r="0.95"/><circle cx="273.4" cy="565.6" r="0.95"/><circle cx="270.8" cy="587.9" r="0.95"/><circle cx="273.8" cy="573.3" r="0.95"/><circle cx="277.7" cy="594.2" r="0.95"/><circle cx="269.3" cy="587.4" r="0.95"/><circle cx="277.2" cy="589.6" r="0.95"/><circle cx="268.2" cy="592.5" r="0.95"/><circle cx="274.6" cy="581.8" r="0.95"/><circle cx="274.9" cy="578.0" r="0.95"/><circle cx="272.3" cy="585.7" r="0.95"/><circle cx="269.6" cy="569.5" r="0.95"/><circle cx="278.4" cy="568.2" r="0.95"/><circle cx="269.0" cy="560.5" r="0.95"/><circle cx="275.6" cy="590.5" r="0.95"/>
</g>
<g fill="#2b2b2b" fill-opacity="0.88" stroke="#111" stroke-width="0.35" stroke-opacity="0.9">
<circle cx="66.7" cy="605.5" r="0.95"/><circle cx="54.1" cy="596.0" r="0.95"/><circle cx="62.1" cy="602.8" r="0.95"/><circle cx="64.0" cy="599.0" r="0.95"/><circle cx="56.1" cy="598.4" r="0.95"/><circle cx="61.1" cy="593.6" r="0.95"/><circle cx="56.7" cy="594.5" r="0.95"/><circle cx="61.3" cy="592.5" r="0.95"/><circle cx="63.8" cy="596.3" r="0.95"/><circle cx="58.8" cy="594.5" r="0.95"/><circle cx="119.5" cy="605.1" r="0.95"/><circle cx="122.4" cy="593.5" r="0.95"/><circle cx="119.3" cy="599.5" r="0.95"/><circle cx="119.1" cy="606.8" r="0.95"/><circle cx="121.0" cy="603.8" r="0.95"/><circle cx="123.7" cy="604.4" r="0.95"/><circle cx="122.4" cy="603.6" r="0.95"/><circle cx="119.8" cy="598.0" r="0.95"/><circle cx="122.1" cy="606.2" r="0.95"/><circle cx="121.8" cy="605.8" r="0.95"/><circle cx="126.9" cy="595.7" r="0.95"/><circle cx="131.2" cy="606.8" r="0.95"/><circle cx="124.2" cy="603.3" r="0.95"/><circle cx="130.7" cy="605.6" r="0.95"/><circle cx="131.0" cy="598.2" r="0.95"/><circle cx="127.7" cy="605.8" r="0.95"/><circle cx="122.2" cy="600.8" r="0.95"/><circle cx="123.8" cy="605.8" r="0.95"/><circle cx="128.0" cy="604.0" r="0.95"/><circle cx="121.7" cy="599.9" r="0.95"/><circle cx="130.3" cy="600.0" r="0.95"/><circle cx="119.7" cy="606.9" r="0.95"/><circle cx="123.9" cy="602.0" r="0.95"/><circle cx="130.7" cy="589.3" r="0.95"/><circle cx="119.8" cy="594.0" r="0.95"/><circle cx="125.4" cy="601.5" r="0.95"/><circle cx="124.4" cy="602.3" r="0.95"/><circle cx="119.2" cy="602.1" r="0.95"/><circle cx="130.6" cy="601.9" r="0.95"/><circle cx="128.6" cy="606.4" r="0.95"/><circle cx="127.3" cy="604.9" r="0.95"/><circle cx="124.5" cy="606.1" r="0.95"/><circle cx="126.8" cy="601.7" r="0.95"/><circle cx="127.3" cy="606.3" r="0.95"/><circle cx="121.8" cy="593.1" r="0.95"/><circle cx="130.9" cy="606.8" r="0.95"/><circle cx="122.9" cy="598.9" r="0.95"/><circle cx="121.3" cy="590.1" r="0.95"/><circle cx="128.2" cy="583.5" r="0.95"/><circle cx="118.6" cy="606.8" r="0.95"/><circle cx="120.1" cy="600.4" r="0.95"/><circle cx="129.5" cy="599.5" r="0.95"/><circle cx="126.1" cy="599.6" r="0.95"/><circle cx="123.9" cy="607.0" r="0.95"/><circle cx="127.2" cy="587.3" r="0.95"/><circle cx="123.1" cy="606.2" r="0.95"/><circle cx="120.0" cy="602.0" r="0.95"/><circle cx="129.9" cy="595.6" r="0.95"/><circle cx="130.9" cy="589.1" r="0.95"/><circle cx="128.1" cy="606.9" r="0.95"/><circle cx="189.2" cy="597.3" r="0.95"/><circle cx="184.0" cy="594.7" r="0.95"/><circle cx="189.2" cy="591.5" r="0.95"/><circle cx="184.4" cy="607.0" r="0.95"/><circle cx="184.2" cy="578.8" r="0.95"/><circle cx="194.4" cy="593.2" r="0.95"/><circle cx="184.2" cy="605.5" r="0.95"/><circle cx="186.2" cy="604.0" r="0.95"/><circle cx="190.7" cy="594.2" r="0.95"/><circle cx="187.3" cy="568.5" r="0.95"/><circle cx="185.3" cy="589.9" r="0.95"/><circle cx="191.5" cy="604.0" r="0.95"/><circle cx="196.5" cy="577.5" r="0.95"/><circle cx="195.6" cy="599.4" r="0.95"/><circle cx="196.2" cy="596.7" r="0.95"/><circle cx="187.8" cy="580.9" r="0.95"/><circle cx="189.6" cy="576.6" r="0.95"/><circle cx="184.4" cy="606.7" r="0.95"/><circle cx="186.6" cy="602.3" r="0.95"/><circle cx="192.0" cy="584.2" r="0.95"/><circle cx="191.4" cy="604.3" r="0.95"/><circle cx="195.2" cy="604.8" r="0.95"/><circle cx="185.9" cy="604.7" r="0.95"/><circle cx="189.0" cy="597.1" r="0.95"/><circle cx="191.5" cy="587.2" r="0.95"/><circle cx="185.7" cy="588.5" r="0.95"/><circle cx="191.2" cy="602.2" r="0.95"/><circle cx="193.6" cy="571.1" r="0.95"/><circle cx="192.2" cy="606.0" r="0.95"/><circle cx="191.8" cy="572.8" r="0.95"/><circle cx="189.6" cy="604.6" r="0.95"/><circle cx="187.8" cy="584.5" r="0.95"/><circle cx="194.2" cy="604.0" r="0.95"/><circle cx="191.8" cy="600.5" r="0.95"/><circle cx="184.0" cy="591.0" r="0.95"/><circle cx="187.2" cy="598.5" r="0.95"/><circle cx="193.0" cy="606.9" r="0.95"/><circle cx="186.6" cy="601.5" r="0.95"/><circle cx="260.5" cy="584.3" r="0.95"/><circle cx="255.1" cy="588.9" r="0.95"/><circle cx="251.2" cy="606.2" r="0.95"/><circle cx="260.5" cy="604.7" r="0.95"/><circle cx="259.0" cy="593.1" r="0.95"/><circle cx="252.2" cy="601.0" r="0.95"/><circle cx="253.9" cy="599.8" r="0.95"/><circle cx="260.6" cy="606.0" r="0.95"/><circle cx="256.9" cy="595.8" r="0.95"/><circle cx="248.9" cy="595.4" r="0.95"/><circle cx="250.6" cy="602.7" r="0.95"/><circle cx="259.9" cy="604.9" r="0.95"/><circle cx="253.4" cy="592.4" r="0.95"/><circle cx="257.5" cy="606.0" r="0.95"/><circle cx="254.7" cy="605.4" r="0.95"/><circle cx="261.2" cy="601.6" r="0.95"/><circle cx="259.7" cy="598.1" r="0.95"/><circle cx="250.8" cy="594.9" r="0.95"/><circle cx="254.7" cy="602.6" r="0.95"/><circle cx="261.2" cy="603.5" r="0.95"/><circle cx="255.5" cy="606.8" r="0.95"/><circle cx="250.9" cy="606.5" r="0.95"/><circle cx="253.6" cy="584.7" r="0.95"/><circle cx="249.5" cy="600.0" r="0.95"/><circle cx="260.5" cy="600.8" r="0.95"/><circle cx="250.1" cy="598.4" r="0.95"/><circle cx="260.4" cy="596.8" r="0.95"/><circle cx="255.5" cy="579.1" r="0.95"/><circle cx="261.1" cy="591.9" r="0.95"/><circle cx="257.5" cy="578.6" r="0.95"/><circle cx="258.7" cy="591.5" r="0.95"/><circle cx="250.5" cy="601.5" r="0.95"/><circle cx="252.9" cy="606.5" r="0.95"/><circle cx="257.7" cy="594.5" r="0.95"/><circle cx="258.5" cy="601.4" r="0.95"/><circle cx="261.8" cy="604.0" r="0.95"/><circle cx="256.0" cy="602.7" r="0.95"/><circle cx="250.5" cy="604.6" r="0.95"/><circle cx="259.1" cy="605.0" r="0.95"/><circle cx="253.5" cy="599.6" r="0.95"/><circle cx="255.4" cy="605.6" r="0.95"/><circle cx="258.9" cy="603.6" r="0.95"/><circle cx="251.5" cy="598.8" r="0.95"/><circle cx="252.8" cy="606.5" r="0.95"/><circle cx="256.7" cy="591.3" r="0.95"/><circle cx="250.0" cy="601.1" r="0.95"/><circle cx="255.7" cy="602.2" r="0.95"/><circle cx="258.3" cy="602.4" r="0.95"/><circle cx="249.6" cy="599.7" r="0.95"/><circle cx="255.4" cy="594.2" r="0.95"/><circle cx="256.8" cy="597.1" r="0.95"/><circle cx="256.4" cy="605.6" r="0.95"/><circle cx="250.8" cy="605.6" r="0.95"/><circle cx="248.9" cy="605.6" r="0.95"/><circle cx="256.2" cy="606.9" r="0.95"/><circle cx="253.3" cy="603.9" r="0.95"/><circle cx="257.1" cy="604.4" r="0.95"/><circle cx="250.2" cy="587.5" r="0.95"/><circle cx="254.7" cy="599.9" r="0.95"/><circle cx="254.0" cy="604.7" r="0.95"/><circle cx="258.6" cy="597.8" r="0.95"/><circle cx="255.6" cy="587.7" r="0.95"/><circle cx="259.3" cy="606.6" r="0.95"/><circle cx="257.8" cy="606.1" r="0.95"/><circle cx="249.9" cy="597.4" r="0.95"/><circle cx="260.7" cy="591.7" r="0.95"/><circle cx="259.6" cy="592.4" r="0.95"/><circle cx="251.5" cy="588.2" r="0.95"/><circle cx="261.5" cy="590.4" r="0.95"/><circle cx="259.4" cy="605.1" r="0.95"/><circle cx="260.8" cy="598.7" r="0.95"/><circle cx="254.2" cy="605.6" r="0.95"/><circle cx="258.5" cy="606.2" r="0.95"/><circle cx="252.1" cy="602.0" r="0.95"/><circle cx="260.7" cy="606.4" r="0.95"/><circle cx="255.4" cy="578.7" r="0.95"/><circle cx="252.9" cy="606.3" r="0.95"/><circle cx="252.1" cy="602.7" r="0.95"/><circle cx="248.9" cy="600.3" r="0.95"/><circle cx="258.3" cy="605.8" r="0.95"/><circle cx="255.1" cy="596.3" r="0.95"/><circle cx="261.0" cy="601.1" r="0.95"/><circle cx="254.1" cy="596.8" r="0.95"/><circle cx="252.5" cy="601.9" r="0.95"/><circle cx="250.0" cy="597.0" r="0.95"/><circle cx="254.4" cy="599.9" r="0.95"/><circle cx="259.3" cy="604.3" r="0.95"/><circle cx="259.2" cy="575.6" r="0.95"/><circle cx="251.9" cy="605.8" r="0.95"/><circle cx="253.1" cy="606.3" r="0.95"/><circle cx="256.6" cy="603.8" r="0.95"/><circle cx="251.2" cy="594.4" r="0.95"/><circle cx="260.2" cy="599.4" r="0.95"/><circle cx="253.5" cy="605.1" r="0.95"/><circle cx="257.4" cy="604.8" r="0.95"/><circle cx="256.5" cy="595.1" r="0.95"/><circle cx="255.0" cy="602.1" r="0.95"/><circle cx="259.7" cy="588.2" r="0.95"/><circle cx="252.0" cy="596.3" r="0.95"/><circle cx="260.8" cy="594.1" r="0.95"/><circle cx="254.2" cy="594.7" r="0.95"/><circle cx="256.6" cy="605.3" r="0.95"/><circle cx="252.6" cy="585.2" r="0.95"/><circle cx="248.9" cy="606.0" r="0.95"/><circle cx="255.2" cy="596.7" r="0.95"/><circle cx="249.4" cy="596.9" r="0.95"/><circle cx="259.9" cy="604.3" r="0.95"/><circle cx="257.2" cy="592.0" r="0.95"/><circle cx="250.0" cy="582.4" r="0.95"/><circle cx="255.2" cy="605.4" r="0.95"/><circle cx="253.0" cy="590.4" r="0.95"/><circle cx="258.0" cy="602.7" r="0.95"/><circle cx="259.2" cy="606.8" r="0.95"/><circle cx="259.8" cy="605.0" r="0.95"/><circle cx="260.4" cy="601.8" r="0.95"/><circle cx="253.2" cy="601.9" r="0.95"/><circle cx="261.5" cy="603.7" r="0.95"/><circle cx="259.6" cy="595.8" r="0.95"/><circle cx="260.1" cy="604.7" r="0.95"/><circle cx="254.4" cy="593.8" r="0.95"/><circle cx="260.8" cy="600.6" r="0.95"/><circle cx="256.3" cy="589.2" r="0.95"/><circle cx="257.3" cy="604.1" r="0.95"/><circle cx="249.1" cy="602.2" r="0.95"/><circle cx="258.1" cy="595.9" r="0.95"/><circle cx="249.7" cy="593.4" r="0.95"/><circle cx="258.6" cy="605.6" r="0.95"/><circle cx="254.4" cy="598.9" r="0.95"/><circle cx="252.9" cy="601.5" r="0.95"/><circle cx="250.8" cy="604.2" r="0.95"/><circle cx="261.3" cy="593.8" r="0.95"/><circle cx="261.5" cy="598.6" r="0.95"/><circle cx="258.8" cy="605.5" r="0.95"/><circle cx="253.6" cy="605.3" r="0.95"/><circle cx="256.4" cy="590.6" r="0.95"/><circle cx="257.7" cy="591.3" r="0.95"/><circle cx="254.9" cy="606.8" r="0.95"/><circle cx="260.8" cy="602.9" r="0.95"/><circle cx="250.0" cy="602.9" r="0.95"/><circle cx="258.4" cy="604.1" r="0.95"/><circle cx="255.5" cy="594.3" r="0.95"/><circle cx="251.4" cy="599.4" r="0.95"/><circle cx="251.7" cy="594.7" r="0.95"/><circle cx="261.4" cy="605.5" r="0.95"/><circle cx="254.4" cy="602.8" r="0.95"/><circle cx="252.6" cy="595.0" r="0.95"/><circle cx="261.1" cy="604.7" r="0.95"/><circle cx="256.7" cy="603.0" r="0.95"/><circle cx="251.8" cy="597.0" r="0.95"/><circle cx="260.2" cy="605.2" r="0.95"/><circle cx="251.1" cy="596.3" r="0.95"/><circle cx="259.6" cy="590.8" r="0.95"/><circle cx="251.7" cy="605.9" r="0.95"/><circle cx="256.2" cy="605.3" r="0.95"/><circle cx="259.8" cy="605.3" r="0.95"/><circle cx="260.1" cy="604.0" r="0.95"/><circle cx="252.8" cy="599.0" r="0.95"/><circle cx="256.7" cy="605.4" r="0.95"/><circle cx="248.7" cy="603.5" r="0.95"/><circle cx="259.3" cy="603.9" r="0.95"/><circle cx="261.3" cy="601.9" r="0.95"/><circle cx="250.0" cy="597.0" r="0.95"/><circle cx="252.2" cy="605.0" r="0.95"/><circle cx="259.3" cy="605.8" r="0.95"/><circle cx="259.7" cy="605.4" r="0.95"/><circle cx="250.6" cy="583.9" r="0.95"/><circle cx="258.7" cy="598.7" r="0.95"/><circle cx="260.9" cy="604.9" r="0.95"/><circle cx="259.9" cy="605.3" r="0.95"/><circle cx="258.8" cy="603.6" r="0.95"/><circle cx="257.8" cy="598.7" r="0.95"/><circle cx="255.6" cy="596.5" r="0.95"/><circle cx="251.0" cy="599.3" r="0.95"/><circle cx="253.9" cy="596.4" r="0.95"/><circle cx="260.8" cy="604.1" r="0.95"/><circle cx="249.7" cy="600.2" r="0.95"/><circle cx="258.7" cy="604.2" r="0.95"/><circle cx="254.5" cy="602.0" r="0.95"/><circle cx="259.8" cy="598.4" r="0.95"/><circle cx="250.0" cy="605.3" r="0.95"/><circle cx="256.4" cy="591.6" r="0.95"/><circle cx="252.5" cy="600.2" r="0.95"/><circle cx="261.7" cy="594.0" r="0.95"/><circle cx="250.3" cy="569.8" r="0.95"/><circle cx="259.8" cy="583.0" r="0.95"/><circle cx="254.9" cy="606.6" r="0.95"/><circle cx="255.1" cy="607.0" r="0.95"/><circle cx="257.0" cy="605.0" r="0.95"/><circle cx="252.0" cy="600.7" r="0.95"/><circle cx="259.7" cy="585.1" r="0.95"/><circle cx="249.4" cy="600.5" r="0.95"/><circle cx="258.5" cy="606.9" r="0.95"/><circle cx="249.9" cy="599.5" r="0.95"/><circle cx="252.5" cy="599.5" r="0.95"/><circle cx="249.7" cy="601.7" r="0.95"/><circle cx="255.2" cy="589.3" r="0.95"/><circle cx="249.8" cy="599.5" r="0.95"/><circle cx="251.4" cy="602.5" r="0.95"/><circle cx="251.7" cy="597.6" r="0.95"/><circle cx="261.3" cy="591.6" r="0.95"/><circle cx="256.1" cy="597.1" r="0.95"/><circle cx="253.9" cy="601.5" r="0.95"/><circle cx="260.4" cy="603.6" r="0.95"/><circle cx="250.8" cy="605.4" r="0.95"/><circle cx="255.7" cy="593.9" r="0.95"/><circle cx="250.5" cy="580.5" r="0.95"/><circle cx="260.4" cy="600.7" r="0.95"/><circle cx="255.0" cy="589.9" r="0.95"/><circle cx="252.5" cy="603.1" r="0.95"/><circle cx="257.7" cy="606.8" r="0.95"/><circle cx="254.7" cy="589.3" r="0.95"/><circle cx="261.4" cy="604.0" r="0.95"/><circle cx="259.6" cy="595.2" r="0.95"/><circle cx="252.9" cy="597.4" r="0.95"/><circle cx="259.0" cy="600.5" r="0.95"/><circle cx="255.5" cy="589.1" r="0.95"/><circle cx="248.8" cy="603.4" r="0.95"/><circle cx="251.4" cy="606.8" r="0.95"/><circle cx="260.7" cy="600.1" r="0.95"/><circle cx="252.1" cy="590.5" r="0.95"/><circle cx="249.4" cy="599.9" r="0.95"/><circle cx="260.8" cy="599.4" r="0.95"/><circle cx="255.5" cy="603.6" r="0.95"/><circle cx="259.3" cy="604.8" r="0.95"/><circle cx="249.6" cy="593.0" r="0.95"/><circle cx="257.5" cy="598.9" r="0.95"/><circle cx="252.1" cy="599.9" r="0.95"/><circle cx="251.5" cy="603.4" r="0.95"/><circle cx="257.4" cy="592.3" r="0.95"/><circle cx="261.2" cy="604.1" r="0.95"/><circle cx="251.4" cy="605.2" r="0.95"/><circle cx="250.1" cy="598.3" r="0.95"/><circle cx="257.0" cy="600.4" r="0.95"/><circle cx="261.4" cy="596.6" r="0.95"/><circle cx="260.3" cy="597.2" r="0.95"/><circle cx="256.5" cy="602.2" r="0.95"/><circle cx="252.2" cy="606.7" r="0.95"/><circle cx="260.3" cy="599.3" r="0.95"/><circle cx="260.9" cy="584.2" r="0.95"/><circle cx="260.6" cy="588.8" r="0.95"/><circle cx="258.6" cy="598.4" r="0.95"/><circle cx="255.1" cy="603.3" r="0.95"/><circle cx="258.3" cy="587.7" r="0.95"/><circle cx="254.4" cy="592.7" r="0.95"/><circle cx="250.1" cy="603.1" r="0.95"/><circle cx="254.0" cy="600.3" r="0.95"/><circle cx="253.0" cy="577.9" r="0.95"/><circle cx="250.5" cy="603.1" r="0.95"/><circle cx="258.8" cy="599.8" r="0.95"/><circle cx="257.0" cy="591.6" r="0.95"/><circle cx="251.1" cy="606.0" r="0.95"/><circle cx="249.2" cy="586.2" r="0.95"/><circle cx="249.4" cy="595.0" r="0.95"/><circle cx="255.8" cy="601.3" r="0.95"/><circle cx="259.9" cy="602.9" r="0.95"/><circle cx="257.6" cy="597.4" r="0.95"/><circle cx="259.2" cy="599.5" r="0.95"/><circle cx="250.0" cy="600.1" r="0.95"/><circle cx="257.8" cy="587.1" r="0.95"/><circle cx="257.3" cy="590.4" r="0.95"/><circle cx="257.4" cy="604.2" r="0.95"/><circle cx="254.5" cy="605.2" r="0.95"/><circle cx="254.9" cy="603.9" r="0.95"/><circle cx="248.9" cy="591.8" r="0.95"/><circle cx="261.5" cy="599.5" r="0.95"/><circle cx="253.0" cy="599.9" r="0.95"/><circle cx="260.7" cy="602.7" r="0.95"/><circle cx="255.0" cy="596.9" r="0.95"/><circle cx="261.3" cy="587.8" r="0.95"/><circle cx="253.2" cy="602.5" r="0.95"/><circle cx="260.5" cy="601.7" r="0.95"/><circle cx="256.0" cy="601.2" r="0.95"/><circle cx="257.1" cy="604.4" r="0.95"/><circle cx="250.3" cy="592.9" r="0.95"/><circle cx="250.8" cy="593.1" r="0.95"/><circle cx="256.6" cy="604.6" r="0.95"/><circle cx="257.3" cy="589.2" r="0.95"/><circle cx="256.2" cy="595.5" r="0.95"/><circle cx="252.0" cy="603.8" r="0.95"/><circle cx="250.3" cy="604.7" r="0.95"/><circle cx="248.6" cy="606.6" r="0.95"/><circle cx="257.9" cy="600.2" r="0.95"/><circle cx="256.5" cy="591.1" r="0.95"/><circle cx="249.1" cy="603.9" r="0.95"/><circle cx="260.5" cy="598.7" r="0.95"/><circle cx="253.3" cy="600.7" r="0.95"/><circle cx="257.0" cy="602.7" r="0.95"/><circle cx="254.7" cy="597.8" r="0.95"/><circle cx="248.7" cy="588.5" r="0.95"/><circle cx="251.0" cy="595.3" r="0.95"/><circle cx="254.2" cy="598.0" r="0.95"/><circle cx="253.2" cy="605.5" r="0.95"/><circle cx="253.4" cy="597.1" r="0.95"/><circle cx="255.1" cy="595.9" r="0.95"/><circle cx="251.4" cy="597.4" r="0.95"/><circle cx="250.1" cy="601.0" r="0.95"/><circle cx="249.7" cy="600.7" r="0.95"/><circle cx="250.1" cy="590.3" r="0.95"/><circle cx="251.2" cy="599.3" r="0.95"/><circle cx="260.7" cy="604.2" r="0.95"/><circle cx="249.7" cy="593.0" r="0.95"/><circle cx="260.5" cy="594.2" r="0.95"/><circle cx="255.2" cy="592.8" r="0.95"/><circle cx="258.9" cy="593.0" r="0.95"/><circle cx="248.9" cy="605.1" r="0.95"/><circle cx="258.5" cy="581.3" r="0.95"/><circle cx="260.4" cy="597.8" r="0.95"/><circle cx="252.3" cy="601.9" r="0.95"/><circle cx="258.0" cy="606.1" r="0.95"/><circle cx="255.3" cy="595.3" r="0.95"/><circle cx="260.3" cy="606.7" r="0.95"/><circle cx="253.9" cy="600.1" r="0.95"/><circle cx="260.9" cy="600.0" r="0.95"/><circle cx="259.7" cy="603.3" r="0.95"/><circle cx="256.3" cy="603.5" r="0.95"/><circle cx="257.7" cy="605.9" r="0.95"/><circle cx="253.9" cy="606.6" r="0.95"/><circle cx="258.4" cy="588.5" r="0.95"/><circle cx="257.0" cy="598.1" r="0.95"/><circle cx="259.2" cy="596.2" r="0.95"/><circle cx="256.5" cy="603.3" r="0.95"/><circle cx="255.0" cy="606.5" r="0.95"/><circle cx="259.0" cy="604.5" r="0.95"/><circle cx="254.4" cy="605.6" r="0.95"/><circle cx="259.2" cy="584.0" r="0.95"/><circle cx="257.5" cy="590.8" r="0.95"/><circle cx="251.7" cy="604.6" r="0.95"/><circle cx="255.3" cy="604.6" r="0.95"/><circle cx="255.8" cy="601.3" r="0.95"/><circle cx="257.2" cy="600.6" r="0.95"/><circle cx="254.3" cy="598.9" r="0.95"/><circle cx="256.0" cy="603.5" r="0.95"/><circle cx="252.3" cy="601.1" r="0.95"/><circle cx="249.7" cy="599.2" r="0.95"/><circle cx="257.1" cy="566.5" r="0.95"/><circle cx="252.6" cy="603.5" r="0.95"/><circle cx="256.8" cy="602.6" r="0.95"/><circle cx="249.3" cy="605.5" r="0.95"/><circle cx="252.2" cy="604.9" r="0.95"/><circle cx="257.0" cy="600.4" r="0.95"/><circle cx="252.9" cy="603.6" r="0.95"/><circle cx="260.1" cy="599.0" r="0.95"/><circle cx="255.3" cy="594.3" r="0.95"/><circle cx="259.5" cy="604.2" r="0.95"/><circle cx="251.2" cy="605.8" r="0.95"/><circle cx="258.3" cy="590.2" r="0.95"/><circle cx="258.3" cy="604.4" r="0.95"/><circle cx="251.8" cy="604.0" r="0.95"/><circle cx="255.2" cy="604.9" r="0.95"/><circle cx="255.2" cy="593.9" r="0.95"/><circle cx="249.5" cy="603.7" r="0.95"/><circle cx="256.2" cy="595.4" r="0.95"/><circle cx="260.1" cy="594.2" r="0.95"/><circle cx="261.0" cy="604.6" r="0.95"/><circle cx="254.1" cy="604.1" r="0.95"/><circle cx="258.4" cy="602.4" r="0.95"/><circle cx="249.4" cy="602.8" r="0.95"/><circle cx="257.1" cy="606.5" r="0.95"/><circle cx="258.0" cy="603.6" r="0.95"/><circle cx="254.7" cy="602.2" r="0.95"/><circle cx="259.7" cy="605.5" r="0.95"/><circle cx="252.1" cy="591.7" r="0.95"/><circle cx="253.5" cy="604.4" r="0.95"/><circle cx="248.7" cy="583.1" r="0.95"/><circle cx="250.8" cy="591.7" r="0.95"/><circle cx="260.5" cy="606.9" r="0.95"/><circle cx="248.8" cy="600.1" r="0.95"/><circle cx="251.5" cy="599.2" r="0.95"/><circle cx="251.0" cy="591.0" r="0.95"/><circle cx="257.6" cy="593.9" r="0.95"/><circle cx="256.6" cy="602.5" r="0.95"/><circle cx="257.8" cy="597.6" r="0.95"/><circle cx="257.8" cy="602.1" r="0.95"/><circle cx="251.3" cy="589.2" r="0.95"/><circle cx="253.0" cy="603.5" r="0.95"/><circle cx="261.5" cy="598.5" r="0.95"/><circle cx="252.9" cy="587.8" r="0.95"/><circle cx="251.2" cy="595.8" r="0.95"/><circle cx="253.9" cy="599.3" r="0.95"/><circle cx="251.7" cy="604.3" r="0.95"/><circle cx="250.2" cy="599.4" r="0.95"/><circle cx="260.1" cy="601.1" r="0.95"/><circle cx="253.1" cy="601.4" r="0.95"/><circle cx="250.6" cy="601.9" r="0.95"/><circle cx="259.1" cy="605.8" r="0.95"/><circle cx="251.6" cy="588.6" r="0.95"/><circle cx="254.6" cy="565.1" r="0.95"/><circle cx="251.8" cy="585.3" r="0.95"/><circle cx="261.7" cy="559.8" r="0.95"/><circle cx="249.5" cy="592.0" r="0.95"/><circle cx="251.3" cy="558.7" r="0.95"/><circle cx="258.6" cy="588.6" r="0.95"/><circle cx="249.0" cy="586.5" r="0.95"/><circle cx="254.5" cy="571.6" r="0.95"/><circle cx="258.6" cy="587.9" r="0.95"/><circle cx="253.8" cy="585.6" r="0.95"/><circle cx="251.6" cy="568.7" r="0.95"/><circle cx="257.2" cy="587.4" r="0.95"/><circle cx="255.4" cy="589.5" r="0.95"/><circle cx="256.6" cy="580.2" r="0.95"/><circle cx="252.5" cy="571.1" r="0.95"/><circle cx="261.0" cy="591.9" r="0.95"/><circle cx="255.1" cy="588.8" r="0.95"/><circle cx="255.8" cy="590.0" r="0.95"/><circle cx="250.9" cy="583.8" r="0.95"/><circle cx="250.2" cy="568.7" r="0.95"/><circle cx="261.4" cy="572.3" r="0.95"/><circle cx="258.1" cy="589.5" r="0.95"/><circle cx="258.6" cy="582.1" r="0.95"/><circle cx="250.0" cy="568.4" r="0.95"/><circle cx="256.8" cy="579.9" r="0.95"/><circle cx="257.3" cy="578.6" r="0.95"/><circle cx="254.5" cy="590.1" r="0.95"/><circle cx="257.3" cy="592.4" r="0.95"/><circle cx="261.1" cy="592.2" r="0.95"/><circle cx="254.8" cy="571.5" r="0.95"/><circle cx="259.3" cy="561.9" r="0.95"/><circle cx="261.7" cy="586.4" r="0.95"/><circle cx="254.5" cy="586.9" r="0.95"/><circle cx="256.4" cy="590.1" r="0.95"/><circle cx="252.7" cy="579.7" r="0.95"/><circle cx="251.0" cy="588.4" r="0.95"/><circle cx="261.3" cy="584.0" r="0.95"/><circle cx="256.4" cy="584.1" r="0.95"/><circle cx="255.2" cy="590.9" r="0.95"/><circle cx="259.5" cy="560.5" r="0.95"/><circle cx="254.7" cy="565.5" r="0.95"/><circle cx="256.2" cy="567.3" r="0.95"/><circle cx="260.8" cy="587.7" r="0.95"/><circle cx="255.9" cy="586.5" r="0.95"/><circle cx="259.6" cy="572.1" r="0.95"/>
</g>
<rect x="45.1" y="546.6" width="260.9" height="193.9" fill="none" stroke="#151515" stroke-width="1.3"/>
<path d="M45.1,738.84h-2.2M45.1,735.20h-2.2M45.1,732.38h-2.2M45.1,730.07h-2.2M45.1,728.12h-2.2M45.1,726.42h-2.2M45.1,724.93h-2.2M45.1,723.60h-3.3M45.1,714.82h-2.2M45.1,709.69h-2.2M45.1,706.05h-2.2M45.1,703.23h-2.2M45.1,700.92h-2.2M45.1,698.97h-2.2M45.1,697.27h-2.2M45.1,695.78h-2.2M45.1,694.45h-3.3M45.1,685.67h-2.2M45.1,680.54h-2.2M45.1,676.90h-2.2M45.1,674.08h-2.2M45.1,671.77h-2.2M45.1,669.82h-2.2M45.1,668.12h-2.2M45.1,666.63h-2.2M45.1,665.30h-3.3M45.1,656.52h-2.2M45.1,651.39h-2.2M45.1,647.75h-2.2M45.1,644.93h-2.2M45.1,642.62h-2.2M45.1,640.67h-2.2M45.1,638.97h-2.2M45.1,637.48h-2.2M45.1,636.15h-3.3M45.1,627.37h-2.2M45.1,622.24h-2.2M45.1,618.60h-2.2M45.1,615.78h-2.2M45.1,613.47h-2.2M45.1,611.52h-2.2M45.1,609.82h-2.2M45.1,608.33h-2.2M45.1,607.00h-3.3M45.1,598.22h-2.2M45.1,593.09h-2.2M45.1,589.45h-2.2M45.1,586.63h-2.2M45.1,584.32h-2.2M45.1,582.37h-2.2M45.1,580.67h-2.2M45.1,579.18h-2.2M45.1,577.85h-3.3M45.1,569.07h-2.2M45.1,563.94h-2.2M45.1,560.30h-2.2M45.1,557.48h-2.2M45.1,555.17h-2.2M45.1,553.22h-2.2M45.1,551.52h-2.2M45.1,550.03h-2.2M45.1,548.70h-3.3" stroke="#111" stroke-width="1.0" fill="none"/>
<text x="38.5" y="551.1" font-size="6.8" text-anchor="end" fill="#333">1000</text>
<text x="38.5" y="580.2" font-size="6.8" text-anchor="end" fill="#333">100</text>
<text x="38.5" y="609.4" font-size="6.8" text-anchor="end" fill="#333">10</text>
<text x="38.5" y="638.5" font-size="6.8" text-anchor="end" fill="#333">1</text>
<text x="38.5" y="667.7" font-size="6.8" text-anchor="end" fill="#333">0.1</text>
<text x="38.5" y="696.9" font-size="6.8" text-anchor="end" fill="#333">0.01</text>
<path d="M78.0,740.5v3.4" stroke="#1a1a1a" stroke-width="0.9"/>
<text x="78.0" y="753.8" font-size="7.1" text-anchor="middle" fill="#222">KCL22</text>
<path d="M142.6,740.5v3.4" stroke="#1a1a1a" stroke-width="0.9"/>
<text x="142.6" y="753.8" font-size="7.1" text-anchor="middle" fill="#222">K562</text>
<path d="M207.6,740.5v3.4" stroke="#1a1a1a" stroke-width="0.9"/>
<text x="207.6" y="753.8" font-size="7.1" text-anchor="middle" fill="#222">PDX3</text>
<path d="M272.6,740.5v3.4" stroke="#1a1a1a" stroke-width="0.9"/>
<text x="272.6" y="753.8" font-size="7.1" text-anchor="middle" fill="#222">PDX1</text>
<circle cx="55.5" cy="706.8" r="2.4" fill="#333"/>
<text x="61.2" y="709.3" font-size="7" fill="#222">Repeat 1</text>
<circle cx="55.5" cy="718.2" r="2.4" fill="#858585"/>
<text x="61.2" y="720.7" font-size="7" fill="#222">Repeat 2</text>
<circle cx="55.5" cy="729.6" r="2.4" fill="#c8c8c8"/>
<text x="61.2" y="732.1" font-size="7" fill="#222">Repeat 3</text>
<text transform="translate(15.4 643.5) rotate(-90)" font-size="8.8" text-anchor="middle" fill="#222" stroke="#222" stroke-width="0.25" textLength="76" lengthAdjust="spacingAndGlyphs">Distance to surface (µm)</text>
</svg></body></html>
